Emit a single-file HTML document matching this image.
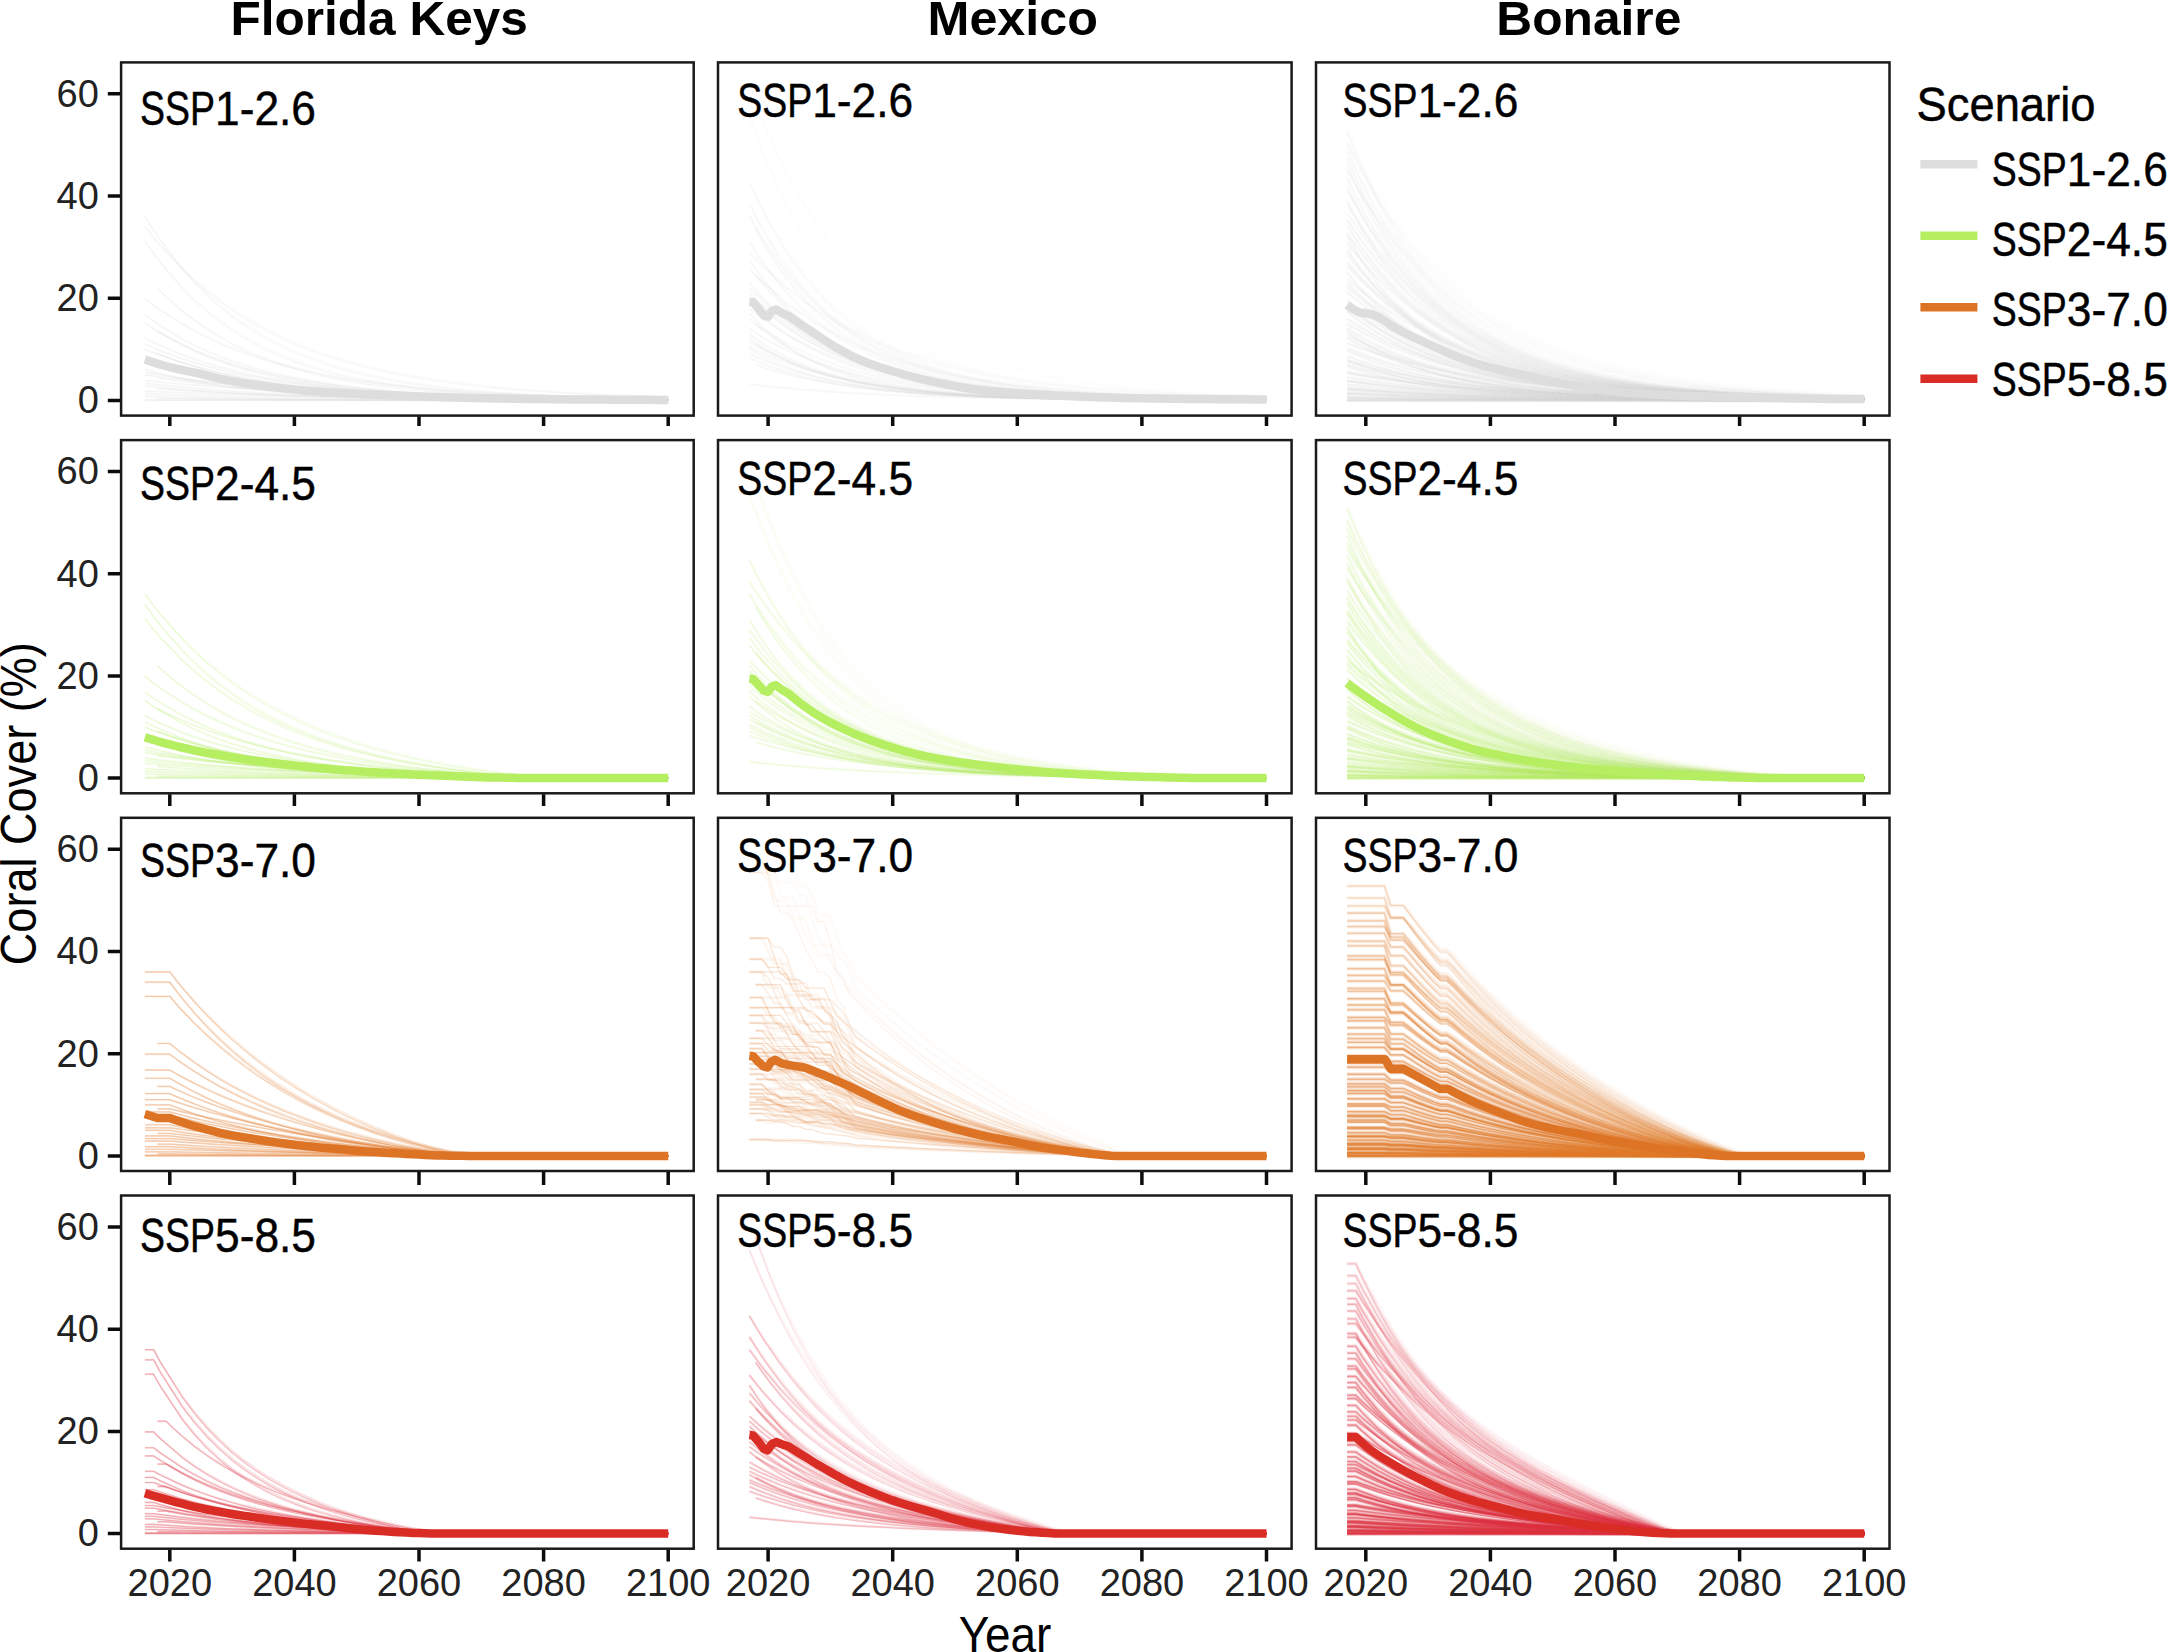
<!DOCTYPE html>
<html lang="en"><head><meta charset="utf-8"><title>Coral cover projections</title>
<style>html,body{margin:0;padding:0;background:#fff}svg{display:block}.t{fill:none;stroke-linejoin:round}.t path{vector-effect:non-scaling-stroke}</style></head>
<body>
<svg width="2168" height="1652" viewBox="0 0 2168 1652">
<title>Projected coral cover by scenario for Florida Keys, Mexico and Bonaire</title>
<desc>Panels: Florida Keys, Mexico, Bonaire. Scenario: SSP1-2.6, SSP2-4.5, SSP3-7.0, SSP5-8.5. Axes: Year, Coral Cover (%).</desc>
<rect width="2168" height="1652" fill="#fff"/>
<g class="t" transform="translate(169.8 400.4) scale(6.23 -5.11)" stroke="#d4d4d4"><g stroke-opacity=".09" stroke-width="2.0"><path d="M-4 36l1.4-2.65 1.1-1.95 3.5-5.47 2-2.69 2-2.41 2-2.16 2-1.93 2-1.74 2-1.55 2-1.4 2-1.25 2-1.12 2-1 2-.9 2-.81 2-.72 2-.65 3-.84 3-.72 3-.62 3-.51 3-.44 3-.38 3-.31 3-.27 3-.23 3-.19 3-.17 3-.14 3-.12 3-.1 3-.08 3-.07 2-.05"/><path d="M-4 34l1.4-2.1 1.1-1.56 3.5-4.47 2-2.25 2-2.05 2-1.88 2-1.71 2-1.57 2-1.43 2-1.3 2-1.19 2-1.09 2-.99 2-.91 2-.82 2-.76 2-.69 3-.92 3-.81 3-.7 3-.61 3-.54 3-.46 3-.41 3-.35 3-.31 3-.27 3-.24 3-.21 3-.17 3-.16 3-.14 3-.12 2-.07"/><path d="M-4 31.2l1.4-2.41 1.1-1.76 3.5-4.92 2-2.4 2-2.13 2-1.91 2-1.7 2-1.51 2-1.36 2-1.2 2-1.07 2-.96 2-.85 2-.76 2-.68 2-.61 2-.54 3-.7 3-.59 3-.5 3-.41 3-.36 3-.29 3-.25 3-.21 3-.18 3-.15 3-.12 3-.11 3-.09 3-.07 3-.07 3-.05 2-.03"/><path d="M-2 22l1.4-1.67 1.1-1.22 1.5-1.54 2-1.87 2-1.67 2-1.5 2-1.33 2-1.19 2-1.07 2-.95 2-.85 2-.76 2-.68 2-.6 2-.55 2-.48 2-.43 3-.57 3-.48 3-.4 3-.34 3-.29 3-.24 3-.2 3-.18 3-.14 3-.13 3-.1 3-.09 3-.07 3-.07 3-.05 3-.05 2-.02"/><path d="M-4 19.9l1.4-1.26 1.1-.94 3.5-2.68 2-1.34 2-1.23 2-1.11 2-1.02 2-.92 2-.84 2-.77 2-.7 2-.63 2-.58 2-.53 2-.47 2-.44 2-.4 3-.53 3-.46 3-.4 3-.35 3-.3 3-.26 3-.23 3-.2 3-.17 3-.15 3-.13 3-.11 3-.1 3-.09 3-.07 3-.06 2-.04"/><path d="M-4 16.8l1.4-1.24 1.1-.91 3.5-2.55 2-1.25 2-1.13 2-1 2-.91 2-.8 2-.73 2-.65 2-.58 2-.53 2-.47 2-.42 2-.37 2-.34 2-.3 3-.4 3-.33 3-.29 3-.24 3-.21 3-.17 3-.15 3-.13 3-.1 3-.09 3-.08 3-.06 3-.06 3-.05 3-.04 3-.03 2-.02"/><path d="M-4 15.2l1.4-1.15 1.1-.84 3.5-2.36 2-1.15 2-1.03 2-.92 2-.82 2-.74 2-.66 2-.58 2-.53 2-.47 2-.42 2-.37 2-.34 2-.3 2-.27 3-.35 3-.29 3-.25 3-.21 3-.18 3-.15 3-.13 3-.1 3-.1 3-.07 3-.07 3-.05 3-.05 3-.04 3-.03 3-.03 2-.01"/><path d="M-2 13.6l1.4-.97 1.1-.72 1.5-.91 2-1.1 2-1 2-.89 2-.81 2-.72 2-.65 2-.59 2-.53 2-.47 2-.43 2-.38 2-.34 2-.31 2-.28 3-.37 3-.31 3-.27 3-.23 3-.19 3-.17 3-.14 3-.12 3-.1 3-.09 3-.08 3-.06 3-.05 3-.05 3-.04 3-.03 2-.02"/><path d="M-4 12.2l1.4-.84 1.1-.62 3.5-1.75 2-.87 2-.79 2-.71 2-.64 2-.58 2-.52 2-.48 2-.42 2-.39 2-.35 2-.31 2-.28 2-.26 2-.23 3-.31 3-.26 3-.23 3-.19 3-.16 3-.15 3-.12 3-.1 3-.09 3-.08 3-.07 3-.06 3-.04 3-.05 3-.03 3-.03 2-.02"/><path d="M-4 11l1.4-.73 1.1-.54 3.5-1.53 2-.76 2-.69 2-.63 2-.57 2-.52 2-.47 2-.42 2-.39 2-.35 2-.31 2-.29 2-.26 2-.24 2-.21 3-.29 3-.24 3-.22 3-.18 3-.16 3-.13 3-.12 3-.1 3-.09 3-.08 3-.06 3-.06 3-.05 3-.04 3-.04 3-.03 2-.02"/><path d="M-4 10l1.4-.67 1.1-.5 3.5-1.41 2-.7 2-.64 2-.58 2-.52 2-.47 2-.43 2-.38 2-.35 2-.32 2-.29 2-.26 2-.23 2-.22 2-.19 3-.25 3-.22 3-.19 3-.17 3-.14 3-.12 3-.1 3-.09 3-.08 3-.07 3-.05 3-.05 3-.05 3-.03 3-.03 3-.03 2-.02"/><path d="M-2 9.2l1.4-.67 1.1-.48 1.5-.63 2-.75 2-.68 2-.61 2-.54 2-.5 2-.44 2-.39 2-.36 2-.32 2-.29 2-.26 2-.23 2-.21 2-.18 3-.25 3-.21 3-.18 3-.15 3-.13 3-.11 3-.09 3-.08 3-.07 3-.06 3-.05 3-.04 3-.04 3-.03 3-.02 3-.02 2-.02"/><path d="M-4 8.6l1.4-.6 1.1-.44 3.5-1.24 2-.62 2-.56 2-.5 2-.45 2-.41 2-.37 2-.33 2-.31 2-.27 2-.24 2-.22 2-.2 2-.18 2-.16 3-.22 3-.18 3-.16 3-.13 3-.12 3-.1 3-.08 3-.07 3-.07 3-.05 3-.05 3-.03 3-.04 3-.03 3-.02 3-.02 2-.02"/><path d="M-4 8l1.4-.54 1.1-.4 3.5-1.13 2-.57 2-.51 2-.46 2-.42 2-.38 2-.34 2-.31 2-.28 2-.25 2-.23 2-.21 2-.19 2-.17 2-.15 3-.2 3-.18 3-.15 3-.13 3-.11 3-.1 3-.08 3-.07 3-.06 3-.05 3-.05 3-.04 3-.03 3-.03 3-.03 3-.02 2-.01"/><path d="M-4 7.4l1.4-.52 1.1-.38 3.5-1.08 2-.53 2-.48 2-.44 2-.39 2-.35 2-.32 2-.29 2-.26 2-.23 2-.21 2-.19 2-.17 2-.15 2-.14 3-.18 3-.16 3-.13 3-.12 3-.1 3-.08 3-.07 3-.06 3-.06 3-.04 3-.04 3-.03 3-.03 3-.03 3-.02 3-.01 2-.02"/><path d="M-2 6.8l1.4-.49 1.1-.37 1.5-.46 2-.55 2-.51 2-.45 2-.4 2-.37 2-.32 2-.3 2-.26 2-.24 2-.21 2-.19 2-.17 2-.15 2-.14 3-.18 3-.16 3-.13 3-.11 3-.1 3-.08 3-.07 3-.05 3-.05 3-.05 3-.03 3-.03 3-.03 3-.02 3-.02 3-.02 2-.01"/><path d="M-4 6.1l1.4-.49 1.1-.35 3.5-.99 2-.48 2-.42 2-.38 2-.34 2-.29 2-.27 2-.23 2-.21 2-.19 2-.16 2-.15 2-.12 2-.12 2-.1 3-.13 3-.11 3-.1 3-.07 3-.07 3-.05 3-.05 3-.04 3-.03 3-.02 3-.03 3-.01 3-.02 3-.01 3-.01 3-.01 2-.01"/><path d="M-4 5.5l1.4-.29 1.1-.22 3.5-.64 2-.33 2-.31 2-.28 2-.26 2-.24 2-.22 2-.2 2-.19 2-.18 2-.16 2-.15 2-.14 2-.12 2-.12 3-.16 3-.15 3-.12 3-.12 3-.1 3-.09 3-.08 3-.07 3-.06 3-.05 3-.05 3-.05 3-.04 3-.03 3-.03 3-.03 2-.02"/><path d="M-4 5l1.4-.23 1.1-.18 3.5-.51 2-.27 2-.25 2-.23 2-.22 2-.2 2-.19 2-.18 2-.17 2-.15 2-.15 2-.13 2-.13 2-.12 2-.11 3-.15 3-.14 3-.12 3-.12 3-.1 3-.09 3-.08 3-.08 3-.07 3-.06 3-.05 3-.05 3-.05 3-.04 3-.04 3-.03 2-.02"/><path d="M-2 4.4l1.4-.25 1.1-.18 1.5-.24 2-.3 2-.27 2-.26 2-.23 2-.21 2-.2 2-.18 2-.16 2-.16 2-.14 2-.13 2-.11 2-.11 2-.1 3-.14 3-.12 3-.11 3-.09 3-.09 3-.07 3-.06 3-.06 3-.05 3-.04 3-.04 3-.04 3-.03 3-.03 3-.02 3-.02 2-.01"/><path d="M-4 3.9l1.4-.17 1.1-.14 3.5-.39 2-.2 2-.19 2-.18 2-.17 2-.15 2-.15 2-.14 2-.12 2-.12 2-.12 2-.1 2-.1 2-.09 2-.09 3-.12 3-.11 3-.1 3-.09 3-.08 3-.07 3-.07 3-.06 3-.05 3-.05 3-.05 3-.04 3-.03 3-.04 3-.03 3-.02 2-.02"/><path d="M-4 3.4l1.4-.2 1.1-.16 3.5-.43 2-.22 2-.21 2-.18 2-.17 2-.15 2-.15 2-.13 2-.12 2-.1 2-.1 2-.09 2-.09 2-.07 2-.07 3-.1 3-.08 3-.07 3-.07 3-.05 3-.05 3-.04 3-.04 3-.03 3-.03 3-.02 3-.03 3-.02 3-.01 3-.02 3-.01 2-.01"/><path d="M-4 2.9l1.4-.19 1.1-.13 3.5-.4 2-.2 2-.18 2-.16 2-.15 2-.13 2-.13 2-.11 2-.1 2-.09 2-.09 2-.07 2-.07 2-.07 2-.05 3-.08 3-.07 3-.05 3-.05 3-.05 3-.03 3-.04 3-.03 3-.02 3-.02 3-.02 3-.02 3-.01 3-.01 3-.01 3-.01 2-.01"/><path d="M-2 2.3l1.4-.13 1.1-.09 1.5-.13 2-.15 2-.14 2-.14 2-.12 2-.11 2-.1 2-.09 2-.09 2-.08 2-.07 2-.07 2-.06 2-.06 2-.05 3-.07 3-.07 3-.05 3-.05 3-.05 3-.04 3-.03 3-.03 3-.03 3-.02 3-.02 3-.02 3-.02 3-.01 3-.01 3-.01 2-.01"/><path d="M-4 1.8l1.4-.08 1.1-.06 3.5-.18 2-.1 2-.08 2-.09 2-.07 2-.08 2-.06 2-.07 2-.06 2-.05 2-.05 2-.05 2-.05 2-.04 2-.04 3-.06 3-.05 3-.04 3-.04 3-.04 3-.03 3-.03 3-.03 3-.03 3-.02 3-.02 3-.02 3-.02 3-.01 3-.02 3-.01 2-.01"/><path d="M-4 1.3l1.4-.07 1.1-.06 3.5-.16 2-.08 2-.07 2-.07 2-.06 2-.06 2-.05 2-.05 2-.05 2-.04 2-.04 2-.03 2-.04 2-.02 2-.03 3-.04 3-.03 3-.03 3-.03 3-.02 3-.02 3-.02 3-.01 3-.02 3-.01 3-.01 3-.01 3-.01h3l3-.01 3-.01h2"/><path d="M-4 .8l1.4-.05 1.1-.05 3.5-.11 2-.06 2-.05 2-.05 2-.04 2-.03 2-.04 2-.03 2-.03 2-.02 2-.03 2-.02 2-.02 2-.01 2-.02 3-.02 3-.02 3-.01 3-.01 3-.01 3-.01 3-.01 3-.01h3l3-.01h3l3-.01h3h3l3-.01h3h2"/><path d="M-2 .4l1.4-.02 1.1-.01 1.5-.02 2-.03 2-.02 2-.02 2-.02 2-.02 2-.02 2-.01 2-.02 2-.01 2-.01 2-.01 2-.01 2-.01 2-.01 3-.02 3-.01 3-.01 3-.01 3-.01h3l3-.01 3-.01h3l3-.01h3l3-.01h3h3l3-.01h3h2"/><path d="M-4 .15l1.4-.01 1.1-.01 3.5-.01 2-.01 2-.01 2-.01 2-.01h2l2-.01 2-.01h2l2-.01h2h2l2-.01h2h2l3-.01h3l3-.01h3h3h3l3-.01h3h3h3h3h3h3h3h3l3-.01h2"/><path d="M-4 0h84"/></g><g stroke-opacity=".17" stroke-width="1.2"><path d="M-4 36l1.4-2.73 1.1-2 3.5-5.61 2-2.73 2-2.45 2-2.18 2-1.96 2-1.74 2-1.56 2-1.39 2-1.24 2-1.11 2-.99 2-.89 2-.79 2-.71 2-.63 3-.82 3-.7 3-.59 3-.49 3-.42 3-.35 3-.3 3-.25 3-.22 3-.18 3-.15 3-.13 3-.1 3-.09 3-.08 3-.07 2-.03"/><path d="M-4 34l1.4-2.16 1.1-1.6 3.5-4.58 2-2.3 2-2.1 2-1.9 2-1.74 2-1.57 2-1.44 2-1.31 2-1.19 2-1.09 2-.98 2-.9 2-.82 2-.75 2-.68 3-.9 3-.79 3-.68 3-.59 3-.52 3-.45 3-.39 3-.33 3-.3 3-.25 3-.22 3-.2 3-.16 3-.15 3-.13 3-.11 2-.06"/><path d="M-4 31.2l1.4-2.48 1.1-1.81 3.5-5.03 2-2.45 2-2.16 2-1.93 2-1.71 2-1.52 2-1.35 2-1.21 2-1.06 2-.95 2-.84 2-.75 2-.66 2-.59 2-.53 3-.68 3-.56 3-.48 3-.4 3-.33 3-.28 3-.24 3-.19 3-.17 3-.13 3-.12 3-.09 3-.08 3-.07 3-.06 3-.05 2-.02"/><path d="M-2 22l1.4-1.72 1.1-1.25 1.5-1.58 2-1.92 2-1.7 2-1.51 2-1.35 2-1.2 2-1.07 2-.95 2-.85 2-.76 2-.67 2-.6 2-.53 2-.48 2-.42 3-.55 3-.46 3-.39 3-.33 3-.27 3-.23 3-.19 3-.16 3-.14 3-.12 3-.09 3-.08 3-.07 3-.06 3-.05 3-.04 2-.02"/><path d="M-4 19.9l1.4-1.3 1.1-.97 3.5-2.74 2-1.37 2-1.25 2-1.13 2-1.02 2-.94 2-.84 2-.77 2-.7 2-.63 2-.58 2-.52 2-.47 2-.43 2-.39 3-.52 3-.45 3-.39 3-.34 3-.29 3-.25 3-.22 3-.18 3-.17 3-.14 3-.12 3-.1 3-.1 3-.07 3-.07 3-.06 2-.04"/><path d="M-4 16.8l1.4-1.27 1.1-.94 3.5-2.61 2-1.28 2-1.14 2-1.02 2-.91 2-.81 2-.73 2-.65 2-.58 2-.52 2-.46 2-.41 2-.37 2-.33 2-.3 3-.38 3-.33 3-.27 3-.23 3-.2 3-.16 3-.14 3-.12 3-.1 3-.08 3-.08 3-.06 3-.05 3-.04 3-.03 3-.03 2-.02"/><path d="M-4 15.2l1.4-1.18 1.1-.87 3.5-2.41 2-1.17 2-1.05 2-.93 2-.83 2-.74 2-.66 2-.58 2-.53 2-.46 2-.41 2-.37 2-.33 2-.3 2-.26 3-.33 3-.29 3-.24 3-.2 3-.17 3-.14 3-.12 3-.1 3-.08 3-.08 3-.06 3-.05 3-.04 3-.03 3-.03 3-.03 2-.01"/><path d="M-2 13.6l1.4-1 1.1-.74 1.5-.93 2-1.13 2-1.01 2-.91 2-.82 2-.73 2-.65 2-.59 2-.53 2-.47 2-.42 2-.38 2-.34 2-.31 2-.27 3-.36 3-.3 3-.26 3-.22 3-.19 3-.15 3-.14 3-.11 3-.1 3-.08 3-.07 3-.06 3-.05 3-.04 3-.04 3-.03 2-.02"/><path d="M-4 12.2l1.4-.86 1.1-.64 3.5-1.8 2-.88 2-.8 2-.72 2-.65 2-.58 2-.53 2-.47 2-.43 2-.38 2-.35 2-.31 2-.28 2-.25 2-.22 3-.3 3-.26 3-.21 3-.19 3-.16 3-.13 3-.12 3-.1 3-.08 3-.08 3-.06 3-.05 3-.05 3-.03 3-.04 3-.03 2-.01"/><path d="M-4 11l1.4-.75 1.1-.55 3.5-1.57 2-.78 2-.7 2-.64 2-.58 2-.52 2-.47 2-.43 2-.38 2-.35 2-.31 2-.29 2-.25 2-.24 2-.21 3-.28 3-.23 3-.21 3-.18 3-.15 3-.13 3-.11 3-.1 3-.08 3-.07 3-.06 3-.06 3-.04 3-.04 3-.03 3-.03 2-.02"/><path d="M-4 10l1.4-.69 1.1-.51 3.5-1.45 2-.72 2-.64 2-.59 2-.52 2-.48 2-.43 2-.39 2-.35 2-.31 2-.29 2-.25 2-.23 2-.21 2-.19 3-.25 3-.22 3-.18 3-.16 3-.13 3-.12 3-.09 3-.09 3-.07 3-.07 3-.05 3-.04 3-.04 3-.04 3-.03 3-.02 2-.02"/><path d="M-2 9.2l1.4-.68 1.1-.51 1.5-.63 2-.78 2-.69 2-.62 2-.55 2-.5 2-.44 2-.4 2-.35 2-.32 2-.29 2-.25 2-.23 2-.21 2-.18 3-.24 3-.2 3-.18 3-.14 3-.12 3-.11 3-.09 3-.07 3-.07 3-.05 3-.05 3-.04 3-.03 3-.03 3-.02 3-.02 2-.01"/><path d="M-4 8.6l1.4-.62 1.1-.45 3.5-1.27 2-.63 2-.57 2-.51 2-.46 2-.41 2-.37 2-.33 2-.3 2-.27 2-.24 2-.22 2-.2 2-.17 2-.16 3-.21 3-.18 3-.15 3-.13 3-.11 3-.09 3-.08 3-.07 3-.06 3-.05 3-.04 3-.04 3-.03 3-.03 3-.02 3-.02 2-.01"/><path d="M-4 8l1.4-.56 1.1-.41 3.5-1.16 2-.57 2-.52 2-.47 2-.42 2-.39 2-.34 2-.31 2-.28 2-.25 2-.23 2-.2 2-.19 2-.16 2-.16 3-.19 3-.17 3-.15 3-.12 3-.11 3-.09 3-.08 3-.07 3-.06 3-.05 3-.04 3-.03 3-.03 3-.03 3-.02 3-.02 2-.01"/><path d="M-4 7.4l1.4-.53 1.1-.4 3.5-1.1 2-.55 2-.48 2-.44 2-.4 2-.35 2-.32 2-.29 2-.26 2-.23 2-.21 2-.18 2-.17 2-.15 2-.14 3-.18 3-.15 3-.13 3-.11 3-.09 3-.08 3-.07 3-.06 3-.05 3-.04 3-.03 3-.03 3-.03 3-.02 3-.02 3-.02 2-.01"/><path d="M-2 6.8l1.4-.51 1.1-.37 1.5-.47 2-.57 2-.52 2-.45 2-.41 2-.37 2-.33 2-.29 2-.27 2-.23 2-.21 2-.19 2-.17 2-.15 2-.14 3-.17 3-.15 3-.13 3-.11 3-.09 3-.07 3-.07 3-.05 3-.05 3-.04 3-.03 3-.03 3-.03 3-.02 3-.01 3-.02 2-.01"/><path d="M-4 6.1l1.4-.5 1.1-.37 3.5-1.01 2-.48 2-.43 2-.39 2-.33 2-.3 2-.27 2-.23 2-.21 2-.18 2-.16 2-.14 2-.13 2-.11 2-.1 3-.13 3-.1 3-.09 3-.08 3-.06 3-.05 3-.04 3-.04 3-.02 3-.03 3-.02 3-.02 3-.01 3-.01 3-.01 3-.01h2"/><path d="M-4 5.5l1.4-.3 1.1-.23 3.5-.66 2-.33 2-.31 2-.29 2-.26 2-.24 2-.23 2-.2 2-.19 2-.18 2-.16 2-.15 2-.14 2-.12 2-.12 3-.16 3-.14 3-.13 3-.11 3-.09 3-.09 3-.08 3-.06 3-.06 3-.06 3-.04 3-.05 3-.03 3-.04 3-.03 3-.02 2-.02"/><path d="M-4 5l1.4-.24 1.1-.18 3.5-.52 2-.28 2-.25 2-.24 2-.22 2-.21 2-.19 2-.18 2-.17 2-.16 2-.14 2-.14 2-.13 2-.11 2-.11 3-.16 3-.13 3-.13 3-.11 3-.1 3-.09 3-.08 3-.07 3-.07 3-.05 3-.06 3-.05 3-.04 3-.04 3-.03 3-.03 2-.02"/><path d="M-2 4.4l1.4-.26 1.1-.19 1.5-.24 2-.31 2-.28 2-.25 2-.24 2-.21 2-.2 2-.18 2-.17 2-.15 2-.15 2-.12 2-.12 2-.11 2-.1 3-.14 3-.12 3-.1 3-.09 3-.08 3-.07 3-.06 3-.06 3-.05 3-.04 3-.04 3-.03 3-.03 3-.02 3-.03 3-.02 2-.01"/><path d="M-4 3.9l1.4-.18 1.1-.14 3.5-.4 2-.2 2-.2 2-.18 2-.17 2-.16 2-.15 2-.14 2-.13 2-.12 2-.11 2-.11 2-.1 2-.09 2-.08 3-.12 3-.11 3-.1 3-.09 3-.08 3-.07 3-.06 3-.06 3-.05 3-.05 3-.04 3-.04 3-.04 3-.03 3-.03 3-.03 2-.01"/><path d="M-4 3.4l1.4-.21 1.1-.16 3.5-.44 2-.23 2-.21 2-.18 2-.17 2-.16 2-.14 2-.13 2-.12 2-.11 2-.1 2-.09 2-.08 2-.08 2-.07 3-.09 3-.08 3-.07 3-.06 3-.06 3-.04 3-.04 3-.04 3-.03 3-.03 3-.02 3-.02 3-.02 3-.01 3-.02 3-.01 2-.01"/><path d="M-4 2.9l1.4-.19 1.1-.14 3.5-.41 2-.2 2-.18 2-.17 2-.15 2-.14 2-.12 2-.11 2-.1 2-.09 2-.09 2-.07 2-.07 2-.07 2-.05 3-.08 3-.06 3-.06 3-.05 3-.04 3-.03 3-.03 3-.03 3-.02 3-.02 3-.02 3-.02 3-.01 3-.01 3-.01 3-.01h2"/><path d="M-2 2.3l1.4-.13 1.1-.1 1.5-.13 2-.16 2-.14 2-.13 2-.13 2-.11 2-.1 2-.1 2-.08 2-.08 2-.08 2-.07 2-.06 2-.06 2-.05 3-.07 3-.06 3-.06 3-.04 3-.05 3-.03 3-.04 3-.03 3-.02 3-.02 3-.02 3-.02 3-.02 3-.01 3-.01 3-.01 2-.01"/><path d="M-4 1.8l1.4-.08 1.1-.07 3.5-.18 2-.1 2-.09 2-.08 2-.08 2-.07 2-.07 2-.07 2-.06 2-.05 2-.05 2-.05 2-.05 2-.04 2-.04 3-.06 3-.05 3-.04 3-.04 3-.04 3-.03 3-.03 3-.03 3-.02 3-.02 3-.02 3-.02 3-.02 3-.01 3-.02 3-.01 2-.01"/><path d="M-4 1.3l1.4-.08 1.1-.05 3.5-.16 2-.09 2-.07 2-.07 2-.07 2-.05 2-.06 2-.05 2-.04 2-.04 2-.04 2-.04 2-.03 2-.03 2-.03 3-.03 3-.03 3-.03 3-.03 3-.02 3-.02 3-.02 3-.01 3-.01 3-.02 3-.01h3l3-.01 3-.01 3-.01h3h2"/><path d="M-4 .8l1.4-.06 1.1-.04 3.5-.12 2-.05 2-.06 2-.04 2-.05 2-.03 2-.04 2-.03 2-.03 2-.02 2-.02 2-.03 2-.01 2-.02 2-.02 3-.01 3-.02 3-.02 3-.01 3-.01 3-.01 3-.01h3l3-.01h3l3-.01h3h3l3-.01h3h3h2"/><path d="M-2 .4l1.4-.02 1.1-.02 1.5-.02 2-.02 2-.02 2-.02 2-.02 2-.02 2-.02 2-.02 2-.01 2-.01 2-.02 2-.01 2-.01 2-.01 2-.01 3-.01 3-.01 3-.01 3-.01 3-.01 3-.01h3l3-.01 3-.01h3h3l3-.01h3h3l3-.01h3h2"/><path d="M-4 .15l1.4-.01 1.1-.01 3.5-.01 2-.01 2-.01 2-.01 2-.01 2-.01h2l2-.01h2l2-.01h2l2-.01h2h2l2-.01h3h3l3-.01h3h3h3l3-.01h3h3h3h3h3h3h3l3-.01h3h2"/><path d="M-4 0h84"/></g></g>
<path d="M144.9 359.5L151.1 361.6L157.3 363.6L163.6 365.5L169.8 367.2L176 368.7L182.3 370L188.5 371.3L194.7 372.6L201 374L207.2 375.5L213.4 377.1L219.6 378.6L225.9 380L232.1 381.1L238.3 382.2L244.6 383.2L250.8 384.1L257 385L263.2 385.8L269.5 386.7L275.7 387.5L281.9 388.2L288.2 388.9L294.4 389.6L300.6 390.2L306.9 390.7L313.1 391.2L319.3 391.6L325.6 392L331.8 392.4L338 392.8L344.2 393.2L350.5 393.5L356.7 393.8L362.9 394.2L369.2 394.5L375.4 394.7L381.6 395L387.9 395.3L394.1 395.5L400.3 395.8L406.5 396L412.8 396.3L419 396.5L425.2 396.7L431.5 396.9L437.7 397.1L443.9 397.3L450.2 397.4L456.4 397.6L462.6 397.7L468.8 397.9L475.1 398L481.3 398.2L487.5 398.3L493.8 398.4L500 398.5L506.2 398.6L512.5 398.7L518.7 398.8L524.9 398.9L531.1 399L537.4 399.1L543.6 399.1L549.8 399.2L556.1 399.3L562.3 399.3L568.5 399.4L574.8 399.4L581 399.5L587.2 399.5L593.4 399.6L599.7 399.6L605.9 399.6L612.1 399.7L618.4 399.7L624.6 399.7L630.8 399.8L637.1 399.8L643.3 399.8L649.5 399.8L655.7 399.9L662 399.9L668.2 399.9" fill="none" stroke="#dddddd" stroke-width="8.5" stroke-linejoin="round"/>
<g class="t" transform="translate(768.1 400.4) scale(6.23 -5.11)" stroke="#d4d4d4"><g stroke-opacity=".02" stroke-width="3.0"><path d="M-2 58l1.4-4.05 1.1-2.98 1.5-3.8 2-4.63 2-4.18 2-3.77 2-3.39 2-3.07 2-2.76 2-2.49 2-2.25 2-2.02 2-1.83 2-1.65 2-1.48 2-1.34 2-1.21 3-1.6 3-1.36 3-1.17 3-1 3-.86 3-.73 3-.63 3-.54 3-.46 3-.39 3-.34 3-.29 3-.25 3-.21 3-.19 3-.15 2-.09"/><path d="M-3 55.5l1.4-4.55 1.1-3.32 2.5-6.75 2-4.71 2-4.16 2-3.69 2-3.26 2-2.88 2-2.56 2-2.26 2-2 2-1.77 2-1.56 2-1.39 2-1.22 2-1.09 2-.96 3-1.23 3-1.03 3-.86 3-.71 3-.59 3-.5 3-.41 3-.34 3-.29 3-.23 3-.2 3-.16 3-.14 3-.11 3-.1 3-.08 2-.04"/></g><g stroke-opacity=".03" stroke-width="2.0"><path d="M-2 58l1.4-4.17 1.1-3.07 1.5-3.9 2-4.74 2-4.26 2-3.83 2-3.44 2-3.1 2-2.78 2-2.5 2-2.25 2-2.02 2-1.81 2-1.63 2-1.47 2-1.32 2-1.18 3-1.56 3-1.32 3-1.13 3-.97 3-.82 3-.7 3-.59 3-.51 3-.43 3-.37 3-.32 3-.27 3-.22 3-.2 3-.16 3-.15 2-.08"/><path d="M-3 55.5l1.4-4.69 1.1-3.41 2.5-6.92 2-4.8 2-4.23 2-3.73 2-3.29 2-2.89 2-2.56 2-2.25 2-1.98 2-1.75 2-1.54 2-1.36 2-1.2 2-1.05 2-.94 3-1.19 3-.98 3-.82 3-.68 3-.56 3-.46 3-.38 3-.32 3-.26 3-.22 3-.18 3-.15 3-.12 3-.1 3-.09 3-.07 2-.04"/></g><g stroke-opacity=".03" stroke-width="3.0"><path d="M-3 42.6l1.4-3.49 1.1-2.55 2.5-5.18 2-3.61 2-3.2 2-2.82 2-2.51 2-2.21 2-1.96 2-1.74 2-1.53 2-1.36 2-1.2 2-1.06 2-.94 2-.84 2-.73 3-.95 3-.79 3-.66 3-.55 3-.46 3-.37 3-.32 3-.26 3-.22 3-.18 3-.16 3-.12 3-.11 3-.09 3-.07 3-.06 2-.03"/><path d="M-3 38.5l1.4-3.23 1.1-2.35 2.5-4.77 2-3.32 2-2.92 2-2.58 2-2.28 2-2.01 2-1.77 2-1.56 2-1.38 2-1.22 2-1.07 2-.95 2-.83 2-.74 2-.65 3-.83 3-.7 3-.57 3-.47 3-.4 3-.32 3-.27 3-.23 3-.18 3-.16 3-.12 3-.11 3-.09 3-.07 3-.06 3-.05 2-.03"/><path d="M-3 36l1.4-2.82 1.1-2.06 2.5-4.22 2-2.95 2-2.64 2-2.34 2-2.09 2-1.85 2-1.66 2-1.47 2-1.31 2-1.16 2-1.04 2-.92 2-.82 2-.73 2-.65 3-.85 3-.71 3-.59 3-.5 3-.42 3-.35 3-.3 3-.25 3-.21 3-.17 3-.15 3-.12 3-.11 3-.08 3-.08 3-.06 2-.03"/><path d="M-2 33.5l1.4-2.9 1.1-2.11 1.5-2.64 2-3.14 2-2.76 2-2.42 2-2.13 2-1.87 2-1.65 2-1.44 2-1.27 2-1.11 2-.98 2-.86 2-.76 2-.66 2-.59 3-.74 3-.61 3-.51 3-.41 3-.35 3-.28 3-.23 3-.19 3-.16 3-.13 3-.1 3-.09 3-.07 3-.06 3-.05 3-.04 2-.02"/><path d="M-3 31l1.4-2.56 1.1-1.87 2.5-3.79 2-2.64 2-2.34 2-2.06 2-1.83 2-1.61 2-1.42 2-1.27 2-1.11 2-.99 2-.87 2-.77 2-.68 2-.6 2-.53 3-.69 3-.57 3-.47 3-.39 3-.33 3-.27 3-.23 3-.19 3-.15 3-.13 3-.11 3-.09 3-.07 3-.06 3-.06 3-.04 2-.02"/><path d="M-3 29l1.4-1.73 1.1-1.28 2.5-2.7 2-1.95 2-1.79 2-1.64 2-1.5 2-1.38 2-1.26 2-1.16 2-1.05 2-.97 2-.89 2-.82 2-.74 2-.68 2-.63 3-.84 3-.74 3-.65 3-.56 3-.5 3-.44 3-.38 3-.33 3-.3 3-.26 3-.22 3-.2 3-.17 3-.16 3-.13 3-.12 2-.07"/><path d="M-3 27.5l1.4-2.39 1.1-1.74 2.5-3.51 2-2.42 2-2.13 2-1.87 2-1.64 2-1.44 2-1.26 2-1.11 2-.98 2-.85 2-.76 2-.66 2-.57 2-.51 2-.45 3-.57 3-.47 3-.38 3-.32 3-.26 3-.21 3-.18 3-.15 3-.12 3-.09 3-.09 3-.06 3-.06 3-.04 3-.04 3-.03 2-.02"/><path d="M-3 26l1.4-2.11 1.1-1.54 2.5-3.13 2-2.19 2-1.94 2-1.72 2-1.52 2-1.35 2-1.2 2-1.06 2-.94 2-.83 2-.73 2-.66 2-.58 2-.51 2-.45 3-.59 3-.49 3-.41 3-.34 3-.28 3-.24 3-.2 3-.16 3-.14 3-.11 3-.1 3-.08 3-.07 3-.05 3-.05 3-.04 2-.02"/><path d="M-2 24.5l1.4-1.6 1.1-1.18 1.5-1.52 2-1.85 2-1.69 2-1.53 2-1.39 2-1.26 2-1.15 2-1.04 2-.94 2-.86 2-.78 2-.71 2-.64 2-.59 2-.53 3-.7 3-.61 3-.53 3-.46 3-.4 3-.34 3-.29 3-.26 3-.22 3-.19 3-.17 3-.15 3-.12 3-.11 3-.09 3-.08 2-.05"/><path d="M-3 23l1.4-1.91 1.1-1.38 2.5-2.83 2-1.96 2-1.74 2-1.53 2-1.36 2-1.19 2-1.06 2-.94 2-.82 2-.73 2-.65 2-.57 2-.5 2-.45 2-.39 3-.51 3-.42 3-.35 3-.29 3-.24 3-.2 3-.16 3-.14 3-.12 3-.09 3-.08 3-.07 3-.05 3-.05 3-.04 3-.03 2-.01"/><path d="M-3 22l1.4-1.61 1.1-1.19 2.5-2.44 2-1.73 2-1.55 2-1.39 2-1.24 2-1.12 2-1 2-.9 2-.81 2-.72 2-.65 2-.59 2-.52 2-.47 2-.42 3-.55 3-.46 3-.4 3-.34 3-.28 3-.25 3-.2 3-.18 3-.15 3-.13 3-.1 3-.09 3-.08 3-.07 3-.05 3-.05 2-.03"/><path d="M-3 21l1.4-1.53 1.1-1.12 2.5-2.32 2-1.64 2-1.48 2-1.32 2-1.19 2-1.06 2-.96 2-.86 2-.77 2-.69 2-.62 2-.56 2-.5 2-.45 2-.4 3-.53 3-.45 3-.38 3-.32 3-.28 3-.24 3-.19 3-.17 3-.15 3-.12 3-.11 3-.09 3-.07 3-.07 3-.05 3-.05 2-.02"/><path d="M-3 20.2l1.4-1.52 1.1-1.12 2.5-2.3 2-1.61 2-1.45 2-1.29 2-1.16 2-1.03 2-.93 2-.82 2-.74 2-.66 2-.59 2-.53 2-.47 2-.42 2-.38 3-.49 3-.42 3-.35 3-.3 3-.25 3-.21 3-.18 3-.15 3-.13 3-.11 3-.09 3-.08 3-.06 3-.06 3-.04 3-.04 2-.03"/><path d="M-2 19.5l1.4-1.52 1.1-1.11 1.5-1.4 2-1.7 2-1.5 2-1.35 2-1.19 2-1.07 2-.94 2-.85 2-.75 2-.67 2-.6 2-.53 2-.47 2-.42 2-.38 3-.48 3-.41 3-.35 3-.29 3-.24 3-.2 3-.18 3-.14 3-.12 3-.1 3-.09 3-.07 3-.06 3-.05 3-.04 3-.04 2-.02"/><path d="M-3 18.8l1.4-1.5 1.1-1.09 2.5-2.24 2-1.56 2-1.39 2-1.23 2-1.1 2-.97 2-.87 2-.76 2-.68 2-.61 2-.54 2-.47 2-.43 2-.37 2-.34 3-.43 3-.36 3-.31 3-.25 3-.21 3-.18 3-.15 3-.12 3-.11 3-.08 3-.08 3-.06 3-.05 3-.04 3-.04 3-.03 2-.01"/><path d="M-3 18l1.4-1.3 1.1-.95 2.5-1.97 2-1.4 2-1.26 2-1.12 2-1.02 2-.91 2-.82 2-.73 2-.66 2-.6 2-.53 2-.48 2-.43 2-.39 2-.35 3-.45 3-.39 3-.34 3-.28 3-.24 3-.2 3-.18 3-.15 3-.12 3-.11 3-.09 3-.08 3-.07 3-.05 3-.05 3-.04 2-.03"/><path d="M-3 17l1.4-1.71 1.1-1.22 2.5-2.42 2-1.63 2-1.41 2-1.21 2-1.03 2-.9 2-.76 2-.66 2-.57 2-.49 2-.42 2-.36 2-.31 2-.27 2-.23 3-.28 3-.23 3-.18 3-.14 3-.12 3-.09 3-.07 3-.06 3-.05 3-.03 3-.03 3-.03 3-.02 3-.01 3-.01 3-.01 2-.01"/><path d="M-3 16l1.4-1.45 1.1-1.05 2.5-2.11 2-1.45 2-1.26 2-1.1 2-.97 2-.84 2-.73 2-.64 2-.56 2-.49 2-.42 2-.37 2-.33 2-.28 2-.25 3-.31 3-.26 3-.21 3-.17 3-.14 3-.11 3-.09 3-.08 3-.06 3-.05 3-.04 3-.03 3-.03 3-.02 3-.02 3-.01 2-.01"/><path d="M-2 15l1.4-1.15 1.1-.85 1.5-1.07 2-1.29 2-1.15 2-1.02 2-.92 2-.81 2-.73 2-.65 2-.58 2-.52 2-.46 2-.41 2-.36 2-.33 2-.29 3-.38 3-.32 3-.27 3-.23 3-.19 3-.16 3-.14 3-.11 3-.1 3-.08 3-.07 3-.05 3-.05 3-.04 3-.04 3-.03 2-.01"/><path d="M-3 14l1.4-1.07 1.1-.78 2.5-1.6 2-1.13 2-1.01 2-.9 2-.81 2-.72 2-.64 2-.57 2-.51 2-.46 2-.41 2-.36 2-.32 2-.29 2-.26 3-.34 3-.28 3-.24 3-.21 3-.17 3-.14 3-.12 3-.11 3-.08 3-.08 3-.06 3-.05 3-.04 3-.04 3-.03 3-.03 2-.01"/><path d="M-3 13l1.4-1.2 1.1-.86 2.5-1.73 2-1.19 2-1.03 2-.9 2-.79 2-.68 2-.6 2-.51 2-.46 2-.39 2-.34 2-.3 2-.26 2-.23 2-.2 3-.25 3-.2 3-.16 3-.14 3-.11 3-.08 3-.08 3-.06 3-.04 3-.04 3-.03 3-.03 3-.02 3-.02 3-.01 3-.01 2-.01"/><path d="M-3 12.2l1.4-1.14 1.1-.82 2.5-1.64 2-1.13 2-.97 2-.85 2-.74 2-.64 2-.56 2-.48 2-.43 2-.36 2-.32 2-.28 2-.24 2-.21 2-.18 3-.23 3-.18 3-.16 3-.12 3-.1 3-.08 3-.06 3-.05 3-.05 3-.03 3-.03 3-.02 3-.02 3-.02 3-.01 3-.01h2"/><path d="M-3 11.5l1.4-1 1.1-.72 2.5-1.47 2-1.01 2-.89 2-.78 2-.69 2-.6 2-.53 2-.46 2-.41 2-.36 2-.31 2-.28 2-.24 2-.21 2-.19 3-.24 3-.2 3-.16 3-.13 3-.11 3-.09 3-.08 3-.06 3-.05 3-.04 3-.03 3-.03 3-.02 3-.02 3-.02 3-.01 2-.01"/><path d="M-2 11l1.4-.95 1.1-.69 1.5-.86 2-1.03 2-.91 2-.79 2-.7 2-.61 2-.54 2-.48 2-.41 2-.37 2-.32 2-.29 2-.24 2-.22 2-.19 3-.25 3-.2 3-.17 3-.14 3-.11 3-.09 3-.08 3-.06 3-.06 3-.04 3-.03 3-.03 3-.03 3-.02 3-.01 3-.02h2"/><path d="M-3 10.5l1.4-.83 1.1-.6 2.5-1.24 2-.87 2-.77 2-.69 2-.61 2-.54 2-.48 2-.43 2-.38 2-.34 2-.3 2-.27 2-.24 2-.21 2-.19 3-.24 3-.21 3-.17 3-.14 3-.12 3-.1 3-.09 3-.07 3-.06 3-.05 3-.04 3-.04 3-.03 3-.02 3-.02 3-.02 2-.01"/><path d="M-3 10l1.4-.91 1.1-.65 2.5-1.32 2-.9 2-.79 2-.69 2-.6 2-.53 2-.45 2-.4 2-.35 2-.31 2-.27 2-.23 2-.2 2-.18 2-.15 3-.2 3-.16 3-.13 3-.11 3-.08 3-.08 3-.05 3-.05 3-.04 3-.03 3-.03 3-.02 3-.01 3-.02 3-.01 3-.01h2"/><path d="M-3 9.2l1.4-.79 1.1-.57 2.5-1.15 2-.8 2-.71 2-.62 2-.54 2-.48 2-.43 2-.37 2-.33 2-.29 2-.25 2-.22 2-.2 2-.17 2-.16 3-.19 3-.16 3-.14 3-.11 3-.09 3-.07 3-.07 3-.05 3-.04 3-.03 3-.03 3-.03 3-.02 3-.01 3-.02 3-.01h2"/><path d="M-3 8.3l1.4-.72 1.1-.52 2.5-1.06 2-.73 2-.64 2-.56 2-.5 2-.43 2-.38 2-.34 2-.29 2-.26 2-.23 2-.2 2-.17 2-.16 2-.13 3-.18 3-.14 3-.12 3-.09 3-.08 3-.07 3-.05 3-.04 3-.04 3-.03 3-.03 3-.02 3-.01 3-.02 3-.01 3-.01h2"/><path d="M-2 7l1.4-.56 1.1-.41 1.5-.51 2-.62 2-.55 2-.49 2-.44 2-.38 2-.34 2-.31 2-.26 2-.24 2-.22 2-.18 2-.17 2-.15 2-.13 3-.17 3-.14 3-.12 3-.1 3-.08 3-.07 3-.06 3-.05 3-.04 3-.04 3-.02 3-.03 3-.02 3-.01 3-.02 3-.01 2-.01"/><path d="M-3 3.2l1.4-.2 1.1-.15 2.5-.32 2-.22 2-.21 2-.19 2-.17 2-.15 2-.14 2-.13 2-.12 2-.11 2-.09 2-.09 2-.08 2-.08 2-.07 3-.08 3-.08 3-.07 3-.06 3-.05 3-.04 3-.04 3-.04 3-.03 3-.02 3-.02 3-.02 3-.02 3-.01 3-.02 3-.01h2"/></g><g stroke-opacity=".05" stroke-width="1.2"><path d="M-2 58l1.4-4.3 1.1-3.15 1.5-4 2-4.85 2-4.34 2-3.89 2-3.48 2-3.13 2-2.79 2-2.51 2-2.24 2-2.01 2-1.81 2-1.61 2-1.45 2-1.29 2-1.16 3-1.52 3-1.29 3-1.09 3-.93 3-.78 3-.67 3-.56 3-.48 3-.41 3-.34 3-.29 3-.25 3-.21 3-.18 3-.15 3-.13 2-.07"/><path d="M-3 55.5l1.4-4.83 1.1-3.5 2.5-7.08 2-4.89 2-4.3 2-3.77 2-3.31 2-2.91 2-2.55 2-2.24 2-1.97 2-1.72 2-1.52 2-1.33 2-1.17 2-1.03 2-.9 3-1.15 3-.94 3-.78 3-.64 3-.53 3-.43 3-.36 3-.29 3-.24 3-.2 3-.16 3-.14 3-.11 3-.09 3-.07 3-.06 2-.04"/></g><g stroke-opacity=".06" stroke-width="2.0"><path d="M-3 42.6l1.4-3.6 1.1-2.62 2.5-5.3 2-3.69 2-3.24 2-2.87 2-2.52 2-2.22 2-1.96 2-1.73 2-1.52 2-1.35 2-1.18 2-1.04 2-.92 2-.81 2-.72 3-.91 3-.76 3-.63 3-.52 3-.43 3-.35 3-.3 3-.24 3-.2 3-.17 3-.14 3-.11 3-.1 3-.07 3-.07 3-.05 2-.03"/><path d="M-3 38.5l1.4-3.33 1.1-2.42 2.5-4.88 2-3.38 2-2.97 2-2.61 2-2.3 2-2.01 2-1.77 2-1.56 2-1.37 2-1.2 2-1.05 2-.93 2-.82 2-.71 2-.63 3-.8 3-.67 3-.54 3-.45 3-.37 3-.31 3-.25 3-.2 3-.17 3-.14 3-.12 3-.1 3-.07 3-.07 3-.05 3-.05 2-.02"/><path d="M-3 36l1.4-2.91 1.1-2.11 2.5-4.32 2-3.02 2-2.68 2-2.38 2-2.1 2-1.87 2-1.65 2-1.47 2-1.3 2-1.16 2-1.02 2-.91 2-.8 2-.71 2-.64 3-.81 3-.69 3-.57 3-.47 3-.4 3-.33 3-.28 3-.23 3-.19 3-.16 3-.14 3-.11 3-.09 3-.08 3-.07 3-.05 2-.03"/><path d="M-2 33.5l1.4-2.99 1.1-2.17 1.5-2.7 2-3.21 2-2.81 2-2.45 2-2.15 2-1.88 2-1.64 2-1.44 2-1.26 2-1.1 2-.97 2-.84 2-.74 2-.64 2-.57 3-.71 3-.59 3-.48 3-.39 3-.32 3-.27 3-.21 3-.18 3-.14 3-.12 3-.1 3-.07 3-.07 3-.05 3-.05 3-.03 2-.02"/><path d="M-3 31l1.4-2.64 1.1-1.92 2.5-3.88 2-2.7 2-2.37 2-2.09 2-1.84 2-1.62 2-1.42 2-1.26 2-1.1 2-.98 2-.86 2-.75 2-.67 2-.58 2-.52 3-.66 3-.54 3-.45 3-.38 3-.3 3-.26 3-.21 3-.17 3-.15 3-.12 3-.09 3-.08 3-.07 3-.06 3-.04 3-.04 2-.02"/><path d="M-3 29l1.4-1.78 1.1-1.32 2.5-2.77 2-2 2-1.82 2-1.67 2-1.53 2-1.39 2-1.27 2-1.17 2-1.06 2-.97 2-.89 2-.8 2-.74 2-.68 2-.62 3-.82 3-.73 3-.63 3-.55 3-.48 3-.42 3-.37 3-.32 3-.28 3-.24 3-.21 3-.19 3-.16 3-.14 3-.13 3-.11 2-.06"/><path d="M-3 27.5l1.4-2.47 1.1-1.78 2.5-3.59 2-2.47 2-2.16 2-1.89 2-1.65 2-1.45 2-1.26 2-1.1 2-.97 2-.84 2-.74 2-.64 2-.57 2-.49 2-.43 3-.55 3-.45 3-.36 3-.3 3-.25 3-.19 3-.17 3-.13 3-.11 3-.09 3-.07 3-.06 3-.05 3-.04 3-.03 3-.03 2-.02"/><path d="M-3 26l1.4-2.17 1.1-1.58 2.5-3.22 2-2.23 2-1.97 2-1.74 2-1.54 2-1.35 2-1.2 2-1.05 2-.94 2-.82 2-.72 2-.65 2-.56 2-.5 2-.44 3-.57 3-.47 3-.39 3-.32 3-.27 3-.22 3-.18 3-.16 3-.12 3-.11 3-.09 3-.07 3-.06 3-.05 3-.04 3-.03 2-.02"/><path d="M-2 24.5l1.4-1.65 1.1-1.21 1.5-1.56 2-1.9 2-1.72 2-1.56 2-1.41 2-1.28 2-1.15 2-1.05 2-.95 2-.86 2-.77 2-.7 2-.64 2-.58 2-.52 3-.69 3-.6 3-.51 3-.44 3-.38 3-.33 3-.28 3-.25 3-.21 3-.18 3-.15 3-.14 3-.11 3-.1 3-.09 3-.07 2-.04"/><path d="M-3 23l1.4-1.97 1.1-1.42 2.5-2.89 2-2.01 2-1.76 2-1.55 2-1.37 2-1.2 2-1.06 2-.93 2-.82 2-.72 2-.64 2-.55 2-.5 2-.43 2-.38 3-.49 3-.4 3-.33 3-.28 3-.23 3-.18 3-.16 3-.12 3-.11 3-.09 3-.07 3-.06 3-.05 3-.04 3-.03 3-.03 2-.01"/><path d="M-3 22l1.4-1.66 1.1-1.22 2.5-2.5 2-1.77 2-1.58 2-1.41 2-1.26 2-1.12 2-1.01 2-.9 2-.8 2-.72 2-.64 2-.58 2-.51 2-.46 2-.41 3-.53 3-.46 3-.38 3-.32 3-.27 3-.23 3-.2 3-.16 3-.14 3-.12 3-.1 3-.08 3-.07 3-.06 3-.05 3-.05 2-.02"/><path d="M-3 21l1.4-1.58 1.1-1.15 2.5-2.38 2-1.68 2-1.5 2-1.34 2-1.2 2-1.07 2-.96 2-.86 2-.77 2-.69 2-.61 2-.55 2-.49 2-.44 2-.39 3-.52 3-.43 3-.37 3-.31 3-.26 3-.23 3-.19 3-.16 3-.13 3-.11 3-.1 3-.08 3-.07 3-.06 3-.05 3-.04 2-.02"/><path d="M-3 20.2l1.4-1.57 1.1-1.15 2.5-2.35 2-1.65 2-1.48 2-1.31 2-1.16 2-1.04 2-.93 2-.83 2-.73 2-.66 2-.58 2-.52 2-.46 2-.42 2-.36 3-.48 3-.4 3-.34 3-.28 3-.24 3-.2 3-.17 3-.14 3-.12 3-.1 3-.09 3-.07 3-.06 3-.05 3-.04 3-.03 2-.02"/><path d="M-2 19.5l1.4-1.57 1.1-1.14 1.5-1.44 2-1.73 2-1.53 2-1.37 2-1.2 2-1.08 2-.95 2-.84 2-.75 2-.67 2-.59 2-.52 2-.46 2-.42 2-.36 3-.47 3-.4 3-.33 3-.28 3-.23 3-.19 3-.16 3-.13 3-.12 3-.09 3-.08 3-.07 3-.05 3-.05 3-.03 3-.04 2-.02"/><path d="M-3 18.8l1.4-1.54 1.1-1.13 2.5-2.29 2-1.6 2-1.41 2-1.25 2-1.1 2-.98 2-.86 2-.77 2-.68 2-.59 2-.53 2-.47 2-.42 2-.36 2-.33 3-.42 3-.35 3-.28 3-.25 3-.2 3-.16 3-.14 3-.12 3-.09 3-.08 3-.07 3-.06 3-.04 3-.04 3-.03 3-.03 2-.01"/><path d="M-3 18l1.4-1.34 1.1-.98 2.5-2.02 2-1.43 2-1.28 2-1.14 2-1.03 2-.91 2-.83 2-.73 2-.66 2-.59 2-.53 2-.47 2-.43 2-.38 2-.34 3-.44 3-.38 3-.32 3-.27 3-.23 3-.19 3-.17 3-.14 3-.11 3-.1 3-.09 3-.07 3-.06 3-.05 3-.05 3-.03 2-.03"/><path d="M-3 17l1.4-1.76 1.1-1.25 2.5-2.48 2-1.66 2-1.42 2-1.22 2-1.04 2-.89 2-.76 2-.66 2-.55 2-.48 2-.41 2-.35 2-.3 2-.25 2-.22 3-.27 3-.22 3-.17 3-.13 3-.11 3-.08 3-.07 3-.05 3-.04 3-.03 3-.03 3-.02 3-.02 3-.01 3-.01 3-.01h2"/><path d="M-3 16l1.4-1.5 1.1-1.07 2.5-2.16 2-1.48 2-1.28 2-1.11 2-.97 2-.84 2-.73 2-.64 2-.55 2-.48 2-.42 2-.36 2-.32 2-.27 2-.24 3-.3 3-.24 3-.2 3-.16 3-.13 3-.1 3-.09 3-.07 3-.05 3-.05 3-.03 3-.03 3-.03 3-.02 3-.01 3-.02h2"/><path d="M-2 15l1.4-1.19 1.1-.87 1.5-1.09 2-1.32 2-1.17 2-1.05 2-.92 2-.82 2-.73 2-.65 2-.58 2-.51 2-.46 2-.41 2-.36 2-.32 2-.28 3-.37 3-.31 3-.25 3-.22 3-.18 3-.15 3-.13 3-.11 3-.09 3-.07 3-.07 3-.05 3-.04 3-.04 3-.03 3-.03 2-.01"/><path d="M-3 14l1.4-1.1 1.1-.8 2.5-1.65 2-1.15 2-1.03 2-.91 2-.81 2-.73 2-.64 2-.57 2-.51 2-.45 2-.41 2-.35 2-.32 2-.29 2-.25 3-.32 3-.28 3-.23 3-.19 3-.16 3-.14 3-.11 3-.1 3-.08 3-.07 3-.05 3-.05 3-.04 3-.04 3-.02 3-.03 2-.01"/><path d="M-3 13l1.4-1.23 1.1-.89 2.5-1.77 2-1.21 2-1.05 2-.91 2-.79 2-.68 2-.59 2-.52 2-.44 2-.39 2-.34 2-.29 2-.25 2-.22 2-.19 3-.24 3-.19 3-.16 3-.12 3-.1 3-.09 3-.06 3-.06 3-.04 3-.03 3-.03 3-.02 3-.02 3-.02 3-.01 3-.01h2"/><path d="M-3 12.2l1.4-1.17 1.1-.85 2.5-1.68 2-1.14 2-.99 2-.86 2-.74 2-.64 2-.56 2-.48 2-.41 2-.36 2-.32 2-.27 2-.23 2-.2 2-.18 3-.21 3-.18 3-.14 3-.12 3-.09 3-.07 3-.06 3-.05 3-.04 3-.03 3-.03 3-.02 3-.01 3-.02 3-.01h3l2-.01"/><path d="M-3 11.5l1.4-1.03 1.1-.74 2.5-1.5 2-1.04 2-.9 2-.79 2-.69 2-.6 2-.53 2-.46 2-.41 2-.35 2-.31 2-.27 2-.23 2-.21 2-.18 3-.23 3-.19 3-.15 3-.13 3-.1 3-.08 3-.07 3-.06 3-.04 3-.04 3-.03 3-.03 3-.02 3-.01 3-.02 3-.01 2-.01"/><path d="M-2 11l1.4-.98 1.1-.71 1.5-.88 2-1.05 2-.92 2-.81 2-.7 2-.62 2-.54 2-.47 2-.42 2-.36 2-.31 2-.28 2-.25 2-.21 2-.18 3-.24 3-.19 3-.16 3-.13 3-.11 3-.09 3-.07 3-.06 3-.04 3-.04 3-.03 3-.03 3-.02 3-.02 3-.01 3-.02h2"/><path d="M-3 10.5l1.4-.85 1.1-.63 2.5-1.26 2-.89 2-.78 2-.7 2-.61 2-.55 2-.48 2-.43 2-.38 2-.33 2-.3 2-.26 2-.24 2-.2 2-.19 3-.23 3-.2 3-.17 3-.13 3-.12 3-.09 3-.08 3-.07 3-.05 3-.05 3-.04 3-.03 3-.03 3-.02 3-.02 3-.01 2-.01"/><path d="M-3 10l1.4-.93 1.1-.68 2.5-1.34 2-.92 2-.8 2-.7 2-.61 2-.52 2-.46 2-.4 2-.34 2-.3 2-.26 2-.23 2-.2 2-.17 2-.15 3-.19 3-.15 3-.12 3-.1 3-.08 3-.07 3-.05 3-.05 3-.03 3-.03 3-.02 3-.02 3-.02 3-.01 3-.01 3-.01h2"/><path d="M-3 9.2l1.4-.81 1.1-.59 2.5-1.18 2-.81 2-.72 2-.63 2-.55 2-.48 2-.42 2-.37 2-.33 2-.28 2-.25 2-.22 2-.19 2-.17 2-.15 3-.19 3-.15 3-.13 3-.1 3-.09 3-.07 3-.06 3-.04 3-.04 3-.03 3-.03 3-.02 3-.02 3-.01 3-.02 3-.01h2"/><path d="M-3 8.3l1.4-.74 1.1-.54 2.5-1.08 2-.74 2-.66 2-.57 2-.49 2-.44 2-.38 2-.33 2-.29 2-.26 2-.22 2-.2 2-.17 2-.15 2-.13 3-.16 3-.14 3-.11 3-.09 3-.08 3-.06 3-.05 3-.04 3-.03 3-.03 3-.02 3-.02 3-.01 3-.02 3-.01h3l2-.01"/><path d="M-2 7l1.4-.58 1.1-.42 1.5-.53 2-.63 2-.56 2-.5 2-.43 2-.39 2-.34 2-.31 2-.26 2-.24 2-.21 2-.19 2-.16 2-.14 2-.13 3-.17 3-.13 3-.12 3-.09 3-.08 3-.07 3-.05 3-.05 3-.03 3-.04 3-.02 3-.02 3-.02 3-.02 3-.01 3-.01h2"/><path d="M-3 3.2l1.4-.21 1.1-.15 2.5-.33 2-.23 2-.21 2-.19 2-.17 2-.16 2-.14 2-.13 2-.12 2-.1 2-.1 2-.09 2-.08 2-.07 2-.07 3-.09 3-.07 3-.07 3-.05 3-.05 3-.05 3-.03 3-.04 3-.02 3-.03 3-.02 3-.02 3-.01 3-.01 3-.02 3-.01h2"/></g><g stroke-opacity=".10" stroke-width="1.2"><path d="M-3 42.6l1.4-3.71 1.1-2.68 2.5-5.44 2-3.75 2-3.29 2-2.9 2-2.54 2-2.23 2-1.96 2-1.72 2-1.51 2-1.32 2-1.17 2-1.02 2-.9 2-.79 2-.69 3-.88 3-.73 3-.6 3-.49 3-.4 3-.33 3-.28 3-.22 3-.19 3-.15 3-.13 3-.1 3-.09 3-.07 3-.05 3-.05 2-.03"/><path d="M-3 38.5l1.4-3.43 1.1-2.48 2.5-5 2-3.44 2-3.02 2-2.63 2-2.31 2-2.02 2-1.77 2-1.55 2-1.35 2-1.19 2-1.04 2-.9 2-.8 2-.69 2-.61 3-.78 3-.63 3-.52 3-.42 3-.35 3-.28 3-.24 3-.19 3-.15 3-.13 3-.11 3-.08 3-.07 3-.06 3-.05 3-.04 2-.02"/><path d="M-3 36l1.4-2.99 1.1-2.18 2.5-4.42 2-3.08 2-2.72 2-2.4 2-2.12 2-1.88 2-1.66 2-1.46 2-1.29 2-1.14 2-1.01 2-.89 2-.79 2-.7 2-.61 3-.79 3-.66 3-.54 3-.46 3-.37 3-.31 3-.26 3-.22 3-.18 3-.14 3-.13 3-.1 3-.08 3-.07 3-.06 3-.05 2-.03"/><path d="M-2 33.5l1.4-3.08 1.1-2.22 1.5-2.77 2-3.28 2-2.85 2-2.48 2-2.17 2-1.89 2-1.64 2-1.43 2-1.25 2-1.09 2-.94 2-.83 2-.72 2-.62 2-.55 3-.69 3-.56 3-.45 3-.38 3-.3 3-.24 3-.2 3-.16 3-.14 3-.1 3-.09 3-.07 3-.06 3-.05 3-.03 3-.03 2-.02"/><path d="M-3 31l1.4-2.72 1.1-1.97 2.5-3.97 2-2.75 2-2.41 2-2.11 2-1.85 2-1.62 2-1.43 2-1.25 2-1.09 2-.97 2-.84 2-.74 2-.65 2-.57 2-.5 3-.63 3-.53 3-.42 3-.36 3-.29 3-.23 3-.2 3-.16 3-.13 3-.11 3-.09 3-.07 3-.06 3-.05 3-.04 3-.04 2-.02"/><path d="M-3 29l1.4-1.83 1.1-1.36 2.5-2.84 2-2.04 2-1.87 2-1.69 2-1.55 2-1.41 2-1.28 2-1.17 2-1.06 2-.97 2-.89 2-.8 2-.74 2-.66 2-.61 3-.81 3-.71 3-.62 3-.53 3-.46 3-.41 3-.35 3-.31 3-.26 3-.23 3-.2 3-.18 3-.15 3-.13 3-.12 3-.1 2-.05"/><path d="M-3 27.5l1.4-2.54 1.1-1.83 2.5-3.68 2-2.51 2-2.19 2-1.91 2-1.66 2-1.45 2-1.25 2-1.1 2-.95 2-.84 2-.72 2-.63 2-.55 2-.47 2-.42 3-.53 3-.42 3-.35 3-.28 3-.23 3-.18 3-.16 3-.12 3-.1 3-.08 3-.06 3-.06 3-.04 3-.04 3-.03 3-.02 2-.01"/><path d="M-3 26l1.4-2.24 1.1-1.62 2.5-3.29 2-2.28 2-2 2-1.75 2-1.55 2-1.36 2-1.2 2-1.05 2-.92 2-.82 2-.71 2-.63 2-.55 2-.49 2-.43 3-.54 3-.45 3-.37 3-.31 3-.25 3-.21 3-.17 3-.14 3-.12 3-.1 3-.08 3-.06 3-.06 3-.04 3-.04 3-.03 2-.02"/><path d="M-2 24.5l1.4-1.7 1.1-1.25 1.5-1.59 2-1.95 2-1.75 2-1.59 2-1.43 2-1.29 2-1.16 2-1.05 2-.95 2-.86 2-.77 2-.7 2-.63 2-.57 2-.51 3-.68 3-.58 3-.5 3-.42 3-.37 3-.31 3-.27 3-.23 3-.2 3-.17 3-.14 3-.13 3-.11 3-.09 3-.08 3-.06 2-.04"/><path d="M-3 23l1.4-2.02 1.1-1.47 2.5-2.96 2-2.04 2-1.79 2-1.57 2-1.37 2-1.21 2-1.05 2-.93 2-.81 2-.72 2-.62 2-.55 2-.48 2-.42 2-.37 3-.47 3-.38 3-.32 3-.26 3-.21 3-.18 3-.14 3-.12 3-.1 3-.08 3-.06 3-.05 3-.05 3-.03 3-.03 3-.03 2-.01"/><path d="M-3 22l1.4-1.71 1.1-1.25 2.5-2.57 2-1.8 2-1.6 2-1.43 2-1.27 2-1.14 2-1 2-.9 2-.8 2-.72 2-.63 2-.57 2-.5 2-.45 2-.4 3-.52 3-.44 3-.36 3-.31 3-.26 3-.22 3-.18 3-.16 3-.13 3-.11 3-.09 3-.07 3-.07 3-.05 3-.05 3-.04 2-.02"/><path d="M-3 21l1.4-1.62 1.1-1.19 2.5-2.44 2-1.71 2-1.52 2-1.36 2-1.21 2-1.08 2-.97 2-.85 2-.77 2-.68 2-.61 2-.54 2-.48 2-.44 2-.38 3-.5 3-.42 3-.35 3-.3 3-.25 3-.21 3-.18 3-.15 3-.12 3-.11 3-.09 3-.07 3-.07 3-.05 3-.04 3-.04 2-.02"/><path d="M-3 20.2l1.4-1.62 1.1-1.18 2.5-2.41 2-1.68 2-1.5 2-1.33 2-1.17 2-1.05 2-.93 2-.82 2-.73 2-.65 2-.58 2-.51 2-.45 2-.41 2-.36 3-.46 3-.38 3-.33 3-.27 3-.22 3-.19 3-.16 3-.13 3-.12 3-.09 3-.07 3-.07 3-.05 3-.05 3-.04 3-.03 2-.02"/><path d="M-2 19.5l1.4-1.61 1.1-1.17 1.5-1.48 2-1.77 2-1.56 2-1.38 2-1.22 2-1.08 2-.96 2-.84 2-.75 2-.66 2-.58 2-.51 2-.46 2-.4 2-.36 3-.46 3-.38 3-.31 3-.27 3-.21 3-.19 3-.15 3-.12 3-.11 3-.08 3-.08 3-.06 3-.04 3-.05 3-.03 3-.03 2-.02"/><path d="M-3 18.8l1.4-1.59 1.1-1.16 2.5-2.34 2-1.63 2-1.43 2-1.26 2-1.12 2-.98 2-.86 2-.77 2-.67 2-.59 2-.52 2-.46 2-.41 2-.36 2-.31 3-.4 3-.34 3-.27 3-.23 3-.19 3-.16 3-.13 3-.11 3-.08 3-.08 3-.06 3-.05 3-.04 3-.04 3-.02 3-.03 2-.01"/><path d="M-3 18l1.4-1.38 1.1-1.01 2.5-2.07 2-1.45 2-1.3 2-1.16 2-1.04 2-.92 2-.83 2-.73 2-.66 2-.59 2-.52 2-.47 2-.41 2-.37 2-.34 3-.43 3-.36 3-.31 3-.26 3-.22 3-.18 3-.16 3-.13 3-.11 3-.09 3-.08 3-.06 3-.06 3-.05 3-.04 3-.03 2-.02"/><path d="M-3 17l1.4-1.81 1.1-1.28 2.5-2.54 2-1.69 2-1.43 2-1.23 2-1.04 2-.89 2-.76 2-.64 2-.55 2-.46 2-.4 2-.34 2-.29 2-.24 2-.21 3-.26 3-.2 3-.16 3-.12 3-.1 3-.08 3-.06 3-.05 3-.03 3-.03 3-.03 3-.01 3-.02 3-.01 3-.01h3l2-.01"/><path d="M-3 16l1.4-1.54 1.1-1.11 2.5-2.2 2-1.5 2-1.3 2-1.13 2-.97 2-.84 2-.73 2-.63 2-.54 2-.48 2-.4 2-.36 2-.3 2-.27 2-.23 3-.28 3-.24 3-.18 3-.15 3-.12 3-.1 3-.08 3-.06 3-.05 3-.04 3-.03 3-.03 3-.02 3-.02 3-.01 3-.01 2-.01"/><path d="M-2 15l1.4-1.22 1.1-.9 1.5-1.12 2-1.35 2-1.19 2-1.06 2-.93 2-.83 2-.73 2-.65 2-.58 2-.51 2-.45 2-.39 2-.36 2-.31 2-.28 3-.36 3-.29 3-.25 3-.21 3-.17 3-.14 3-.12 3-.1 3-.09 3-.06 3-.06 3-.05 3-.04 3-.03 3-.03 3-.02 2-.02"/><path d="M-3 14l1.4-1.13 1.1-.83 2.5-1.68 2-1.18 2-1.04 2-.93 2-.82 2-.72 2-.65 2-.57 2-.5 2-.45 2-.4 2-.35 2-.31 2-.28 2-.25 3-.31 3-.27 3-.22 3-.18 3-.15 3-.13 3-.11 3-.09 3-.07 3-.07 3-.05 3-.04 3-.04 3-.03 3-.02 3-.02 2-.02"/><path d="M-3 13l1.4-1.27 1.1-.91 2.5-1.81 2-1.23 2-1.06 2-.92 2-.79 2-.69 2-.59 2-.51 2-.44 2-.38 2-.32 2-.29 2-.24 2-.21 2-.19 3-.22 3-.19 3-.14 3-.12 3-.1 3-.07 3-.06 3-.05 3-.04 3-.03 3-.03 3-.02 3-.01 3-.02 3-.01 3-.01h2"/><path d="M-3 12.2l1.4-1.21 1.1-.86 2.5-1.72 2-1.17 2-1 2-.86 2-.75 2-.64 2-.55 2-.48 2-.41 2-.35 2-.3 2-.27 2-.22 2-.2 2-.17 3-.2 3-.17 3-.14 3-.1 3-.09 3-.07 3-.05 3-.05 3-.03 3-.03 3-.02 3-.02 3-.01 3-.01 3-.01 3-.01h2"/><path d="M-3 11.5l1.4-1.06 1.1-.76 2.5-1.54 2-1.05 2-.92 2-.79 2-.7 2-.6 2-.53 2-.46 2-.4 2-.34 2-.31 2-.26 2-.23 2-.2 2-.17 3-.22 3-.18 3-.15 3-.12 3-.09 3-.08 3-.06 3-.06 3-.04 3-.03 3-.03 3-.02 3-.02 3-.02 3-.01 3-.01h2"/><path d="M-2 11l1.4-1.01 1.1-.72 1.5-.91 2-1.07 2-.94 2-.81 2-.71 2-.62 2-.54 2-.47 2-.41 2-.36 2-.31 2-.27 2-.24 2-.21 2-.18 3-.22 3-.19 3-.15 3-.12 3-.1 3-.08 3-.07 3-.05 3-.05 3-.03 3-.03 3-.03 3-.02 3-.01 3-.01 3-.01 2-.01"/><path d="M-3 10.5l1.4-.88 1.1-.64 2.5-1.3 2-.9 2-.79 2-.71 2-.62 2-.55 2-.48 2-.42 2-.38 2-.33 2-.3 2-.26 2-.22 2-.21 2-.17 3-.23 3-.19 3-.16 3-.13 3-.11 3-.09 3-.07 3-.06 3-.05 3-.04 3-.04 3-.03 3-.02 3-.02 3-.02 3-.01 2-.01"/><path d="M-3 10l1.4-.96 1.1-.69 2.5-1.38 2-.94 2-.81 2-.7 2-.61 2-.52 2-.46 2-.39 2-.34 2-.3 2-.25 2-.23 2-.19 2-.16 2-.15 3-.18 3-.14 3-.12 3-.09 3-.08 3-.06 3-.05 3-.04 3-.03 3-.02 3-.02 3-.02 3-.01 3-.02h3l3-.01h2"/><path d="M-3 9.2l1.4-.83 1.1-.6 2.5-1.22 2-.83 2-.72 2-.64 2-.55 2-.48 2-.43 2-.36 2-.33 2-.28 2-.24 2-.22 2-.18 2-.17 2-.14 3-.18 3-.15 3-.12 3-.09 3-.09 3-.06 3-.05 3-.05 3-.03 3-.03 3-.03 3-.01 3-.02 3-.01 3-.01 3-.01 2-.01"/><path d="M-3 8.3l1.4-.76 1.1-.56 2.5-1.1 2-.76 2-.66 2-.57 2-.51 2-.43 2-.38 2-.33 2-.29 2-.25 2-.22 2-.19 2-.17 2-.14 2-.13 3-.16 3-.13 3-.1 3-.09 3-.07 3-.05 3-.05 3-.04 3-.03 3-.02 3-.02 3-.02 3-.01 3-.01 3-.01 3-.01h2"/><path d="M-2 7l1.4-.59 1.1-.44 1.5-.54 2-.65 2-.56 2-.51 2-.44 2-.39 2-.34 2-.3 2-.27 2-.23 2-.21 2-.18 2-.16 2-.15 2-.12 3-.16 3-.13 3-.11 3-.09 3-.07 3-.07 3-.05 3-.04 3-.03 3-.03 3-.03 3-.02 3-.01 3-.02 3-.01 3-.01h2"/><path d="M-3 3.2l1.4-.22 1.1-.15 2.5-.33 2-.24 2-.21 2-.2 2-.17 2-.16 2-.15 2-.13 2-.11 2-.11 2-.1 2-.08 2-.08 2-.07 2-.07 3-.09 3-.07 3-.06 3-.06 3-.05 3-.04 3-.03 3-.03 3-.03 3-.02 3-.02 3-.02 3-.01 3-.01 3-.01 3-.01 2-.01"/></g></g>
<path d="M749.4 301.8L753.1 302.3L758.8 308.9L763.7 315.6L768.1 316.6L771.8 311L776.2 309.4L781.8 313L788 315.6L793 319L799.2 323.3L805.5 327.5L811.7 331.6L817.9 335.8L824.2 340L830.4 344L836.6 347.8L842.9 351.3L849.1 354.6L855.3 357.7L861.6 360.5L867.8 363L874 365.3L880.2 367.3L886.5 369.3L892.7 371.2L898.9 373L905.2 374.8L911.4 376.5L917.6 378.1L923.9 379.6L930.1 381L936.3 382.3L942.5 383.6L948.8 384.9L955 386.1L961.2 387.3L967.5 388.3L973.7 389.2L979.9 390L986.2 390.7L992.4 391.3L998.6 391.8L1004.8 392.3L1011.1 392.8L1017.3 393.3L1023.5 393.7L1029.8 394.1L1036 394.4L1042.2 394.8L1048.5 395.1L1054.7 395.4L1060.9 395.7L1067.1 395.9L1073.4 396.2L1079.6 396.5L1085.8 396.7L1092.1 396.9L1098.3 397.2L1104.5 397.4L1110.8 397.6L1117 397.8L1123.2 397.9L1129.4 398.1L1135.7 398.2L1141.9 398.3L1148.1 398.4L1154.4 398.5L1160.6 398.6L1166.8 398.7L1173.1 398.7L1179.3 398.8L1185.5 398.9L1191.7 398.9L1198 399L1204.2 399.1L1210.4 399.1L1216.7 399.2L1222.9 399.2L1229.1 399.3L1235.4 399.3L1241.6 399.3L1247.8 399.3L1254 399.4L1260.3 399.4L1266.5 399.4" fill="none" stroke="#dddddd" stroke-width="8.5" stroke-linejoin="round"/>
<g class="t" transform="translate(1365.8 400.4) scale(6.23 -5.11)" stroke="#d4d4d4"><g stroke-opacity=".02" stroke-width="4.5"><path d="M-3 36.64l1.4-2.33 1.1-1.72 2.5-3.61 2-2.59 2-2.36 2-2.15 2-1.96 2-1.78 2-1.63 2-1.48 2-1.34 2-1.23 2-1.11 2-1.02 2-.92 2-.85 2-.76 3-1.03 3-.88 3-.78 3-.67 3-.58 3-.51 3-.44 3-.38 3-.33 3-.29 3-.25 3-.22 3-.19 3-.16 3-.14 3-.13 2-.07"/><path d="M-3 38.42l1.4-2.64 1.1-1.94 2.5-4.02 2-2.88 2-2.6 2-2.34 2-2.12 2-1.92 2-1.73 2-1.57 2-1.41 2-1.28 2-1.15 2-1.04 2-.95 2-.85 2-.77 3-1.02 3-.87 3-.75 3-.64 3-.56 3-.47 3-.41 3-.35 3-.31 3-.25 3-.23 3-.19 3-.16 3-.14 3-.12 3-.11 2-.06"/><path d="M-3 39.14l1.4-3.14 1.1-2.29 2.5-4.68 2-3.27 2-2.91 2-2.57 2-2.29 2-2.02 2-1.8 2-1.6 2-1.42 2-1.25 2-1.12 2-.99 2-.88 2-.77 2-.7 3-.89 3-.75 3-.62 3-.52 3-.44 3-.36 3-.31 3-.25 3-.22 3-.17 3-.15 3-.13 3-.1 3-.09 3-.07 3-.06 2-.04"/><path d="M-3 41.11l1.4-2.86 1.1-2.11 2.5-4.37 2-3.11 2-2.8 2-2.54 2-2.28 2-2.06 2-1.86 2-1.67 2-1.52 2-1.36 2-1.23 2-1.11 2-1 2-.91 2-.81 3-1.08 3-.92 3-.79 3-.67 3-.58 3-.5 3-.43 3-.36 3-.31 3-.27 3-.23 3-.2 3-.16 3-.15 3-.12 3-.11 2-.06"/><path d="M-3 42.03l1.4-3.28 1.1-2.4 2.5-4.92 2-3.45 2-3.07 2-2.73 2-2.44 2-2.17 2-1.92 2-1.72 2-1.53 2-1.36 2-1.21 2-1.08 2-.96 2-.86 2-.76 3-.99 3-.83 3-.69 3-.59 3-.49 3-.41 3-.35 3-.29 3-.25 3-.2 3-.17 3-.15 3-.12 3-.1 3-.09 3-.07 2-.04"/><path d="M-3 43.57l1.4-3.36 1.1-2.45 2.5-5.04 2-3.54 2-3.16 2-2.82 2-2.51 2-2.24 2-2 2-1.78 2-1.59 2-1.41 2-1.27 2-1.12 2-1.01 2-.89 2-.8 3-1.04 3-.88 3-.73 3-.62 3-.52 3-.44 3-.38 3-.31 3-.26 3-.22 3-.19 3-.15 3-.14 3-.11 3-.09 3-.08 2-.05"/><path d="M-3 44.87l1.4-2.75 1.1-2.05 2.5-4.28 2-3.1 2-2.83 2-2.58 2-2.36 2-2.16 2-1.97 2-1.79 2-1.65 2-1.5 2-1.37 2-1.25 2-1.15 2-1.04 2-.96 3-1.28 3-1.11 3-.98 3-.85 3-.75 3-.64 3-.57 3-.5 3-.43 3-.38 3-.32 3-.29 3-.25 3-.22 3-.19 3-.17 2-.1"/><path d="M-3 46l1.4-3.58 1.1-2.61 2.5-5.36 2-3.77 2-3.35 2-2.99 2-2.66 2-2.36 2-2.11 2-1.88 2-1.68 2-1.49 2-1.33 2-1.18 2-1.06 2-.94 2-.83 3-1.09 3-.91 3-.77 3-.64 3-.55 3-.45 3-.39 3-.32 3-.27 3-.23 3-.19 3-.16 3-.14 3-.11 3-.1 3-.08 2-.04"/><path d="M-3 47.52l1.4-3.72 1.1-2.72 2.5-5.56 2-3.9 2-3.48 2-3.09 2-2.75 2-2.46 2-2.18 2-1.94 2-1.73 2-1.53 2-1.37 2-1.22 2-1.09 2-.96 2-.86 3-1.12 3-.93 3-.79 3-.66 3-.55 3-.47 3-.39 3-.33 3-.27 3-.24 3-.19 3-.16 3-.14 3-.12 3-.09 3-.08 2-.05"/><path d="M-3 48.92l1.4-3.58 1.1-2.63 2.5-5.42 2-3.84 2-3.44 2-3.09 2-2.77 2-2.48 2-2.23 2-2 2-1.8 2-1.61 2-1.44 2-1.29 2-1.17 2-1.04 2-.93 3-1.23 3-1.04 3-.89 3-.75 3-.64 3-.54 3-.46 3-.39 3-.34 3-.28 3-.24 3-.2 3-.18 3-.15 3-.12 3-.11 2-.06"/><path d="M-3 50.47l1.4-3.21 1.1-2.38 2.5-4.96 2-3.58 2-3.25 2-2.97 2-2.69 2-2.46 2-2.24 2-2.03 2-1.86 2-1.68 2-1.54 2-1.4 2-1.27 2-1.16 2-1.06 3-1.41 3-1.22 3-1.06 3-.93 3-.8 3-.7 3-.6 3-.53 3-.46 3-.39 3-.35 3-.3 3-.26 3-.22 3-.2 3-.17 2-.1"/><path d="M-3 52.8l1.4-4.07 1.1-2.97 2.5-6.1 2-4.29 2-3.83 2-3.41 2-3.04 2-2.72 2-2.42 2-2.16 2-1.92 2-1.72 2-1.53 2-1.37 2-1.21 2-1.09 2-.97 3-1.26 3-1.06 3-.89 3-.75 3-.64 3-.53 3-.45 3-.38 3-.32 3-.27 3-.22 3-.19 3-.16 3-.14 3-.11 3-.1 2-.05"/></g><g stroke-opacity=".03" stroke-width="3.0"><path d="M-3 36.64l1.4-2.4 1.1-1.78 2.5-3.7 2-2.65 2-2.41 2-2.19 2-1.99 2-1.8 2-1.64 2-1.48 2-1.35 2-1.22 2-1.11 2-1.01 2-.92 2-.83 2-.75 3-1 3-.87 3-.75 3-.65 3-.56 3-.48 3-.42 3-.36 3-.32 3-.27 3-.23 3-.2 3-.18 3-.15 3-.13 3-.12 2-.06"/><path d="M-3 38.42l1.4-2.72 1.1-2 2.5-4.13 2-2.94 2-2.65 2-2.38 2-2.15 2-1.93 2-1.75 2-1.56 2-1.42 2-1.27 2-1.14 2-1.04 2-.93 2-.83 2-.76 3-.99 3-.85 3-.72 3-.62 3-.53 3-.45 3-.39 3-.33 3-.28 3-.24 3-.21 3-.17 3-.15 3-.13 3-.11 3-.1 2-.05"/><path d="M-3 39.14l1.4-3.24 1.1-2.36 2.5-4.8 2-3.34 2-2.95 2-2.61 2-2.3 2-2.04 2-1.8 2-1.59 2-1.41 2-1.24 2-1.1 2-.97 2-.86 2-.76 2-.67 3-.86 3-.72 3-.59 3-.5 3-.41 3-.34 3-.28 3-.24 3-.2 3-.16 3-.14 3-.11 3-.09 3-.08 3-.06 3-.06 2-.03"/><path d="M-3 41.11l1.4-2.95 1.1-2.17 2.5-4.49 2-3.18 2-2.86 2-2.57 2-2.31 2-2.08 2-1.87 2-1.68 2-1.51 2-1.35 2-1.22 2-1.1 2-.99 2-.88 2-.8 3-1.05 3-.89 3-.76 3-.65 3-.55 3-.48 3-.4 3-.34 3-.29 3-.25 3-.21 3-.19 3-.15 3-.13 3-.11 3-.1 2-.05"/><path d="M-3 42.03l1.4-3.39 1.1-2.47 2.5-5.04 2-3.52 2-3.13 2-2.77 2-2.45 2-2.18 2-1.94 2-1.71 2-1.52 2-1.35 2-1.19 2-1.06 2-.94 2-.84 2-.74 3-.95 3-.8 3-.67 3-.55 3-.47 3-.38 3-.33 3-.27 3-.23 3-.18 3-.16 3-.13 3-.11 3-.09 3-.08 3-.07 2-.03"/><path d="M-3 43.57l1.4-3.46 1.1-2.53 2.5-5.17 2-3.62 2-3.21 2-2.86 2-2.53 2-2.26 2-2 2-1.78 2-1.58 2-1.4 2-1.25 2-1.11 2-.98 2-.87 2-.78 3-1.01 3-.84 3-.7 3-.59 3-.5 3-.41 3-.35 3-.29 3-.24 3-.2 3-.17 3-.15 3-.12 3-.1 3-.08 3-.07 2-.04"/><path d="M-3 44.87l1.4-2.84 1.1-2.11 2.5-4.4 2-3.17 2-2.89 2-2.62 2-2.4 2-2.18 2-1.99 2-1.81 2-1.64 2-1.5 2-1.37 2-1.25 2-1.13 2-1.03 2-.94 3-1.26 3-1.09 3-.95 3-.82 3-.72 3-.62 3-.54 3-.47 3-.41 3-.36 3-.31 3-.27 3-.23 3-.2 3-.18 3-.15 2-.09"/><path d="M-3 46l1.4-3.69 1.1-2.69 2.5-5.5 2-3.84 2-3.41 2-3.03 2-2.69 2-2.38 2-2.11 2-1.88 2-1.67 2-1.47 2-1.31 2-1.17 2-1.03 2-.92 2-.81 3-1.05 3-.88 3-.73 3-.61 3-.52 3-.43 3-.35 3-.3 3-.25 3-.21 3-.18 3-.15 3-.12 3-.1 3-.09 3-.07 2-.04"/><path d="M-3 47.52l1.4-3.84 1.1-2.79 2.5-5.71 2-3.99 2-3.53 2-3.14 2-2.77 2-2.47 2-2.18 2-1.94 2-1.72 2-1.52 2-1.35 2-1.2 2-1.06 2-.94 2-.84 3-1.08 3-.9 3-.75 3-.63 3-.52 3-.44 3-.36 3-.31 3-.25 3-.21 3-.18 3-.15 3-.12 3-.11 3-.08 3-.08 2-.04"/><path d="M-3 48.92l1.4-3.69 1.1-2.71 2.5-5.56 2-3.92 2-3.51 2-3.13 2-2.8 2-2.51 2-2.23 2-2 2-1.79 2-1.6 2-1.43 2-1.28 2-1.14 2-1.02 2-.91 3-1.19 3-1.01 3-.85 3-.72 3-.61 3-.51 3-.43 3-.37 3-.31 3-.26 3-.22 3-.19 3-.16 3-.13 3-.11 3-.1 2-.05"/><path d="M-3 50.47l1.4-3.31 1.1-2.45 2.5-5.1 2-3.66 2-3.32 2-3.01 2-2.74 2-2.48 2-2.26 2-2.04 2-1.86 2-1.68 2-1.53 2-1.39 2-1.26 2-1.14 2-1.04 3-1.38 3-1.19 3-1.04 3-.89 3-.77 3-.67 3-.57 3-.5 3-.43 3-.38 3-.32 3-.28 3-.24 3-.21 3-.18 3-.15 2-.1"/><path d="M-3 52.8l1.4-4.2 1.1-3.06 2.5-6.26 2-4.38 2-3.89 2-3.46 2-3.07 2-2.73 2-2.43 2-2.15 2-1.92 2-1.7 2-1.51 2-1.34 2-1.2 2-1.06 2-.94 3-1.22 3-1.02 3-.85 3-.72 3-.6 3-.5 3-.42 3-.36 3-.29 3-.25 3-.2 3-.18 3-.14 3-.12 3-.11 3-.08 2-.05"/></g><g stroke-opacity=".03" stroke-width="4.5"><path d="M-3 18.16l1.4-1.2 1.1-.89 2.5-1.84 2-1.32 2-1.2 2-1.09 2-.99 2-.89 2-.82 2-.73 2-.67 2-.61 2-.55 2-.49 2-.46 2-.41 2-.37 3-.49 3-.43 3-.37 3-.32 3-.27 3-.24 3-.21 3-.17 3-.16 3-.13 3-.11 3-.1 3-.09 3-.07 3-.07 3-.05 2-.03"/><path d="M-3 18.7l1.4-1.31 1.1-.96 2.5-1.99 2-1.42 2-1.28 2-1.15 2-1.04 2-.94 2-.85 2-.76 2-.69 2-.62 2-.56 2-.5 2-.46 2-.41 2-.37 3-.48 3-.42 3-.36 3-.31 3-.26 3-.22 3-.19 3-.17 3-.14 3-.12 3-.1 3-.09 3-.08 3-.06 3-.06 3-.05 2-.02"/><path d="M-3 19.58l1.4-1.31 1.1-.97 2.5-2.01 2-1.45 2-1.3 2-1.19 2-1.07 2-.97 2-.88 2-.79 2-.72 2-.66 2-.59 2-.53 2-.49 2-.44 2-.39 3-.53 3-.46 3-.39 3-.33 3-.3 3-.25 3-.21 3-.19 3-.16 3-.14 3-.12 3-.1 3-.09 3-.07 3-.07 3-.06 2-.03"/><path d="M-3 21.22l1.4-1.34 1.1-.99 2.5-2.08 2-1.5 2-1.36 2-1.24 2-1.13 2-1.03 2-.94 2-.86 2-.78 2-.71 2-.64 2-.59 2-.54 2-.49 2-.44 3-.6 3-.52 3-.45 3-.39 3-.34 3-.29 3-.26 3-.22 3-.2 3-.16 3-.15 3-.13 3-.11 3-.1 3-.08 3-.07 2-.05"/><path d="M-3 22.23l1.4-1.42 1.1-1.05 2.5-2.19 2-1.58 2-1.44 2-1.31 2-1.19 2-1.08 2-.99 2-.9 2-.81 2-.75 2-.67 2-.62 2-.56 2-.51 2-.46 3-.62 3-.54 3-.47 3-.4 3-.35 3-.31 3-.26 3-.23 3-.2 3-.18 3-.15 3-.13 3-.11 3-.1 3-.09 3-.07 2-.04"/><path d="M-3 22.96l1.4-1.56 1.1-1.15 2.5-2.39 2-1.71 2-1.54 2-1.4 2-1.26 2-1.14 2-1.04 2-.93 2-.85 2-.76 2-.69 2-.63 2-.56 2-.51 2-.47 3-.61 3-.52 3-.46 3-.39 3-.33 3-.29 3-.25 3-.21 3-.18 3-.16 3-.14 3-.11 3-.1 3-.09 3-.07 3-.07 2-.04"/><path d="M-3 23.83l1.4-1.41 1.1-1.04 2.5-2.2 2-1.6 2-1.46 2-1.34 2-1.23 2-1.13 2-1.03 2-.95 2-.87 2-.8 2-.73 2-.67 2-.61 2-.56 2-.52 3-.69 3-.61 3-.54 3-.47 3-.41 3-.36 3-.32 3-.28 3-.24 3-.22 3-.19 3-.16 3-.15 3-.12 3-.12 3-.09 2-.06"/><path d="M-3 25.09l1.4-2 1.1-1.46 2.5-2.98 2-2.08 2-1.86 2-1.64 2-1.46 2-1.3 2-1.15 2-1.03 2-.91 2-.8 2-.72 2-.64 2-.56 2-.51 2-.44 3-.58 3-.49 3-.4 3-.34 3-.28 3-.24 3-.2 3-.17 3-.13 3-.12 3-.1 3-.08 3-.07 3-.06 3-.04 3-.04 2-.03"/><path d="M-3 26.43l1.4-1.77 1.1-1.3 2.5-2.72 2-1.95 2-1.76 2-1.59 2-1.45 2-1.31 2-1.18 2-1.08 2-.97 2-.88 2-.8 2-.72 2-.65 2-.6 2-.54 3-.71 3-.61 3-.53 3-.46 3-.39 3-.34 3-.29 3-.25 3-.22 3-.19 3-.16 3-.14 3-.12 3-.1 3-.09 3-.08 2-.04"/><path d="M-3 27.09l1.4-1.86 1.1-1.38 2.5-2.85 2-2.04 2-1.84 2-1.66 2-1.5 2-1.35 2-1.22 2-1.11 2-.99 2-.9 2-.82 2-.73 2-.66 2-.6 2-.54 3-.72 3-.61 3-.53 3-.45 3-.39 3-.33 3-.28 3-.25 3-.21 3-.18 3-.15 3-.14 3-.11 3-.1 3-.08 3-.07 2-.05"/><path d="M-3 28.6l1.4-2.02 1.1-1.48 2.5-3.07 2-2.19 2-1.97 2-1.77 2-1.6 2-1.43 2-1.3 2-1.17 2-1.05 2-.95 2-.85 2-.77 2-.69 2-.62 2-.57 3-.74 3-.63 3-.54 3-.46 3-.4 3-.34 3-.29 3-.24 3-.21 3-.18 3-.16 3-.13 3-.11 3-.1 3-.08 3-.07 2-.05"/><path d="M-3 29.55l1.4-2.35 1.1-1.71 2.5-3.5 2-2.45 2-2.18 2-1.93 2-1.72 2-1.53 2-1.36 2-1.2 2-1.07 2-.96 2-.84 2-.75 2-.67 2-.6 2-.52 3-.69 3-.57 3-.48 3-.4 3-.34 3-.28 3-.23 3-.2 3-.17 3-.13 3-.12 3-.1 3-.08 3-.07 3-.06 3-.04 2-.03"/><path d="M-3 30.76l1.4-2 1.1-1.48 2.5-3.09 2-2.22 2-2.01 2-1.83 2-1.66 2-1.51 2-1.37 2-1.24 2-1.13 2-1.03 2-.93 2-.85 2-.77 2-.7 2-.64 3-.84 3-.74 3-.63 3-.55 3-.47 3-.42 3-.35 3-.31 3-.27 3-.23 3-.2 3-.17 3-.15 3-.13 3-.11 3-.1 2-.06"/><path d="M-3 32.22l1.4-2.81 1.1-2.03 2.5-4.12 2-2.84 2-2.49 2-2.19 2-1.93 2-1.68 2-1.48 2-1.3 2-1.15 2-1 2-.88 2-.77 2-.68 2-.59 2-.53 3-.66 3-.55 3-.45 3-.37 3-.31 3-.25 3-.2 3-.17 3-.14 3-.12 3-.09 3-.08 3-.06 3-.06 3-.04 3-.04 2-.02"/><path d="M-3 32.78l1.4-2.3 1.1-1.7 2.5-3.51 2-2.49 2-2.26 2-2.02 2-1.83 2-1.65 2-1.48 2-1.34 2-1.21 2-1.08 2-.98 2-.88 2-.8 2-.72 2-.64 3-.85 3-.73 3-.62 3-.54 3-.45 3-.39 3-.34 3-.28 3-.25 3-.2 3-.18 3-.16 3-.13 3-.11 3-.09 3-.09 2-.04"/><path d="M-3 34.22l1.4-2.51 1.1-1.83 2.5-3.79 2-2.68 2-2.4 2-2.16 2-1.94 2-1.74 2-1.55 2-1.4 2-1.26 2-1.12 2-1.01 2-.91 2-.82 2-.73 2-.65 3-.86 3-.73 3-.62 3-.53 3-.44 3-.38 3-.33 3-.27 3-.24 3-.19 3-.17 3-.15 3-.12 3-.1 3-.09 3-.08 2-.04"/><path d="M-3 35.32l1.4-2.35 1.1-1.74 2.5-3.63 2-2.59 2-2.35 2-2.13 2-1.93 2-1.75 2-1.58 2-1.43 2-1.3 2-1.18 2-1.07 2-.97 2-.87 2-.8 2-.71 3-.96 3-.82 3-.71 3-.61 3-.53 3-.46 3-.39 3-.34 3-.29 3-.25 3-.22 3-.19 3-.16 3-.14 3-.12 3-.1 2-.06"/></g><g stroke-opacity=".04" stroke-width="3.0"><path d="M-3 18.16l1.4-1.24 1.1-.91 2.5-1.9 2-1.35 2-1.22 2-1.11 2-1 2-.9 2-.82 2-.74 2-.67 2-.6 2-.55 2-.49 2-.45 2-.4 2-.37 3-.48 3-.42 3-.35 3-.31 3-.26 3-.23 3-.19 3-.17 3-.15 3-.12 3-.11 3-.09 3-.08 3-.07 3-.05 3-.05 2-.03"/><path d="M-3 18.7l1.4-1.35 1.1-.99 2.5-2.05 2-1.45 2-1.3 2-1.17 2-1.05 2-.95 2-.85 2-.76 2-.69 2-.62 2-.55 2-.5 2-.45 2-.4 2-.36 3-.48 3-.4 3-.35 3-.29 3-.25 3-.21 3-.19 3-.15 3-.13 3-.11 3-.1 3-.08 3-.07 3-.06 3-.05 3-.04 2-.03"/><path d="M-3 19.58l1.4-1.35 1.1-1 2.5-2.07 2-1.47 2-1.34 2-1.2 2-1.08 2-.98 2-.89 2-.8 2-.72 2-.65 2-.58 2-.53 2-.48 2-.43 2-.39 3-.52 3-.44 3-.38 3-.32 3-.28 3-.24 3-.21 3-.17 3-.15 3-.13 3-.11 3-.1 3-.08 3-.07 3-.06 3-.05 2-.03"/><path d="M-3 21.22l1.4-1.38 1.1-1.03 2.5-2.13 2-1.53 2-1.39 2-1.27 2-1.14 2-1.04 2-.95 2-.86 2-.78 2-.71 2-.64 2-.59 2-.53 2-.48 2-.44 3-.58 3-.51 3-.43 3-.38 3-.33 3-.28 3-.24 3-.22 3-.18 3-.16 3-.14 3-.12 3-.1 3-.09 3-.07 3-.07 2-.04"/><path d="M-3 22.23l1.4-1.46 1.1-1.09 2.5-2.25 2-1.62 2-1.46 2-1.33 2-1.21 2-1.1 2-.99 2-.9 2-.82 2-.74 2-.67 2-.61 2-.56 2-.5 2-.46 3-.6 3-.53 3-.45 3-.39 3-.34 3-.29 3-.25 3-.22 3-.19 3-.16 3-.14 3-.13 3-.1 3-.09 3-.08 3-.07 2-.04"/><path d="M-3 22.96l1.4-1.61 1.1-1.19 2.5-2.45 2-1.74 2-1.58 2-1.42 2-1.28 2-1.15 2-1.04 2-.93 2-.85 2-.76 2-.69 2-.61 2-.56 2-.5 2-.46 3-.59 3-.52 3-.43 3-.38 3-.32 3-.27 3-.24 3-.2 3-.17 3-.15 3-.12 3-.11 3-.09 3-.08 3-.07 3-.06 2-.03"/><path d="M-3 23.83l1.4-1.45 1.1-1.08 2.5-2.26 2-1.63 2-1.5 2-1.36 2-1.25 2-1.14 2-1.05 2-.95 2-.87 2-.8 2-.73 2-.67 2-.6 2-.56 2-.51 3-.68 3-.6 3-.52 3-.46 3-.4 3-.34 3-.31 3-.26 3-.24 3-.2 3-.18 3-.15 3-.14 3-.12 3-.1 3-.09 2-.06"/><path d="M-3 25.09l1.4-2.07 1.1-1.5 2.5-3.05 2-2.13 2-1.88 2-1.67 2-1.47 2-1.31 2-1.15 2-1.02 2-.91 2-.8 2-.7 2-.63 2-.55 2-.49 2-.44 3-.55 3-.47 3-.38 3-.33 3-.26 3-.23 3-.18 3-.16 3-.12 3-.11 3-.09 3-.07 3-.06 3-.06 3-.04 3-.03 2-.02"/><path d="M-3 26.43l1.4-1.82 1.1-1.35 2.5-2.79 2-1.99 2-1.79 2-1.62 2-1.47 2-1.32 2-1.19 2-1.08 2-.97 2-.88 2-.79 2-.72 2-.65 2-.58 2-.53 3-.69 3-.6 3-.51 3-.44 3-.38 3-.32 3-.28 3-.23 3-.21 3-.17 3-.15 3-.13 3-.11 3-.1 3-.08 3-.07 2-.04"/><path d="M-3 27.09l1.4-1.92 1.1-1.42 2.5-2.93 2-2.08 2-1.87 2-1.69 2-1.52 2-1.36 2-1.23 2-1.11 2-.99 2-.9 2-.81 2-.72 2-.66 2-.59 2-.52 3-.7 3-.6 3-.5 3-.44 3-.37 3-.31 3-.27 3-.23 3-.2 3-.17 3-.14 3-.12 3-.11 3-.09 3-.07 3-.07 2-.04"/><path d="M-3 28.6l1.4-2.08 1.1-1.53 2.5-3.15 2-2.24 2-2 2-1.8 2-1.62 2-1.45 2-1.3 2-1.17 2-1.05 2-.94 2-.85 2-.76 2-.68 2-.61 2-.55 3-.72 3-.61 3-.52 3-.45 3-.37 3-.32 3-.28 3-.23 3-.2 3-.16 3-.15 3-.12 3-.1 3-.09 3-.07 3-.07 2-.04"/><path d="M-3 29.55l1.4-2.42 1.1-1.76 2.5-3.59 2-2.5 2-2.22 2-1.96 2-1.73 2-1.54 2-1.36 2-1.2 2-1.07 2-.94 2-.83 2-.74 2-.65 2-.58 2-.51 3-.66 3-.55 3-.46 3-.38 3-.32 3-.26 3-.22 3-.19 3-.15 3-.13 3-.1 3-.09 3-.07 3-.07 3-.05 3-.04 2-.02"/><path d="M-3 30.76l1.4-2.07 1.1-1.52 2.5-3.17 2-2.27 2-2.05 2-1.86 2-1.68 2-1.53 2-1.38 2-1.25 2-1.13 2-1.02 2-.93 2-.84 2-.76 2-.69 2-.63 3-.83 3-.71 3-.61 3-.53 3-.46 3-.39 3-.34 3-.29 3-.25 3-.22 3-.19 3-.16 3-.14 3-.12 3-.1 3-.09 2-.05"/><path d="M-3 32.22l1.4-2.9 1.1-2.09 2.5-4.21 2-2.9 2-2.54 2-2.21 2-1.94 2-1.69 2-1.48 2-1.29 2-1.13 2-.99 2-.86 2-.75 2-.66 2-.58 2-.5 3-.64 3-.52 3-.43 3-.35 3-.29 3-.23 3-.19 3-.15 3-.13 3-.11 3-.08 3-.07 3-.06 3-.04 3-.04 3-.03 2-.02"/><path d="M-3 32.78l1.4-2.37 1.1-1.75 2.5-3.6 2-2.56 2-2.29 2-2.06 2-1.85 2-1.66 2-1.49 2-1.34 2-1.21 2-1.08 2-.97 2-.87 2-.78 2-.7 2-.64 3-.82 3-.71 3-.6 3-.51 3-.44 3-.37 3-.31 3-.27 3-.23 3-.19 3-.17 3-.14 3-.12 3-.1 3-.08 3-.08 2-.04"/><path d="M-3 34.22l1.4-2.58 1.1-1.89 2.5-3.89 2-2.74 2-2.45 2-2.19 2-1.96 2-1.75 2-1.56 2-1.4 2-1.25 2-1.12 2-1 2-.89 2-.8 2-.72 2-.64 3-.83 3-.71 3-.59 3-.51 3-.42 3-.36 3-.31 3-.25 3-.22 3-.18 3-.16 3-.13 3-.11 3-.1 3-.08 3-.06 2-.04"/><path d="M-3 35.32l1.4-2.43 1.1-1.79 2.5-3.72 2-2.65 2-2.4 2-2.16 2-1.96 2-1.76 2-1.6 2-1.43 2-1.3 2-1.18 2-1.06 2-.96 2-.86 2-.78 2-.71 3-.93 3-.8 3-.68 3-.59 3-.51 3-.43 3-.38 3-.32 3-.27 3-.23 3-.21 3-.17 3-.15 3-.13 3-.11 3-.09 2-.06"/></g><g stroke-opacity=".04" stroke-width="4.5"><path d="M-3 .09l1.4-.01h1.1l2.5-.01h2l2-.01h2l2-.01h2l2-.01h2h2l2-.01h2h2h2l2-.01h2h3h3l3-.01h3h3h3h3h3h3h3h3l3-.01h3h3h3h3h2"/><path d="M-3 .56l1.4-.03 1.1-.02 2.5-.05 2-.04 2-.03 2-.03 2-.03 2-.03 2-.02 2-.02 2-.02 2-.02 2-.02 2-.01 2-.02 2-.01 2-.01 3-.02 3-.02 3-.01 3-.01 3-.01 3-.01 3-.01 3-.01h3l3-.01h3l3-.01h3h3l3-.01h3h2"/><path d="M-3 .67l1.4-.03 1.1-.03 2.5-.06 2-.04 2-.04 2-.03 2-.04 2-.03 2-.02 2-.03 2-.02 2-.03 2-.02 2-.02 2-.01 2-.02 2-.02 3-.02 3-.01 3-.02 3-.01 3-.02 3-.01 3-.01 3-.01 3-.01h3l3-.01 3-.01h3h3l3-.01h3h2"/><path d="M-3 .53l1.4-.03 1.1-.02 2.5-.05 2-.04 2-.03 2-.03 2-.03 2-.02 2-.02 2-.02 2-.02 2-.02 2-.02 2-.01 2-.02 2-.01 2-.01 3-.02 3-.01 3-.01 3-.01 3-.01 3-.01 3-.01h3l3-.01h3l3-.01h3l3-.01h3h3h3h2"/><path d="M-3 1.29l1.4-.07 1.1-.06 2.5-.11 2-.08 2-.08 2-.07 2-.07 2-.06 2-.05 2-.05 2-.05 2-.04 2-.04 2-.04 2-.03 2-.03 2-.03 3-.04 3-.03 3-.03 3-.03 3-.02 3-.02 3-.02 3-.02 3-.01 3-.01 3-.02 3-.01h3l3-.01 3-.01h3l2-.01"/><path d="M-3 1.56l1.4-.08 1.1-.06 2.5-.13 2-.1 2-.09 2-.08 2-.08 2-.07 2-.06 2-.06 2-.06 2-.05 2-.05 2-.04 2-.04 2-.04 2-.04 3-.04 3-.05 3-.03 3-.04 3-.03 3-.02 3-.03 3-.02 3-.02 3-.01 3-.02 3-.01 3-.01 3-.01 3-.01 3-.01 2-.01"/><path d="M-3 1.31l1.4-.07 1.1-.05 2.5-.11 2-.08 2-.07 2-.07 2-.06 2-.06 2-.05 2-.05 2-.05 2-.04 2-.04 2-.04 2-.03 2-.03 2-.03 3-.04 3-.04 3-.03 3-.03 3-.03 3-.02 3-.02 3-.02 3-.01 3-.02 3-.01 3-.01 3-.01 3-.01 3-.01 3-.01h2"/><path d="M-3 2.08l1.4-.11 1.1-.09 2.5-.18 2-.14 2-.12 2-.11 2-.11 2-.09 2-.09 2-.08 2-.08 2-.07 2-.06 2-.06 2-.05 2-.05 2-.05 3-.06 3-.06 3-.05 3-.04 3-.04 3-.03 3-.03 3-.03 3-.02 3-.02 3-.02 3-.02 3-.01 3-.01 3-.01 3-.01 2-.01"/><path d="M-3 2.28l1.4-.12 1.1-.09 2.5-.19 2-.14 2-.12 2-.12 2-.11 2-.1 2-.1 2-.08 2-.08 2-.08 2-.07 2-.06 2-.06 2-.06 2-.05 3-.07 3-.06 3-.06 3-.05 3-.04 3-.04 3-.04 3-.03 3-.03 3-.02 3-.02 3-.02 3-.02 3-.02 3-.01 3-.01 2-.01"/><path d="M-3 2.47l1.4-.14 1.1-.11 2.5-.23 2-.16 2-.15 2-.14 2-.13 2-.11 2-.11 2-.1 2-.09 2-.08 2-.08 2-.07 2-.06 2-.06 2-.05 3-.08 3-.06 3-.06 3-.04 3-.05 3-.04 3-.03 3-.03 3-.02 3-.03 3-.02 3-.01 3-.02 3-.01 3-.01 3-.01 2-.01"/><path d="M-3 3.08l1.4-.17 1.1-.12 2.5-.26 2-.2 2-.17 2-.17 2-.15 2-.14 2-.13 2-.11 2-.12 2-.1 2-.09 2-.09 2-.08 2-.07 2-.07 3-.1 3-.08 3-.07 3-.07 3-.06 3-.05 3-.04 3-.04 3-.04 3-.03 3-.03 3-.03 3-.02 3-.02 3-.02 3-.01 2-.01"/><path d="M-3 3.77l1.4-.22 1.1-.17 2.5-.35 2-.25 2-.23 2-.21 2-.19 2-.18 2-.16 2-.15 2-.14 2-.13 2-.11 2-.11 2-.09 2-.09 2-.09 3-.11 3-.09 3-.09 3-.07 3-.07 3-.05 3-.05 3-.05 3-.04 3-.03 3-.03 3-.03 3-.02 3-.02 3-.02 3-.02 2-.01"/><path d="M-3 3.88l1.4-.21 1.1-.16 2.5-.34 2-.24 2-.23 2-.21 2-.19 2-.18 2-.16 2-.15 2-.14 2-.13 2-.12 2-.11 2-.1 2-.1 2-.08 3-.12 3-.1 3-.09 3-.09 3-.07 3-.06 3-.06 3-.05 3-.04 3-.04 3-.04 3-.03 3-.03 3-.02 3-.02 3-.02 2-.01"/><path d="M-3 4.54l1.4-.25 1.1-.18 2.5-.4 2-.28 2-.27 2-.24 2-.23 2-.21 2-.19 2-.18 2-.16 2-.15 2-.14 2-.13 2-.12 2-.11 2-.1 3-.14 3-.12 3-.1 3-.1 3-.08 3-.08 3-.06 3-.06 3-.06 3-.04 3-.04 3-.04 3-.03 3-.03 3-.02 3-.03 2-.01"/><path d="M-3 5.34l1.4-.29 1.1-.21 2.5-.45 2-.33 2-.3 2-.28 2-.27 2-.24 2-.22 2-.21 2-.19 2-.17 2-.17 2-.15 2-.14 2-.13 2-.12 3-.16 3-.14 3-.13 3-.12 3-.1 3-.09 3-.08 3-.07 3-.07 3-.05 3-.05 3-.05 3-.04 3-.03 3-.04 3-.02 2-.02"/><path d="M-3 5.58l1.4-.3 1.1-.24 2.5-.48 2-.36 2-.33 2-.3 2-.28 2-.26 2-.23 2-.22 2-.2 2-.19 2-.17 2-.16 2-.14 2-.14 2-.12 3-.17 3-.15 3-.13 3-.11 3-.11 3-.09 3-.08 3-.07 3-.06 3-.06 3-.05 3-.04 3-.04 3-.04 3-.03 3-.02 2-.02"/><path d="M-3 6.62l1.4-.5 1.1-.37 2.5-.76 2-.54 2-.47 2-.43 2-.38 2-.34 2-.3 2-.28 2-.24 2-.21 2-.2 2-.17 2-.15 2-.14 2-.12 3-.16 3-.13 3-.12 3-.09 3-.08 3-.07 3-.06 3-.05 3-.04 3-.03 3-.03 3-.03 3-.02 3-.02 3-.01 3-.01 2-.01"/><path d="M-3 7.03l1.4-.45 1.1-.34 2.5-.69 2-.51 2-.45 2-.41 2-.38 2-.34 2-.32 2-.28 2-.26 2-.23 2-.22 2-.19 2-.18 2-.16 2-.15 3-.19 3-.17 3-.15 3-.12 3-.11 3-.1 3-.08 3-.08 3-.06 3-.05 3-.05 3-.04 3-.04 3-.03 3-.02 3-.03 2-.01"/><path d="M-3 7.7l1.4-.46 1.1-.34 2.5-.72 2-.52 2-.48 2-.44 2-.4 2-.37 2-.33 2-.31 2-.28 2-.26 2-.24 2-.21 2-.2 2-.18 2-.17 3-.22 3-.19 3-.17 3-.15 3-.14 3-.11 3-.1 3-.09 3-.08 3-.06 3-.06 3-.05 3-.05 3-.04 3-.03 3-.03 2-.02"/><path d="M-3 7.95l1.4-.63 1.1-.46 2.5-.94 2-.66 2-.58 2-.52 2-.47 2-.41 2-.36 2-.33 2-.29 2-.25 2-.23 2-.2 2-.18 2-.16 2-.15 3-.18 3-.15 3-.13 3-.11 3-.09 3-.08 3-.06 3-.05 3-.05 3-.04 3-.03 3-.02 3-.03 3-.01 3-.02 3-.01 2-.01"/><path d="M-3 8.66l1.4-.6 1.1-.45 2.5-.92 2-.65 2-.59 2-.54 2-.48 2-.43 2-.39 2-.36 2-.31 2-.29 2-.26 2-.23 2-.21 2-.2 2-.17 3-.22 3-.2 3-.16 3-.15 3-.12 3-.1 3-.09 3-.08 3-.07 3-.05 3-.05 3-.04 3-.04 3-.03 3-.02 3-.03 2-.01"/><path d="M-3 9.75l1.4-.69 1.1-.51 2.5-1.05 2-.74 2-.68 2-.6 2-.55 2-.49 2-.44 2-.4 2-.35 2-.33 2-.29 2-.26 2-.24 2-.21 2-.19 3-.25 3-.22 3-.18 3-.16 3-.13 3-.12 3-.09 3-.09 3-.07 3-.06 3-.05 3-.05 3-.04 3-.03 3-.03 3-.02 2-.01"/><path d="M-3 10.17l1.4-.63 1.1-.47 2.5-.99 2-.71 2-.65 2-.59 2-.54 2-.49 2-.45 2-.4 2-.38 2-.34 2-.31 2-.28 2-.26 2-.23 2-.22 3-.29 3-.25 3-.22 3-.19 3-.16 3-.15 3-.12 3-.11 3-.1 3-.08 3-.07 3-.06 3-.06 3-.05 3-.04 3-.03 2-.03"/><path d="M-3 11.17l1.4-.59 1.1-.44 2.5-.94 2-.69 2-.64 2-.58 2-.55 2-.5 2-.47 2-.43 2-.4 2-.37 2-.34 2-.32 2-.29 2-.27 2-.25 3-.34 3-.3 3-.28 3-.24 3-.21 3-.19 3-.17 3-.15 3-.13 3-.12 3-.11 3-.09 3-.09 3-.07 3-.07 3-.06 2-.04"/><path d="M-3 12.21l1.4-.91 1.1-.66 2.5-1.37 2-.96 2-.87 2-.77 2-.69 2-.63 2-.55 2-.5 2-.45 2-.4 2-.36 2-.32 2-.29 2-.26 2-.23 3-.3 3-.26 3-.22 3-.18 3-.16 3-.13 3-.11 3-.1 3-.08 3-.07 3-.06 3-.04 3-.05 3-.03 3-.03 3-.03 2-.01"/><path d="M-3 12.79l1.4-.84 1.1-.62 2.5-1.29 2-.92 2-.84 2-.77 2-.69 2-.63 2-.57 2-.52 2-.47 2-.43 2-.39 2-.35 2-.32 2-.29 2-.26 3-.35 3-.3 3-.26 3-.23 3-.2 3-.17 3-.14 3-.13 3-.11 3-.09 3-.09 3-.07 3-.06 3-.05 3-.05 3-.04 2-.02"/><path d="M-3 13.51l1.4-1.12 1.1-.81 2.5-1.65 2-1.15 2-1.02 2-.9 2-.79 2-.7 2-.63 2-.54 2-.49 2-.43 2-.38 2-.34 2-.29 2-.27 2-.23 3-.3 3-.25 3-.2 3-.17 3-.15 3-.11 3-.1 3-.09 3-.06 3-.06 3-.05 3-.04 3-.03 3-.03 3-.02 3-.02 2-.01"/><path d="M-3 14.11l1.4-1 1.1-.73 2.5-1.52 2-1.08 2-.98 2-.87 2-.79 2-.71 2-.64 2-.58 2-.52 2-.46 2-.42 2-.38 2-.34 2-.31 2-.28 3-.36 3-.31 3-.27 3-.23 3-.19 3-.17 3-.14 3-.12 3-.1 3-.09 3-.08 3-.06 3-.06 3-.04 3-.04 3-.04 2-.02"/><path d="M-3 15l1.4-.95 1.1-.69 2.5-1.46 2-1.06 2-.96 2-.87 2-.8 2-.72 2-.67 2-.6 2-.55 2-.5 2-.46 2-.42 2-.38 2-.34 2-.32 3-.42 3-.37 3-.32 3-.27 3-.25 3-.21 3-.18 3-.16 3-.14 3-.12 3-.1 3-.1 3-.08 3-.07 3-.06 3-.05 2-.03"/><path d="M-3 15.97l1.4-1.03 1.1-.76 2.5-1.59 2-1.14 2-1.03 2-.95 2-.85 2-.78 2-.71 2-.65 2-.59 2-.53 2-.48 2-.45 2-.4 2-.36 2-.33 3-.45 3-.38 3-.33 3-.29 3-.25 3-.22 3-.19 3-.16 3-.14 3-.13 3-.1 3-.1 3-.08 3-.07 3-.06 3-.05 2-.03"/><path d="M-3 17.37l1.4-1.22 1.1-.9 2.5-1.85 2-1.33 2-1.19 2-1.07 2-.97 2-.87 2-.79 2-.71 2-.64 2-.57 2-.52 2-.47 2-.42 2-.38 2-.34 3-.45 3-.39 3-.33 3-.28 3-.25 3-.2 3-.18 3-.15 3-.13 3-.11 3-.1 3-.08 3-.07 3-.06 3-.05 3-.04 2-.03"/></g><g stroke-opacity=".05" stroke-width="2.0"><path d="M-3 36.64l1.4-2.47 1.1-1.83 2.5-3.8 2-2.71 2-2.46 2-2.22 2-2.02 2-1.82 2-1.64 2-1.49 2-1.35 2-1.22 2-1.11 2-1 2-.9 2-.82 2-.74 3-.98 3-.84 3-.73 3-.62 3-.54 3-.47 3-.39 3-.35 3-.29 3-.26 3-.22 3-.19 3-.16 3-.14 3-.12 3-.1 2-.06"/><path d="M-3 38.42l1.4-2.8 1.1-2.06 2.5-4.24 2-3 2-2.7 2-2.42 2-2.17 2-1.95 2-1.75 2-1.57 2-1.41 2-1.26 2-1.14 2-1.02 2-.91 2-.82 2-.74 3-.97 3-.82 3-.7 3-.59 3-.51 3-.43 3-.36 3-.31 3-.27 3-.22 3-.19 3-.17 3-.13 3-.12 3-.1 3-.09 2-.05"/><path d="M-3 39.14l1.4-3.34 1.1-2.42 2.5-4.92 2-3.4 2-3 2-2.64 2-2.32 2-2.05 2-1.8 2-1.59 2-1.39 2-1.23 2-1.08 2-.95 2-.84 2-.74 2-.65 3-.83 3-.69 3-.57 3-.46 3-.39 3-.32 3-.27 3-.21 3-.18 3-.15 3-.13 3-.1 3-.08 3-.07 3-.06 3-.05 2-.02"/><path d="M-3 41.11l1.4-3.04 1.1-2.23 2.5-4.6 2-3.25 2-2.91 2-2.61 2-2.34 2-2.09 2-1.88 2-1.68 2-1.51 2-1.35 2-1.21 2-1.08 2-.97 2-.87 2-.78 3-1.02 3-.86 3-.74 3-.62 3-.53 3-.44 3-.38 3-.32 3-.28 3-.23 3-.19 3-.17 3-.14 3-.12 3-.1 3-.09 2-.05"/><path d="M-3 42.03l1.4-3.49 1.1-2.54 2.5-5.17 2-3.59 2-3.17 2-2.81 2-2.48 2-2.19 2-1.93 2-1.71 2-1.51 2-1.33 2-1.18 2-1.04 2-.92 2-.81 2-.72 3-.92 3-.77 3-.64 3-.52 3-.44 3-.37 3-.3 3-.25 3-.21 3-.17 3-.15 3-.12 3-.09 3-.09 3-.07 3-.05 2-.03"/><path d="M-3 43.57l1.4-3.57 1.1-2.6 2.5-5.29 2-3.7 2-3.26 2-2.89 2-2.56 2-2.27 2-2 2-1.78 2-1.57 2-1.39 2-1.23 2-1.08 2-.97 2-.85 2-.75 3-.98 3-.8 3-.68 3-.56 3-.47 3-.39 3-.32 3-.27 3-.22 3-.19 3-.16 3-.13 3-.1 3-.09 3-.08 3-.06 2-.04"/><path d="M-3 44.87l1.4-2.93 1.1-2.16 2.5-4.52 2-3.24 2-2.95 2-2.67 2-2.43 2-2.2 2-2 2-1.82 2-1.65 2-1.5 2-1.36 2-1.24 2-1.12 2-1.02 2-.92 3-1.23 3-1.07 3-.92 3-.8 3-.69 3-.59 3-.52 3-.45 3-.39 3-.33 3-.29 3-.25 3-.22 3-.18 3-.17 3-.14 2-.08"/><path d="M-3 46l1.4-3.8 1.1-2.77 2.5-5.63 2-3.92 2-3.47 2-3.07 2-2.7 2-2.4 2-2.12 2-1.87 2-1.65 2-1.46 2-1.29 2-1.15 2-1.01 2-.89 2-.79 3-1.01 3-.85 3-.7 3-.58 3-.49 3-.4 3-.33 3-.28 3-.23 3-.19 3-.16 3-.14 3-.11 3-.09 3-.08 3-.06 2-.03"/><path d="M-3 47.52l1.4-3.96 1.1-2.87 2.5-5.85 2-4.06 2-3.59 2-3.18 2-2.8 2-2.48 2-2.18 2-1.93 2-1.71 2-1.51 2-1.33 2-1.17 2-1.04 2-.92 2-.81 3-1.04 3-.86 3-.72 3-.6 3-.49 3-.41 3-.34 3-.29 3-.23 3-.2 3-.16 3-.13 3-.11 3-.1 3-.07 3-.07 2-.03"/><path d="M-3 48.92l1.4-3.81 1.1-2.78 2.5-5.7 2-4 2-3.57 2-3.18 2-2.82 2-2.52 2-2.25 2-2 2-1.78 2-1.58 2-1.42 2-1.26 2-1.12 2-.99 2-.89 3-1.16 3-.97 3-.82 3-.68 3-.58 3-.48 3-.41 3-.34 3-.29 3-.24 3-.21 3-.17 3-.14 3-.12 3-.1 3-.09 2-.05"/><path d="M-3 50.47l1.4-3.42 1.1-2.51 2.5-5.24 2-3.74 2-3.38 2-3.06 2-2.78 2-2.5 2-2.27 2-2.05 2-1.86 2-1.68 2-1.52 2-1.38 2-1.24 2-1.13 2-1.02 3-1.35 3-1.16 3-1 3-.86 3-.74 3-.64 3-.55 3-.47 3-.41 3-.35 3-.3 3-.26 3-.22 3-.19 3-.17 3-.14 2-.08"/><path d="M-3 52.8l1.4-4.32 1.1-3.15 2.5-6.41 2-4.48 2-3.95 2-3.51 2-3.1 2-2.74 2-2.43 2-2.15 2-1.9 2-1.69 2-1.49 2-1.32 2-1.16 2-1.04 2-.91 3-1.18 3-.98 3-.82 3-.68 3-.57 3-.47 3-.39 3-.33 3-.27 3-.23 3-.19 3-.16 3-.13 3-.11 3-.09 3-.07 2-.05"/></g><g stroke-opacity=".05" stroke-width="3.0"><path d="M-3 .09l1.4-.01h1.1l2.5-.01 2-.01h2l2-.01h2h2l2-.01h2h2l2-.01h2h2l2-.01h2h2h3h3l3-.01h3h3h3h3h3h3h3l3-.01h3h3h3h3h3h2"/><path d="M-3 .56l1.4-.03 1.1-.03 2.5-.05 2-.03 2-.04 2-.03 2-.03 2-.02 2-.03 2-.02 2-.02 2-.02 2-.01 2-.02 2-.02 2-.01 2-.01 3-.02 3-.01 3-.01 3-.02 3-.01h3l3-.01 3-.01 3-.01h3l3-.01h3h3l3-.01h3h3h2"/><path d="M-3 .67l1.4-.03 1.1-.03 2.5-.06 2-.04 2-.04 2-.04 2-.03 2-.03 2-.03 2-.03 2-.02 2-.02 2-.03 2-.01 2-.02 2-.02 2-.01 3-.02 3-.02 3-.02 3-.01 3-.01 3-.01 3-.01 3-.01 3-.01 3-.01h3l3-.01h3l3-.01h3h3l2-.01"/><path d="M-3 .53l1.4-.03 1.1-.03 2.5-.04 2-.04 2-.03 2-.03 2-.03 2-.03 2-.02 2-.02 2-.02 2-.02 2-.01 2-.02 2-.01 2-.01 2-.02 3-.01 3-.02 3-.01 3-.01 3-.01h3l3-.01 3-.01h3l3-.01h3h3l3-.01h3h3l3-.01h2"/><path d="M-3 1.29l1.4-.07 1.1-.06 2.5-.12 2-.08 2-.08 2-.07 2-.07 2-.06 2-.06 2-.05 2-.04 2-.05 2-.04 2-.03 2-.04 2-.03 2-.03 3-.03 3-.04 3-.03 3-.02 3-.02 3-.02 3-.02 3-.02 3-.01 3-.01 3-.01 3-.01 3-.01 3-.01h3l3-.01h2"/><path d="M-3 1.56l1.4-.08 1.1-.07 2.5-.13 2-.1 2-.09 2-.08 2-.08 2-.07 2-.07 2-.06 2-.06 2-.05 2-.05 2-.04 2-.04 2-.04 2-.03 3-.05 3-.04 3-.04 3-.03 3-.03 3-.03 3-.02 3-.02 3-.02 3-.02 3-.01 3-.01 3-.01 3-.01 3-.01 3-.01h2"/><path d="M-3 1.31l1.4-.07 1.1-.05 2.5-.11 2-.08 2-.08 2-.07 2-.06 2-.06 2-.06 2-.05 2-.04 2-.05 2-.04 2-.03 2-.04 2-.03 2-.03 3-.04 3-.03 3-.04 3-.02 3-.03 3-.02 3-.02 3-.02 3-.01 3-.02 3-.01 3-.01 3-.01 3-.01 3-.01h3l2-.01"/><path d="M-3 2.08l1.4-.12 1.1-.09 2.5-.18 2-.14 2-.13 2-.11 2-.11 2-.1 2-.09 2-.08 2-.07 2-.07 2-.07 2-.05 2-.06 2-.05 2-.04 3-.07 3-.05 3-.05 3-.04 3-.04 3-.03 3-.03 3-.02 3-.03 3-.01 3-.02 3-.02 3-.01 3-.01 3-.01 3-.01 2-.01"/><path d="M-3 2.28l1.4-.13 1.1-.09 2.5-.19 2-.14 2-.13 2-.12 2-.11 2-.11 2-.09 2-.09 2-.08 2-.08 2-.07 2-.06 2-.06 2-.06 2-.05 3-.07 3-.06 3-.05 3-.05 3-.04 3-.04 3-.04 3-.03 3-.02 3-.03 3-.02 3-.02 3-.01 3-.02 3-.01 3-.02h2"/><path d="M-3 2.47l1.4-.15 1.1-.11 2.5-.23 2-.17 2-.15 2-.15 2-.12 2-.12 2-.11 2-.1 2-.09 2-.08 2-.08 2-.07 2-.06 2-.06 2-.05 3-.07 3-.06 3-.06 3-.05 3-.04 3-.03 3-.04 3-.02 3-.03 3-.02 3-.02 3-.02 3-.01 3-.01 3-.01 3-.01 2-.01"/><path d="M-3 3.08l1.4-.17 1.1-.13 2.5-.27 2-.2 2-.18 2-.16 2-.16 2-.14 2-.13 2-.12 2-.11 2-.1 2-.1 2-.08 2-.09 2-.07 2-.07 3-.09 3-.08 3-.07 3-.07 3-.05 3-.05 3-.05 3-.04 3-.03 3-.03 3-.03 3-.02 3-.03 3-.01 3-.02 3-.02 2-.01"/><path d="M-3 3.77l1.4-.23 1.1-.17 2.5-.36 2-.25 2-.24 2-.22 2-.19 2-.18 2-.17 2-.15 2-.14 2-.12 2-.12 2-.1 2-.1 2-.09 2-.08 3-.1 3-.1 3-.08 3-.07 3-.07 3-.05 3-.05 3-.04 3-.04 3-.03 3-.03 3-.03 3-.02 3-.02 3-.01 3-.02 2-.01"/><path d="M-3 3.88l1.4-.22 1.1-.16 2.5-.35 2-.25 2-.23 2-.22 2-.19 2-.18 2-.17 2-.15 2-.14 2-.13 2-.12 2-.11 2-.1 2-.09 2-.09 3-.11 3-.1 3-.09 3-.08 3-.07 3-.06 3-.06 3-.05 3-.04 3-.04 3-.03 3-.03 3-.03 3-.02 3-.02 3-.02 2-.01"/><path d="M-3 4.54l1.4-.26 1.1-.19 2.5-.4 2-.3 2-.27 2-.25 2-.23 2-.21 2-.19 2-.18 2-.16 2-.16 2-.14 2-.12 2-.12 2-.11 2-.1 3-.13 3-.12 3-.11 3-.09 3-.08 3-.08 3-.06 3-.06 3-.05 3-.04 3-.04 3-.03 3-.03 3-.03 3-.02 3-.02 2-.02"/><path d="M-3 5.34l1.4-.29 1.1-.22 2.5-.47 2-.33 2-.32 2-.28 2-.27 2-.24 2-.23 2-.21 2-.19 2-.18 2-.16 2-.15 2-.14 2-.13 2-.12 3-.16 3-.14 3-.13 3-.11 3-.1 3-.09 3-.07 3-.07 3-.06 3-.06 3-.05 3-.04 3-.04 3-.03 3-.03 3-.03 2-.01"/><path d="M-3 5.58l1.4-.31 1.1-.24 2.5-.5 2-.37 2-.33 2-.31 2-.29 2-.26 2-.24 2-.22 2-.2 2-.19 2-.17 2-.15 2-.15 2-.13 2-.12 3-.17 3-.15 3-.12 3-.12 3-.1 3-.09 3-.07 3-.07 3-.06 3-.05 3-.05 3-.04 3-.04 3-.03 3-.03 3-.02 2-.02"/><path d="M-3 6.62l1.4-.52 1.1-.38 2.5-.78 2-.55 2-.48 2-.43 2-.39 2-.34 2-.3 2-.27 2-.24 2-.22 2-.19 2-.17 2-.15 2-.13 2-.12 3-.16 3-.13 3-.1 3-.1 3-.07 3-.07 3-.05 3-.05 3-.03 3-.03 3-.03 3-.02 3-.02 3-.02 3-.01 3-.01 2-.01"/><path d="M-3 7.03l1.4-.47 1.1-.34 2.5-.72 2-.51 2-.46 2-.43 2-.38 2-.34 2-.32 2-.28 2-.26 2-.24 2-.21 2-.19 2-.18 2-.16 2-.14 3-.19 3-.17 3-.14 3-.12 3-.11 3-.09 3-.08 3-.07 3-.06 3-.05 3-.04 3-.04 3-.03 3-.03 3-.02 3-.03 2-.01"/><path d="M-3 7.7l1.4-.47 1.1-.36 2.5-.74 2-.53 2-.49 2-.45 2-.4 2-.37 2-.34 2-.31 2-.28 2-.26 2-.24 2-.21 2-.2 2-.18 2-.16 3-.22 3-.19 3-.17 3-.14 3-.13 3-.11 3-.09 3-.09 3-.07 3-.07 3-.05 3-.05 3-.04 3-.04 3-.03 3-.03 2-.02"/><path d="M-3 7.95l1.4-.65 1.1-.47 2.5-.97 2-.67 2-.6 2-.52 2-.47 2-.41 2-.37 2-.32 2-.29 2-.25 2-.23 2-.2 2-.17 2-.16 2-.14 3-.17 3-.15 3-.12 3-.11 3-.08 3-.07 3-.06 3-.05 3-.04 3-.04 3-.03 3-.02 3-.02 3-.02 3-.01 3-.01 2-.01"/><path d="M-3 8.66l1.4-.62 1.1-.46 2.5-.94 2-.67 2-.61 2-.54 2-.48 2-.44 2-.39 2-.36 2-.32 2-.28 2-.26 2-.23 2-.21 2-.19 2-.16 3-.22 3-.19 3-.16 3-.14 3-.12 3-.1 3-.08 3-.07 3-.06 3-.06 3-.04 3-.04 3-.03 3-.03 3-.02 3-.02 2-.02"/><path d="M-3 9.75l1.4-.71 1.1-.53 2.5-1.07 2-.77 2-.68 2-.61 2-.56 2-.49 2-.44 2-.4 2-.36 2-.32 2-.29 2-.26 2-.23 2-.21 2-.18 3-.25 3-.21 3-.17 3-.16 3-.12 3-.11 3-.09 3-.08 3-.07 3-.06 3-.05 3-.04 3-.03 3-.03 3-.03 3-.02 2-.01"/><path d="M-3 10.17l1.4-.65 1.1-.49 2.5-1.01 2-.73 2-.66 2-.6 2-.54 2-.5 2-.45 2-.42 2-.37 2-.34 2-.31 2-.28 2-.25 2-.24 2-.21 3-.28 3-.24 3-.22 3-.18 3-.16 3-.14 3-.12 3-.1 3-.09 3-.08 3-.07 3-.06 3-.05 3-.04 3-.04 3-.03 2-.02"/><path d="M-3 11.17l1.4-.61 1.1-.46 2.5-.96 2-.71 2-.65 2-.6 2-.55 2-.51 2-.47 2-.44 2-.4 2-.37 2-.34 2-.32 2-.29 2-.27 2-.25 3-.34 3-.29 3-.27 3-.23 3-.21 3-.19 3-.16 3-.15 3-.12 3-.12 3-.1 3-.09 3-.08 3-.07 3-.06 3-.06 2-.03"/><path d="M-3 12.21l1.4-.94 1.1-.68 2.5-1.4 2-.99 2-.88 2-.78 2-.7 2-.63 2-.56 2-.5 2-.44 2-.4 2-.36 2-.31 2-.29 2-.25 2-.22 3-.3 3-.25 3-.2 3-.18 3-.15 3-.13 3-.1 3-.09 3-.08 3-.06 3-.05 3-.05 3-.04 3-.03 3-.02 3-.03 2-.01"/><path d="M-3 12.79l1.4-.86 1.1-.64 2.5-1.33 2-.95 2-.85 2-.78 2-.7 2-.64 2-.57 2-.52 2-.47 2-.43 2-.38 2-.35 2-.32 2-.28 2-.26 3-.35 3-.29 3-.25 3-.22 3-.19 3-.16 3-.14 3-.12 3-.1 3-.09 3-.08 3-.06 3-.06 3-.05 3-.04 3-.04 2-.02"/><path d="M-3 13.51l1.4-1.15 1.1-.84 2.5-1.69 2-1.17 2-1.04 2-.91 2-.8 2-.7 2-.63 2-.54 2-.49 2-.42 2-.37 2-.33 2-.29 2-.26 2-.22 3-.29 3-.24 3-.19 3-.17 3-.13 3-.11 3-.09 3-.08 3-.06 3-.05 3-.05 3-.03 3-.03 3-.03 3-.02 3-.01 2-.01"/><path d="M-3 14.11l1.4-1.03 1.1-.75 2.5-1.56 2-1.11 2-.99 2-.89 2-.8 2-.72 2-.64 2-.58 2-.51 2-.47 2-.42 2-.37 2-.34 2-.3 2-.27 3-.35 3-.3 3-.26 3-.22 3-.18 3-.16 3-.13 3-.12 3-.09 3-.08 3-.07 3-.06 3-.05 3-.05 3-.03 3-.03 2-.02"/><path d="M-3 15l1.4-.98 1.1-.72 2.5-1.5 2-1.07 2-.98 2-.89 2-.81 2-.73 2-.67 2-.61 2-.55 2-.5 2-.46 2-.41 2-.38 2-.34 2-.31 3-.41 3-.36 3-.31 3-.27 3-.23 3-.2 3-.18 3-.15 3-.13 3-.11 3-.1 3-.09 3-.07 3-.07 3-.05 3-.05 2-.03"/><path d="M-3 15.97l1.4-1.06 1.1-.78 2.5-1.63 2-1.17 2-1.06 2-.96 2-.87 2-.79 2-.71 2-.65 2-.59 2-.53 2-.48 2-.44 2-.4 2-.36 2-.32 3-.44 3-.37 3-.32 3-.28 3-.24 3-.21 3-.18 3-.15 3-.14 3-.11 3-.1 3-.09 3-.07 3-.07 3-.05 3-.05 2-.03"/><path d="M-3 17.37l1.4-1.26 1.1-.92 2.5-1.91 2-1.35 2-1.22 2-1.09 2-.98 2-.88 2-.79 2-.71 2-.63 2-.58 2-.51 2-.46 2-.42 2-.37 2-.34 3-.43 3-.38 3-.32 3-.27 3-.23 3-.2 3-.16 3-.15 3-.12 3-.1 3-.09 3-.07 3-.07 3-.05 3-.05 3-.04 2-.02"/></g><g stroke-opacity=".05" stroke-width="4.5"><path d="M-3 0h83"/><path d="M-3 0h83"/></g><g stroke-opacity=".06" stroke-width="2.0"><path d="M-3 18.16l1.4-1.28 1.1-.94 2.5-1.94 2-1.38 2-1.25 2-1.12 2-1.01 2-.92 2-.82 2-.74 2-.67 2-.6 2-.54 2-.49 2-.44 2-.4 2-.35 3-.48 3-.4 3-.35 3-.29 3-.25 3-.22 3-.18 3-.16 3-.14 3-.11 3-.1 3-.09 3-.07 3-.06 3-.06 3-.04 2-.03"/><path d="M-3 18.7l1.4-1.39 1.1-1.02 2.5-2.1 2-1.48 2-1.33 2-1.18 2-1.07 2-.95 2-.86 2-.76 2-.69 2-.61 2-.55 2-.49 2-.44 2-.39 2-.36 3-.46 3-.39 3-.33 3-.29 3-.23 3-.21 3-.17 3-.14 3-.13 3-.1 3-.09 3-.07 3-.07 3-.05 3-.05 3-.04 2-.02"/><path d="M-3 19.58l1.4-1.39 1.1-1.03 2.5-2.12 2-1.51 2-1.36 2-1.22 2-1.09 2-.99 2-.89 2-.8 2-.72 2-.65 2-.58 2-.53 2-.47 2-.42 2-.38 3-.51 3-.42 3-.37 3-.31 3-.27 3-.23 3-.19 3-.17 3-.14 3-.12 3-.1 3-.09 3-.07 3-.07 3-.05 3-.05 2-.03"/><path d="M-3 21.22l1.4-1.42 1.1-1.06 2.5-2.19 2-1.56 2-1.42 2-1.29 2-1.16 2-1.05 2-.95 2-.87 2-.78 2-.7 2-.64 2-.58 2-.53 2-.47 2-.43 3-.57 3-.49 3-.43 3-.36 3-.32 3-.27 3-.23 3-.2 3-.17 3-.15 3-.13 3-.11 3-.1 3-.08 3-.07 3-.06 2-.04"/><path d="M-3 22.23l1.4-1.51 1.1-1.11 2.5-2.32 2-1.65 2-1.49 2-1.35 2-1.23 2-1.1 2-1 2-.91 2-.81 2-.74 2-.67 2-.61 2-.55 2-.49 2-.45 3-.59 3-.51 3-.44 3-.38 3-.32 3-.28 3-.24 3-.21 3-.18 3-.15 3-.13 3-.11 3-.1 3-.09 3-.07 3-.06 2-.04"/><path d="M-3 22.96l1.4-1.66 1.1-1.22 2.5-2.51 2-1.79 2-1.6 2-1.44 2-1.3 2-1.16 2-1.04 2-.94 2-.84 2-.76 2-.68 2-.61 2-.55 2-.49 2-.45 3-.58 3-.5 3-.42 3-.36 3-.3 3-.26 3-.23 3-.19 3-.16 3-.13 3-.12 3-.1 3-.08 3-.08 3-.06 3-.05 2-.03"/><path d="M-3 23.83l1.4-1.5 1.1-1.11 2.5-2.32 2-1.67 2-1.52 2-1.39 2-1.27 2-1.15 2-1.05 2-.96 2-.88 2-.8 2-.72 2-.66 2-.61 2-.55 2-.5 3-.67 3-.58 3-.51 3-.44 3-.39 3-.33 3-.29 3-.26 3-.22 3-.19 3-.17 3-.14 3-.13 3-.11 3-.1 3-.08 2-.05"/><path d="M-3 25.09l1.4-2.13 1.1-1.54 2.5-3.13 2-2.17 2-1.92 2-1.68 2-1.49 2-1.31 2-1.15 2-1.02 2-.9 2-.79 2-.69 2-.62 2-.54 2-.47 2-.42 3-.54 3-.45 3-.37 3-.3 3-.25 3-.21 3-.17 3-.15 3-.11 3-.1 3-.08 3-.07 3-.05 3-.05 3-.04 3-.03 2-.02"/><path d="M-3 26.43l1.4-1.88 1.1-1.38 2.5-2.87 2-2.03 2-1.83 2-1.64 2-1.48 2-1.34 2-1.2 2-1.08 2-.97 2-.87 2-.79 2-.71 2-.63 2-.58 2-.51 3-.68 3-.58 3-.49 3-.43 3-.36 3-.3 3-.27 3-.22 3-.19 3-.17 3-.14 3-.12 3-.1 3-.08 3-.08 3-.06 2-.04"/><path d="M-3 27.09l1.4-1.98 1.1-1.46 2.5-3 2-2.13 2-1.91 2-1.71 2-1.53 2-1.38 2-1.23 2-1.11 2-1 2-.89 2-.8 2-.71 2-.65 2-.57 2-.52 3-.68 3-.58 3-.49 3-.41 3-.35 3-.3 3-.26 3-.22 3-.18 3-.16 3-.13 3-.11 3-.1 3-.08 3-.07 3-.06 2-.03"/><path d="M-3 28.6l1.4-2.15 1.1-1.57 2.5-3.23 2-2.28 2-2.04 2-1.83 2-1.63 2-1.46 2-1.31 2-1.17 2-1.05 2-.93 2-.84 2-.75 2-.67 2-.6 2-.53 3-.71 3-.59 3-.5 3-.42 3-.36 3-.31 3-.25 3-.22 3-.19 3-.15 3-.13 3-.12 3-.09 3-.08 3-.07 3-.06 2-.03"/><path d="M-3 29.55l1.4-2.49 1.1-1.82 2.5-3.67 2-2.55 2-2.25 2-1.99 2-1.75 2-1.54 2-1.36 2-1.2 2-1.05 2-.94 2-.82 2-.72 2-.64 2-.56 2-.5 3-.64 3-.52 3-.44 3-.36 3-.3 3-.25 3-.2 3-.17 3-.14 3-.12 3-.1 3-.08 3-.06 3-.06 3-.04 3-.04 2-.02"/><path d="M-3 30.76l1.4-2.13 1.1-1.57 2.5-3.25 2-2.32 2-2.09 2-1.89 2-1.7 2-1.54 2-1.39 2-1.25 2-1.13 2-1.03 2-.92 2-.83 2-.75 2-.68 2-.61 3-.81 3-.69 3-.6 3-.51 3-.44 3-.37 3-.32 3-.28 3-.24 3-.2 3-.17 3-.15 3-.13 3-.11 3-.09 3-.08 2-.05"/><path d="M-3 32.22l1.4-2.98 1.1-2.15 2.5-4.32 2-2.95 2-2.57 2-2.24 2-1.95 2-1.69 2-1.47 2-1.29 2-1.11 2-.98 2-.84 2-.74 2-.64 2-.56 2-.48 3-.61 3-.5 3-.41 3-.32 3-.27 3-.22 3-.17 3-.14 3-.12 3-.09 3-.08 3-.06 3-.05 3-.04 3-.04 3-.02 2-.02"/><path d="M-3 32.78l1.4-2.45 1.1-1.79 2.5-3.7 2-2.6 2-2.34 2-2.09 2-1.87 2-1.67 2-1.5 2-1.34 2-1.2 2-1.08 2-.96 2-.86 2-.77 2-.69 2-.61 3-.81 3-.68 3-.58 3-.49 3-.41 3-.35 3-.3 3-.25 3-.21 3-.18 3-.16 3-.13 3-.11 3-.09 3-.08 3-.06 2-.04"/><path d="M-3 34.22l1.4-2.66 1.1-1.95 2.5-3.98 2-2.8 2-2.49 2-2.22 2-1.98 2-1.76 2-1.57 2-1.4 2-1.24 2-1.11 2-.99 2-.88 2-.78 2-.7 2-.63 3-.81 3-.68 3-.57 3-.48 3-.4 3-.34 3-.29 3-.24 3-.2 3-.17 3-.14 3-.12 3-.11 3-.08 3-.07 3-.06 2-.04"/><path d="M-3 35.32l1.4-2.5 1.1-1.85 2.5-3.81 2-2.71 2-2.44 2-2.2 2-1.98 2-1.78 2-1.6 2-1.44 2-1.3 2-1.17 2-1.05 2-.95 2-.85 2-.77 2-.69 3-.91 3-.78 3-.66 3-.57 3-.48 3-.41 3-.36 3-.3 3-.25 3-.22 3-.19 3-.16 3-.14 3-.12 3-.1 3-.08 2-.05"/></g><g stroke-opacity=".06" stroke-width="3.0"><path d="M-3 0h83"/><path d="M-3 0h83"/></g><g stroke-opacity=".08" stroke-width="2.0"><path d="M-3 .09l1.4-.01h1.1l2.5-.01 2-.01h2l2-.01h2l2-.01h2h2l2-.01h2h2h2l2-.01h2h2h3h3l3-.01h3h3h3h3h3h3h3l3-.01h3h3h3h3h3h2"/><path d="M-3 .56l1.4-.03 1.1-.03 2.5-.05 2-.04 2-.03 2-.03 2-.03 2-.03 2-.02 2-.03 2-.02 2-.01 2-.02 2-.02 2-.01 2-.01 2-.02 3-.01 3-.02 3-.01 3-.01 3-.01 3-.01 3-.01h3l3-.01h3l3-.01h3l3-.01h3h3h3h2"/><path d="M-3 .67l1.4-.03 1.1-.03 2.5-.06 2-.05 2-.04 2-.03 2-.04 2-.03 2-.03 2-.03 2-.02 2-.02 2-.02 2-.02 2-.02 2-.02 2-.01 3-.02 3-.02 3-.01 3-.02 3-.01 3-.01 3-.01 3-.01 3-.01h3l3-.01h3l3-.01h3h3l3-.01h2"/><path d="M-3 .53l1.4-.03 1.1-.03 2.5-.05 2-.03 2-.04 2-.03 2-.03 2-.02 2-.03 2-.02 2-.02 2-.01 2-.02 2-.01 2-.02 2-.01 2-.01 3-.02 3-.01 3-.01 3-.01 3-.01 3-.01h3l3-.01 3-.01h3h3l3-.01h3h3h3l3-.01h2"/><path d="M-3 1.29l1.4-.08 1.1-.05 2.5-.13 2-.08 2-.08 2-.08 2-.06 2-.06 2-.06 2-.05 2-.05 2-.04 2-.04 2-.04 2-.03 2-.03 2-.03 3-.04 3-.03 3-.03 3-.02 3-.02 3-.02 3-.02 3-.02 3-.01 3-.01 3-.01 3-.01 3-.01h3l3-.01h3l2-.01"/><path d="M-3 1.56l1.4-.09 1.1-.06 2.5-.14 2-.1 2-.09 2-.09 2-.08 2-.07 2-.07 2-.06 2-.05 2-.06 2-.04 2-.05 2-.04 2-.04 2-.03 3-.05 3-.04 3-.04 3-.03 3-.03 3-.02 3-.02 3-.02 3-.02 3-.01 3-.02 3-.01 3-.01 3-.01 3-.01 3-.01h2"/><path d="M-3 1.31l1.4-.07 1.1-.06 2.5-.11 2-.08 2-.08 2-.07 2-.06 2-.07 2-.05 2-.05 2-.05 2-.04 2-.04 2-.04 2-.03 2-.04 2-.02 3-.04 3-.04 3-.03 3-.03 3-.02 3-.02 3-.02 3-.02 3-.01 3-.02 3-.01 3-.01 3-.01 3-.01h3l3-.01h2"/><path d="M-3 2.08l1.4-.12 1.1-.09 2.5-.2 2-.14 2-.12 2-.12 2-.11 2-.1 2-.09 2-.08 2-.08 2-.07 2-.06 2-.06 2-.05 2-.05 2-.05 3-.06 3-.05 3-.05 3-.04 3-.03 3-.03 3-.03 3-.03 3-.02 3-.02 3-.01 3-.02 3-.01 3-.01 3-.01 3-.01h2"/><path d="M-3 2.28l1.4-.13 1.1-.09 2.5-.2 2-.15 2-.13 2-.12 2-.12 2-.1 2-.1 2-.09 2-.08 2-.07 2-.07 2-.07 2-.06 2-.05 2-.05 3-.07 3-.06 3-.05 3-.05 3-.04 3-.04 3-.03 3-.03 3-.03 3-.02 3-.02 3-.02 3-.02 3-.01 3-.01 3-.01 2-.01"/><path d="M-3 2.47l1.4-.15 1.1-.12 2.5-.24 2-.17 2-.15 2-.15 2-.13 2-.12 2-.11 2-.1 2-.09 2-.08 2-.08 2-.06 2-.07 2-.05 2-.06 3-.07 3-.06 3-.05 3-.05 3-.04 3-.03 3-.03 3-.03 3-.02 3-.02 3-.02 3-.02 3-.01 3-.01 3-.01 3-.01 2-.01"/><path d="M-3 3.08l1.4-.18 1.1-.13 2.5-.28 2-.2 2-.18 2-.17 2-.16 2-.14 2-.13 2-.13 2-.11 2-.1 2-.09 2-.09 2-.08 2-.07 2-.07 3-.09 3-.08 3-.07 3-.07 3-.05 3-.05 3-.04 3-.04 3-.03 3-.03 3-.03 3-.02 3-.02 3-.02 3-.01 3-.02 2-.01"/><path d="M-3 3.77l1.4-.24 1.1-.17 2.5-.37 2-.26 2-.24 2-.22 2-.2 2-.18 2-.17 2-.15 2-.14 2-.12 2-.12 2-.1 2-.1 2-.09 2-.08 3-.1 3-.1 3-.08 3-.07 3-.06 3-.05 3-.05 3-.04 3-.03 3-.03 3-.03 3-.02 3-.02 3-.02 3-.02 3-.01 2-.01"/><path d="M-3 3.88l1.4-.23 1.1-.17 2.5-.35 2-.26 2-.23 2-.22 2-.2 2-.18 2-.17 2-.15 2-.14 2-.13 2-.12 2-.11 2-.1 2-.09 2-.09 3-.11 3-.1 3-.09 3-.08 3-.07 3-.06 3-.05 3-.04 3-.04 3-.04 3-.03 3-.03 3-.02 3-.02 3-.02 3-.02 2-.01"/><path d="M-3 4.54l1.4-.26 1.1-.2 2.5-.42 2-.3 2-.27 2-.26 2-.23 2-.22 2-.19 2-.18 2-.17 2-.15 2-.14 2-.13 2-.11 2-.11 2-.1 3-.13 3-.12 3-.1 3-.09 3-.08 3-.07 3-.06 3-.06 3-.04 3-.05 3-.03 3-.04 3-.02 3-.03 3-.02 3-.02 2-.01"/><path d="M-3 5.34l1.4-.3 1.1-.23 2.5-.47 2-.35 2-.32 2-.29 2-.27 2-.25 2-.23 2-.21 2-.19 2-.18 2-.16 2-.15 2-.14 2-.13 2-.12 3-.16 3-.14 3-.12 3-.11 3-.09 3-.09 3-.07 3-.07 3-.06 3-.05 3-.05 3-.04 3-.03 3-.03 3-.03 3-.03 2-.01"/><path d="M-3 5.58l1.4-.32 1.1-.25 2.5-.51 2-.38 2-.34 2-.31 2-.29 2-.27 2-.24 2-.22 2-.2 2-.19 2-.17 2-.16 2-.14 2-.13 2-.13 3-.16 3-.14 3-.13 3-.11 3-.09 3-.09 3-.07 3-.07 3-.06 3-.05 3-.04 3-.04 3-.03 3-.03 3-.03 3-.02 2-.02"/><path d="M-3 6.62l1.4-.53 1.1-.4 2.5-.79 2-.56 2-.5 2-.43 2-.39 2-.35 2-.3 2-.27 2-.24 2-.21 2-.19 2-.17 2-.14 2-.13 2-.12 3-.15 3-.12 3-.11 3-.08 3-.08 3-.06 3-.05 3-.04 3-.03 3-.03 3-.03 3-.02 3-.01 3-.02 3-.01 3-.01 2-.01"/><path d="M-3 7.03l1.4-.48 1.1-.36 2.5-.73 2-.52 2-.48 2-.43 2-.38 2-.35 2-.32 2-.28 2-.26 2-.24 2-.21 2-.19 2-.17 2-.16 2-.14 3-.19 3-.16 3-.13 3-.12 3-.11 3-.08 3-.08 3-.06 3-.06 3-.05 3-.04 3-.03 3-.03 3-.03 3-.02 3-.02 2-.01"/><path d="M-3 7.7l1.4-.49 1.1-.36 2.5-.76 2-.55 2-.5 2-.45 2-.41 2-.38 2-.34 2-.31 2-.28 2-.26 2-.24 2-.21 2-.19 2-.18 2-.16 3-.22 3-.18 3-.16 3-.14 3-.13 3-.1 3-.09 3-.08 3-.07 3-.06 3-.06 3-.04 3-.04 3-.03 3-.03 3-.03 2-.02"/><path d="M-3 7.95l1.4-.67 1.1-.49 2.5-.98 2-.69 2-.61 2-.53 2-.47 2-.41 2-.37 2-.32 2-.29 2-.25 2-.22 2-.19 2-.18 2-.15 2-.13 3-.17 3-.15 3-.11 3-.1 3-.08 3-.07 3-.05 3-.05 3-.04 3-.03 3-.02 3-.03 3-.01 3-.02 3-.01 3-.01 2-.01"/><path d="M-3 8.66l1.4-.64 1.1-.47 2.5-.97 2-.68 2-.62 2-.55 2-.49 2-.44 2-.39 2-.36 2-.32 2-.28 2-.25 2-.23 2-.21 2-.18 2-.16 3-.22 3-.18 3-.16 3-.13 3-.11 3-.09 3-.08 3-.07 3-.06 3-.05 3-.04 3-.03 3-.03 3-.03 3-.02 3-.02 2-.01"/><path d="M-3 9.75l1.4-.74 1.1-.53 2.5-1.11 2-.78 2-.69 2-.63 2-.55 2-.5 2-.45 2-.4 2-.35 2-.32 2-.29 2-.25 2-.23 2-.2 2-.19 3-.23 3-.2 3-.18 3-.14 3-.12 3-.1 3-.09 3-.08 3-.06 3-.05 3-.05 3-.03 3-.03 3-.03 3-.02 3-.02 2-.02"/><path d="M-3 10.17l1.4-.67 1.1-.5 2.5-1.04 2-.74 2-.68 2-.61 2-.55 2-.5 2-.46 2-.41 2-.38 2-.34 2-.3 2-.28 2-.26 2-.22 2-.21 3-.28 3-.24 3-.2 3-.18 3-.15 3-.13 3-.12 3-.1 3-.08 3-.08 3-.06 3-.05 3-.05 3-.04 3-.04 3-.03 2-.02"/><path d="M-3 11.17l1.4-.63 1.1-.47 2.5-.99 2-.72 2-.67 2-.61 2-.56 2-.52 2-.48 2-.43 2-.41 2-.37 2-.34 2-.32 2-.29 2-.27 2-.24 3-.33 3-.3 3-.26 3-.23 3-.2 3-.18 3-.16 3-.14 3-.12 3-.11 3-.09 3-.09 3-.07 3-.07 3-.06 3-.05 2-.03"/><path d="M-3 12.21l1.4-.96 1.1-.71 2.5-1.43 2-1.01 2-.89 2-.8 2-.71 2-.63 2-.56 2-.5 2-.44 2-.4 2-.35 2-.31 2-.28 2-.24 2-.22 3-.29 3-.24 3-.2 3-.17 3-.14 3-.11 3-.1 3-.09 3-.07 3-.06 3-.04 3-.05 3-.03 3-.03 3-.02 3-.02 2-.02"/><path d="M-3 12.79l1.4-.89 1.1-.66 2.5-1.36 2-.97 2-.87 2-.79 2-.71 2-.64 2-.58 2-.52 2-.47 2-.43 2-.38 2-.34 2-.31 2-.29 2-.25 3-.33 3-.29 3-.24 3-.22 3-.17 3-.16 3-.13 3-.11 3-.1 3-.08 3-.08 3-.06 3-.05 3-.04 3-.04 3-.03 2-.02"/><path d="M-3 13.51l1.4-1.19 1.1-.85 2.5-1.74 2-1.2 2-1.04 2-.93 2-.8 2-.71 2-.62 2-.55 2-.47 2-.42 2-.37 2-.32 2-.28 2-.25 2-.22 3-.28 3-.22 3-.19 3-.15 3-.13 3-.1 3-.09 3-.07 3-.06 3-.04 3-.04 3-.03 3-.03 3-.02 3-.02 3-.01 2-.01"/><path d="M-3 14.11l1.4-1.06 1.1-.78 2.5-1.6 2-1.13 2-1.01 2-.9 2-.8 2-.73 2-.64 2-.58 2-.52 2-.46 2-.41 2-.37 2-.33 2-.29 2-.27 3-.34 3-.29 3-.25 3-.21 3-.17 3-.15 3-.13 3-.11 3-.09 3-.07 3-.07 3-.05 3-.05 3-.04 3-.03 3-.03 2-.01"/><path d="M-3 15l1.4-1.01 1.1-.74 2.5-1.54 2-1.1 2-.99 2-.91 2-.82 2-.74 2-.67 2-.61 2-.55 2-.5 2-.46 2-.41 2-.37 2-.33 2-.31 3-.4 3-.35 3-.3 3-.26 3-.23 3-.19 3-.17 3-.14 3-.12 3-.11 3-.09 3-.08 3-.07 3-.06 3-.05 3-.05 2-.02"/><path d="M-3 15.97l1.4-1.09 1.1-.81 2.5-1.67 2-1.19 2-1.08 2-.98 2-.88 2-.79 2-.72 2-.65 2-.59 2-.53 2-.48 2-.44 2-.39 2-.35 2-.32 3-.43 3-.36 3-.31 3-.27 3-.23 3-.2 3-.17 3-.15 3-.12 3-.11 3-.09 3-.08 3-.07 3-.06 3-.05 3-.04 2-.03"/><path d="M-3 17.37l1.4-1.3 1.1-.95 2.5-1.95 2-1.38 2-1.24 2-1.11 2-.99 2-.88 2-.8 2-.71 2-.63 2-.57 2-.51 2-.46 2-.4 2-.37 2-.33 3-.42 3-.37 3-.3 3-.26 3-.22 3-.19 3-.16 3-.13 3-.11 3-.1 3-.08 3-.07 3-.06 3-.05 3-.04 3-.03 2-.02"/></g><g stroke-opacity=".09" stroke-width="1.2"><path d="M-3 36.64l1.4-2.55 1.1-1.88 2.5-3.89 2-2.77 2-2.5 2-2.26 2-2.04 2-1.83 2-1.66 2-1.49 2-1.35 2-1.22 2-1.09 2-.99 2-.9 2-.8 2-.73 3-.96 3-.82 3-.7 3-.6 3-.52 3-.44 3-.38 3-.33 3-.28 3-.23 3-.21 3-.17 3-.15 3-.13 3-.11 3-.1 2-.05"/><path d="M-3 38.42l1.4-2.89 1.1-2.11 2.5-4.34 2-3.07 2-2.74 2-2.45 2-2.2 2-1.96 2-1.76 2-1.57 2-1.4 2-1.26 2-1.13 2-1 2-.9 2-.81 2-.72 3-.94 3-.79 3-.68 3-.57 3-.48 3-.41 3-.34 3-.29 3-.25 3-.21 3-.18 3-.15 3-.12 3-.11 3-.09 3-.08 2-.04"/><path d="M-3 39.14l1.4-3.44 1.1-2.49 2.5-5.03 2-3.47 2-3.04 2-2.67 2-2.34 2-2.05 2-1.8 2-1.57 2-1.39 2-1.21 2-1.06 2-.94 2-.81 2-.72 2-.63 3-.8 3-.66 3-.54 3-.44 3-.37 3-.3 3-.24 3-.2 3-.17 3-.14 3-.11 3-.09 3-.07 3-.07 3-.05 3-.04 2-.02"/><path d="M-3 41.11l1.4-3.13 1.1-2.3 2.5-4.71 2-3.31 2-2.96 2-2.65 2-2.36 2-2.11 2-1.88 2-1.68 2-1.5 2-1.34 2-1.2 2-1.07 2-.95 2-.85 2-.76 3-1 3-.83 3-.71 3-.59 3-.51 3-.42 3-.36 3-.3 3-.25 3-.22 3-.18 3-.15 3-.13 3-.11 3-.09 3-.08 2-.05"/><path d="M-3 42.03l1.4-3.59 1.1-2.61 2.5-5.29 2-3.66 2-3.23 2-2.83 2-2.5 2-2.2 2-1.93 2-1.7 2-1.5 2-1.32 2-1.16 2-1.02 2-.9 2-.79 2-.69 3-.9 3-.73 3-.61 3-.5 3-.41 3-.34 3-.29 3-.23 3-.19 3-.16 3-.13 3-.11 3-.09 3-.07 3-.06 3-.05 2-.03"/><path d="M-3 43.57l1.4-3.67 1.1-2.67 2.5-5.43 2-3.76 2-3.32 2-2.92 2-2.58 2-2.27 2-2.01 2-1.77 2-1.56 2-1.37 2-1.21 2-1.07 2-.94 2-.83 2-.73 3-.94 3-.78 3-.64 3-.54 3-.44 3-.36 3-.31 3-.25 3-.2 3-.17 3-.15 3-.11 3-.1 3-.08 3-.07 3-.05 2-.04"/><path d="M-3 44.87l1.4-3.01 1.1-2.23 2.5-4.63 2-3.32 2-3 2-2.71 2-2.46 2-2.22 2-2.02 2-1.82 2-1.65 2-1.5 2-1.35 2-1.23 2-1.11 2-1 2-.91 3-1.21 3-1.04 3-.89 3-.77 3-.66 3-.58 3-.49 3-.42 3-.37 3-.31 3-.27 3-.24 3-.2 3-.17 3-.15 3-.13 2-.08"/><path d="M-3 46l1.4-3.91 1.1-2.85 2.5-5.76 2-4 2-3.52 2-3.1 2-2.73 2-2.4 2-2.12 2-1.86 2-1.64 2-1.45 2-1.27 2-1.12 2-.99 2-.87 2-.77 3-.98 3-.81 3-.66 3-.56 3-.45 3-.38 3-.31 3-.26 3-.22 3-.17 3-.15 3-.12 3-.1 3-.08 3-.07 3-.05 2-.03"/><path d="M-3 47.52l1.4-4.07 1.1-2.95 2.5-5.99 2-4.14 2-3.65 2-3.21 2-2.82 2-2.49 2-2.18 2-1.93 2-1.69 2-1.49 2-1.31 2-1.15 2-1.02 2-.89 2-.78 3-1.01 3-.83 3-.68 3-.57 3-.47 3-.38 3-.32 3-.26 3-.22 3-.18 3-.14 3-.12 3-.11 3-.08 3-.07 3-.05 2-.04"/><path d="M-3 48.92l1.4-3.92 1.1-2.86 2.5-5.84 2-4.08 2-3.62 2-3.22 2-2.86 2-2.53 2-2.25 2-1.99 2-1.77 2-1.58 2-1.39 2-1.24 2-1.1 2-.97 2-.87 3-1.12 3-.93 3-.79 3-.65 3-.55 3-.46 3-.38 3-.32 3-.27 3-.22 3-.19 3-.15 3-.13 3-.11 3-.09 3-.08 2-.04"/><path d="M-3 50.47l1.4-3.52 1.1-2.59 2.5-5.36 2-3.82 2-3.45 2-3.11 2-2.8 2-2.53 2-2.28 2-2.06 2-1.86 2-1.67 2-1.51 2-1.36 2-1.23 2-1.11 2-1 3-1.32 3-1.13 3-.97 3-.83 3-.71 3-.61 3-.52 3-.45 3-.38 3-.33 3-.28 3-.24 3-.21 3-.17 3-.15 3-.13 2-.08"/><path d="M-3 52.8l1.4-4.45 1.1-3.23 2.5-6.57 2-4.56 2-4.02 2-3.54 2-3.12 2-2.76 2-2.43 2-2.14 2-1.89 2-1.67 2-1.47 2-1.29 2-1.14 2-1.01 2-.89 3-1.14 3-.94 3-.78 3-.65 3-.53 3-.45 3-.36 3-.31 3-.25 3-.21 3-.17 3-.14 3-.12 3-.1 3-.08 3-.07 2-.03"/></g><g stroke-opacity=".10" stroke-width="2.0"><path d="M-3 0h83"/><path d="M-3 0h83"/></g><g stroke-opacity=".12" stroke-width="1.2"><path d="M-3 18.16l1.4-1.32 1.1-.96 2.5-1.99 2-1.41 2-1.27 2-1.14 2-1.02 2-.92 2-.83 2-.74 2-.67 2-.6 2-.54 2-.48 2-.43 2-.39 2-.35 3-.46 3-.4 3-.33 3-.28 3-.24 3-.21 3-.18 3-.14 3-.13 3-.11 3-.09 3-.08 3-.07 3-.05 3-.05 3-.04 2-.03"/><path d="M-3 18.7l1.4-1.43 1.1-1.05 2.5-2.15 2-1.51 2-1.35 2-1.2 2-1.08 2-.96 2-.85 2-.77 2-.68 2-.61 2-.54 2-.49 2-.43 2-.39 2-.34 3-.45 3-.38 3-.32 3-.27 3-.23 3-.19 3-.16 3-.14 3-.11 3-.1 3-.08 3-.07 3-.06 3-.05 3-.04 3-.03 2-.02"/><path d="M-3 19.58l1.4-1.43 1.1-1.06 2.5-2.17 2-1.54 2-1.38 2-1.24 2-1.11 2-1 2-.89 2-.8 2-.72 2-.64 2-.58 2-.52 2-.46 2-.42 2-.37 3-.49 3-.42 3-.35 3-.3 3-.26 3-.21 3-.19 3-.15 3-.13 3-.12 3-.09 3-.08 3-.07 3-.06 3-.05 3-.04 2-.03"/><path d="M-3 21.22l1.4-1.47 1.1-1.08 2.5-2.24 2-1.6 2-1.45 2-1.3 2-1.18 2-1.06 2-.96 2-.86 2-.78 2-.71 2-.63 2-.58 2-.52 2-.46 2-.43 3-.55 3-.48 3-.41 3-.35 3-.31 3-.25 3-.23 3-.19 3-.16 3-.14 3-.12 3-.1 3-.09 3-.07 3-.07 3-.06 2-.03"/><path d="M-3 22.23l1.4-1.55 1.1-1.15 2.5-2.37 2-1.69 2-1.52 2-1.37 2-1.24 2-1.11 2-1.01 2-.91 2-.81 2-.74 2-.67 2-.59 2-.54 2-.49 2-.44 3-.58 3-.5 3-.42 3-.37 3-.31 3-.26 3-.23 3-.2 3-.16 3-.15 3-.12 3-.1 3-.09 3-.08 3-.07 3-.05 2-.04"/><path d="M-3 22.96l1.4-1.71 1.1-1.25 2.5-2.58 2-1.82 2-1.63 2-1.46 2-1.31 2-1.17 2-1.05 2-.94 2-.84 2-.75 2-.67 2-.61 2-.54 2-.48 2-.44 3-.56 3-.48 3-.41 3-.35 3-.29 3-.25 3-.21 3-.17 3-.15 3-.13 3-.11 3-.09 3-.08 3-.06 3-.06 3-.05 2-.03"/><path d="M-3 23.83l1.4-1.54 1.1-1.14 2.5-2.38 2-1.71 2-1.55 2-1.42 2-1.28 2-1.17 2-1.06 2-.96 2-.88 2-.79 2-.73 2-.65 2-.6 2-.54 2-.5 3-.66 3-.57 3-.49 3-.43 3-.37 3-.32 3-.28 3-.24 3-.21 3-.18 3-.16 3-.14 3-.11 3-.11 3-.08 3-.08 2-.05"/><path d="M-3 25.09l1.4-2.19 1.1-1.58 2.5-3.21 2-2.21 2-1.94 2-1.71 2-1.5 2-1.31 2-1.15 2-1.01 2-.89 2-.78 2-.69 2-.6 2-.53 2-.46 2-.41 3-.52 3-.42 3-.35 3-.29 3-.24 3-.2 3-.16 3-.13 3-.11 3-.09 3-.07 3-.06 3-.05 3-.04 3-.03 3-.03 2-.02"/><path d="M-3 26.43l1.4-1.94 1.1-1.42 2.5-2.93 2-2.08 2-1.86 2-1.67 2-1.49 2-1.35 2-1.2 2-1.08 2-.97 2-.87 2-.78 2-.7 2-.63 2-.56 2-.51 3-.66 3-.56 3-.48 3-.4 3-.35 3-.29 3-.25 3-.21 3-.18 3-.15 3-.13 3-.11 3-.09 3-.08 3-.07 3-.06 2-.03"/><path d="M-3 27.09l1.4-2.04 1.1-1.5 2.5-3.08 2-2.17 2-1.94 2-1.73 2-1.55 2-1.39 2-1.24 2-1.11 2-.99 2-.88 2-.79 2-.71 2-.63 2-.57 2-.5 3-.66 3-.56 3-.47 3-.4 3-.34 3-.28 3-.24 3-.21 3-.17 3-.15 3-.12 3-.1 3-.09 3-.07 3-.07 3-.05 2-.03"/><path d="M-3 28.6l1.4-2.21 1.1-1.61 2.5-3.32 2-2.32 2-2.08 2-1.85 2-1.65 2-1.47 2-1.31 2-1.17 2-1.04 2-.93 2-.83 2-.74 2-.66 2-.58 2-.53 3-.68 3-.57 3-.48 3-.41 3-.34 3-.29 3-.24 3-.2 3-.18 3-.14 3-.12 3-.1 3-.09 3-.07 3-.06 3-.06 2-.03"/><path d="M-3 29.55l1.4-2.57 1.1-1.86 2.5-3.76 2-2.6 2-2.29 2-2 2-1.76 2-1.55 2-1.36 2-1.19 2-1.05 2-.92 2-.81 2-.71 2-.62 2-.55 2-.48 3-.61 3-.51 3-.42 3-.34 3-.28 3-.23 3-.19 3-.16 3-.13 3-.11 3-.08 3-.07 3-.06 3-.05 3-.04 3-.04 2-.01"/><path d="M-3 30.76l1.4-2.19 1.1-1.62 2.5-3.33 2-2.36 2-2.13 2-1.92 2-1.72 2-1.56 2-1.39 2-1.26 2-1.13 2-1.02 2-.91 2-.82 2-.74 2-.67 2-.6 3-.79 3-.67 3-.58 3-.49 3-.42 3-.36 3-.3 3-.26 3-.22 3-.19 3-.17 3-.13 3-.12 3-.1 3-.09 3-.07 2-.05"/><path d="M-3 32.22l1.4-3.07 1.1-2.21 2.5-4.41 2-3.01 2-2.6 2-2.26 2-1.96 2-1.69 2-1.47 2-1.27 2-1.1 2-.96 2-.83 2-.72 2-.62 2-.54 2-.46 3-.59 3-.47 3-.39 3-.3 3-.25 3-.2 3-.17 3-.13 3-.1 3-.09 3-.06 3-.06 3-.04 3-.04 3-.03 3-.02 2-.02"/><path d="M-3 32.78l1.4-2.52 1.1-1.84 2.5-3.79 2-2.66 2-2.37 2-2.12 2-1.89 2-1.68 2-1.51 2-1.34 2-1.19 2-1.07 2-.95 2-.85 2-.76 2-.67 2-.6 3-.78 3-.66 3-.56 3-.47 3-.39 3-.33 3-.28 3-.24 3-.2 3-.17 3-.14 3-.12 3-.1 3-.08 3-.07 3-.06 2-.04"/><path d="M-3 34.22l1.4-2.74 1.1-2 2.5-4.08 2-2.85 2-2.53 2-2.25 2-2 2-1.77 2-1.57 2-1.4 2-1.24 2-1.1 2-.97 2-.87 2-.77 2-.68 2-.61 3-.78 3-.66 3-.55 3-.45 3-.39 3-.32 3-.27 3-.22 3-.19 3-.16 3-.13 3-.11 3-.09 3-.08 3-.06 3-.06 2-.03"/><path d="M-3 35.32l1.4-2.58 1.1-1.89 2.5-3.91 2-2.77 2-2.48 2-2.23 2-2 2-1.79 2-1.61 2-1.45 2-1.29 2-1.17 2-1.04 2-.94 2-.84 2-.75 2-.68 3-.88 3-.76 3-.64 3-.54 3-.46 3-.39 3-.34 3-.28 3-.24 3-.21 3-.17 3-.15 3-.13 3-.1 3-.1 3-.07 2-.05"/></g><g stroke-opacity=".15" stroke-width="1.2"><path d="M-3 .09l1.4-.01h1.1l2.5-.01 2-.01h2l2-.01h2l2-.01h2h2l2-.01h2h2h2l2-.01h2h2h3l3-.01h3h3h3h3h3h3h3l3-.01h3h3h3h3h3h3h2"/><path d="M-3 .56l1.4-.03 1.1-.03 2.5-.05 2-.04 2-.04 2-.03 2-.03 2-.02 2-.03 2-.02 2-.02 2-.02 2-.02 2-.01 2-.02 2-.01 2-.01 3-.02 3-.01 3-.01 3-.02 3-.01h3l3-.01 3-.01h3l3-.01h3h3l3-.01h3h3l3-.01h2"/><path d="M-3 .67l1.4-.04 1.1-.02 2.5-.07 2-.04 2-.04 2-.04 2-.04 2-.03 2-.03 2-.02 2-.03 2-.02 2-.02 2-.02 2-.02 2-.01 2-.02 3-.02 3-.01 3-.02 3-.01 3-.02 3-.01h3l3-.01 3-.01 3-.01h3l3-.01h3h3l3-.01h3h2"/><path d="M-3 .53l1.4-.03 1.1-.03 2.5-.05 2-.04 2-.03 2-.03 2-.03 2-.03 2-.02 2-.02 2-.02 2-.02 2-.02 2-.01 2-.01 2-.02 2-.01 3-.01 3-.01 3-.02 3-.01h3l3-.01 3-.01h3l3-.01h3l3-.01h3h3h3l3-.01h3h2"/><path d="M-3 1.29l1.4-.08 1.1-.06 2.5-.12 2-.09 2-.08 2-.08 2-.07 2-.06 2-.05 2-.06 2-.04 2-.05 2-.04 2-.03 2-.04 2-.03 2-.02 3-.04 3-.03 3-.03 3-.02 3-.02 3-.02 3-.02 3-.01 3-.02 3-.01 3-.01h3l3-.01 3-.01h3l3-.01h2"/><path d="M-3 1.56l1.4-.09 1.1-.07 2.5-.14 2-.1 2-.1 2-.08 2-.08 2-.08 2-.06 2-.07 2-.05 2-.05 2-.05 2-.05 2-.04 2-.03 2-.04 3-.04 3-.04 3-.04 3-.03 3-.03 3-.02 3-.02 3-.02 3-.02 3-.01 3-.02 3-.01 3-.01 3-.01h3l3-.01h2"/><path d="M-3 1.31l1.4-.07 1.1-.06 2.5-.12 2-.08 2-.08 2-.07 2-.07 2-.06 2-.05 2-.06 2-.04 2-.05 2-.04 2-.03 2-.04 2-.03 2-.03 3-.04 3-.03 3-.03 3-.03 3-.02 3-.02 3-.02 3-.02 3-.01 3-.01 3-.02 3-.01h3l3-.01 3-.01h3l2-.01"/><path d="M-3 2.08l1.4-.12 1.1-.1 2.5-.2 2-.14 2-.13 2-.12 2-.11 2-.1 2-.09 2-.08 2-.08 2-.07 2-.06 2-.06 2-.05 2-.05 2-.05 3-.06 3-.05 3-.05 3-.03 3-.04 3-.03 3-.03 3-.02 3-.02 3-.02 3-.01 3-.02 3-.01 3-.01 3-.01 3-.01h2"/><path d="M-3 2.28l1.4-.13 1.1-.1 2.5-.2 2-.15 2-.14 2-.12 2-.12 2-.1 2-.1 2-.09 2-.08 2-.08 2-.07 2-.06 2-.06 2-.06 2-.05 3-.06 3-.06 3-.06 3-.04 3-.04 3-.04 3-.03 3-.03 3-.02 3-.03 3-.02 3-.01 3-.02 3-.01 3-.01 3-.01 2-.01"/><path d="M-3 2.47l1.4-.16 1.1-.11 2.5-.25 2-.18 2-.16 2-.14 2-.13 2-.13 2-.1 2-.1 2-.1 2-.08 2-.07 2-.07 2-.06 2-.06 2-.05 3-.07 3-.06 3-.05 3-.05 3-.04 3-.03 3-.03 3-.02 3-.03 3-.01 3-.02 3-.02 3-.01 3-.01 3-.01 3-.01h2"/><path d="M-3 3.08l1.4-.18 1.1-.14 2.5-.28 2-.21 2-.19 2-.17 2-.16 2-.14 2-.14 2-.12 2-.11 2-.1 2-.1 2-.08 2-.08 2-.08 2-.06 3-.09 3-.08 3-.07 3-.06 3-.06 3-.04 3-.04 3-.04 3-.03 3-.03 3-.02 3-.02 3-.02 3-.02 3-.01 3-.02 2-.01"/><path d="M-3 3.77l1.4-.25 1.1-.18 2.5-.37 2-.27 2-.24 2-.23 2-.2 2-.18 2-.17 2-.15 2-.14 2-.13 2-.11 2-.11 2-.09 2-.09 2-.07 3-.11 3-.09 3-.08 3-.07 3-.05 3-.06 3-.04 3-.04 3-.03 3-.03 3-.03 3-.02 3-.02 3-.01 3-.02 3-.01 2-.01"/><path d="M-3 3.88l1.4-.23 1.1-.18 2.5-.36 2-.26 2-.25 2-.22 2-.2 2-.18 2-.17 2-.16 2-.14 2-.13 2-.12 2-.11 2-.09 2-.1 2-.08 3-.11 3-.1 3-.08 3-.08 3-.07 3-.05 3-.05 3-.05 3-.04 3-.03 3-.03 3-.03 3-.02 3-.02 3-.02 3-.01 2-.01"/><path d="M-3 4.54l1.4-.27 1.1-.2 2.5-.43 2-.31 2-.28 2-.26 2-.24 2-.21 2-.2 2-.18 2-.17 2-.15 2-.14 2-.13 2-.11 2-.11 2-.1 3-.13 3-.11 3-.1 3-.09 3-.08 3-.07 3-.05 3-.06 3-.04 3-.04 3-.04 3-.03 3-.02 3-.03 3-.02 3-.01 2-.01"/><path d="M-3 5.34l1.4-.31 1.1-.23 2.5-.49 2-.36 2-.32 2-.3 2-.27 2-.25 2-.23 2-.22 2-.19 2-.18 2-.16 2-.15 2-.14 2-.13 2-.11 3-.16 3-.14 3-.12 3-.1 3-.1 3-.08 3-.07 3-.07 3-.05 3-.05 3-.04 3-.04 3-.04 3-.03 3-.02 3-.02 2-.02"/><path d="M-3 5.58l1.4-.33 1.1-.26 2.5-.52 2-.39 2-.35 2-.31 2-.3 2-.26 2-.25 2-.22 2-.21 2-.18 2-.17 2-.16 2-.14 2-.13 2-.12 3-.16 3-.14 3-.13 3-.1 3-.1 3-.08 3-.07 3-.06 3-.06 3-.05 3-.04 3-.03 3-.04 3-.02 3-.03 3-.02 2-.01"/><path d="M-3 6.62l1.4-.55 1.1-.4 2.5-.82 2-.57 2-.5 2-.44 2-.39 2-.35 2-.3 2-.27 2-.24 2-.21 2-.19 2-.16 2-.14 2-.13 2-.11 3-.15 3-.12 3-.1 3-.08 3-.07 3-.05 3-.05 3-.04 3-.03 3-.03 3-.02 3-.02 3-.02 3-.01 3-.01 3-.01h2"/><path d="M-3 7.03l1.4-.5 1.1-.36 2.5-.75 2-.54 2-.48 2-.43 2-.4 2-.35 2-.32 2-.28 2-.26 2-.23 2-.21 2-.19 2-.17 2-.16 2-.14 3-.18 3-.15 3-.14 3-.11 3-.1 3-.08 3-.08 3-.06 3-.05 3-.04 3-.04 3-.04 3-.02 3-.03 3-.02 3-.02 2-.01"/><path d="M-3 7.7l1.4-.5 1.1-.38 2.5-.78 2-.56 2-.5 2-.46 2-.42 2-.38 2-.34 2-.32 2-.28 2-.26 2-.23 2-.21 2-.19 2-.18 2-.16 3-.21 3-.18 3-.16 3-.13 3-.12 3-.1 3-.09 3-.08 3-.06 3-.06 3-.05 3-.04 3-.04 3-.03 3-.03 3-.02 2-.01"/><path d="M-3 7.95l1.4-.69 1.1-.5 2.5-1.01 2-.7 2-.61 2-.54 2-.48 2-.41 2-.37 2-.32 2-.28 2-.25 2-.22 2-.19 2-.17 2-.14 2-.13 3-.17 3-.14 3-.11 3-.09 3-.08 3-.06 3-.05 3-.04 3-.04 3-.03 3-.02 3-.02 3-.02 3-.01 3-.01 3-.01h2"/><path d="M-3 8.66l1.4-.66 1.1-.48 2.5-1 2-.69 2-.63 2-.55 2-.5 2-.44 2-.4 2-.36 2-.31 2-.28 2-.26 2-.22 2-.2 2-.18 2-.16 3-.21 3-.18 3-.15 3-.12 3-.11 3-.09 3-.07 3-.07 3-.05 3-.04 3-.04 3-.04 3-.02 3-.03 3-.02 3-.01 2-.01"/><path d="M-3 9.75l1.4-.76 1.1-.55 2.5-1.13 2-.8 2-.7 2-.63 2-.57 2-.5 2-.45 2-.39 2-.36 2-.32 2-.28 2-.25 2-.22 2-.2 2-.18 3-.23 3-.2 3-.16 3-.14 3-.11 3-.1 3-.08 3-.07 3-.06 3-.05 3-.04 3-.04 3-.03 3-.02 3-.02 3-.02 2-.01"/><path d="M-3 10.17l1.4-.69 1.1-.52 2.5-1.06 2-.76 2-.69 2-.62 2-.56 2-.5 2-.46 2-.42 2-.37 2-.34 2-.3 2-.28 2-.25 2-.23 2-.2 3-.27 3-.23 3-.2 3-.17 3-.15 3-.13 3-.11 3-.09 3-.08 3-.07 3-.06 3-.05 3-.04 3-.04 3-.03 3-.03 2-.02"/><path d="M-3 11.17l1.4-.65 1.1-.48 2.5-1.02 2-.74 2-.67 2-.63 2-.57 2-.52 2-.48 2-.45 2-.4 2-.38 2-.34 2-.31 2-.29 2-.27 2-.24 3-.33 3-.29 3-.25 3-.22 3-.2 3-.17 3-.16 3-.13 3-.12 3-.1 3-.09 3-.08 3-.07 3-.07 3-.05 3-.05 2-.03"/><path d="M-3 12.21l1.4-.99 1.1-.72 2.5-1.47 2-1.03 2-.91 2-.81 2-.71 2-.64 2-.56 2-.49 2-.45 2-.39 2-.34 2-.31 2-.27 2-.24 2-.22 3-.27 3-.23 3-.19 3-.16 3-.14 3-.11 3-.09 3-.08 3-.06 3-.06 3-.04 3-.04 3-.03 3-.03 3-.02 3-.02 2-.01"/><path d="M-3 12.79l1.4-.92 1.1-.67 2.5-1.39 2-.99 2-.89 2-.8 2-.72 2-.65 2-.58 2-.52 2-.47 2-.43 2-.38 2-.34 2-.3 2-.28 2-.25 3-.32 3-.28 3-.24 3-.2 3-.17 3-.15 3-.13 3-.1 3-.09 3-.08 3-.07 3-.05 3-.05 3-.04 3-.04 3-.03 2-.02"/><path d="M-3 13.51l1.4-1.22 1.1-.88 2.5-1.78 2-1.22 2-1.06 2-.93 2-.81 2-.71 2-.62 2-.54 2-.48 2-.41 2-.36 2-.31 2-.28 2-.24 2-.21 3-.27 3-.21 3-.18 3-.15 3-.11 3-.1 3-.08 3-.06 3-.06 3-.04 3-.03 3-.03 3-.03 3-.02 3-.01 3-.01 2-.01"/><path d="M-3 14.11l1.4-1.09 1.1-.8 2.5-1.64 2-1.15 2-1.03 2-.91 2-.82 2-.72 2-.65 2-.58 2-.51 2-.46 2-.41 2-.36 2-.33 2-.28 2-.26 3-.34 3-.28 3-.23 3-.2 3-.17 3-.14 3-.12 3-.1 3-.08 3-.08 3-.06 3-.05 3-.04 3-.03 3-.03 3-.03 2-.01"/><path d="M-3 15l1.4-1.04 1.1-.76 2.5-1.57 2-1.13 2-1.02 2-.91 2-.83 2-.75 2-.68 2-.61 2-.55 2-.5 2-.45 2-.41 2-.36 2-.33 2-.3 3-.4 3-.34 3-.29 3-.25 3-.22 3-.18 3-.16 3-.14 3-.11 3-.1 3-.09 3-.07 3-.07 3-.05 3-.05 3-.04 2-.02"/><path d="M-3 15.97l1.4-1.13 1.1-.82 2.5-1.72 2-1.22 2-1.09 2-.99 2-.89 2-.81 2-.72 2-.65 2-.59 2-.53 2-.47 2-.43 2-.39 2-.35 2-.31 3-.42 3-.35 3-.3 3-.26 3-.22 3-.19 3-.16 3-.14 3-.12 3-.1 3-.09 3-.07 3-.07 3-.05 3-.05 3-.04 2-.02"/><path d="M-3 17.37l1.4-1.34 1.1-.97 2.5-2 2-1.41 2-1.26 2-1.12 2-1 2-.89 2-.8 2-.71 2-.63 2-.57 2-.5 2-.45 2-.4 2-.36 2-.32 3-.42 3-.35 3-.29 3-.25 3-.21 3-.18 3-.14 3-.13 3-.11 3-.08 3-.08 3-.06 3-.06 3-.04 3-.04 3-.03 2-.02"/></g><g stroke-opacity=".18" stroke-width="1.2"><path d="M-3 0h83"/><path d="M-3 0h83"/></g></g>
<path d="M1347.1 304.8L1353.3 309.5L1359.6 312.4L1365.8 313.3L1372 314.3L1378.3 317.1L1384.5 320.9L1390.7 325.4L1397 329.2L1403.2 332.4L1409.4 335.4L1415.6 338.3L1421.9 341.1L1428.1 344L1434.3 346.9L1440.6 349.7L1446.8 352.4L1453 355L1459.2 357.6L1465.5 360.1L1471.7 362.3L1477.9 364.2L1484.2 365.9L1490.4 367.5L1496.6 369L1502.9 370.4L1509.1 371.8L1515.3 373.2L1521.5 374.5L1527.8 375.9L1534 377.3L1540.2 378.7L1546.5 380.2L1552.7 381.6L1558.9 382.9L1565.2 384.2L1571.4 385.4L1577.6 386.5L1583.8 387.5L1590.1 388.4L1596.3 389.3L1602.5 390.1L1608.8 390.9L1615 391.6L1621.2 392.2L1627.5 392.8L1633.7 393.2L1639.9 393.6L1646.2 394L1652.4 394.3L1658.6 394.7L1664.8 395L1671.1 395.2L1677.3 395.5L1683.5 395.7L1689.8 395.9L1696 396.2L1702.2 396.3L1708.5 396.5L1714.7 396.7L1720.9 396.8L1727.1 397L1733.4 397.1L1739.6 397.3L1745.8 397.4L1752.1 397.6L1758.3 397.7L1764.5 397.8L1770.8 398L1777 398.1L1783.2 398.2L1789.4 398.3L1795.7 398.4L1801.9 398.5L1808.1 398.6L1814.4 398.7L1820.6 398.8L1826.8 398.9L1833 398.9L1839.3 399L1845.5 399L1851.7 399L1858 399.1L1864.2 399.1" fill="none" stroke="#dddddd" stroke-width="8.5" stroke-linejoin="round"/>
<g class="t" transform="translate(169.8 778.1) scale(6.23 -5.11)" stroke="#b5ee60"><g stroke-opacity=".10" stroke-width="2.0"><path d="M-4 36l1.4-2.23 1.1-1.65 3.5-4.75 2-2.39 2-2.19 2-2 2-1.84 2-1.68 2-1.54 2-1.42 2-1.3 2-1.2 2-1.11 2-1.02 2-.94 2-.88 2-.8 3-1.1 3-.99 3-.87 3-.78 3-.7 3-.62 3-.55 3-.49 3-.43 3-.38 3-.15h17"/><path d="M-4 34l1.4-2.32 1.1-1.71 3.5-4.86 2-2.42 2-2.19 2-1.98 2-1.8 2-1.63 2-1.48 2-1.35 2-1.22 2-1.12 2-1.02 2-.93 2-.85 2-.78 2-.71 3-.96 3-.83 3-.73 3-.65 3-.56 3-.48 3-.43 3-.37 3-.31 3-.27 3-.04h17"/><path d="M-4 31.2l1.4-2.08 1.1-1.54 3.5-4.38 2-2.18 2-1.98 2-1.8 2-1.64 2-1.49 2-1.35 2-1.24 2-1.13 2-1.03 2-.94 2-.87 2-.79 2-.72 2-.67 3-.9 3-.79 3-.7 3-.61 3-.54 3-.47 3-.41 3-.36 3-.31 3-.27 3-.01h17"/><path d="M-2 22l1.4-1.51 1.1-1.11 1.5-1.42 2-1.74 2-1.57 2-1.42 2-1.28 2-1.17 2-1.06 2-.96 2-.87 2-.8 2-.73 2-.66 2-.6 2-.56 2-.5 3-.68 3-.6 3-.52 3-.46 3-.4 3-.35 3-.31 3-.26 3-.23 3-.2 3-.03h17"/><path d="M-4 19.9l1.4-1.3 1.1-.97 3.5-2.74 2-1.38 2-1.25 2-1.14 2-1.03 2-.95 2-.86 2-.79 2-.72 2-.66 2-.61 2-.55 2-.51 2-.47 2-.43 3-.59 3-.52 3-.45 3-.4 3-.36 3-.31 3-.28 3-.24 3-.21 3-.18h20"/><path d="M-4 16.8l1.4-1.16 1.1-.85 3.5-2.43 2-1.2 2-1.09 2-.98 2-.89 2-.81 2-.73 2-.67 2-.61 2-.55 2-.5 2-.46 2-.42 2-.38 2-.35 3-.46 3-.41 3-.36 3-.31 3-.27 3-.24 3-.21 3-.17 3-.16 3-.13h3h17"/><path d="M-4 15.2l1.4-1.17 1.1-.85 3.5-2.38 2-1.17 2-1.04 2-.93 2-.83 2-.74 2-.67 2-.6 2-.54 2-.48 2-.43 2-.39 2-.35 2-.31 2-.29 3-.37 3-.32 3-.27 3-.23 3-.2 3-.16 3-.14 3-.12 3-.1 3-.08 3-.04h17"/><path d="M-2 13.6l1.4-.84 1.1-.63 1.5-.81 2-.99 2-.91 2-.82 2-.76 2-.7 2-.64 2-.58 2-.54 2-.5 2-.46 2-.42 2-.39 2-.37 2-.34 3-.46 3-.41 3-.37 3-.33 3-.3 3-.27 3-.24 3-.21 3-.19 3-.12h20"/><path d="M-4 12.2l1.4-.85 1.1-.62 3.5-1.76 2-.88 2-.79 2-.72 2-.64 2-.59 2-.54 2-.48 2-.44 2-.4 2-.37 2-.33 2-.3 2-.28 2-.25 3-.34 3-.3 3-.26 3-.23 3-.2 3-.17 3-.15 3-.13 3-.11 3-.07h20"/><path d="M-4 11l1.4-.84 1.1-.61 3.5-1.72 2-.84 2-.75 2-.67 2-.6 2-.54 2-.49 2-.43 2-.39 2-.35 2-.32 2-.28 2-.26 2-.23 2-.21 3-.27 3-.24 3-.2 3-.17 3-.14 3-.13 3-.1 3-.09 3-.07 3-.06h20"/><path d="M-4 10l1.4-.68 1.1-.5 3.5-1.42 2-.71 2-.64 2-.58 2-.53 2-.48 2-.44 2-.39 2-.36 2-.33 2-.3 2-.28 2-.25 2-.23 2-.21 3-.28 3-.25 3-.22 3-.19 3-.17 3-.14 3-.13 3-.11 3-.09 3-.08 3-.01h17"/><path d="M-2 9.2l1.4-.63 1.1-.46 1.5-.59 2-.72 2-.65 2-.59 2-.54 2-.49 2-.44 2-.4 2-.37 2-.33 2-.31 2-.28 2-.25 2-.24 2-.21 3-.29 3-.25 3-.23 3-.19 3-.18 3-.15 3-.13 3-.12 3-.1 3-.06h20"/><path d="M-4 8.6l1.4-.59 1.1-.44 3.5-1.24 2-.62 2-.55 2-.51 2-.45 2-.42 2-.37 2-.34 2-.31 2-.28 2-.26 2-.24 2-.21 2-.2 2-.17 3-.24 3-.21 3-.19 3-.15 3-.14 3-.12 3-.11 3-.09 3-.08 3-.06 3-.01h17"/><path d="M-4 8l1.4-.66 1.1-.47 3.5-1.33 2-.64 2-.56 2-.5 2-.45 2-.39 2-.36 2-.31 2-.28 2-.24 2-.22 2-.2 2-.17 2-.16 2-.14 3-.18 3-.15 3-.13 3-.11 3-.09 3-.07 3-.06 3-.06 3-.04 3-.03h20"/><path d="M-4 7.4l1.4-.59 1.1-.42 3.5-1.19 2-.58 2-.52 2-.45 2-.41 2-.37 2-.32 2-.29 2-.26 2-.23 2-.21 2-.19 2-.17 2-.15 2-.13 3-.18 3-.15 3-.12 3-.11 3-.09 3-.08 3-.06 3-.05 3-.05 3-.03h20"/><path d="M-2 6.8l1.4-.42 1.1-.31 1.5-.39 2-.5 2-.44 2-.42 2-.37 2-.35 2-.31 2-.3 2-.26 2-.25 2-.23 2-.21 2-.2 2-.18 2-.17 3-.23 3-.21 3-.18 3-.17 3-.15 3-.13 3-.12 3-.11 3-.1 3-.08 3-.01h17"/><path d="M-4 6.1l1.4-.44 1.1-.32 3.5-.91 2-.45 2-.4 2-.36 2-.33 2-.3 2-.26 2-.25 2-.21 2-.2 2-.18 2-.16 2-.15 2-.14 2-.12 3-.16 3-.14 3-.12 3-.11 3-.09 3-.08 3-.07 3-.05 3-.05 3-.04 3-.01h17"/><path d="M-4 5.5l1.4-.33 1.1-.24 3.5-.7 2-.36 2-.33 2-.3 2-.27 2-.26 2-.23 2-.21 2-.2 2-.19 2-.17 2-.16 2-.14 2-.14 2-.12 3-.18 3-.15 3-.14 3-.13 3-.11 3-.1 3-.09 3-.09 3-.07 3-.06 3-.03h17"/><path d="M-4 5l1.4-.26 1.1-.19 3.5-.57 2-.29 2-.27 2-.25 2-.24 2-.21 2-.21 2-.19 2-.18 2-.17 2-.16 2-.14 2-.15 2-.13 2-.12 3-.18 3-.16 3-.16 3-.14 3-.13 3-.12 3-.11 3-.1 3-.1 3-.07h20"/><path d="M-2 4.4l1.4-.22 1.1-.16 1.5-.21 2-.26 2-.25 2-.23 2-.21 2-.2 2-.19 2-.18 2-.16 2-.16 2-.15 2-.14 2-.13 2-.12 2-.12 3-.17 3-.16 3-.14 3-.14 3-.13 3-.12 3-.11 3-.11 3-.1 3-.09 3-.04h17"/><path d="M-4 3.9l1.4-.21 1.1-.16 3.5-.45 2-.24 2-.21 2-.2 2-.19 2-.17 2-.16 2-.15 2-.14 2-.13 2-.13 2-.11 2-.11 2-.1 2-.09 3-.14 3-.12 3-.11 3-.1 3-.09 3-.09 3-.07 3-.08 3-.06 3-.06 3-.03h17"/><path d="M-4 3.4l1.4-.17 1.1-.12 3.5-.37 2-.19 2-.18 2-.17 2-.15 2-.15 2-.14 2-.12 2-.13 2-.11 2-.11 2-.1 2-.1 2-.09 2-.08 3-.13 3-.11 3-.11 3-.1 3-.09 3-.09 3-.08 3-.08 3-.07 3-.06h20"/><path d="M-4 2.9l1.4-.14 1.1-.1 3.5-.31 2-.16 2-.15 2-.14 2-.13 2-.12 2-.11 2-.11 2-.1 2-.1 2-.09 2-.09 2-.08 2-.08 2-.08 3-.1 3-.11 3-.09 3-.09 3-.08 3-.08 3-.07 3-.07 3-.07 3-.05h20"/><path d="M-2 2.3l1.4-.13 1.1-.1 1.5-.13 2-.16 2-.14 2-.14 2-.12 2-.11 2-.11 2-.09 2-.09 2-.09 2-.08 2-.07 2-.07 2-.06 2-.06 3-.08 3-.07 3-.07 3-.06 3-.06 3-.05 3-.04 3-.04 3-.04 3-.03 3-.01h17"/><path d="M-4 1.8l1.4-.09 1.1-.07 3.5-.19 2-.1 2-.1 2-.09 2-.08 2-.08 2-.07 2-.07 2-.06 2-.06 2-.06 2-.05 2-.05 2-.05 2-.05 3-.06 3-.07 3-.05 3-.06 3-.04 3-.05 3-.04 3-.05 3-.03 3-.03h20"/><path d="M-4 1.3l1.4-.07 1.1-.05 3.5-.15 2-.07 2-.08 2-.06 2-.06 2-.06 2-.05 2-.05 2-.05 2-.04 2-.05 2-.03 2-.04 2-.03 2-.04 3-.04 3-.04 3-.04 3-.04 3-.03 3-.03 3-.03 3-.02 3-.03 3-.02h3h17"/><path d="M-4 .8l1.4-.04 1.1-.02 3.5-.09 2-.04 2-.04 2-.03 2-.04 2-.03 2-.03 2-.03 2-.03 2-.03 2-.02 2-.03 2-.02 2-.02 2-.02 3-.03 3-.03 3-.03 3-.03 3-.02 3-.02 3-.03 3-.02 3-.02 3-.01h20"/><path d="M-2 .4l1.4-.02 1.1-.02 1.5-.02 2-.02 2-.02 2-.03 2-.02 2-.01 2-.02 2-.02 2-.01 2-.02 2-.01 2-.01 2-.02 2-.01 2-.01 3-.01 3-.02 3-.01 3-.01 3-.01 3-.01 3-.01 3-.01 3-.01 3-.01h20"/><path d="M-4 .15l1.4-.01 1.1-.01 3.5-.01 2-.01 2-.01 2-.01 2-.01 2-.01h2l2-.01h2l2-.01h2l2-.01h2l2-.01h2h3l3-.01h3l3-.01h3h3h3l3-.01h3h3h20"/><path d="M-4 0h84"/></g><g stroke-opacity=".19" stroke-width="1.2"><path d="M-4 36l1.4-2.3 1.1-1.7 3.5-4.86 2-2.45 2-2.22 2-2.03 2-1.86 2-1.7 2-1.55 2-1.42 2-1.3 2-1.2 2-1.1 2-1.02 2-.93 2-.86 2-.79 3-1.08 3-.96 3-.85 3-.75 3-.67 3-.59 3-.52 3-.46 3-.41 3-.35 3-.07h17"/><path d="M-4 34l1.4-2.39 1.1-1.76 3.5-4.98 2-2.46 2-2.23 2-2 2-1.82 2-1.64 2-1.49 2-1.35 2-1.22 2-1.11 2-1.01 2-.92 2-.84 2-.76 2-.7 3-.93 3-.81 3-.7 3-.62 3-.53 3-.46 3-.4 3-.34 3-.29 3-.24h20"/><path d="M-4 31.2l1.4-2.14 1.1-1.59 3.5-4.48 2-2.22 2-2.02 2-1.82 2-1.66 2-1.5 2-1.36 2-1.24 2-1.13 2-1.02 2-.94 2-.85 2-.78 2-.72 2-.65 3-.88 3-.76 3-.67 3-.59 3-.51 3-.45 3-.39 3-.33 3-.29 3-.21h20"/><path d="M-2 22l1.4-1.55 1.1-1.15 1.5-1.46 2-1.77 2-1.6 2-1.44 2-1.31 2-1.18 2-1.06 2-.97 2-.87 2-.8 2-.72 2-.65 2-.6 2-.55 2-.49 3-.67 3-.58 3-.5 3-.44 3-.38 3-.34 3-.28 3-.25 3-.21 3-.18h20"/><path d="M-4 19.9l1.4-1.34 1.1-.99 3.5-2.82 2-1.4 2-1.27 2-1.16 2-1.04 2-.96 2-.86 2-.79 2-.72 2-.66 2-.6 2-.55 2-.51 2-.46 2-.42 3-.57 3-.5 3-.44 3-.39 3-.34 3-.3 3-.26 3-.22 3-.19 3-.14h20"/><path d="M-4 16.8l1.4-1.19 1.1-.88 3.5-2.48 2-1.23 2-1.11 2-.99 2-.9 2-.82 2-.73 2-.67 2-.6 2-.55 2-.5 2-.45 2-.41 2-.38 2-.34 3-.45 3-.4 3-.34 3-.3 3-.26 3-.22 3-.19 3-.17 3-.14 3-.1h20"/><path d="M-4 15.2l1.4-1.2 1.1-.88 3.5-2.44 2-1.18 2-1.06 2-.94 2-.84 2-.74 2-.67 2-.6 2-.53 2-.48 2-.42 2-.39 2-.34 2-.31 2-.27 3-.36 3-.31 3-.25 3-.22 3-.19 3-.15 3-.13 3-.11 3-.09 3-.07 3-.03h17"/><path d="M-2 13.6l1.4-.87 1.1-.64 1.5-.83 2-1.02 2-.92 2-.85 2-.77 2-.7 2-.64 2-.59 2-.54 2-.5 2-.46 2-.42 2-.39 2-.36 2-.33 3-.46 3-.4 3-.36 3-.32 3-.29 3-.25 3-.23 3-.2 3-.17 3-.09h20"/><path d="M-4 12.2l1.4-.87 1.1-.64 3.5-1.81 2-.89 2-.8 2-.73 2-.65 2-.6 2-.53 2-.49 2-.44 2-.39 2-.37 2-.32 2-.3 2-.28 2-.24 3-.33 3-.29 3-.25 3-.22 3-.19 3-.16 3-.14 3-.12 3-.1 3-.05h20"/><path d="M-4 11l1.4-.86 1.1-.63 3.5-1.76 2-.86 2-.76 2-.68 2-.61 2-.54 2-.48 2-.43 2-.39 2-.35 2-.31 2-.28 2-.25 2-.22 2-.21 3-.26 3-.23 3-.19 3-.16 3-.14 3-.11 3-.1 3-.08 3-.07 3-.04h20"/><path d="M-4 10l1.4-.7 1.1-.51 3.5-1.46 2-.72 2-.66 2-.59 2-.53 2-.48 2-.44 2-.4 2-.36 2-.32 2-.3 2-.27 2-.25 2-.23 2-.2 3-.28 3-.24 3-.21 3-.18 3-.16 3-.13 3-.12 3-.11 3-.08 3-.07h20"/><path d="M-2 9.2l1.4-.65 1.1-.47 1.5-.61 2-.73 2-.67 2-.6 2-.54 2-.5 2-.44 2-.4 2-.37 2-.34 2-.3 2-.28 2-.25 2-.23 2-.21 3-.28 3-.25 3-.21 3-.19 3-.17 3-.14 3-.13 3-.1 3-.1 3-.04h20"/><path d="M-4 8.6l1.4-.61 1.1-.45 3.5-1.27 2-.63 2-.56 2-.51 2-.46 2-.42 2-.38 2-.34 2-.31 2-.28 2-.25 2-.23 2-.22 2-.19 2-.17 3-.23 3-.21 3-.17 3-.15 3-.14 3-.11 3-.1 3-.08 3-.08 3-.05h20"/><path d="M-4 8l1.4-.68 1.1-.49 3.5-1.35 2-.65 2-.57 2-.51 2-.45 2-.39 2-.35 2-.31 2-.28 2-.24 2-.22 2-.19 2-.17 2-.16 2-.13 3-.17 3-.15 3-.12 3-.1 3-.09 3-.07 3-.05 3-.05 3-.04 3-.02h20"/><path d="M-4 7.4l1.4-.6 1.1-.44 3.5-1.22 2-.59 2-.52 2-.46 2-.41 2-.37 2-.32 2-.29 2-.26 2-.23 2-.21 2-.18 2-.16 2-.15 2-.13 3-.17 3-.14 3-.12 3-.1 3-.09 3-.07 3-.06 3-.05 3-.04 3-.02h20"/><path d="M-2 6.8l1.4-.43 1.1-.32 1.5-.41 2-.5 2-.46 2-.42 2-.38 2-.35 2-.32 2-.29 2-.27 2-.25 2-.23 2-.21 2-.19 2-.18 2-.17 3-.23 3-.2 3-.18 3-.16 3-.14 3-.13 3-.12 3-.1 3-.09 3-.07h20"/><path d="M-4 6.1l1.4-.45 1.1-.33 3.5-.93 2-.46 2-.41 2-.37 2-.33 2-.29 2-.27 2-.24 2-.22 2-.2 2-.18 2-.16 2-.14 2-.13 2-.12 3-.16 3-.14 3-.11 3-.1 3-.09 3-.07 3-.07 3-.05 3-.04 3-.04h20"/><path d="M-4 5.5l1.4-.34 1.1-.25 3.5-.72 2-.36 2-.33 2-.31 2-.28 2-.25 2-.24 2-.22 2-.2 2-.18 2-.17 2-.16 2-.14 2-.13 2-.13 3-.17 3-.15 3-.14 3-.12 3-.11 3-.09 3-.09 3-.08 3-.07 3-.06 3-.01h17"/><path d="M-4 5l1.4-.27 1.1-.2 3.5-.57 2-.3 2-.28 2-.26 2-.23 2-.22 2-.21 2-.19 2-.18 2-.17 2-.16 2-.15 2-.14 2-.13 2-.13 3-.17 3-.16 3-.15 3-.14 3-.12 3-.12 3-.11 3-.1 3-.09 3-.05h20"/><path d="M-2 4.4l1.4-.22 1.1-.17 1.5-.21 2-.27 2-.26 2-.23 2-.22 2-.2 2-.19 2-.18 2-.17 2-.16 2-.14 2-.14 2-.14 2-.12 2-.12 3-.17 3-.15 3-.15 3-.13 3-.13 3-.12 3-.11 3-.1 3-.09 3-.09 3-.02h17"/><path d="M-4 3.9l1.4-.22 1.1-.16 3.5-.47 2-.23 2-.23 2-.2 2-.19 2-.17 2-.17 2-.15 2-.14 2-.13 2-.12 2-.11 2-.11 2-.1 2-.1 3-.13 3-.11 3-.11 3-.1 3-.09 3-.08 3-.08 3-.06 3-.07 3-.05 3-.02h17"/><path d="M-4 3.4l1.4-.17 1.1-.13 3.5-.38 2-.2 2-.18 2-.17 2-.16 2-.14 2-.14 2-.13 2-.12 2-.12 2-.11 2-.1 2-.09 2-.09 2-.09 3-.12 3-.12 3-.1 3-.1 3-.09 3-.09 3-.07 3-.08 3-.07 3-.04h20"/><path d="M-4 2.9l1.4-.14 1.1-.11 3.5-.31 2-.17 2-.15 2-.14 2-.13 2-.13 2-.11 2-.11 2-.11 2-.09 2-.1 2-.08 2-.09 2-.07 2-.08 3-.11 3-.09 3-.1 3-.08 3-.09 3-.07 3-.07 3-.07 3-.06 3-.04h20"/><path d="M-2 2.3l1.4-.14 1.1-.1 1.5-.13 2-.16 2-.15 2-.13 2-.13 2-.12 2-.1 2-.1 2-.09 2-.08 2-.08 2-.07 2-.07 2-.06 2-.06 3-.08 3-.07 3-.07 3-.06 3-.05 3-.05 3-.04 3-.04 3-.04 3-.03h20"/><path d="M-4 1.8l1.4-.09 1.1-.07 3.5-.2 2-.11 2-.09 2-.09 2-.09 2-.07 2-.08 2-.07 2-.06 2-.06 2-.06 2-.05 2-.05 2-.05 2-.05 3-.06 3-.06 3-.06 3-.05 3-.05 3-.04 3-.05 3-.04 3-.03 3-.02h20"/><path d="M-4 1.3l1.4-.07 1.1-.05 3.5-.16 2-.07 2-.08 2-.06 2-.07 2-.05 2-.06 2-.05 2-.04 2-.05 2-.04 2-.04 2-.03 2-.04 2-.03 3-.04 3-.05 3-.03 3-.04 3-.03 3-.03 3-.02 3-.03 3-.02 3-.02h20"/><path d="M-4 .8l1.4-.04 1.1-.03 3.5-.08 2-.04 2-.04 2-.04 2-.04 2-.03 2-.03 2-.03 2-.03 2-.03 2-.02 2-.03 2-.02 2-.02 2-.02 3-.03 3-.03 3-.03 3-.02 3-.03 3-.02 3-.02 3-.02 3-.02 3-.01h20"/><path d="M-2 .4l1.4-.02 1.1-.02 1.5-.02 2-.02 2-.03 2-.02 2-.02 2-.02 2-.02 2-.01 2-.02 2-.01 2-.02 2-.01 2-.01 2-.01 2-.01 3-.02 3-.01 3-.01 3-.02 3-.01 3-.01 3-.01 3-.01h3l3-.01h20"/><path d="M-4 .15l1.4-.01 1.1-.01 3.5-.02 2-.01h2l2-.01 2-.01 2-.01h2l2-.01 2-.01h2h2l2-.01h2l2-.01h2h3l3-.01h3l3-.01h3h3h3l3-.01h3h3h20"/><path d="M-4 0h84"/></g></g>
<path d="M144.9 737.2L151.1 739.2L157.3 741L163.6 742.8L169.8 744.4L176 746L182.3 747.5L188.5 748.9L194.7 750.3L201 751.6L207.2 752.8L213.4 754L219.6 755.1L225.9 756.2L232.1 757.2L238.3 758.1L244.6 759.1L250.8 760L257 760.8L263.2 761.6L269.5 762.4L275.7 763.2L281.9 764L288.2 764.7L294.4 765.4L300.6 766.1L306.9 766.8L313.1 767.4L319.3 768.1L325.6 768.6L331.8 769.2L338 769.7L344.2 770.2L350.5 770.6L356.7 771.1L362.9 771.5L369.2 771.9L375.4 772.3L381.6 772.7L387.9 773L394.1 773.4L400.3 773.7L406.5 774.1L412.8 774.4L419 774.7L425.2 775L431.5 775.3L437.7 775.6L443.9 775.8L450.2 776.1L456.4 776.3L462.6 776.6L468.8 776.8L475.1 777L481.3 777.2L487.5 777.4L493.8 777.5L500 777.6L506.2 777.7L512.5 777.8L518.7 777.9L524.9 778L531.1 778.1L537.4 778.1L543.6 778.1L668.2 778.1" fill="none" stroke="#b5ee60" stroke-width="8.5" stroke-linejoin="round"/>
<g class="t" transform="translate(768.1 778.1) scale(6.23 -5.11)" stroke="#b5ee60"><g stroke-opacity=".02" stroke-width="3.0"><path d="M-2 58l1.4-4.76 1.1-3.46 1.5-4.37 2-5.23 2-4.63 2-4.1 2-3.63 2-3.22 2-2.85 2-2.53 2-2.24 2-1.99 2-1.77 2-1.57 2-1.39 2-1.24 2-1.1 3-1.43 3-1.19 3-1 3-.84 3-.69 3-.59 3-.48 3-.4 3-.33 3-.28 3-.22 3-.18 3-.14 3-.12 3-.03h5"/><path d="M-3 55.5l1.4-4.51 1.1-3.28 2.5-6.7 2-4.67 2-4.15 2-3.67 2-3.26 2-2.89 2-2.57 2-2.28 2-2.03 2-1.8 2-1.6 2-1.43 2-1.27 2-1.12 2-1.01 3-1.3 3-1.09 3-.92 3-.77 3-.64 3-.54 3-.44 3-.38 3-.3 3-.26 3-.2 3-.17 3-.13 3-.11 3-.01h5"/></g><g stroke-opacity=".03" stroke-width="2.0"><path d="M-2 58l1.4-4.91 1.1-3.56 1.5-4.47 2-5.35 2-4.71 2-4.16 2-3.67 2-3.23 2-2.86 2-2.52 2-2.23 2-1.98 2-1.74 2-1.54 2-1.37 2-1.2 2-1.07 3-1.38 3-1.14 3-.95 3-.8 3-.65 3-.55 3-.44 3-.37 3-.31 3-.24 3-.2 3-.16 3-.13 3-.1 3-.01h5"/><path d="M-3 55.5l1.4-4.64 1.1-3.38 2.5-6.86 2-4.77 2-4.21 2-3.72 2-3.29 2-2.9 2-2.57 2-2.28 2-2.01 2-1.78 2-1.58 2-1.4 2-1.23 2-1.1 2-.97 3-1.26 3-1.05 3-.87 3-.73 3-.6 3-.5 3-.41 3-.35 3-.28 3-.22 3-.19 3-.15 3-.12 3-.08h8"/></g><g stroke-opacity=".04" stroke-width="3.0"><path d="M-3 42.6l1.4-3.31 1.1-2.43 2.5-4.96 2-3.49 2-3.11 2-2.77 2-2.47 2-2.2 2-1.97 2-1.75 2-1.57 2-1.41 2-1.25 2-1.12 2-1 2-.9 2-.8 3-1.05 3-.89 3-.75 3-.64 3-.54 3-.45 3-.38 3-.32 3-.27 3-.22 3-.18 3-.15 3-.13 3-.1 3-.02h5"/><path d="M-3 38.5l1.4-2.55 1.1-1.88 2.5-3.92 2-2.81 2-2.55 2-2.31 2-2.11 2-1.91 2-1.73 2-1.58 2-1.44 2-1.31 2-1.19 2-1.09 2-.99 2-.9 2-.83 3-1.11 3-.96 3-.84 3-.74 3-.64 3-.57 3-.48 3-.43 3-.37 3-.31 3-.28 3-.23 3-.21 3-.17 3-.06h5"/><path d="M-3 36l1.4-2.7 1.1-1.97 2.5-4.07 2-2.87 2-2.57 2-2.3 2-2.07 2-1.84 2-1.66 2-1.49 2-1.33 2-1.2 2-1.07 2-.97 2-.87 2-.78 2-.7 3-.93 3-.78 3-.67 3-.58 3-.48 3-.42 3-.35 3-.3 3-.25 3-.21 3-.18 3-.14 3-.12 3-.1 3-.03h5"/><path d="M-2 33.5l1.4-2.75 1.1-2 1.5-2.52 2-3.02 2-2.68 2-2.36 2-2.1 2-1.86 2-1.65 2-1.46 2-1.29 2-1.15 2-1.02 2-.91 2-.8 2-.72 2-.64 3-.82 3-.69 3-.57 3-.49 3-.4 3-.34 3-.28 3-.23 3-.19 3-.16 3-.13 3-.1 3-.08 3-.07 3-.02h5"/><path d="M-3 31l1.4-2.71 1.1-1.96 2.5-3.97 2-2.74 2-2.41 2-2.11 2-1.85 2-1.64 2-1.43 2-1.26 2-1.11 2-.97 2-.86 2-.76 2-.66 2-.59 2-.51 3-.66 3-.55 3-.45 3-.37 3-.31 3-.25 3-.2 3-.17 3-.13 3-.11 3-.09 3-.07 3-.05 3-.05h3h5"/><path d="M-3 29l1.4-2.3 1.1-1.68 2.5-3.43 2-2.41 2-2.13 2-1.9 2-1.7 2-1.5 2-1.34 2-1.2 2-1.06 2-.95 2-.84 2-.76 2-.67 2-.6 2-.54 3-.7 3-.58 3-.5 3-.42 3-.35 3-.29 3-.25 3-.21 3-.17 3-.14 3-.12 3-.09 3-.08 3-.06 3-.03h5"/><path d="M-3 27.5l1.4-2.17 1.1-1.58 2.5-3.25 2-2.27 2-2.02 2-1.8 2-1.6 2-1.43 2-1.27 2-1.13 2-1.01 2-.9 2-.8 2-.72 2-.64 2-.57 2-.51 3-.67 3-.56 3-.47 3-.4 3-.33 3-.29 3-.23 3-.2 3-.17 3-.13 3-.12 3-.09 3-.07 3-.07 3-.03h5"/><path d="M-3 26l1.4-2.05 1.1-1.5 2.5-3.06 2-2.15 2-1.91 2-1.7 2-1.52 2-1.35 2-1.2 2-1.07 2-.95 2-.86 2-.76 2-.67 2-.61 2-.54 2-.48 3-.63 3-.53 3-.45 3-.38 3-.32 3-.27 3-.22 3-.19 3-.16 3-.13 3-.1 3-.09 3-.07 3-.06 3-.02h5"/><path d="M-2 24.5l1.4-1.86 1.1-1.36 1.5-1.73 2-2.08 2-1.87 2-1.66 2-1.49 2-1.34 2-1.19 2-1.07 2-.96 2-.85 2-.77 2-.7 2-.62 2-.55 2-.5 3-.66 3-.55 3-.48 3-.4 3-.35 3-.29 3-.25 3-.2 3-.18 3-.15 3-.12 3-.1 3-.08 3-.07 3-.02h5"/><path d="M-3 23l1.4-1.75 1.1-1.27 2.5-2.63 2-1.85 2-1.66 2-1.47 2-1.33 2-1.18 2-1.06 2-.95 2-.85 2-.77 2-.68 2-.61 2-.55 2-.5 2-.44 3-.59 3-.49 3-.42 3-.36 3-.31 3-.26 3-.22 3-.18 3-.16 3-.12 3-.11 3-.09 3-.08 3-.06h3h5"/><path d="M-3 22l1.4-1.93 1.1-1.39 2.5-2.82 2-1.95 2-1.71 2-1.5 2-1.31 2-1.16 2-1.02 2-.89 2-.79 2-.69 2-.6 2-.54 2-.47 2-.41 2-.37 3-.46 3-.39 3-.32 3-.26 3-.21 3-.18 3-.14 3-.12 3-.1 3-.07 3-.06 3-.05 3-.04 3-.03 3-.02h5"/><path d="M-3 21l1.4-1.8 1.1-1.3 2.5-2.65 2-1.83 2-1.61 2-1.42 2-1.25 2-1.1 2-.97 2-.86 2-.76 2-.66 2-.59 2-.52 2-.46 2-.4 2-.36 3-.46 3-.38 3-.31 3-.26 3-.22 3-.18 3-.14 3-.12 3-.1 3-.08 3-.06 3-.06 3-.04 3-.03 3-.02h5"/><path d="M-3 20.2l1.4-1.55 1.1-1.13 2.5-2.33 2-1.64 2-1.46 2-1.31 2-1.16 2-1.04 2-.94 2-.83 2-.74 2-.67 2-.6 2-.53 2-.48 2-.43 2-.38 3-.51 3-.43 3-.36 3-.31 3-.26 3-.22 3-.18 3-.16 3-.13 3-.11 3-.09 3-.08 3-.06 3-.05 3-.03h5"/><path d="M-2 19.5l1.4-1.62 1.1-1.17 1.5-1.48 2-1.77 2-1.57 2-1.38 2-1.23 2-1.08 2-.96 2-.85 2-.75 2-.67 2-.59 2-.53 2-.46 2-.41 2-.37 3-.47 3-.4 3-.33 3-.27 3-.23 3-.2 3-.15 3-.13 3-.11 3-.09 3-.07 3-.06 3-.05 3-.04 3-.01h5"/><path d="M-3 18.8l1.4-1.45 1.1-1.06 2.5-2.17 2-1.53 2-1.36 2-1.22 2-1.08 2-.98 2-.86 2-.78 2-.69 2-.62 2-.56 2-.49 2-.45 2-.4 2-.36 3-.46 3-.4 3-.34 3-.28 3-.24 3-.21 3-.17 3-.14 3-.13 3-.1 3-.08 3-.07 3-.06 3-.04 3-.02h5"/><path d="M-3 18l1.4-1.42 1.1-1.04 2.5-2.12 2-1.48 2-1.33 2-1.18 2-1.04 2-.94 2-.83 2-.74 2-.66 2-.59 2-.53 2-.47 2-.42 2-.37 2-.33 3-.44 3-.37 3-.31 3-.26 3-.22 3-.19 3-.15 3-.13 3-.11 3-.09 3-.07 3-.06 3-.05 3-.04 3-.02h5"/><path d="M-3 17l1.4-1.45 1.1-1.05 2.5-2.13 2-1.48 2-1.3 2-1.15 2-1.01 2-.89 2-.79 2-.69 2-.62 2-.54 2-.47 2-.42 2-.38 2-.33 2-.29 3-.37 3-.31 3-.26 3-.21 3-.18 3-.14 3-.12 3-.1 3-.08 3-.07 3-.05 3-.04 3-.04 3-.02 3-.02h5"/><path d="M-3 16l1.4-1.52 1.1-1.1 2.5-2.19 2-1.49 2-1.3 2-1.12 2-.97 2-.85 2-.73 2-.63 2-.56 2-.48 2-.41 2-.37 2-.31 2-.27 2-.24 3-.3 3-.24 3-.2 3-.15 3-.13 3-.1 3-.08 3-.07 3-.05 3-.04 3-.03 3-.03 3-.02 3-.01 3-.01h5"/><path d="M-2 15l1.4-1.13 1.1-.82 1.5-1.05 2-1.27 2-1.13 2-1.02 2-.9 2-.82 2-.73 2-.65 2-.59 2-.52 2-.48 2-.42 2-.38 2-.34 2-.31 3-.41 3-.34 3-.3 3-.25 3-.21 3-.18 3-.15 3-.13 3-.11 3-.1 3-.07 3-.07 3-.05 3-.05 3-.02h5"/><path d="M-3 14l1.4-1.17 1.1-.85 2.5-1.72 2-1.2 2-1.06 2-.94 2-.83 2-.73 2-.65 2-.57 2-.51 2-.45 2-.4 2-.35 2-.32 2-.27 2-.25 3-.32 3-.26 3-.22 3-.19 3-.15 3-.13 3-.1 3-.09 3-.07 3-.06 3-.05 3-.03 3-.03 3-.03h3h5"/><path d="M-3 13l1.4-.97 1.1-.72 2.5-1.46 2-1.04 2-.93 2-.83 2-.74 2-.67 2-.6 2-.53 2-.49 2-.43 2-.39 2-.35 2-.31 2-.28 2-.26 3-.33 3-.29 3-.24 3-.21 3-.17 3-.15 3-.13 3-.11 3-.09 3-.08 3-.06 3-.05 3-.05 3-.03 3-.01h5"/><path d="M-3 12.2l1.4-.97 1.1-.7 2.5-1.45 2-1.01 2-.9 2-.8 2-.71 2-.63 2-.57 2-.5 2-.45 2-.4 2-.35 2-.32 2-.28 2-.26 2-.22 3-.3 3-.24 3-.21 3-.18 3-.15 3-.12 3-.11 3-.08 3-.08 3-.06 3-.05 3-.04 3-.03 3-.02 3-.01h5"/><path d="M-3 11.5l1.4-.9 1.1-.67 2.5-1.35 2-.95 2-.84 2-.75 2-.67 2-.6 2-.53 2-.47 2-.42 2-.38 2-.34 2-.3 2-.26 2-.24 2-.22 3-.28 3-.23 3-.2 3-.17 3-.14 3-.12 3-.1 3-.08 3-.07 3-.06 3-.04 3-.04 3-.04 3-.02 3-.02h5"/><path d="M-2 11l1.4-.86 1.1-.63 1.5-.79 2-.96 2-.85 2-.76 2-.68 2-.6 2-.54 2-.48 2-.43 2-.38 2-.34 2-.31 2-.27 2-.25 2-.22 3-.28 3-.24 3-.21 3-.17 3-.14 3-.13 3-.1 3-.09 3-.07 3-.06 3-.05 3-.04 3-.03 3-.03 3-.01h5"/><path d="M-3 10.5l1.4-.83 1.1-.61 2.5-1.24 2-.87 2-.78 2-.69 2-.61 2-.54 2-.49 2-.43 2-.39 2-.34 2-.31 2-.27 2-.24 2-.22 2-.19 3-.26 3-.21 3-.18 3-.15 3-.13 3-.1 3-.09 3-.08 3-.06 3-.05 3-.04 3-.04 3-.03 3-.02 3-.01h5"/><path d="M-3 10l1.4-.81 1.1-.6 2.5-1.21 2-.84 2-.75 2-.66 2-.59 2-.52 2-.46 2-.42 2-.36 2-.32 2-.29 2-.26 2-.22 2-.21 2-.18 3-.23 3-.19 3-.17 3-.13 3-.12 3-.09 3-.08 3-.07 3-.05 3-.05 3-.03 3-.03 3-.03 3-.02 3-.01h5"/><path d="M-3 9.2l1.4-.69 1.1-.51 2.5-1.05 2-.74 2-.66 2-.59 2-.53 2-.47 2-.42 2-.38 2-.34 2-.31 2-.27 2-.25 2-.22 2-.2 2-.18 3-.23 3-.2 3-.17 3-.14 3-.12 3-.11 3-.09 3-.07 3-.06 3-.06 3-.04 3-.04 3-.03 3-.02 3-.01h5"/><path d="M-3 8.3l1.4-.52 1.1-.39 2.5-.81 2-.58 2-.53 2-.49 2-.44 2-.41 2-.37 2-.34 2-.3 2-.29 2-.26 2-.23 2-.22 2-.2 2-.19 3-.24 3-.22 3-.19 3-.17 3-.15 3-.13 3-.12 3-.1 3-.09 3-.07 3-.07 3-.06 3-.05 3-.04 3-.03h5"/><path d="M-2 7l1.4-.46 1.1-.34 1.5-.43 2-.53 2-.48 2-.44 2-.4 2-.36 2-.33 2-.3 2-.28 2-.25 2-.22 2-.21 2-.19 2-.18 2-.15 3-.22 3-.18 3-.17 3-.14 3-.13 3-.11 3-.09 3-.09 3-.07 3-.06 3-.06 3-.04 3-.04 3-.04 3-.01h5"/><path d="M-3 3.2l1.4-.18 1.1-.14 2.5-.28 2-.21 2-.19 2-.17 2-.17 2-.15 2-.13 2-.13 2-.12 2-.11 2-.1 2-.09 2-.09 2-.08 2-.07 3-.11 3-.09 3-.08 3-.07 3-.07 3-.06 3-.05 3-.05 3-.04 3-.04 3-.03 3-.03 3-.03 3-.02 3-.02h5"/></g><g stroke-opacity=".05" stroke-width="1.2"><path d="M-2 58l1.4-5.05 1.1-3.66 1.5-4.58 2-5.46 2-4.79 2-4.21 2-3.71 2-3.25 2-2.86 2-2.52 2-2.21 2-1.95 2-1.72 2-1.51 2-1.34 2-1.17 2-1.04 3-1.33 3-1.09 3-.91 3-.75 3-.62 3-.5 3-.42 3-.34 3-.27 3-.23 3-.18 3-.14 3-.11 3-.08h8"/><path d="M-3 55.5l1.4-4.78 1.1-3.47 2.5-7.02 2-4.86 2-4.27 2-3.77 2-3.31 2-2.92 2-2.56 2-2.27 2-1.99 2-1.76 2-1.56 2-1.37 2-1.2 2-1.07 2-.94 3-1.21 3-1 3-.83 3-.69 3-.57 3-.46 3-.39 3-.31 3-.26 3-.2 3-.17 3-.13 3-.1 3-.06h8"/></g><g stroke-opacity=".06" stroke-width="2.0"><path d="M-3 42.6l1.4-3.42 1.1-2.49 2.5-5.08 2-3.56 2-3.16 2-2.81 2-2.49 2-2.22 2-1.97 2-1.75 2-1.56 2-1.39 2-1.24 2-1.1 2-.98 2-.88 2-.78 3-1.01 3-.86 3-.72 3-.6 3-.51 3-.42 3-.36 3-.29 3-.25 3-.2 3-.16 3-.14 3-.11 3-.09h3h5"/><path d="M-3 38.5l1.4-2.63 1.1-1.93 2.5-4.02 2-2.88 2-2.6 2-2.35 2-2.13 2-1.92 2-1.75 2-1.59 2-1.43 2-1.31 2-1.18 2-1.08 2-.98 2-.89 2-.81 3-1.08 3-.94 3-.81 3-.71 3-.62 3-.53 3-.46 3-.4 3-.34 3-.3 3-.25 3-.21 3-.19 3-.15 3-.03h5"/><path d="M-3 36l1.4-2.78 1.1-2.03 2.5-4.17 2-2.93 2-2.62 2-2.33 2-2.08 2-1.86 2-1.67 2-1.48 2-1.33 2-1.19 2-1.06 2-.95 2-.86 2-.76 2-.68 3-.9 3-.76 3-.64 3-.55 3-.46 3-.39 3-.33 3-.27 3-.23 3-.2 3-.16 3-.13 3-.1 3-.09 3-.01h5"/><path d="M-2 33.5l1.4-2.83 1.1-2.06 1.5-2.58 2-3.09 2-2.72 2-2.41 2-2.11 2-1.87 2-1.65 2-1.46 2-1.29 2-1.14 2-1.01 2-.89 2-.78 2-.7 2-.62 3-.79 3-.66 3-.55 3-.46 3-.38 3-.31 3-.26 3-.22 3-.17 3-.14 3-.12 3-.09 3-.07 3-.06 3-.01h5"/><path d="M-3 31l1.4-2.79 1.1-2.02 2.5-4.06 2-2.8 2-2.44 2-2.13 2-1.87 2-1.63 2-1.43 2-1.26 2-1.09 2-.97 2-.84 2-.74 2-.64 2-.57 2-.5 3-.63 3-.52 3-.43 3-.35 3-.28 3-.23 3-.19 3-.15 3-.12 3-.1 3-.08 3-.06 3-.05 3-.03h8"/><path d="M-3 29l1.4-2.37 1.1-1.73 2.5-3.51 2-2.46 2-2.17 2-1.93 2-1.7 2-1.52 2-1.34 2-1.19 2-1.06 2-.93 2-.84 2-.74 2-.66 2-.58 2-.52 3-.68 3-.56 3-.47 3-.4 3-.33 3-.28 3-.23 3-.19 3-.15 3-.13 3-.11 3-.08 3-.07 3-.06 3-.01h5"/><path d="M-3 27.5l1.4-2.24 1.1-1.62 2.5-3.33 2-2.32 2-2.05 2-1.82 2-1.62 2-1.43 2-1.27 2-1.13 2-1.01 2-.89 2-.79 2-.71 2-.62 2-.56 2-.49 3-.65 3-.54 3-.45 3-.38 3-.31 3-.27 3-.22 3-.18 3-.15 3-.12 3-.11 3-.08 3-.07 3-.05 3-.02h5"/><path d="M-3 26l1.4-2.11 1.1-1.54 2.5-3.14 2-2.2 2-1.94 2-1.72 2-1.53 2-1.36 2-1.2 2-1.07 2-.95 2-.84 2-.75 2-.67 2-.59 2-.53 2-.46 3-.61 3-.51 3-.43 3-.36 3-.3 3-.25 3-.21 3-.17 3-.14 3-.12 3-.1 3-.08 3-.06 3-.05 3-.01h5"/><path d="M-2 24.5l1.4-1.92 1.1-1.4 1.5-1.77 2-2.13 2-1.9 2-1.69 2-1.51 2-1.34 2-1.2 2-1.07 2-.96 2-.85 2-.76 2-.68 2-.61 2-.55 2-.48 3-.64 3-.54 3-.45 3-.39 3-.32 3-.28 3-.23 3-.19 3-.16 3-.14 3-.11 3-.09 3-.07 3-.06 3-.01h5"/><path d="M-3 23l1.4-1.8 1.1-1.31 2.5-2.7 2-1.88 2-1.69 2-1.5 2-1.33 2-1.2 2-1.06 2-.95 2-.84 2-.76 2-.68 2-.6 2-.54 2-.48 2-.44 3-.56 3-.48 3-.4 3-.34 3-.29 3-.24 3-.21 3-.17 3-.14 3-.12 3-.1 3-.08 3-.06 3-.05h8"/><path d="M-3 22l1.4-1.99 1.1-1.43 2.5-2.89 2-1.98 2-1.73 2-1.52 2-1.33 2-1.15 2-1.02 2-.89 2-.77 2-.69 2-.59 2-.52 2-.46 2-.4 2-.35 3-.45 3-.37 3-.3 3-.24 3-.2 3-.17 3-.13 3-.11 3-.08 3-.07 3-.06 3-.04 3-.03 3-.03 3-.01h5"/><path d="M-3 21l1.4-1.85 1.1-1.34 2.5-2.71 2-1.87 2-1.64 2-1.43 2-1.26 2-1.11 2-.97 2-.85 2-.75 2-.65 2-.58 2-.51 2-.44 2-.4 2-.34 3-.44 3-.36 3-.3 3-.25 3-.2 3-.17 3-.13 3-.11 3-.09 3-.07 3-.06 3-.04 3-.04 3-.03 3-.01h5"/><path d="M-3 20.2l1.4-1.6 1.1-1.16 2.5-2.39 2-1.67 2-1.49 2-1.32 2-1.18 2-1.05 2-.93 2-.83 2-.74 2-.66 2-.59 2-.53 2-.47 2-.42 2-.37 3-.49 3-.41 3-.35 3-.29 3-.24 3-.21 3-.17 3-.15 3-.12 3-.1 3-.08 3-.07 3-.05 3-.05 3-.02h5"/><path d="M-2 19.5l1.4-1.67 1.1-1.2 1.5-1.52 2-1.81 2-1.59 2-1.41 2-1.24 2-1.09 2-.96 2-.84 2-.75 2-.66 2-.59 2-.51 2-.46 2-.4 2-.35 3-.46 3-.38 3-.31 3-.26 3-.22 3-.18 3-.14 3-.12 3-.1 3-.08 3-.07 3-.05 3-.04 3-.03 3-.01h5"/><path d="M-3 18.8l1.4-1.49 1.1-1.09 2.5-2.23 2-1.56 2-1.38 2-1.24 2-1.09 2-.98 2-.87 2-.77 2-.69 2-.62 2-.55 2-.49 2-.43 2-.39 2-.35 3-.45 3-.38 3-.33 3-.27 3-.23 3-.19 3-.16 3-.13 3-.11 3-.09 3-.08 3-.06 3-.05 3-.04 3-.01h5"/><path d="M-3 18l1.4-1.46 1.1-1.07 2.5-2.17 2-1.52 2-1.35 2-1.19 2-1.06 2-.93 2-.84 2-.74 2-.65 2-.59 2-.52 2-.46 2-.41 2-.36 2-.33 3-.42 3-.35 3-.3 3-.25 3-.2 3-.18 3-.14 3-.12 3-.1 3-.08 3-.07 3-.05 3-.05 3-.03 3-.01h5"/><path d="M-3 17l1.4-1.49 1.1-1.08 2.5-2.19 2-1.51 2-1.32 2-1.16 2-1.02 2-.89 2-.79 2-.69 2-.6 2-.54 2-.46 2-.42 2-.36 2-.32 2-.28 3-.36 3-.29 3-.25 3-.2 3-.16 3-.14 3-.11 3-.09 3-.07 3-.06 3-.05 3-.04 3-.02 3-.03 3-.01h5"/><path d="M-3 16l1.4-1.57 1.1-1.13 2.5-2.24 2-1.52 2-1.31 2-1.13 2-.98 2-.84 2-.73 2-.63 2-.54 2-.47 2-.41 2-.35 2-.31 2-.26 2-.23 3-.28 3-.23 3-.18 3-.15 3-.12 3-.09 3-.08 3-.05 3-.05 3-.04 3-.02 3-.03 3-.01 3-.01 3-.01h5"/><path d="M-2 15l1.4-1.16 1.1-.85 1.5-1.07 2-1.3 2-1.16 2-1.03 2-.92 2-.82 2-.73 2-.65 2-.59 2-.52 2-.47 2-.42 2-.37 2-.34 2-.3 3-.39 3-.34 3-.28 3-.24 3-.2 3-.17 3-.14 3-.12 3-.11 3-.08 3-.07 3-.06 3-.05 3-.03 3-.02h5"/><path d="M-3 14l1.4-1.2 1.1-.88 2.5-1.76 2-1.23 2-1.07 2-.95 2-.84 2-.73 2-.65 2-.57 2-.51 2-.44 2-.39 2-.35 2-.3 2-.27 2-.24 3-.31 3-.25 3-.21 3-.17 3-.15 3-.12 3-.09 3-.08 3-.07 3-.05 3-.04 3-.04 3-.02 3-.02h8"/><path d="M-3 13l1.4-1 1.1-.74 2.5-1.5 2-1.06 2-.94 2-.84 2-.76 2-.67 2-.6 2-.53 2-.48 2-.43 2-.39 2-.34 2-.31 2-.28 2-.24 3-.33 3-.27 3-.23 3-.2 3-.17 3-.14 3-.12 3-.1 3-.08 3-.07 3-.06 3-.05 3-.04 3-.03h3h5"/><path d="M-3 12.2l1.4-1 1.1-.72 2.5-1.48 2-1.03 2-.92 2-.81 2-.72 2-.63 2-.57 2-.5 2-.44 2-.4 2-.35 2-.31 2-.28 2-.25 2-.22 3-.28 3-.24 3-.2 3-.16 3-.14 3-.12 3-.1 3-.08 3-.06 3-.06 3-.04 3-.04 3-.03 3-.02h8"/><path d="M-3 11.5l1.4-.93 1.1-.68 2.5-1.39 2-.96 2-.86 2-.76 2-.68 2-.6 2-.53 2-.47 2-.42 2-.38 2-.33 2-.29 2-.26 2-.24 2-.2 3-.27 3-.23 3-.19 3-.16 3-.13 3-.11 3-.1 3-.07 3-.07 3-.05 3-.04 3-.04 3-.02 3-.03 3-.01h5"/><path d="M-2 11l1.4-.89 1.1-.64 1.5-.82 2-.98 2-.87 2-.77 2-.68 2-.61 2-.54 2-.48 2-.43 2-.38 2-.33 2-.3 2-.27 2-.24 2-.21 3-.28 3-.23 3-.2 3-.16 3-.14 3-.11 3-.1 3-.08 3-.06 3-.06 3-.04 3-.04 3-.03 3-.02 3-.01h5"/><path d="M-3 10.5l1.4-.86 1.1-.62 2.5-1.28 2-.89 2-.78 2-.7 2-.62 2-.55 2-.48 2-.43 2-.39 2-.33 2-.31 2-.26 2-.24 2-.22 2-.18 3-.25 3-.2 3-.17 3-.15 3-.12 3-.1 3-.08 3-.07 3-.05 3-.05 3-.04 3-.03 3-.02 3-.02 3-.01h5"/><path d="M-3 10l1.4-.84 1.1-.61 2.5-1.24 2-.86 2-.76 2-.67 2-.59 2-.53 2-.46 2-.41 2-.36 2-.32 2-.28 2-.25 2-.23 2-.19 2-.18 3-.22 3-.19 3-.15 3-.13 3-.11 3-.09 3-.07 3-.06 3-.05 3-.04 3-.04 3-.02 3-.02 3-.02 3-.01h5"/><path d="M-3 9.2l1.4-.72 1.1-.52 2.5-1.07 2-.76 2-.67 2-.59 2-.54 2-.47 2-.43 2-.38 2-.34 2-.3 2-.27 2-.24 2-.22 2-.19 2-.18 3-.22 3-.2 3-.16 3-.14 3-.11 3-.1 3-.08 3-.07 3-.06 3-.05 3-.04 3-.03 3-.02 3-.03h3h5"/><path d="M-3 8.3l1.4-.54 1.1-.4 2.5-.83 2-.59 2-.55 2-.49 2-.45 2-.41 2-.37 2-.34 2-.31 2-.28 2-.26 2-.24 2-.21 2-.2 2-.18 3-.24 3-.21 3-.19 3-.16 3-.15 3-.12 3-.11 3-.1 3-.08 3-.07 3-.06 3-.06 3-.04 3-.04 3-.02h5"/><path d="M-2 7l1.4-.47 1.1-.35 1.5-.44 2-.55 2-.49 2-.45 2-.4 2-.37 2-.33 2-.3 2-.28 2-.25 2-.22 2-.21 2-.19 2-.17 2-.15 3-.21 3-.19 3-.15 3-.14 3-.12 3-.11 3-.09 3-.08 3-.06 3-.06 3-.05 3-.05 3-.03 3-.04h3h5"/><path d="M-3 3.2l1.4-.19 1.1-.14 2.5-.29 2-.21 2-.2 2-.17 2-.17 2-.15 2-.14 2-.13 2-.12 2-.11 2-.1 2-.09 2-.09 2-.08 2-.07 3-.1 3-.09 3-.08 3-.07 3-.06 3-.06 3-.05 3-.05 3-.04 3-.03 3-.03 3-.03 3-.03 3-.02 3-.01h5"/></g><g stroke-opacity=".12" stroke-width="1.2"><path d="M-3 42.6l1.4-3.52 1.1-2.56 2.5-5.2 2-3.63 2-3.21 2-2.84 2-2.52 2-2.22 2-1.98 2-1.75 2-1.55 2-1.37 2-1.22 2-1.08 2-.96 2-.86 2-.75 3-.98 3-.82 3-.69 3-.57 3-.48 3-.4 3-.33 3-.27 3-.22 3-.19 3-.15 3-.12 3-.09 3-.07h8"/><path d="M-3 38.5l1.4-2.7 1.1-1.99 2.5-4.13 2-2.93 2-2.65 2-2.38 2-2.16 2-1.94 2-1.76 2-1.59 2-1.43 2-1.3 2-1.18 2-1.07 2-.96 2-.88 2-.79 3-1.05 3-.91 3-.79 3-.68 3-.59 3-.51 3-.43 3-.37 3-.32 3-.28 3-.23 3-.2 3-.16 3-.14h3h5"/><path d="M-3 36l1.4-2.86 1.1-2.09 2.5-4.27 2-2.99 2-2.66 2-2.36 2-2.1 2-1.87 2-1.67 2-1.48 2-1.32 2-1.18 2-1.05 2-.94 2-.83 2-.75 2-.67 3-.86 3-.73 3-.62 3-.52 3-.44 3-.36 3-.31 3-.25 3-.22 3-.17 3-.15 3-.11 3-.1 3-.07h8"/><path d="M-2 33.5l1.4-2.92 1.1-2.11 1.5-2.65 2-3.15 2-2.77 2-2.43 2-2.14 2-1.88 2-1.65 2-1.45 2-1.28 2-1.13 2-.99 2-.87 2-.77 2-.68 2-.6 3-.77 3-.63 3-.53 3-.43 3-.35 3-.3 3-.24 3-.19 3-.16 3-.13 3-.11 3-.08 3-.06 3-.05h8"/><path d="M-3 31l1.4-2.87 1.1-2.08 2.5-4.15 2-2.85 2-2.47 2-2.16 2-1.87 2-1.64 2-1.43 2-1.24 2-1.09 2-.94 2-.83 2-.72 2-.63 2-.55 2-.48 3-.6 3-.5 3-.4 3-.33 3-.26 3-.22 3-.17 3-.14 3-.11 3-.08 3-.07 3-.06 3-.04 3-.02h8"/><path d="M-3 29l1.4-2.44 1.1-1.77 2.5-3.6 2-2.5 2-2.21 2-1.95 2-1.72 2-1.52 2-1.34 2-1.19 2-1.05 2-.93 2-.82 2-.72 2-.65 2-.57 2-.5 3-.65 3-.54 3-.46 3-.37 3-.31 3-.26 3-.21 3-.18 3-.14 3-.12 3-.09 3-.08 3-.06 3-.05h3h5"/><path d="M-3 27.5l1.4-2.3 1.1-1.68 2.5-3.4 2-2.36 2-2.09 2-1.84 2-1.63 2-1.44 2-1.27 2-1.13 2-.99 2-.89 2-.78 2-.69 2-.61 2-.54 2-.48 3-.62 3-.52 3-.43 3-.36 3-.3 3-.24 3-.21 3-.17 3-.14 3-.11 3-.09 3-.07 3-.06 3-.05 3-.01h5"/><path d="M-3 26l1.4-2.18 1.1-1.58 2.5-3.21 2-2.24 2-1.97 2-1.74 2-1.54 2-1.37 2-1.2 2-1.06 2-.95 2-.83 2-.74 2-.65 2-.58 2-.52 2-.45 3-.59 3-.49 3-.41 3-.34 3-.28 3-.23 3-.2 3-.16 3-.13 3-.1 3-.09 3-.07 3-.06 3-.04h8"/><path d="M-2 24.5l1.4-1.97 1.1-1.44 1.5-1.82 2-2.18 2-1.93 2-1.72 2-1.52 2-1.35 2-1.21 2-1.07 2-.95 2-.84 2-.76 2-.67 2-.6 2-.53 2-.47 3-.62 3-.52 3-.44 3-.36 3-.31 3-.26 3-.21 3-.18 3-.15 3-.12 3-.1 3-.09 3-.06 3-.05h8"/><path d="M-3 23l1.4-1.85 1.1-1.35 2.5-2.76 2-1.93 2-1.71 2-1.51 2-1.35 2-1.2 2-1.07 2-.94 2-.84 2-.75 2-.67 2-.6 2-.53 2-.47 2-.42 3-.54 3-.46 3-.39 3-.32 3-.28 3-.22 3-.19 3-.16 3-.13 3-.11 3-.09 3-.07 3-.06 3-.03h8"/><path d="M-3 22l1.4-2.04 1.1-1.48 2.5-2.95 2-2.02 2-1.76 2-1.53 2-1.33 2-1.16 2-1.01 2-.88 2-.77 2-.67 2-.59 2-.51 2-.44 2-.39 2-.34 3-.43 3-.35 3-.28 3-.23 3-.19 3-.15 3-.12 3-.1 3-.07 3-.07 3-.04 3-.04 3-.03 3-.02 3-.01h5"/><path d="M-3 21l1.4-1.91 1.1-1.37 2.5-2.77 2-1.91 2-1.66 2-1.45 2-1.26 2-1.11 2-.97 2-.85 2-.74 2-.64 2-.57 2-.5 2-.43 2-.38 2-.33 3-.43 3-.34 3-.28 3-.24 3-.18 3-.16 3-.12 3-.1 3-.08 3-.07 3-.05 3-.04 3-.03 3-.02 3-.01h5"/><path d="M-3 20.2l1.4-1.64 1.1-1.2 2.5-2.45 2-1.7 2-1.51 2-1.34 2-1.19 2-1.05 2-.94 2-.82 2-.74 2-.66 2-.58 2-.52 2-.46 2-.4 2-.37 3-.47 3-.39 3-.34 3-.27 3-.24 3-.19 3-.16 3-.13 3-.11 3-.1 3-.07 3-.06 3-.05 3-.04 3-.01h5"/><path d="M-2 19.5l1.4-1.71 1.1-1.25 1.5-1.55 2-1.85 2-1.62 2-1.42 2-1.25 2-1.09 2-.97 2-.84 2-.74 2-.66 2-.57 2-.51 2-.44 2-.39 2-.34 3-.44 3-.37 3-.3 3-.24 3-.21 3-.16 3-.14 3-.11 3-.09 3-.07 3-.06 3-.04 3-.04 3-.03h3h5"/><path d="M-3 18.8l1.4-1.54 1.1-1.11 2.5-2.29 2-1.59 2-1.4 2-1.25 2-1.11 2-.98 2-.87 2-.77 2-.69 2-.61 2-.54 2-.48 2-.43 2-.38 2-.33 3-.44 3-.37 3-.31 3-.25 3-.22 3-.18 3-.15 3-.12 3-.1 3-.09 3-.06 3-.06 3-.04 3-.04h8"/><path d="M-3 18l1.4-1.51 1.1-1.09 2.5-2.23 2-1.54 2-1.37 2-1.21 2-1.06 2-.95 2-.83 2-.74 2-.65 2-.58 2-.51 2-.45 2-.4 2-.36 2-.31 3-.41 3-.34 3-.28 3-.23 3-.2 3-.16 3-.14 3-.11 3-.09 3-.07 3-.06 3-.05 3-.04 3-.03h3h5"/><path d="M-3 17l1.4-1.54 1.1-1.11 2.5-2.23 2-1.54 2-1.34 2-1.17 2-1.02 2-.9 2-.78 2-.69 2-.6 2-.53 2-.46 2-.4 2-.35 2-.31 2-.27 3-.35 3-.28 3-.23 3-.19 3-.15 3-.13 3-.1 3-.08 3-.07 3-.05 3-.04 3-.04 3-.02 3-.02 3-.01h5"/><path d="M-3 16l1.4-1.62 1.1-1.15 2.5-2.29 2-1.55 2-1.33 2-1.14 2-.98 2-.84 2-.72 2-.63 2-.53 2-.46 2-.4 2-.34 2-.3 2-.25 2-.22 3-.27 3-.21 3-.18 3-.13 3-.11 3-.09 3-.06 3-.06 3-.04 3-.03 3-.02 3-.02 3-.02 3-.01h3h5"/><path d="M-2 15l1.4-1.2 1.1-.87 1.5-1.1 2-1.32 2-1.18 2-1.05 2-.93 2-.82 2-.74 2-.65 2-.59 2-.51 2-.47 2-.41 2-.37 2-.33 2-.29 3-.38 3-.32 3-.27 3-.23 3-.19 3-.16 3-.14 3-.11 3-.09 3-.08 3-.06 3-.06 3-.04 3-.03 3-.01h5"/><path d="M-3 14l1.4-1.24 1.1-.89 2.5-1.81 2-1.25 2-1.09 2-.96 2-.84 2-.74 2-.65 2-.56 2-.5 2-.44 2-.39 2-.34 2-.29 2-.27 2-.23 3-.29 3-.24 3-.2 3-.16 3-.14 3-.11 3-.09 3-.07 3-.06 3-.05 3-.03 3-.03 3-.03 3-.01h8"/><path d="M-3 13l1.4-1.03 1.1-.76 2.5-1.54 2-1.08 2-.95 2-.86 2-.76 2-.67 2-.6 2-.54 2-.48 2-.42 2-.38 2-.34 2-.3 2-.27 2-.24 3-.32 3-.26 3-.22 3-.19 3-.16 3-.13 3-.11 3-.1 3-.07 3-.07 3-.05 3-.04 3-.04 3-.02h8"/><path d="M-3 12.2l1.4-1.03 1.1-.74 2.5-1.52 2-1.05 2-.93 2-.82 2-.72 2-.64 2-.57 2-.49 2-.45 2-.39 2-.34 2-.31 2-.27 2-.24 2-.21 3-.28 3-.22 3-.19 3-.16 3-.13 3-.11 3-.09 3-.08 3-.06 3-.05 3-.04 3-.03 3-.02 3-.02h8"/><path d="M-3 11.5l1.4-.96 1.1-.7 2.5-1.42 2-.98 2-.87 2-.77 2-.68 2-.61 2-.53 2-.47 2-.42 2-.37 2-.32 2-.29 2-.26 2-.23 2-.2 3-.26 3-.21 3-.18 3-.16 3-.12 3-.1 3-.09 3-.07 3-.06 3-.05 3-.04 3-.03 3-.02 3-.02 3-.01h5"/><path d="M-2 11l1.4-.91 1.1-.67 1.5-.83 2-1 2-.89 2-.78 2-.69 2-.61 2-.54 2-.48 2-.43 2-.37 2-.34 2-.29 2-.26 2-.24 2-.2 3-.27 3-.22 3-.19 3-.16 3-.13 3-.1 3-.09 3-.08 3-.06 3-.05 3-.04 3-.03 3-.03 3-.02h3h5"/><path d="M-3 10.5l1.4-.88 1.1-.65 2.5-1.3 2-.91 2-.79 2-.71 2-.62 2-.55 2-.49 2-.43 2-.38 2-.33 2-.3 2-.26 2-.24 2-.2 2-.19 3-.23 3-.2 3-.16 3-.14 3-.11 3-.09 3-.08 3-.06 3-.05 3-.05 3-.03 3-.03 3-.02 3-.02h3h5"/><path d="M-3 10l1.4-.86 1.1-.63 2.5-1.27 2-.88 2-.77 2-.68 2-.59 2-.53 2-.46 2-.41 2-.36 2-.31 2-.28 2-.25 2-.21 2-.2 2-.16 3-.22 3-.18 3-.15 3-.12 3-.1 3-.08 3-.07 3-.06 3-.04 3-.04 3-.03 3-.02 3-.02 3-.02h3h5"/><path d="M-3 9.2l1.4-.74 1.1-.53 2.5-1.1 2-.77 2-.68 2-.61 2-.54 2-.48 2-.42 2-.38 2-.34 2-.3 2-.27 2-.23 2-.22 2-.19 2-.16 3-.22 3-.19 3-.15 3-.13 3-.11 3-.09 3-.08 3-.07 3-.05 3-.04 3-.04 3-.03 3-.02 3-.02h8"/><path d="M-3 8.3l1.4-.55 1.1-.41 2.5-.86 2-.61 2-.55 2-.5 2-.45 2-.42 2-.37 2-.34 2-.31 2-.29 2-.25 2-.24 2-.21 2-.19 2-.18 3-.24 3-.2 3-.18 3-.16 3-.14 3-.12 3-.1 3-.09 3-.08 3-.07 3-.05 3-.05 3-.05 3-.03 3-.01h5"/><path d="M-2 7l1.4-.49 1.1-.35 1.5-.46 2-.56 2-.5 2-.45 2-.41 2-.37 2-.34 2-.3 2-.28 2-.24 2-.23 2-.2 2-.19 2-.17 2-.15 3-.21 3-.17 3-.16 3-.13 3-.12 3-.09 3-.09 3-.08 3-.06 3-.05 3-.05 3-.04 3-.03 3-.03h8"/><path d="M-3 3.2l1.4-.19 1.1-.14 2.5-.3 2-.22 2-.2 2-.18 2-.17 2-.15 2-.14 2-.13 2-.12 2-.11 2-.1 2-.1 2-.08 2-.08 2-.07 3-.1 3-.09 3-.08 3-.07 3-.06 3-.05 3-.05 3-.04 3-.04 3-.04 3-.02 3-.03 3-.02 3-.02 3-.01h5"/></g></g>
<path d="M749.4 678.5L753.1 679L758.8 685.1L763.7 690.7L768.1 691.8L771.8 686.7L775.6 685.1L781.8 689.7L788 693.3L793 697.4L799.2 702.3L805.5 707L811.7 711.4L817.9 715.4L824.2 719L830.4 722.4L836.6 725.6L842.9 728.7L849.1 731.5L855.3 734.3L861.6 736.8L867.8 739.2L874 741.5L880.2 743.6L886.5 745.7L892.7 747.6L898.9 749.5L905.2 751.3L911.4 752.9L917.6 754.5L923.9 755.9L930.1 757.2L936.3 758.4L942.5 759.5L948.8 760.5L955 761.5L961.2 762.4L967.5 763.3L973.7 764.1L979.9 764.9L986.2 765.7L992.4 766.4L998.6 767.1L1004.8 767.9L1011.1 768.6L1017.3 769.2L1023.5 769.9L1029.8 770.5L1036 771.1L1042.2 771.7L1048.5 772.2L1054.7 772.7L1060.9 773.1L1067.1 773.5L1073.4 773.8L1079.6 774.2L1085.8 774.5L1092.1 774.8L1098.3 775.1L1104.5 775.4L1110.8 775.7L1117 775.9L1123.2 776.2L1129.4 776.4L1135.7 776.6L1141.9 776.8L1148.1 776.9L1154.4 777.1L1160.6 777.2L1166.8 777.4L1173.1 777.5L1179.3 777.7L1185.5 777.8L1191.7 777.9L1198 777.9L1204.2 778L1210.4 778L1216.7 778L1222.9 778L1229.1 778.1L1235.4 778.1L1241.6 778.1L1247.8 778.1L1254 778.1L1260.3 778.1L1266.5 778.1" fill="none" stroke="#b5ee60" stroke-width="8.5" stroke-linejoin="round"/>
<g class="t" transform="translate(1365.8 778.1) scale(6.23 -5.11)" stroke="#b5ee60"><g stroke-opacity=".03" stroke-width="4.5"><path d="M-3 36.64l1.4-2.51 1.1-1.85 2.5-3.85 2-2.75 2-2.48 2-2.25 2-2.03 2-1.84 2-1.66 2-1.51 2-1.37 2-1.24 2-1.13 2-1.02 2-.93 2-.84 2-.77 3-1.03 3-.89 3-.77 3-.67 3-.58 3-.5 3-.44 3-.37 3-.33 3-.27 3-.24 3-.2 3-.17 3-.14 3-.01h5"/><path d="M-3 38.42l1.4-2.64 1.1-1.94 2.5-4.04 2-2.87 2-2.61 2-2.35 2-2.13 2-1.93 2-1.75 2-1.58 2-1.44 2-1.3 2-1.18 2-1.08 2-.98 2-.89 2-.8 3-1.08 3-.94 3-.81 3-.71 3-.61 3-.54 3-.46 3-.39 3-.35 3-.29 3-.25 3-.21 3-.18 3-.09h8"/><path d="M-3 39.14l1.4-3.11 1.1-2.27 2.5-4.65 2-3.25 2-2.89 2-2.57 2-2.29 2-2.03 2-1.81 2-1.61 2-1.44 2-1.28 2-1.14 2-1.02 2-.91 2-.81 2-.72 3-.94 3-.8 3-.66 3-.57 3-.47 3-.4 3-.33 3-.28 3-.23 3-.19 3-.16 3-.13 3-.1 3-.08h8"/><path d="M-3 41.11l1.4-2.59 1.1-1.92 2.5-4.02 2-2.9 2-2.64 2-2.41 2-2.2 2-2 2-1.84 2-1.68 2-1.53 2-1.41 2-1.29 2-1.18 2-1.08 2-.99 2-.92 3-1.23 3-1.09 3-.95 3-.85 3-.75 3-.65 3-.58 3-.51 3-.44 3-.39 3-.34 3-.3 3-.25 3-.18h8"/><path d="M-3 42.03l1.4-3.13 1.1-2.3 2.5-4.74 2-3.35 2-2.99 2-2.69 2-2.4 2-2.16 2-1.93 2-1.74 2-1.56 2-1.4 2-1.26 2-1.13 2-1.02 2-.92 2-.82 3-1.09 3-.93 3-.79 3-.67 3-.58 3-.49 3-.42 3-.35 3-.3 3-.25 3-.21 3-.17 3-.14 3-.1h8"/><path d="M-3 43.57l1.4-3.22 1.1-2.36 2.5-4.86 2-3.45 2-3.08 2-2.77 2-2.48 2-2.24 2-2 2-1.8 2-1.62 2-1.46 2-1.31 2-1.18 2-1.06 2-.96 2-.86 3-1.14 3-.98 3-.83 3-.71 3-.61 3-.52 3-.45 3-.37 3-.32 3-.27 3-.22 3-.19 3-.16 3-.09h8"/><path d="M-3 44.87l1.4-2.66 1.1-1.98 2.5-4.15 2-3.02 2-2.77 2-2.54 2-2.33 2-2.14 2-1.97 2-1.81 2-1.66 2-1.54 2-1.42 2-1.3 2-1.21 2-1.11 2-1.03 3-1.4 3-1.25 3-1.11 3-1 3-.88 3-.79 3-.7 3-.62 3-.56 3-.49 3-.43 3-.39 3-.33 3-.28h8"/><path d="M-3 46l1.4-3.09 1.1-2.29 2.5-4.76 2-3.4 2-3.08 2-2.79 2-2.53 2-2.3 2-2.08 2-1.89 2-1.72 2-1.56 2-1.42 2-1.3 2-1.17 2-1.08 2-.97 3-1.31 3-1.14 3-.99 3-.86 3-.75 3-.65 3-.57 3-.49 3-.43 3-.36 3-.32 3-.26 3-.23 3-.19 3-.02h5"/><path d="M-3 47.52l1.4-3.6 1.1-2.64 2.5-5.41 2-3.82 2-3.42 2-3.05 2-2.73 2-2.45 2-2.19 2-1.97 2-1.76 2-1.58 2-1.41 2-1.27 2-1.15 2-1.02 2-.93 3-1.21 3-1.03 3-.88 3-.74 3-.64 3-.54 3-.46 3-.38 3-.33 3-.27 3-.22 3-.19 3-.15 3-.08h8"/><path d="M-3 48.92l1.4-3.28 1.1-2.42 2.5-5.04 2-3.6 2-3.27 2-2.96 2-2.68 2-2.44 2-2.22 2-2.01 2-1.83 2-1.66 2-1.52 2-1.38 2-1.25 2-1.15 2-1.04 3-1.4 3-1.22 3-1.07 3-.92 3-.81 3-.71 3-.61 3-.53 3-.46 3-.4 3-.34 3-.29 3-.24 3-.17h8"/><path d="M-3 50.47l1.4-3.55 1.1-2.61 2.5-5.4 2-3.85 2-3.46 2-3.13 2-2.83 2-2.55 2-2.3 2-2.08 2-1.88 2-1.71 2-1.54 2-1.4 2-1.26 2-1.15 2-1.04 3-1.39 3-1.19 3-1.03 3-.9 3-.77 3-.66 3-.57 3-.49 3-.42 3-.36 3-.31 3-.25 3-.22 3-.17h8"/><path d="M-3 52.8l1.4-3.87 1.1-2.84 2.5-5.85 2-4.15 2-3.72 2-3.34 2-3 2-2.7 2-2.42 2-2.18 2-1.96 2-1.77 2-1.59 2-1.44 2-1.29 2-1.17 2-1.05 3-1.39 3-1.19 3-1.02 3-.87 3-.75 3-.64 3-.54 3-.47 3-.39 3-.33 3-.28 3-.23 3-.2 3-.16h3h5"/></g><g stroke-opacity=".04" stroke-width="3.0"><path d="M-3 36.64l1.4-2.59 1.1-1.91 2.5-3.95 2-2.81 2-2.53 2-2.28 2-2.05 2-1.86 2-1.67 2-1.52 2-1.36 2-1.24 2-1.12 2-1.01 2-.91 2-.83 2-.76 3-.99 3-.86 3-.75 3-.64 3-.55 3-.48 3-.41 3-.35 3-.3 3-.25 3-.22 3-.18 3-.15 3-.11h8"/><path d="M-3 38.42l1.4-2.72 1.1-2 2.5-4.14 2-2.95 2-2.65 2-2.39 2-2.16 2-1.95 2-1.75 2-1.59 2-1.43 2-1.3 2-1.18 2-1.06 2-.96 2-.87 2-.79 3-1.05 3-.91 3-.79 3-.67 3-.59 3-.5 3-.43 3-.37 3-.32 3-.27 3-.22 3-.2 3-.16 3-.05h8"/><path d="M-3 39.14l1.4-3.21 1.1-2.34 2.5-4.76 2-3.32 2-2.94 2-2.6 2-2.31 2-2.04 2-1.82 2-1.6 2-1.43 2-1.27 2-1.12 2-1 2-.89 2-.79 2-.7 3-.91 3-.76 3-.64 3-.53 3-.44 3-.37 3-.31 3-.26 3-.21 3-.17 3-.14 3-.11 3-.09 3-.06h8"/><path d="M-3 41.11l1.4-2.68 1.1-1.97 2.5-4.13 2-2.97 2-2.69 2-2.45 2-2.23 2-2.03 2-1.85 2-1.69 2-1.53 2-1.41 2-1.28 2-1.17 2-1.07 2-.98 2-.9 3-1.2 3-1.06 3-.93 3-.81 3-.72 3-.62 3-.55 3-.48 3-.41 3-.36 3-.32 3-.27 3-.23 3-.12h8"/><path d="M-3 42.03l1.4-3.23 1.1-2.37 2.5-4.86 2-3.42 2-3.05 2-2.72 2-2.43 2-2.17 2-1.94 2-1.74 2-1.55 2-1.39 2-1.25 2-1.11 2-1 2-.9 2-.8 3-1.05 3-.89 3-.76 3-.64 3-.55 3-.46 3-.39 3-.32 3-.28 3-.22 3-.19 3-.16 3-.12 3-.07h8"/><path d="M-3 43.57l1.4-3.32 1.1-2.43 2.5-4.99 2-3.52 2-3.14 2-2.81 2-2.51 2-2.25 2-2.01 2-1.8 2-1.61 2-1.45 2-1.29 2-1.17 2-1.04 2-.94 2-.84 3-1.1 3-.94 3-.8 3-.68 3-.58 3-.48 3-.42 3-.35 3-.29 3-.24 3-.2 3-.17 3-.14 3-.06h8"/><path d="M-3 44.87l1.4-2.74 1.1-2.04 2.5-4.27 2-3.09 2-2.83 2-2.58 2-2.37 2-2.17 2-1.98 2-1.83 2-1.67 2-1.54 2-1.41 2-1.3 2-1.19 2-1.1 2-1.02 3-1.37 3-1.22 3-1.08 3-.96 3-.85 3-.76 3-.67 3-.59 3-.52 3-.46 3-.4 3-.35 3-.31 3-.2h8"/><path d="M-3 46l1.4-3.19 1.1-2.36 2.5-4.88 2-3.48 2-3.14 2-2.84 2-2.56 2-2.32 2-2.1 2-1.89 2-1.72 2-1.56 2-1.41 2-1.28 2-1.16 2-1.05 2-.96 3-1.27 3-1.1 3-.96 3-.82 3-.72 3-.62 3-.53 3-.46 3-.39 3-.34 3-.29 3-.24 3-.2 3-.16h8"/><path d="M-3 47.52l1.4-3.72 1.1-2.71 2.5-5.56 2-3.9 2-3.47 2-3.1 2-2.76 2-2.46 2-2.2 2-1.96 2-1.75 2-1.57 2-1.4 2-1.25 2-1.12 2-1 2-.9 3-1.17 3-.99 3-.84 3-.71 3-.6 3-.51 3-.42 3-.36 3-.29 3-.25 3-.2 3-.17 3-.14 3-.04h8"/><path d="M-3 48.92l1.4-3.38 1.1-2.5 2.5-5.17 2-3.68 2-3.33 2-3.01 2-2.72 2-2.47 2-2.22 2-2.02 2-1.83 2-1.66 2-1.5 2-1.37 2-1.24 2-1.12 2-1.03 3-1.36 3-1.18 3-1.03 3-.89 3-.77 3-.67 3-.57 3-.5 3-.43 3-.36 3-.31 3-.27 3-.22 3-.11h8"/><path d="M-3 50.47l1.4-3.66 1.1-2.69 2.5-5.54 2-3.93 2-3.54 2-3.18 2-2.85 2-2.57 2-2.32 2-2.08 2-1.88 2-1.7 2-1.53 2-1.38 2-1.24 2-1.13 2-1.01 3-1.35 3-1.15 3-1 3-.85 3-.73 3-.63 3-.53 3-.46 3-.39 3-.33 3-.28 3-.23 3-.19 3-.12h8"/><path d="M-3 52.8l1.4-3.99 1.1-2.92 2.5-6.01 2-4.24 2-3.79 2-3.39 2-3.03 2-2.72 2-2.43 2-2.18 2-1.96 2-1.75 2-1.58 2-1.41 2-1.27 2-1.14 2-1.03 3-1.34 3-1.15 3-.98 3-.83 3-.71 3-.6 3-.51 3-.42 3-.37 3-.3 3-.25 3-.21 3-.17 3-.12h8"/></g><g stroke-opacity=".04" stroke-width="4.5"><path d="M-3 18.16l1.4-1.31 1.1-.96 2.5-1.99 2-1.4 2-1.27 2-1.14 2-1.03 2-.92 2-.83 2-.75 2-.68 2-.61 2-.55 2-.49 2-.45 2-.41 2-.37 3-.48 3-.42 3-.36 3-.31 3-.26 3-.23 3-.19 3-.17 3-.14 3-.12 3-.1 3-.09 3-.07 3-.06h3h5"/><path d="M-3 18.7l1.4-1.06 1.1-.79 2.5-1.66 2-1.21 2-1.12 2-1.03 2-.95 2-.87 2-.81 2-.75 2-.69 2-.64 2-.59 2-.55 2-.5 2-.48 2-.44 3-.6 3-.53 3-.49 3-.43 3-.39 3-.35 3-.32 3-.28 3-.26 3-.22 3-.21 3-.18 3-.16 3-.14h3h5"/><path d="M-3 19.58l1.4-1.42 1.1-1.04 2.5-2.16 2-1.53 2-1.37 2-1.24 2-1.11 2-.99 2-.9 2-.81 2-.73 2-.66 2-.59 2-.54 2-.48 2-.44 2-.39 3-.52 3-.45 3-.38 3-.33 3-.29 3-.24 3-.2 3-.18 3-.15 3-.13 3-.1 3-.09 3-.08 3-.04h8"/><path d="M-3 21.22l1.4-1.5 1.1-1.1 2.5-2.28 2-1.62 2-1.46 2-1.32 2-1.19 2-1.07 2-.97 2-.88 2-.79 2-.71 2-.65 2-.59 2-.53 2-.48 2-.43 3-.58 3-.5 3-.43 3-.37 3-.32 3-.28 3-.24 3-.2 3-.18 3-.14 3-.13 3-.11 3-.09 3-.07 3-.01h5"/><path d="M-3 22.23l1.4-1.51 1.1-1.11 2.5-2.31 2-1.65 2-1.49 2-1.35 2-1.23 2-1.11 2-1.01 2-.91 2-.83 2-.76 2-.68 2-.62 2-.57 2-.52 2-.47 3-.62 3-.55 3-.47 3-.42 3-.35 3-.32 3-.27 3-.23 3-.2 3-.17 3-.15 3-.13 3-.11 3-.09 3-.02h5"/><path d="M-3 22.96l1.4-1.26 1.1-.93 2.5-1.99 2-1.45 2-1.34 2-1.24 2-1.14 2-1.06 2-.98 2-.91 2-.84 2-.78 2-.73 2-.68 2-.63 2-.58 2-.55 3-.75 3-.68 3-.61 3-.56 3-.5 3-.45 3-.41 3-.37 3-.34 3-.3 3-.27 3-.24 3-.22 3-.17h8"/><path d="M-3 23.83l1.4-1.97 1.1-1.43 2.5-2.91 2-2.03 2-1.8 2-1.59 2-1.4 2-1.25 2-1.1 2-.98 2-.87 2-.76 2-.69 2-.6 2-.54 2-.48 2-.42 3-.55 3-.46 3-.38 3-.32 3-.27 3-.22 3-.18 3-.16 3-.12 3-.1 3-.09 3-.06 3-.06 3-.04h8"/><path d="M-3 25.09l1.4-1.94 1.1-1.42 2.5-2.91 2-2.04 2-1.83 2-1.62 2-1.46 2-1.29 2-1.16 2-1.03 2-.93 2-.83 2-.74 2-.66 2-.59 2-.53 2-.48 3-.62 3-.53 3-.45 3-.37 3-.32 3-.27 3-.23 3-.19 3-.16 3-.14 3-.11 3-.09 3-.07 3-.07 3-.01h5"/><path d="M-3 26.43l1.4-1.96 1.1-1.44 2.5-2.97 2-2.1 2-1.87 2-1.69 2-1.51 2-1.35 2-1.22 2-1.09 2-.98 2-.88 2-.8 2-.71 2-.64 2-.58 2-.52 3-.69 3-.59 3-.5 3-.42 3-.37 3-.31 3-.27 3-.22 3-.19 3-.16 3-.13 3-.11 3-.1 3-.06h8"/><path d="M-3 27.09l1.4-1.87 1.1-1.38 2.5-2.85 2-2.04 2-1.85 2-1.66 2-1.51 2-1.36 2-1.23 2-1.12 2-1.01 2-.91 2-.83 2-.76 2-.68 2-.62 2-.57 3-.75 3-.65 3-.56 3-.49 3-.43 3-.36 3-.32 3-.27 3-.24 3-.2 3-.17 3-.14 3-.13 3-.1 3-.03h5"/><path d="M-3 28.6l1.4-2.18 1.1-1.59 2.5-3.28 2-2.31 2-2.06 2-1.84 2-1.65 2-1.47 2-1.32 2-1.18 2-1.06 2-.95 2-.85 2-.77 2-.68 2-.62 2-.55 3-.72 3-.62 3-.53 3-.44 3-.38 3-.32 3-.27 3-.23 3-.2 3-.16 3-.13 3-.11 3-.09 3-.04h8"/><path d="M-3 29.55l1.4-2.61 1.1-1.89 2.5-3.82 2-2.63 2-2.31 2-2.02 2-1.77 2-1.56 2-1.36 2-1.2 2-1.06 2-.92 2-.82 2-.71 2-.63 2-.55 2-.49 3-.62 3-.51 3-.42 3-.35 3-.29 3-.23 3-.19 3-.15 3-.13 3-.1 3-.08 3-.06 3-.05 3-.02h8"/><path d="M-3 30.76l1.4-2.18 1.1-1.61 2.5-3.32 2-2.36 2-2.13 2-1.91 2-1.73 2-1.56 2-1.41 2-1.26 2-1.15 2-1.04 2-.94 2-.84 2-.77 2-.7 2-.62 3-.84 3-.72 3-.62 3-.54 3-.46 3-.4 3-.34 3-.29 3-.25 3-.21 3-.18 3-.15 3-.13 3-.1h8"/><path d="M-3 32.22l1.4-2.45 1.1-1.79 2.5-3.68 2-2.6 2-2.32 2-2.07 2-1.86 2-1.66 2-1.48 2-1.33 2-1.2 2-1.07 2-.96 2-.86 2-.77 2-.69 2-.63 3-.82 3-.69 3-.6 3-.5 3-.43 3-.36 3-.31 3-.26 3-.22 3-.18 3-.15 3-.13 3-.1 3-.05h8"/><path d="M-3 32.78l1.4-2.34 1.1-1.72 2.5-3.56 2-2.52 2-2.28 2-2.05 2-1.84 2-1.66 2-1.5 2-1.36 2-1.22 2-1.1 2-.99 2-.9 2-.82 2-.73 2-.67 3-.88 3-.76 3-.65 3-.57 3-.48 3-.41 3-.36 3-.31 3-.26 3-.22 3-.18 3-.16 3-.13 3-.11 3-.04h5"/><path d="M-3 34.22l1.4-2.54 1.1-1.85 2.5-3.83 2-2.71 2-2.42 2-2.18 2-1.95 2-1.75 2-1.57 2-1.42 2-1.27 2-1.14 2-1.02 2-.93 2-.83 2-.75 2-.68 3-.89 3-.76 3-.65 3-.55 3-.48 3-.4 3-.35 3-.29 3-.24 3-.21 3-.18 3-.14 3-.12 3-.1 3-.02h5"/><path d="M-3 35.32l1.4-2.58 1.1-1.9 2.5-3.91 2-2.77 2-2.49 2-2.24 2-2 2-1.81 2-1.62 2-1.46 2-1.31 2-1.19 2-1.06 2-.97 2-.86 2-.78 2-.71 3-.93 3-.8 3-.69 3-.59 3-.5 3-.43 3-.37 3-.31 3-.26 3-.23 3-.19 3-.15 3-.13 3-.08h8"/></g><g stroke-opacity=".05" stroke-width="2.0"><path d="M-3 36.64l1.4-2.67 1.1-1.96 2.5-4.05 2-2.87 2-2.58 2-2.31 2-2.08 2-1.87 2-1.69 2-1.51 2-1.36 2-1.23 2-1.11 2-1 2-.9 2-.81 2-.74 3-.97 3-.83 3-.72 3-.61 3-.53 3-.44 3-.39 3-.32 3-.28 3-.24 3-.19 3-.17 3-.13 3-.08h8"/><path d="M-3 38.42l1.4-2.81 1.1-2.05 2.5-4.25 2-3.01 2-2.7 2-2.43 2-2.18 2-1.96 2-1.76 2-1.59 2-1.43 2-1.29 2-1.17 2-1.05 2-.95 2-.85 2-.77 3-1.03 3-.87 3-.76 3-.64 3-.56 3-.47 3-.41 3-.34 3-.3 3-.24 3-.21 3-.17 3-.15 3-.02h8"/><path d="M-3 39.14l1.4-3.31 1.1-2.4 2.5-4.88 2-3.39 2-2.98 2-2.64 2-2.32 2-2.05 2-1.82 2-1.6 2-1.42 2-1.25 2-1.1 2-.98 2-.87 2-.77 2-.68 3-.87 3-.73 3-.61 3-.5 3-.42 3-.34 3-.29 3-.23 3-.19 3-.16 3-.12 3-.1 3-.08 3-.04h8"/><path d="M-3 41.11l1.4-2.76 1.1-2.03 2.5-4.24 2-3.03 2-2.75 2-2.49 2-2.26 2-2.05 2-1.86 2-1.69 2-1.54 2-1.4 2-1.27 2-1.16 2-1.06 2-.97 2-.88 3-1.18 3-1.02 3-.9 3-.79 3-.68 3-.59 3-.52 3-.45 3-.39 3-.33 3-.29 3-.25 3-.2 3-.08h8"/><path d="M-3 42.03l1.4-3.33 1.1-2.44 2.5-4.98 2-3.49 2-3.1 2-2.76 2-2.45 2-2.18 2-1.95 2-1.73 2-1.55 2-1.37 2-1.23 2-1.1 2-.98 2-.87 2-.78 3-1.02 3-.86 3-.73 3-.61 3-.51 3-.43 3-.36 3-.3 3-.25 3-.21 3-.17 3-.14 3-.11 3-.04h8"/><path d="M-3 43.57l1.4-3.42 1.1-2.5 2.5-5.12 2-3.59 2-3.19 2-2.85 2-2.54 2-2.26 2-2.01 2-1.8 2-1.6 2-1.44 2-1.28 2-1.14 2-1.03 2-.91 2-.82 3-1.07 3-.9 3-.77 3-.64 3-.55 3-.46 3-.38 3-.32 3-.27 3-.22 3-.19 3-.15 3-.12 3-.03h8"/><path d="M-3 44.87l1.4-2.83 1.1-2.09 2.5-4.39 2-3.16 2-2.88 2-2.63 2-2.4 2-2.2 2-2 2-1.83 2-1.68 2-1.53 2-1.41 2-1.29 2-1.19 2-1.08 2-1 3-1.35 3-1.19 3-1.05 3-.93 3-.82 3-.72 3-.63 3-.56 3-.49 3-.43 3-.37 3-.32 3-.28 3-.14h8"/><path d="M-3 46l1.4-3.29 1.1-2.42 2.5-5.01 2-3.56 2-3.2 2-2.88 2-2.59 2-2.34 2-2.1 2-1.9 2-1.72 2-1.55 2-1.4 2-1.26 2-1.14 2-1.04 2-.93 3-1.24 3-1.07 3-.92 3-.79 3-.68 3-.59 3-.5 3-.43 3-.36 3-.31 3-.27 3-.22 3-.18 3-.11h8"/><path d="M-3 47.52l1.4-3.83 1.1-2.79 2.5-5.69 2-3.98 2-3.54 2-3.14 2-2.78 2-2.48 2-2.2 2-1.96 2-1.74 2-1.55 2-1.38 2-1.23 2-1.1 2-.97 2-.87 3-1.14 3-.95 3-.8 3-.68 3-.56 3-.47 3-.4 3-.33 3-.27 3-.22 3-.18 3-.15 3-.12 3-.02h8"/><path d="M-3 48.92l1.4-3.49 1.1-2.56 2.5-5.3 2-3.77 2-3.39 2-3.06 2-2.75 2-2.49 2-2.24 2-2.02 2-1.82 2-1.65 2-1.49 2-1.35 2-1.23 2-1.1 2-1 3-1.33 3-1.15 3-.99 3-.85 3-.73 3-.63 3-.54 3-.47 3-.39 3-.34 3-.28 3-.24 3-.2 3-.07h8"/><path d="M-3 50.47l1.4-3.77 1.1-2.76 2.5-5.69 2-4.02 2-3.59 2-3.23 2-2.89 2-2.59 2-2.32 2-2.09 2-1.87 2-1.68 2-1.52 2-1.36 2-1.22 2-1.1 2-1 3-1.3 3-1.12 3-.95 3-.82 3-.69 3-.59 3-.5 3-.43 3-.36 3-.3 3-.25 3-.21 3-.17 3-.08h8"/><path d="M-3 52.8l1.4-4.11 1.1-3.01 2.5-6.16 2-4.32 2-3.86 2-3.43 2-3.07 2-2.73 2-2.44 2-2.18 2-1.95 2-1.74 2-1.55 2-1.39 2-1.25 2-1.11 2-1 3-1.31 3-1.1 3-.94 3-.79 3-.67 3-.56 3-.48 3-.39 3-.34 3-.27 3-.23 3-.19 3-.15 3-.08h8"/></g><g stroke-opacity=".05" stroke-width="3.0"><path d="M-3 18.16l1.4-1.35 1.1-.99 2.5-2.04 2-1.44 2-1.29 2-1.15 2-1.04 2-.93 2-.84 2-.75 2-.67 2-.61 2-.54 2-.49 2-.44 2-.4 2-.36 3-.47 3-.4 3-.35 3-.29 3-.25 3-.22 3-.18 3-.15 3-.13 3-.11 3-.1 3-.07 3-.07 3-.04h8"/><path d="M-3 18.7l1.4-1.09 1.1-.82 2.5-1.71 2-1.24 2-1.14 2-1.05 2-.96 2-.89 2-.81 2-.76 2-.69 2-.64 2-.59 2-.55 2-.5 2-.47 2-.43 3-.59 3-.53 3-.47 3-.42 3-.38 3-.34 3-.3 3-.27 3-.24 3-.21 3-.19 3-.17 3-.14 3-.11h8"/><path d="M-3 19.58l1.4-1.46 1.1-1.08 2.5-2.21 2-1.56 2-1.4 2-1.26 2-1.12 2-1 2-.91 2-.81 2-.72 2-.66 2-.58 2-.53 2-.47 2-.43 2-.38 3-.51 3-.43 3-.37 3-.31 3-.27 3-.23 3-.19 3-.17 3-.14 3-.11 3-.1 3-.08 3-.06 3-.03h8"/><path d="M-3 21.22l1.4-1.54 1.1-1.14 2.5-2.34 2-1.66 2-1.49 2-1.34 2-1.2 2-1.08 2-.97 2-.88 2-.79 2-.71 2-.64 2-.58 2-.52 2-.47 2-.43 3-.56 3-.48 3-.42 3-.35 3-.31 3-.26 3-.22 3-.19 3-.16 3-.14 3-.11 3-.1 3-.08 3-.06h8"/><path d="M-3 22.23l1.4-1.55 1.1-1.15 2.5-2.37 2-1.69 2-1.52 2-1.37 2-1.25 2-1.12 2-1.01 2-.92 2-.83 2-.75 2-.68 2-.61 2-.56 2-.51 2-.46 3-.61 3-.53 3-.46 3-.39 3-.34 3-.3 3-.25 3-.22 3-.19 3-.16 3-.13 3-.12 3-.09 3-.08 3-.01h5"/><path d="M-3 22.96l1.4-1.3 1.1-.96 2.5-2.04 2-1.49 2-1.37 2-1.26 2-1.16 2-1.08 2-.99 2-.92 2-.84 2-.79 2-.73 2-.67 2-.63 2-.58 2-.54 3-.74 3-.66 3-.6 3-.54 3-.49 3-.43 3-.4 3-.35 3-.31 3-.29 3-.25 3-.23 3-.19 3-.13h8"/><path d="M-3 23.83l1.4-2.03 1.1-1.47 2.5-2.99 2-2.07 2-1.82 2-1.61 2-1.42 2-1.25 2-1.1 2-.98 2-.86 2-.76 2-.67 2-.59 2-.53 2-.46 2-.41 3-.53 3-.43 3-.37 3-.3 3-.25 3-.21 3-.17 3-.13 3-.12 3-.09 3-.07 3-.06 3-.05 3-.03h8"/><path d="M-3 25.09l1.4-2 1.1-1.46 2.5-2.99 2-2.08 2-1.86 2-1.65 2-1.46 2-1.31 2-1.16 2-1.03 2-.92 2-.82 2-.73 2-.65 2-.58 2-.52 2-.46 3-.6 3-.51 3-.43 3-.36 3-.3 3-.25 3-.21 3-.18 3-.15 3-.12 3-.1 3-.08 3-.06 3-.06h3h5"/><path d="M-3 26.43l1.4-2.03 1.1-1.48 2.5-3.04 2-2.14 2-1.92 2-1.7 2-1.53 2-1.36 2-1.22 2-1.1 2-.97 2-.88 2-.78 2-.71 2-.63 2-.56 2-.51 3-.66 3-.57 3-.48 3-.4 3-.35 3-.29 3-.25 3-.21 3-.17 3-.15 3-.12 3-.1 3-.08 3-.04h8"/><path d="M-3 27.09l1.4-1.93 1.1-1.42 2.5-2.93 2-2.09 2-1.87 2-1.69 2-1.53 2-1.37 2-1.24 2-1.12 2-1.01 2-.91 2-.82 2-.75 2-.67 2-.61 2-.55 3-.74 3-.63 3-.54 3-.47 3-.4 3-.35 3-.29 3-.26 3-.21 3-.19 3-.16 3-.13 3-.11 3-.09 3-.01h5"/><path d="M-3 28.6l1.4-2.25 1.1-1.64 2.5-3.36 2-2.36 2-2.09 2-1.87 2-1.67 2-1.48 2-1.32 2-1.18 2-1.06 2-.94 2-.84 2-.75 2-.67 2-.6 2-.54 3-.7 3-.59 3-.5 3-.43 3-.35 3-.31 3-.25 3-.21 3-.18 3-.14 3-.12 3-.1 3-.08 3-.02h8"/><path d="M-3 29.55l1.4-2.7 1.1-1.94 2.5-3.91 2-2.68 2-2.34 2-2.05 2-1.78 2-1.56 2-1.36 2-1.19 2-1.04 2-.92 2-.79 2-.7 2-.61 2-.54 2-.47 3-.59 3-.49 3-.39 3-.33 3-.26 3-.22 3-.17 3-.14 3-.11 3-.09 3-.07 3-.06 3-.04 3-.01h8"/><path d="M-3 30.76l1.4-2.25 1.1-1.66 2.5-3.4 2-2.42 2-2.16 2-1.95 2-1.75 2-1.57 2-1.41 2-1.27 2-1.15 2-1.03 2-.92 2-.84 2-.76 2-.68 2-.61 3-.81 3-.7 3-.6 3-.51 3-.43 3-.38 3-.32 3-.27 3-.23 3-.19 3-.17 3-.13 3-.12 3-.07h8"/><path d="M-3 32.22l1.4-2.52 1.1-1.85 2.5-3.78 2-2.65 2-2.36 2-2.1 2-1.88 2-1.67 2-1.49 2-1.33 2-1.18 2-1.06 2-.95 2-.85 2-.76 2-.67 2-.61 3-.79 3-.67 3-.57 3-.48 3-.4 3-.34 3-.29 3-.24 3-.2 3-.16 3-.14 3-.11 3-.09 3-.03h8"/><path d="M-3 32.78l1.4-2.41 1.1-1.77 2.5-3.65 2-2.59 2-2.32 2-2.07 2-1.87 2-1.68 2-1.5 2-1.36 2-1.21 2-1.1 2-.99 2-.88 2-.8 2-.72 2-.65 3-.86 3-.73 3-.63 3-.54 3-.46 3-.39 3-.33 3-.28 3-.24 3-.21 3-.17 3-.14 3-.12 3-.09 3-.02h5"/><path d="M-3 34.22l1.4-2.62 1.1-1.91 2.5-3.92 2-2.77 2-2.47 2-2.21 2-1.97 2-1.76 2-1.58 2-1.41 2-1.27 2-1.13 2-1.02 2-.91 2-.81 2-.74 2-.65 3-.87 3-.73 3-.62 3-.53 3-.45 3-.38 3-.32 3-.27 3-.23 3-.19 3-.16 3-.13 3-.1 3-.09h8"/><path d="M-3 35.32l1.4-2.66 1.1-1.96 2.5-4.01 2-2.83 2-2.54 2-2.27 2-2.02 2-1.82 2-1.63 2-1.46 2-1.31 2-1.18 2-1.05 2-.95 2-.85 2-.76 2-.69 3-.91 3-.77 3-.65 3-.56 3-.48 3-.4 3-.35 3-.29 3-.24 3-.2 3-.17 3-.14 3-.12 3-.05h8"/></g><g stroke-opacity=".05" stroke-width="4.5"><path d="M-3 .09l1.4-.01h1.1l2.5-.01h2l2-.01h2l2-.01h2h2l2-.01h2h2l2-.01h2h2h2l2-.01h3h3h3l3-.01h3h3h3h3h3l3-.01h3h3h3h11"/><path d="M-3 .56l1.4-.03 1.1-.03 2.5-.05 2-.03 2-.04 2-.03 2-.03 2-.02 2-.03 2-.02 2-.02 2-.02 2-.02 2-.01 2-.02 2-.01 2-.02 3-.01 3-.02 3-.01 3-.02 3-.01 3-.01 3-.01 3-.01h3l3-.01 3-.01h3l3-.01h3h8"/><path d="M-3 .67l1.4-.03 1.1-.03 2.5-.06 2-.04 2-.04 2-.03 2-.04 2-.03 2-.03 2-.02 2-.03 2-.02 2-.02 2-.02 2-.02 2-.02 2-.01 3-.03 3-.02 3-.02 3-.01 3-.02 3-.01 3-.01 3-.01 3-.01 3-.01 3-.01 3-.01 3-.01h3h8"/><path d="M-3 .53l1.4-.03 1.1-.02 2.5-.04 2-.04 2-.03 2-.03 2-.02 2-.03 2-.02 2-.02 2-.02 2-.02 2-.02 2-.01 2-.02 2-.01 2-.01 3-.02 3-.02 3-.01 3-.01 3-.01 3-.02h3l3-.01 3-.01 3-.01 3-.01h3l3-.01h3h8"/><path d="M-3 1.29l1.4-.06 1.1-.05 2.5-.1 2-.08 2-.07 2-.06 2-.06 2-.06 2-.05 2-.05 2-.05 2-.04 2-.04 2-.04 2-.04 2-.03 2-.03 3-.05 3-.04 3-.03 3-.04 3-.03 3-.03 3-.02 3-.03 3-.02 3-.02 3-.02 3-.02 3-.01 3-.02h3h5"/><path d="M-3 1.56l1.4-.08 1.1-.06 2.5-.13 2-.1 2-.09 2-.08 2-.08 2-.07 2-.06 2-.07 2-.05 2-.06 2-.05 2-.04 2-.04 2-.04 2-.04 3-.05 3-.05 3-.04 3-.04 3-.04 3-.03 3-.03 3-.02 3-.03 3-.02 3-.02 3-.02 3-.01 3-.02h3h5"/><path d="M-3 1.31l1.4-.07 1.1-.06 2.5-.12 2-.08 2-.08 2-.07 2-.07 2-.06 2-.05 2-.06 2-.05 2-.04 2-.04 2-.04 2-.04 2-.03 2-.03 3-.04 3-.04 3-.04 3-.03 3-.02 3-.03 3-.02 3-.02 3-.02 3-.02 3-.01 3-.01 3-.02h3h8"/><path d="M-3 2.08l1.4-.1 1.1-.08 2.5-.17 2-.12 2-.11 2-.11 2-.1 2-.09 2-.09 2-.08 2-.07 2-.07 2-.07 2-.06 2-.06 2-.05 2-.06 3-.07 3-.06 3-.06 3-.06 3-.05 3-.04 3-.04 3-.04 3-.04 3-.03 3-.03 3-.03 3-.02 3-.02h8"/><path d="M-3 2.28l1.4-.13 1.1-.09 2.5-.19 2-.14 2-.13 2-.12 2-.11 2-.11 2-.09 2-.09 2-.09 2-.07 2-.07 2-.07 2-.06 2-.06 2-.06 3-.07 3-.07 3-.07 3-.05 3-.05 3-.05 3-.04 3-.04 3-.04 3-.03 3-.03 3-.02 3-.03 3-.01h8"/><path d="M-3 2.47l1.4-.1 1.1-.08 2.5-.18 2-.12 2-.12 2-.12 2-.11 2-.1 2-.09 2-.09 2-.09 2-.08 2-.07 2-.07 2-.07 2-.07 2-.06 3-.09 3-.08 3-.08 3-.07 3-.07 3-.06 3-.06 3-.06 3-.05 3-.05 3-.05 3-.04 3-.04 3-.04 3-.01h5"/><path d="M-3 3.08l1.4-.16 1.1-.11 2.5-.24 2-.18 2-.17 2-.15 2-.15 2-.13 2-.13 2-.11 2-.12 2-.1 2-.1 2-.09 2-.08 2-.08 2-.08 3-.1 3-.1 3-.09 3-.08 3-.07 3-.07 3-.06 3-.06 3-.05 3-.05 3-.05 3-.04 3-.03 3-.04 3-.01h5"/><path d="M-3 3.77l1.4-.22 1.1-.17 2.5-.34 2-.26 2-.23 2-.21 2-.19 2-.18 2-.17 2-.15 2-.14 2-.13 2-.12 2-.11 2-.1 2-.09 2-.09 3-.12 3-.1 3-.1 3-.08 3-.08 3-.07 3-.06 3-.05 3-.05 3-.04 3-.04 3-.03 3-.03 3-.02h8"/><path d="M-3 3.88l1.4-.18 1.1-.13 2.5-.29 2-.21 2-.2 2-.18 2-.18 2-.16 2-.16 2-.14 2-.14 2-.13 2-.12 2-.11 2-.11 2-.1 2-.1 3-.14 3-.12 3-.12 3-.11 3-.1 3-.1 3-.09 3-.08 3-.07 3-.08 3-.06 3-.06 3-.06 3-.05h8"/><path d="M-3 4.54l1.4-.26 1.1-.2 2.5-.42 2-.3 2-.27 2-.26 2-.23 2-.22 2-.2 2-.18 2-.17 2-.15 2-.14 2-.14 2-.12 2-.11 2-.11 3-.14 3-.13 3-.11 3-.1 3-.09 3-.08 3-.08 3-.06 3-.06 3-.05 3-.04 3-.04 3-.04 3-.03 3-.01h5"/><path d="M-3 5.34l1.4-.33 1.1-.24 2.5-.51 2-.37 2-.34 2-.31 2-.28 2-.26 2-.23 2-.22 2-.2 2-.18 2-.17 2-.15 2-.15 2-.13 2-.12 3-.16 3-.14 3-.13 3-.11 3-.1 3-.09 3-.08 3-.07 3-.06 3-.05 3-.05 3-.04 3-.03 3-.03 3-.01h5"/><path d="M-3 5.58l1.4-.32 1.1-.25 2.5-.52 2-.37 2-.34 2-.32 2-.29 2-.26 2-.25 2-.22 2-.21 2-.19 2-.18 2-.16 2-.15 2-.14 2-.13 3-.18 3-.15 3-.14 3-.13 3-.11 3-.1 3-.08 3-.08 3-.07 3-.06 3-.06 3-.05 3-.04 3-.03h8"/><path d="M-3 6.62l1.4-.49 1.1-.36 2.5-.74 2-.53 2-.47 2-.42 2-.38 2-.34 2-.3 2-.27 2-.25 2-.22 2-.2 2-.18 2-.16 2-.14 2-.13 3-.17 3-.15 3-.13 3-.1 3-.09 3-.08 3-.07 3-.05 3-.05 3-.04 3-.03 3-.03 3-.03 3-.01 3-.01h5"/><path d="M-3 7.03l1.4-.43 1.1-.32 2.5-.66 2-.48 2-.44 2-.41 2-.37 2-.33 2-.31 2-.29 2-.26 2-.24 2-.22 2-.2 2-.19 2-.17 2-.16 3-.22 3-.19 3-.17 3-.15 3-.13 3-.12 3-.1 3-.09 3-.08 3-.08 3-.06 3-.05 3-.05 3-.04 3-.02h5"/><path d="M-3 7.7l1.4-.57 1.1-.42 2.5-.86 2-.62 2-.54 2-.5 2-.44 2-.39 2-.36 2-.31 2-.29 2-.26 2-.23 2-.21 2-.18 2-.17 2-.15 3-.2 3-.17 3-.15 3-.13 3-.1 3-.09 3-.08 3-.07 3-.05 3-.05 3-.04 3-.03 3-.02 3-.02h8"/><path d="M-3 7.95l1.4-.54 1.1-.4 2.5-.83 2-.6 2-.53 2-.49 2-.44 2-.4 2-.36 2-.33 2-.29 2-.27 2-.25 2-.22 2-.2 2-.18 2-.17 3-.22 3-.2 3-.17 3-.14 3-.13 3-.11 3-.09 3-.09 3-.07 3-.06 3-.05 3-.04 3-.04 3-.03 3-.01h5"/><path d="M-3 8.66l1.4-.63 1.1-.47 2.5-.95 2-.68 2-.61 2-.55 2-.49 2-.44 2-.4 2-.35 2-.33 2-.29 2-.26 2-.23 2-.22 2-.19 2-.17 3-.23 3-.2 3-.17 3-.14 3-.13 3-.1 3-.09 3-.08 3-.07 3-.05 3-.05 3-.04 3-.03 3-.02h8"/><path d="M-3 9.75l1.4-.77 1.1-.56 2.5-1.15 2-.8 2-.72 2-.64 2-.56 2-.51 2-.45 2-.4 2-.36 2-.32 2-.29 2-.25 2-.23 2-.2 2-.18 3-.24 3-.2 3-.17 3-.14 3-.12 3-.1 3-.09 3-.07 3-.05 3-.05 3-.04 3-.04 3-.02 3-.03h3h5"/><path d="M-3 10.17l1.4-.72 1.1-.53 2.5-1.11 2-.78 2-.7 2-.64 2-.57 2-.51 2-.47 2-.42 2-.38 2-.34 2-.31 2-.28 2-.25 2-.23 2-.21 3-.28 3-.23 3-.21 3-.17 3-.16 3-.13 3-.11 3-.1 3-.08 3-.07 3-.06 3-.05 3-.04 3-.03h8"/><path d="M-3 11.17l1.4-.73 1.1-.54 2.5-1.13 2-.81 2-.73 2-.67 2-.61 2-.55 2-.5 2-.46 2-.42 2-.38 2-.35 2-.32 2-.29 2-.26 2-.25 3-.32 3-.29 3-.25 3-.22 3-.19 3-.17 3-.15 3-.13 3-.11 3-.1 3-.08 3-.07 3-.07 3-.02h8"/><path d="M-3 12.21l1.4-.88 1.1-.64 2.5-1.34 2-.94 2-.85 2-.77 2-.69 2-.62 2-.56 2-.5 2-.45 2-.41 2-.37 2-.34 2-.3 2-.27 2-.25 3-.33 3-.28 3-.24 3-.21 3-.18 3-.15 3-.13 3-.11 3-.1 3-.08 3-.07 3-.06 3-.04 3-.04 3-.01h5"/><path d="M-3 12.79l1.4-.84 1.1-.62 2.5-1.3 2-.93 2-.84 2-.77 2-.69 2-.64 2-.57 2-.53 2-.48 2-.43 2-.4 2-.36 2-.33 2-.3 2-.28 3-.37 3-.32 3-.28 3-.25 3-.22 3-.18 3-.17 3-.14 3-.13 3-.1 3-.1 3-.08 3-.06 3-.06 3-.02h5"/><path d="M-3 13.51l1.4-.92 1.1-.68 2.5-1.42 2-1 2-.92 2-.82 2-.75 2-.68 2-.61 2-.56 2-.5 2-.46 2-.41 2-.38 2-.35 2-.31 2-.28 3-.38 3-.33 3-.29 3-.25 3-.21 3-.19 3-.16 3-.14 3-.12 3-.1 3-.09 3-.08 3-.06 3-.05 3-.01h5"/><path d="M-3 14.11l1.4-1 1.1-.74 2.5-1.53 2-1.09 2-.98 2-.88 2-.8 2-.71 2-.65 2-.58 2-.53 2-.47 2-.43 2-.39 2-.36 2-.31 2-.29 3-.39 3-.33 3-.28 3-.25 3-.21 3-.18 3-.16 3-.13 3-.11 3-.1 3-.08 3-.07 3-.06 3-.02h8"/><path d="M-3 15l1.4-1.19 1.1-.86 2.5-1.76 2-1.24 2-1.1 2-.98 2-.87 2-.78 2-.7 2-.61 2-.55 2-.5 2-.44 2-.39 2-.35 2-.31 2-.28 3-.36 3-.31 3-.26 3-.22 3-.19 3-.15 3-.13 3-.11 3-.09 3-.08 3-.06 3-.05 3-.04 3-.04h3h5"/><path d="M-3 15.97l1.4-1.1 1.1-.8 2.5-1.68 2-1.19 2-1.08 2-.98 2-.88 2-.8 2-.73 2-.65 2-.6 2-.54 2-.49 2-.45 2-.4 2-.37 2-.33 3-.45 3-.39 3-.33 3-.3 3-.25 3-.22 3-.19 3-.16 3-.14 3-.12 3-.1 3-.09 3-.08 3-.06 3-.02h5"/><path d="M-3 17.37l1.4-1.33 1.1-.97 2.5-2 2-1.41 2-1.25 2-1.12 2-1.01 2-.89 2-.8 2-.72 2-.64 2-.58 2-.51 2-.46 2-.42 2-.37 2-.33 3-.43 3-.37 3-.32 3-.27 3-.22 3-.19 3-.16 3-.14 3-.12 3-.09 3-.08 3-.07 3-.05 3-.04 3-.01h5"/></g><g stroke-opacity=".06" stroke-width="3.0"><path d="M-3 .09l1.4-.01h1.1l2.5-.01h2l2-.01h2l2-.01h2h2l2-.01h2h2l2-.01h2h2h2l2-.01h3h3h3l3-.01h3h3h3h3l3-.01h3h3h3h3h11"/><path d="M-3 .56l1.4-.03 1.1-.03 2.5-.05 2-.04 2-.03 2-.03 2-.03 2-.03 2-.02 2-.03 2-.02 2-.02 2-.01 2-.02 2-.02 2-.01 2-.01 3-.02 3-.02 3-.01 3-.01 3-.01 3-.01 3-.01 3-.01 3-.01h3l3-.01h3l3-.01h3h8"/><path d="M-3 .67l1.4-.03 1.1-.03 2.5-.06 2-.04 2-.04 2-.04 2-.03 2-.03 2-.03 2-.03 2-.03 2-.02 2-.02 2-.02 2-.02 2-.02 2-.01 3-.02 3-.02 3-.02 3-.02 3-.01 3-.02 3-.01 3-.01 3-.01 3-.01h3l3-.01 3-.01h3h8"/><path d="M-3 .53l1.4-.03 1.1-.02 2.5-.05 2-.03 2-.03 2-.03 2-.03 2-.02 2-.03 2-.02 2-.02 2-.01 2-.02 2-.02 2-.01 2-.02 2-.01 3-.02 3-.01 3-.01 3-.02 3-.01 3-.01 3-.01 3-.01h3l3-.01 3-.01h3l3-.01h3h8"/><path d="M-3 1.29l1.4-.07 1.1-.04 2.5-.11 2-.08 2-.07 2-.06 2-.07 2-.05 2-.06 2-.05 2-.04 2-.05 2-.04 2-.04 2-.03 2-.04 2-.03 3-.04 3-.04 3-.04 3-.03 3-.03 3-.03 3-.02 3-.03 3-.02 3-.02 3-.01 3-.02 3-.02 3-.01h3h5"/><path d="M-3 1.56l1.4-.08 1.1-.07 2.5-.13 2-.1 2-.09 2-.09 2-.07 2-.08 2-.06 2-.06 2-.06 2-.05 2-.05 2-.05 2-.04 2-.04 2-.04 3-.05 3-.05 3-.04 3-.04 3-.03 3-.03 3-.03 3-.02 3-.03 3-.02 3-.02 3-.01 3-.02 3-.01h8"/><path d="M-3 1.31l1.4-.08 1.1-.05 2.5-.12 2-.09 2-.08 2-.07 2-.07 2-.06 2-.06 2-.05 2-.05 2-.05 2-.04 2-.04 2-.03 2-.03 2-.03 3-.05 3-.03 3-.04 3-.03 3-.02 3-.03 3-.02 3-.02 3-.02 3-.01 3-.02 3-.01 3-.01h3h8"/><path d="M-3 2.08l1.4-.11 1.1-.08 2.5-.17 2-.12 2-.12 2-.11 2-.1 2-.09 2-.09 2-.08 2-.08 2-.07 2-.06 2-.07 2-.05 2-.06 2-.05 3-.07 3-.06 3-.06 3-.06 3-.04 3-.05 3-.04 3-.04 3-.03 3-.03 3-.03 3-.02 3-.03 3-.01h8"/><path d="M-3 2.28l1.4-.13 1.1-.09 2.5-.2 2-.14 2-.14 2-.12 2-.11 2-.11 2-.1 2-.09 2-.08 2-.08 2-.07 2-.07 2-.06 2-.06 2-.05 3-.08 3-.07 3-.06 3-.05 3-.05 3-.05 3-.04 3-.03 3-.04 3-.03 3-.02 3-.03 3-.02 3-.01h8"/><path d="M-3 2.47l1.4-.11 1.1-.08 2.5-.18 2-.13 2-.12 2-.12 2-.11 2-.1 2-.1 2-.09 2-.08 2-.08 2-.08 2-.07 2-.07 2-.07 2-.06 3-.09 3-.08 3-.08 3-.07 3-.06 3-.06 3-.06 3-.06 3-.05 3-.05 3-.04 3-.04 3-.04 3-.04h3h5"/><path d="M-3 3.08l1.4-.16 1.1-.12 2.5-.25 2-.18 2-.17 2-.16 2-.15 2-.13 2-.13 2-.12 2-.11 2-.1 2-.1 2-.09 2-.09 2-.08 2-.07 3-.11 3-.09 3-.09 3-.08 3-.07 3-.07 3-.06 3-.05 3-.05 3-.05 3-.04 3-.04 3-.03 3-.04h3h5"/><path d="M-3 3.77l1.4-.23 1.1-.17 2.5-.36 2-.25 2-.24 2-.21 2-.2 2-.18 2-.17 2-.15 2-.14 2-.13 2-.12 2-.11 2-.1 2-.09 2-.09 3-.12 3-.1 3-.09 3-.08 3-.08 3-.06 3-.06 3-.05 3-.05 3-.04 3-.03 3-.03 3-.03 3-.01h8"/><path d="M-3 3.88l1.4-.18 1.1-.14 2.5-.3 2-.21 2-.21 2-.19 2-.18 2-.16 2-.16 2-.14 2-.14 2-.13 2-.12 2-.12 2-.11 2-.1 2-.1 3-.13 3-.13 3-.11 3-.11 3-.1 3-.09 3-.09 3-.08 3-.07 3-.07 3-.06 3-.06 3-.06 3-.03h8"/><path d="M-3 4.54l1.4-.27 1.1-.2 2.5-.43 2-.31 2-.28 2-.26 2-.24 2-.22 2-.2 2-.18 2-.17 2-.16 2-.14 2-.13 2-.12 2-.11 2-.11 3-.14 3-.12 3-.11 3-.1 3-.09 3-.07 3-.07 3-.06 3-.06 3-.05 3-.04 3-.03 3-.04 3-.02 3-.01h5"/><path d="M-3 5.34l1.4-.34 1.1-.25 2.5-.53 2-.37 2-.35 2-.31 2-.29 2-.26 2-.24 2-.21 2-.2 2-.19 2-.16 2-.16 2-.14 2-.12 2-.12 3-.16 3-.14 3-.13 3-.1 3-.1 3-.08 3-.08 3-.06 3-.06 3-.05 3-.04 3-.04 3-.03 3-.03h8"/><path d="M-3 5.58l1.4-.34 1.1-.25 2.5-.53 2-.38 2-.35 2-.32 2-.3 2-.27 2-.24 2-.23 2-.21 2-.19 2-.18 2-.16 2-.15 2-.13 2-.13 3-.17 3-.16 3-.13 3-.12 3-.11 3-.09 3-.09 3-.07 3-.07 3-.06 3-.05 3-.04 3-.04 3-.02h8"/><path d="M-3 6.62l1.4-.5 1.1-.38 2.5-.76 2-.53 2-.48 2-.43 2-.38 2-.34 2-.31 2-.27 2-.25 2-.22 2-.19 2-.18 2-.16 2-.14 2-.12 3-.17 3-.14 3-.12 3-.1 3-.09 3-.07 3-.06 3-.06 3-.04 3-.04 3-.03 3-.02 3-.02 3-.02h3h5"/><path d="M-3 7.03l1.4-.44 1.1-.33 2.5-.68 2-.5 2-.45 2-.41 2-.37 2-.34 2-.32 2-.28 2-.26 2-.24 2-.22 2-.21 2-.18 2-.17 2-.16 3-.21 3-.18 3-.17 3-.14 3-.13 3-.11 3-.1 3-.09 3-.07 3-.07 3-.06 3-.05 3-.04 3-.04 3-.01h5"/><path d="M-3 7.7l1.4-.59 1.1-.43 2.5-.89 2-.62 2-.56 2-.5 2-.44 2-.4 2-.36 2-.32 2-.28 2-.26 2-.22 2-.21 2-.18 2-.17 2-.15 3-.19 3-.16 3-.14 3-.12 3-.1 3-.09 3-.07 3-.06 3-.05 3-.04 3-.04 3-.03 3-.02 3-.01h8"/><path d="M-3 7.95l1.4-.56 1.1-.41 2.5-.85 2-.61 2-.55 2-.49 2-.45 2-.4 2-.36 2-.33 2-.3 2-.27 2-.24 2-.22 2-.2 2-.18 2-.16 3-.22 3-.19 3-.16 3-.14 3-.12 3-.1 3-.09 3-.08 3-.06 3-.06 3-.05 3-.04 3-.03 3-.03h8"/><path d="M-3 8.66l1.4-.65 1.1-.48 2.5-.98 2-.69 2-.62 2-.56 2-.49 2-.45 2-.4 2-.36 2-.32 2-.29 2-.25 2-.24 2-.21 2-.18 2-.17 3-.23 3-.19 3-.16 3-.14 3-.11 3-.1 3-.09 3-.07 3-.06 3-.05 3-.04 3-.04 3-.03 3-.01h8"/><path d="M-3 9.75l1.4-.8 1.1-.57 2.5-1.18 2-.82 2-.73 2-.64 2-.58 2-.51 2-.45 2-.4 2-.35 2-.32 2-.28 2-.25 2-.22 2-.2 2-.18 3-.23 3-.19 3-.16 3-.13 3-.12 3-.09 3-.08 3-.06 3-.06 3-.04 3-.04 3-.03 3-.02 3-.02h8"/><path d="M-3 10.17l1.4-.75 1.1-.54 2.5-1.13 2-.8 2-.72 2-.64 2-.58 2-.52 2-.47 2-.42 2-.38 2-.34 2-.31 2-.27 2-.25 2-.23 2-.2 3-.27 3-.23 3-.19 3-.17 3-.14 3-.13 3-.1 3-.09 3-.08 3-.06 3-.05 3-.05 3-.04 3-.02h8"/><path d="M-3 11.17l1.4-.75 1.1-.56 2.5-1.16 2-.82 2-.75 2-.68 2-.62 2-.56 2-.5 2-.46 2-.42 2-.38 2-.35 2-.31 2-.29 2-.26 2-.24 3-.32 3-.28 3-.24 3-.21 3-.19 3-.16 3-.13 3-.13 3-.1 3-.09 3-.08 3-.06 3-.06 3-.01h8"/><path d="M-3 12.21l1.4-.91 1.1-.66 2.5-1.37 2-.96 2-.87 2-.78 2-.69 2-.63 2-.56 2-.51 2-.45 2-.41 2-.36 2-.33 2-.3 2-.27 2-.24 3-.31 3-.28 3-.23 3-.2 3-.17 3-.14 3-.12 3-.11 3-.08 3-.08 3-.06 3-.05 3-.05 3-.03h8"/><path d="M-3 12.79l1.4-.87 1.1-.64 2.5-1.33 2-.95 2-.86 2-.78 2-.7 2-.64 2-.58 2-.53 2-.48 2-.43 2-.4 2-.35 2-.33 2-.3 2-.27 3-.36 3-.31 3-.28 3-.23 3-.21 3-.18 3-.15 3-.14 3-.11 3-.1 3-.09 3-.07 3-.06 3-.05 3-.01h5"/><path d="M-3 13.51l1.4-.95 1.1-.7 2.5-1.45 2-1.03 2-.93 2-.84 2-.76 2-.68 2-.62 2-.56 2-.5 2-.46 2-.41 2-.37 2-.34 2-.31 2-.28 3-.37 3-.31 3-.28 3-.24 3-.2 3-.18 3-.15 3-.13 3-.11 3-.1 3-.08 3-.07 3-.06 3-.04h8"/><path d="M-3 14.11l1.4-1.03 1.1-.77 2.5-1.57 2-1.11 2-1 2-.89 2-.8 2-.73 2-.65 2-.58 2-.52 2-.48 2-.42 2-.39 2-.34 2-.32 2-.28 3-.37 3-.32 3-.27 3-.24 3-.2 3-.17 3-.14 3-.13 3-.1 3-.09 3-.08 3-.06 3-.05 3-.01h8"/><path d="M-3 15l1.4-1.22 1.1-.89 2.5-1.81 2-1.26 2-1.12 2-1 2-.88 2-.78 2-.69 2-.62 2-.55 2-.49 2-.43 2-.38 2-.35 2-.3 2-.27 3-.35 3-.3 3-.25 3-.2 3-.18 3-.14 3-.12 3-.1 3-.09 3-.07 3-.05 3-.05 3-.03 3-.03h8"/><path d="M-3 15.97l1.4-1.13 1.1-.83 2.5-1.72 2-1.22 2-1.1 2-.99 2-.9 2-.81 2-.73 2-.65 2-.6 2-.54 2-.48 2-.45 2-.39 2-.37 2-.32 3-.44 3-.37 3-.33 3-.27 3-.25 3-.2 3-.18 3-.15 3-.13 3-.12 3-.09 3-.08 3-.07 3-.05 3-.01h5"/><path d="M-3 17.37l1.4-1.37 1.1-1 2.5-2.05 2-1.44 2-1.28 2-1.13 2-1.02 2-.9 2-.8 2-.72 2-.63 2-.57 2-.51 2-.46 2-.4 2-.36 2-.33 3-.42 3-.35 3-.3 3-.26 3-.21 3-.18 3-.15 3-.12 3-.11 3-.09 3-.07 3-.05 3-.05 3-.04h8"/></g><g stroke-opacity=".06" stroke-width="4.5"><path d="M-3 0h83"/><path d="M-3 0h83"/></g><g stroke-opacity=".07" stroke-width="2.0"><path d="M-3 18.16l1.4-1.39 1.1-1.02 2.5-2.09 2-1.47 2-1.31 2-1.17 2-1.05 2-.94 2-.84 2-.75 2-.67 2-.6 2-.54 2-.48 2-.43 2-.39 2-.35 3-.46 3-.39 3-.33 3-.28 3-.24 3-.2 3-.17 3-.14 3-.12 3-.1 3-.08 3-.07 3-.06 3-.03h8"/><path d="M-3 18.7l1.4-1.13 1.1-.83 2.5-1.76 2-1.27 2-1.16 2-1.07 2-.98 2-.9 2-.82 2-.76 2-.7 2-.64 2-.59 2-.54 2-.5 2-.46 2-.43 3-.58 3-.52 3-.46 3-.41 3-.36 3-.32 3-.29 3-.26 3-.22 3-.2 3-.18 3-.15 3-.14 3-.07h8"/><path d="M-3 19.58l1.4-1.51 1.1-1.11 2.5-2.26 2-1.6 2-1.42 2-1.27 2-1.14 2-1.01 2-.9 2-.81 2-.73 2-.64 2-.58 2-.52 2-.47 2-.42 2-.37 3-.49 3-.42 3-.35 3-.3 3-.25 3-.21 3-.18 3-.16 3-.12 3-.11 3-.09 3-.07 3-.06 3-.01h8"/><path d="M-3 21.22l1.4-1.59 1.1-1.17 2.5-2.4 2-1.69 2-1.52 2-1.36 2-1.21 2-1.09 2-.98 2-.88 2-.78 2-.71 2-.63 2-.58 2-.51 2-.46 2-.41 3-.55 3-.47 3-.39 3-.34 3-.29 3-.25 3-.2 3-.18 3-.15 3-.12 3-.11 3-.08 3-.07 3-.05h8"/><path d="M-3 22.23l1.4-1.6 1.1-1.18 2.5-2.43 2-1.72 2-1.56 2-1.39 2-1.26 2-1.13 2-1.02 2-.91 2-.83 2-.75 2-.67 2-.61 2-.55 2-.5 2-.45 3-.59 3-.52 3-.44 3-.37 3-.33 3-.28 3-.24 3-.2 3-.17 3-.15 3-.13 3-.1 3-.09 3-.06h8"/><path d="M-3 22.96l1.4-1.34 1.1-.99 2.5-2.1 2-1.52 2-1.39 2-1.29 2-1.18 2-1.09 2-1 2-.92 2-.86 2-.78 2-.73 2-.67 2-.62 2-.58 2-.54 3-.73 3-.65 3-.58 3-.52 3-.47 3-.42 3-.38 3-.33 3-.3 3-.27 3-.23 3-.21 3-.19 3-.08h8"/><path d="M-3 23.83l1.4-2.09 1.1-1.51 2.5-3.06 2-2.12 2-1.85 2-1.62 2-1.43 2-1.26 2-1.1 2-.97 2-.85 2-.75 2-.66 2-.58 2-.51 2-.45 2-.39 3-.51 3-.42 3-.34 3-.29 3-.23 3-.19 3-.16 3-.13 3-.1 3-.08 3-.07 3-.05 3-.04 3-.02h8"/><path d="M-3 25.09l1.4-2.07 1.1-1.5 2.5-3.05 2-2.13 2-1.89 2-1.67 2-1.48 2-1.31 2-1.16 2-1.03 2-.91 2-.81 2-.72 2-.64 2-.57 2-.5 2-.45 3-.58 3-.49 3-.41 3-.34 3-.28 3-.24 3-.19 3-.17 3-.13 3-.11 3-.09 3-.07 3-.06 3-.04h8"/><path d="M-3 26.43l1.4-2.09 1.1-1.52 2.5-3.12 2-2.19 2-1.94 2-1.73 2-1.54 2-1.38 2-1.22 2-1.09 2-.97 2-.87 2-.77 2-.7 2-.61 2-.56 2-.49 3-.64 3-.54 3-.46 3-.39 3-.33 3-.27 3-.23 3-.19 3-.16 3-.13 3-.11 3-.09 3-.07 3-.03h8"/><path d="M-3 27.09l1.4-1.99 1.1-1.46 2.5-3.01 2-2.13 2-1.91 2-1.71 2-1.54 2-1.39 2-1.24 2-1.12 2-1.01 2-.91 2-.81 2-.74 2-.66 2-.6 2-.54 3-.71 3-.61 3-.52 3-.45 3-.38 3-.33 3-.28 3-.23 3-.2 3-.17 3-.15 3-.11 3-.1 3-.08h8"/><path d="M-3 28.6l1.4-2.32 1.1-1.68 2.5-3.45 2-2.4 2-2.14 2-1.89 2-1.68 2-1.49 2-1.32 2-1.18 2-1.05 2-.93 2-.83 2-.74 2-.65 2-.59 2-.52 3-.68 3-.57 3-.48 3-.4 3-.34 3-.28 3-.23 3-.2 3-.16 3-.13 3-.11 3-.08 3-.07 3-.01h8"/><path d="M-3 29.55l1.4-2.78 1.1-1.99 2.5-4.01 2-2.73 2-2.37 2-2.07 2-1.79 2-1.56 2-1.36 2-1.18 2-1.03 2-.9 2-.78 2-.68 2-.59 2-.52 2-.45 3-.56 3-.47 3-.37 3-.3 3-.25 3-.2 3-.15 3-.13 3-.1 3-.08 3-.06 3-.05 3-.03 3-.01h8"/><path d="M-3 30.76l1.4-2.32 1.1-1.7 2.5-3.5 2-2.46 2-2.21 2-1.97 2-1.77 2-1.58 2-1.42 2-1.27 2-1.14 2-1.02 2-.92 2-.82 2-.75 2-.66 2-.6 3-.79 3-.67 3-.57 3-.49 3-.42 3-.35 3-.3 3-.25 3-.21 3-.18 3-.15 3-.12 3-.1 3-.05h8"/><path d="M-3 32.22l1.4-2.6 1.1-1.9 2.5-3.87 2-2.71 2-2.4 2-2.13 2-1.89 2-1.68 2-1.49 2-1.33 2-1.18 2-1.05 2-.93 2-.83 2-.75 2-.66 2-.58 3-.77 3-.64 3-.54 3-.46 3-.38 3-.32 3-.26 3-.22 3-.18 3-.15 3-.13 3-.1 3-.08 3-.01h8"/><path d="M-3 32.78l1.4-2.48 1.1-1.83 2.5-3.74 2-2.64 2-2.36 2-2.11 2-1.88 2-1.69 2-1.51 2-1.36 2-1.21 2-1.09 2-.97 2-.88 2-.78 2-.71 2-.63 3-.83 3-.71 3-.6 3-.51 3-.44 3-.37 3-.31 3-.26 3-.22 3-.19 3-.15 3-.13 3-.1 3-.09h8"/><path d="M-3 34.22l1.4-2.7 1.1-1.96 2.5-4.03 2-2.82 2-2.51 2-2.24 2-1.99 2-1.77 2-1.59 2-1.41 2-1.26 2-1.12 2-1 2-.9 2-.8 2-.71 2-.64 3-.84 3-.7 3-.6 3-.5 3-.43 3-.35 3-.3 3-.25 3-.21 3-.17 3-.15 3-.11 3-.1 3-.06h8"/><path d="M-3 35.32l1.4-2.74 1.1-2.01 2.5-4.12 2-2.89 2-2.58 2-2.3 2-2.05 2-1.83 2-1.63 2-1.46 2-1.3 2-1.17 2-1.04 2-.93 2-.84 2-.75 2-.67 3-.87 3-.74 3-.63 3-.53 3-.45 3-.38 3-.32 3-.27 3-.23 3-.18 3-.15 3-.13 3-.1 3-.03h8"/></g><g stroke-opacity=".07" stroke-width="3.0"><path d="M-3 0h83"/><path d="M-3 0h83"/></g><g stroke-opacity=".09" stroke-width="2.0"><path d="M-3 .09l1.4-.01h1.1l2.5-.01h2l2-.01h2l2-.01h2l2-.01h2h2l2-.01h2h2h2l2-.01h2h3h3l3-.01h3h3h3h3h3l3-.01h3h3h3h3h11"/><path d="M-3 .56l1.4-.03 1.1-.03 2.5-.05 2-.04 2-.04 2-.03 2-.03 2-.03 2-.02 2-.02 2-.02 2-.02 2-.02 2-.02 2-.01 2-.02 2-.01 3-.02 3-.01 3-.01 3-.02 3-.01 3-.01 3-.01h3l3-.01 3-.01h3l3-.01h3h11"/><path d="M-3 .67l1.4-.03 1.1-.03 2.5-.06 2-.05 2-.04 2-.04 2-.03 2-.03 2-.03 2-.03 2-.02 2-.03 2-.02 2-.02 2-.02 2-.01 2-.02 3-.02 3-.02 3-.02 3-.01 3-.02 3-.01 3-.01 3-.01 3-.01 3-.01 3-.01h3l3-.01h11"/><path d="M-3 .53l1.4-.03 1.1-.02 2.5-.05 2-.04 2-.03 2-.03 2-.02 2-.03 2-.02 2-.02 2-.02 2-.02 2-.02 2-.01 2-.02 2-.01 2-.01 3-.02 3-.02 3-.01 3-.01 3-.01 3-.01 3-.01 3-.01 3-.01h3l3-.01h3l3-.01h3h8"/><path d="M-3 1.29l1.4-.07 1.1-.05 2.5-.11 2-.07 2-.08 2-.07 2-.06 2-.06 2-.05 2-.05 2-.05 2-.04 2-.04 2-.04 2-.04 2-.03 2-.03 3-.04 3-.04 3-.04 3-.03 3-.03 3-.03 3-.02 3-.02 3-.02 3-.02 3-.02 3-.02 3-.01 3-.01h8"/><path d="M-3 1.56l1.4-.09 1.1-.06 2.5-.14 2-.1 2-.09 2-.09 2-.08 2-.07 2-.07 2-.06 2-.06 2-.05 2-.05 2-.05 2-.04 2-.04 2-.04 3-.05 3-.04 3-.04 3-.04 3-.03 3-.03 3-.03 3-.02 3-.03 3-.01 3-.02 3-.02 3-.01 3-.01h8"/><path d="M-3 1.31l1.4-.08 1.1-.06 2.5-.12 2-.09 2-.08 2-.07 2-.07 2-.07 2-.05 2-.06 2-.05 2-.04 2-.04 2-.04 2-.04 2-.03 2-.03 3-.04 3-.04 3-.03 3-.03 3-.02 3-.03 3-.02 3-.02 3-.01 3-.02 3-.01 3-.01 3-.01h11"/><path d="M-3 2.08l1.4-.11 1.1-.08 2.5-.18 2-.13 2-.12 2-.11 2-.1 2-.1 2-.08 2-.09 2-.07 2-.07 2-.07 2-.06 2-.06 2-.05 2-.05 3-.07 3-.06 3-.06 3-.05 3-.05 3-.04 3-.04 3-.04 3-.03 3-.03 3-.03 3-.02 3-.02 3-.01h8"/><path d="M-3 2.28l1.4-.13 1.1-.1 2.5-.2 2-.15 2-.14 2-.12 2-.12 2-.1 2-.1 2-.09 2-.09 2-.08 2-.07 2-.07 2-.06 2-.06 2-.05 3-.07 3-.07 3-.06 3-.05 3-.05 3-.04 3-.04 3-.04 3-.03 3-.03 3-.02 3-.03 3-.01 3-.01h8"/><path d="M-3 2.47l1.4-.11 1.1-.09 2.5-.18 2-.13 2-.13 2-.12 2-.11 2-.1 2-.1 2-.09 2-.09 2-.08 2-.08 2-.07 2-.07 2-.07 2-.06 3-.09 3-.08 3-.07 3-.07 3-.07 3-.06 3-.05 3-.06 3-.05 3-.04 3-.04 3-.04 3-.04 3-.03h8"/><path d="M-3 3.08l1.4-.16 1.1-.13 2.5-.25 2-.19 2-.17 2-.16 2-.15 2-.14 2-.13 2-.12 2-.12 2-.1 2-.1 2-.09 2-.08 2-.08 2-.08 3-.1 3-.09 3-.09 3-.08 3-.07 3-.06 3-.06 3-.05 3-.05 3-.04 3-.04 3-.04 3-.03 3-.03h8"/><path d="M-3 3.77l1.4-.24 1.1-.17 2.5-.37 2-.26 2-.24 2-.22 2-.2 2-.18 2-.17 2-.16 2-.14 2-.13 2-.11 2-.11 2-.1 2-.09 2-.09 3-.11 3-.11 3-.08 3-.08 3-.07 3-.07 3-.05 3-.05 3-.04 3-.04 3-.03 3-.03 3-.02 3-.01h8"/><path d="M-3 3.88l1.4-.19 1.1-.14 2.5-.3 2-.23 2-.2 2-.2 2-.18 2-.17 2-.16 2-.15 2-.14 2-.13 2-.12 2-.11 2-.11 2-.1 2-.1 3-.13 3-.13 3-.11 3-.11 3-.1 3-.08 3-.09 3-.07 3-.08 3-.06 3-.06 3-.06 3-.05 3-.02h8"/><path d="M-3 4.54l1.4-.28 1.1-.21 2.5-.44 2-.31 2-.29 2-.27 2-.24 2-.22 2-.2 2-.18 2-.17 2-.16 2-.14 2-.13 2-.12 2-.11 2-.1 3-.14 3-.12 3-.11 3-.1 3-.08 3-.07 3-.07 3-.06 3-.05 3-.04 3-.04 3-.03 3-.03 3-.03h8"/><path d="M-3 5.34l1.4-.35 1.1-.26 2.5-.54 2-.38 2-.35 2-.32 2-.29 2-.27 2-.24 2-.22 2-.2 2-.18 2-.16 2-.16 2-.13 2-.13 2-.12 3-.15 3-.14 3-.12 3-.1 3-.09 3-.09 3-.07 3-.06 3-.05 3-.05 3-.04 3-.03 3-.03 3-.02h8"/><path d="M-3 5.58l1.4-.35 1.1-.26 2.5-.54 2-.39 2-.36 2-.33 2-.29 2-.28 2-.25 2-.22 2-.21 2-.19 2-.18 2-.16 2-.15 2-.13 2-.13 3-.17 3-.15 3-.13 3-.11 3-.11 3-.09 3-.08 3-.07 3-.06 3-.05 3-.05 3-.04 3-.04 3-.01h8"/><path d="M-3 6.62l1.4-.52 1.1-.38 2.5-.78 2-.55 2-.49 2-.43 2-.39 2-.34 2-.31 2-.27 2-.24 2-.22 2-.19 2-.18 2-.15 2-.14 2-.12 3-.16 3-.14 3-.11 3-.1 3-.08 3-.07 3-.06 3-.05 3-.04 3-.03 3-.03 3-.02 3-.02 3-.01h8"/><path d="M-3 7.03l1.4-.46 1.1-.33 2.5-.71 2-.5 2-.46 2-.41 2-.38 2-.35 2-.31 2-.29 2-.26 2-.24 2-.22 2-.2 2-.19 2-.16 2-.16 3-.2 3-.19 3-.15 3-.14 3-.13 3-.1 3-.1 3-.08 3-.07 3-.06 3-.06 3-.05 3-.04 3-.03h8"/><path d="M-3 7.7l1.4-.61 1.1-.44 2.5-.91 2-.64 2-.57 2-.5 2-.45 2-.4 2-.36 2-.31 2-.29 2-.25 2-.23 2-.2 2-.18 2-.16 2-.14 3-.19 3-.16 3-.13 3-.11 3-.1 3-.08 3-.07 3-.05 3-.05 3-.04 3-.03 3-.02 3-.02 3-.01h8"/><path d="M-3 7.95l1.4-.58 1.1-.42 2.5-.88 2-.62 2-.55 2-.5 2-.45 2-.41 2-.36 2-.33 2-.3 2-.27 2-.24 2-.21 2-.2 2-.18 2-.16 3-.21 3-.18 3-.15 3-.14 3-.11 3-.1 3-.09 3-.07 3-.06 3-.05 3-.04 3-.04 3-.03 3-.02h8"/><path d="M-3 8.66l1.4-.67 1.1-.49 2.5-1.01 2-.71 2-.63 2-.56 2-.5 2-.45 2-.4 2-.36 2-.32 2-.28 2-.26 2-.23 2-.2 2-.19 2-.16 3-.22 3-.18 3-.15 3-.14 3-.11 3-.09 3-.08 3-.07 3-.05 3-.05 3-.03 3-.04 3-.02 3-.01h8"/><path d="M-3 9.75l1.4-.82 1.1-.59 2.5-1.21 2-.84 2-.74 2-.65 2-.58 2-.51 2-.45 2-.4 2-.35 2-.31 2-.28 2-.25 2-.21 2-.2 2-.17 3-.22 3-.18 3-.15 3-.13 3-.11 3-.09 3-.07 3-.06 3-.05 3-.04 3-.03 3-.03 3-.02 3-.01h8"/><path d="M-3 10.17l1.4-.77 1.1-.56 2.5-1.16 2-.82 2-.73 2-.65 2-.58 2-.53 2-.47 2-.42 2-.37 2-.34 2-.31 2-.27 2-.24 2-.22 2-.2 3-.26 3-.22 3-.19 3-.16 3-.14 3-.11 3-.1 3-.08 3-.07 3-.06 3-.05 3-.04 3-.03 3-.02h8"/><path d="M-3 11.17l1.4-.78 1.1-.57 2.5-1.19 2-.84 2-.77 2-.68 2-.63 2-.56 2-.51 2-.46 2-.42 2-.38 2-.34 2-.31 2-.29 2-.25 2-.24 3-.31 3-.27 3-.23 3-.21 3-.17 3-.15 3-.14 3-.11 3-.1 3-.08 3-.07 3-.06 3-.05h3h8"/><path d="M-3 12.21l1.4-.94 1.1-.68 2.5-1.4 2-.99 2-.88 2-.79 2-.7 2-.63 2-.56 2-.51 2-.45 2-.4 2-.36 2-.33 2-.29 2-.26 2-.24 3-.31 3-.26 3-.22 3-.19 3-.16 3-.13 3-.12 3-.1 3-.08 3-.06 3-.06 3-.05 3-.04 3-.02h8"/><path d="M-3 12.79l1.4-.89 1.1-.66 2.5-1.37 2-.97 2-.88 2-.79 2-.71 2-.65 2-.58 2-.53 2-.48 2-.43 2-.39 2-.35 2-.33 2-.29 2-.26 3-.35 3-.31 3-.26 3-.23 3-.2 3-.16 3-.15 3-.13 3-.1 3-.1 3-.07 3-.07 3-.06 3-.04h8"/><path d="M-3 13.51l1.4-.98 1.1-.72 2.5-1.49 2-1.05 2-.95 2-.85 2-.77 2-.69 2-.62 2-.55 2-.51 2-.45 2-.41 2-.37 2-.33 2-.3 2-.27 3-.36 3-.31 3-.27 3-.22 3-.2 3-.17 3-.14 3-.12 3-.1 3-.09 3-.08 3-.06 3-.05 3-.03h8"/><path d="M-3 14.11l1.4-1.07 1.1-.78 2.5-1.61 2-1.14 2-1.01 2-.91 2-.81 2-.73 2-.65 2-.58 2-.53 2-.47 2-.42 2-.38 2-.34 2-.3 2-.28 3-.36 3-.3 3-.27 3-.22 3-.19 3-.16 3-.14 3-.11 3-.1 3-.08 3-.07 3-.05 3-.05h3h8"/><path d="M-3 15l1.4-1.26 1.1-.91 2.5-1.86 2-1.29 2-1.13 2-1.01 2-.89 2-.78 2-.7 2-.61 2-.55 2-.48 2-.42 2-.38 2-.34 2-.29 2-.26 3-.34 3-.29 3-.23 3-.2 3-.16 3-.14 3-.11 3-.09 3-.08 3-.06 3-.05 3-.04 3-.03 3-.02h8"/><path d="M-3 15.97l1.4-1.17 1.1-.85 2.5-1.76 2-1.25 2-1.12 2-1.01 2-.9 2-.82 2-.73 2-.66 2-.59 2-.54 2-.48 2-.44 2-.39 2-.35 2-.32 3-.43 3-.36 3-.31 3-.27 3-.23 3-.19 3-.17 3-.14 3-.12 3-.1 3-.09 3-.07 3-.06 3-.05h8"/><path d="M-3 17.37l1.4-1.41 1.1-1.03 2.5-2.1 2-1.47 2-1.3 2-1.15 2-1.02 2-.91 2-.8 2-.72 2-.63 2-.56 2-.5 2-.45 2-.4 2-.35 2-.31 3-.41 3-.34 3-.29 3-.24 3-.2 3-.17 3-.14 3-.11 3-.1 3-.08 3-.06 3-.05 3-.04 3-.03h8"/></g><g stroke-opacity=".10" stroke-width="1.2"><path d="M-3 36.64l1.4-2.75 1.1-2.02 2.5-4.15 2-2.92 2-2.63 2-2.34 2-2.1 2-1.89 2-1.69 2-1.51 2-1.36 2-1.22 2-1.1 2-.98 2-.89 2-.8 2-.71 3-.95 3-.8 3-.69 3-.58 3-.5 3-.43 3-.36 3-.3 3-.26 3-.21 3-.18 3-.15 3-.12 3-.05h8"/><path d="M-3 38.42l1.4-2.89 1.1-2.11 2.5-4.35 2-3.07 2-2.75 2-2.46 2-2.21 2-1.97 2-1.77 2-1.59 2-1.43 2-1.28 2-1.15 2-1.04 2-.93 2-.84 2-.75 3-1 3-.85 3-.72 3-.62 3-.52 3-.45 3-.38 3-.32 3-.27 3-.23 3-.19 3-.16 3-.12h11"/><path d="M-3 39.14l1.4-3.41 1.1-2.46 2.5-5 2-3.45 2-3.03 2-2.66 2-2.34 2-2.06 2-1.81 2-1.6 2-1.4 2-1.24 2-1.09 2-.96 2-.84 2-.75 2-.66 3-.84 3-.69 3-.58 3-.48 3-.39 3-.32 3-.26 3-.22 3-.17 3-.14 3-.11 3-.09 3-.07 3-.02h8"/><path d="M-3 41.11l1.4-2.84 1.1-2.09 2.5-4.34 2-3.1 2-2.8 2-2.53 2-2.28 2-2.07 2-1.87 2-1.7 2-1.54 2-1.39 2-1.27 2-1.15 2-1.04 2-.95 2-.87 3-1.15 3-1 3-.86 3-.76 3-.65 3-.57 3-.48 3-.43 3-.36 3-.31 3-.26 3-.23 3-.18 3-.04h8"/><path d="M-3 42.03l1.4-3.43 1.1-2.5 2.5-5.1 2-3.56 2-3.15 2-2.79 2-2.48 2-2.19 2-1.95 2-1.73 2-1.53 2-1.37 2-1.21 2-1.08 2-.96 2-.85 2-.76 3-.98 3-.83 3-.69 3-.58 3-.48 3-.41 3-.33 3-.28 3-.23 3-.19 3-.15 3-.12 3-.1 3-.02h8"/><path d="M-3 43.57l1.4-3.52 1.1-2.57 2.5-5.24 2-3.66 2-3.25 2-2.88 2-2.56 2-2.27 2-2.02 2-1.79 2-1.6 2-1.42 2-1.26 2-1.13 2-1 2-.89 2-.8 3-1.03 3-.87 3-.73 3-.62 3-.51 3-.43 3-.36 3-.3 3-.24 3-.2 3-.17 3-.13 3-.11 3-.01h8"/><path d="M-3 44.87l1.4-2.91 1.1-2.16 2.5-4.49 2-3.24 2-2.93 2-2.68 2-2.43 2-2.21 2-2.02 2-1.84 2-1.68 2-1.53 2-1.41 2-1.28 2-1.17 2-1.07 2-.98 3-1.33 3-1.16 3-1.02 3-.89 3-.79 3-.68 3-.61 3-.52 3-.46 3-.4 3-.35 3-.3 3-.25 3-.08h8"/><path d="M-3 46l1.4-3.39 1.1-2.49 2.5-5.13 2-3.63 2-3.25 2-2.93 2-2.62 2-2.35 2-2.12 2-1.9 2-1.71 2-1.54 2-1.39 2-1.24 2-1.13 2-1.01 2-.92 3-1.2 3-1.04 3-.88 3-.76 3-.65 3-.55 3-.47 3-.4 3-.34 3-.29 3-.24 3-.19 3-.17 3-.07h8"/><path d="M-3 47.52l1.4-3.94 1.1-2.87 2.5-5.83 2-4.06 2-3.59 2-3.17 2-2.81 2-2.49 2-2.2 2-1.95 2-1.73 2-1.54 2-1.36 2-1.21 2-1.07 2-.95 2-.85 3-1.09 3-.92 3-.76 3-.64 3-.53 3-.44 3-.37 3-.3 3-.25 3-.2 3-.17 3-.13 3-.1h11"/><path d="M-3 48.92l1.4-3.59 1.1-2.64 2.5-5.43 2-3.85 2-3.45 2-3.1 2-2.78 2-2.5 2-2.25 2-2.03 2-1.82 2-1.64 2-1.48 2-1.33 2-1.2 2-1.09 2-.97 3-1.3 3-1.11 3-.95 3-.81 3-.7 3-.6 3-.51 3-.43 3-.37 3-.31 3-.26 3-.21 3-.18 3-.03h8"/><path d="M-3 50.47l1.4-3.88 1.1-2.84 2.5-5.83 2-4.1 2-3.65 2-3.27 2-2.92 2-2.6 2-2.34 2-2.08 2-1.87 2-1.67 2-1.49 2-1.35 2-1.2 2-1.08 2-.97 3-1.26 3-1.08 3-.91 3-.78 3-.66 3-.56 3-.46 3-.4 3-.33 3-.28 3-.22 3-.19 3-.16 3-.04h8"/><path d="M-3 52.8l1.4-4.23 1.1-3.09 2.5-6.31 2-4.41 2-3.92 2-3.48 2-3.09 2-2.75 2-2.44 2-2.18 2-1.93 2-1.73 2-1.53 2-1.37 2-1.22 2-1.09 2-.97 3-1.27 3-1.06 3-.89 3-.76 3-.63 3-.53 3-.44 3-.37 3-.3 3-.25 3-.21 3-.17 3-.13 3-.05h8"/></g><g stroke-opacity=".11" stroke-width="2.0"><path d="M-3 0h83"/><path d="M-3 0h83"/></g><g stroke-opacity=".14" stroke-width="1.2"><path d="M-3 18.16l1.4-1.43 1.1-1.05 2.5-2.14 2-1.5 2-1.33 2-1.19 2-1.06 2-.94 2-.84 2-.75 2-.67 2-.59 2-.54 2-.47 2-.43 2-.38 2-.34 3-.44 3-.37 3-.32 3-.27 3-.22 3-.19 3-.16 3-.13 3-.11 3-.09 3-.08 3-.06 3-.05 3-.02h8"/><path d="M-3 18.7l1.4-1.16 1.1-.86 2.5-1.8 2-1.3 2-1.19 2-1.08 2-1 2-.9 2-.84 2-.76 2-.69 2-.65 2-.58 2-.54 2-.5 2-.46 2-.42 3-.57 3-.51 3-.44 3-.4 3-.35 3-.31 3-.27 3-.24 3-.22 3-.18 3-.17 3-.14 3-.12 3-.05h8"/><path d="M-3 19.58l1.4-1.55 1.1-1.14 2.5-2.32 2-1.63 2-1.45 2-1.28 2-1.15 2-1.02 2-.9 2-.81 2-.72 2-.64 2-.57 2-.52 2-.45 2-.41 2-.36 3-.48 3-.4 3-.34 3-.28 3-.24 3-.2 3-.17 3-.14 3-.12 3-.09 3-.08 3-.07 3-.05h3h8"/><path d="M-3 21.22l1.4-1.64 1.1-1.2 2.5-2.45 2-1.73 2-1.55 2-1.37 2-1.23 2-1.1 2-.98 2-.87 2-.79 2-.7 2-.63 2-.56 2-.5 2-.45 2-.41 3-.53 3-.45 3-.38 3-.32 3-.27 3-.24 3-.19 3-.16 3-.14 3-.11 3-.1 3-.08 3-.06 3-.03h8"/><path d="M-3 22.23l1.4-1.65 1.1-1.21 2.5-2.49 2-1.76 2-1.58 2-1.41 2-1.27 2-1.14 2-1.02 2-.92 2-.83 2-.74 2-.67 2-.6 2-.54 2-.49 2-.44 3-.58 3-.49 3-.43 3-.36 3-.31 3-.26 3-.22 3-.19 3-.16 3-.14 3-.11 3-.1 3-.08 3-.04h8"/><path d="M-3 22.96l1.4-1.38 1.1-1.02 2.5-2.15 2-1.55 2-1.43 2-1.31 2-1.2 2-1.1 2-1.01 2-.93 2-.85 2-.79 2-.73 2-.67 2-.61 2-.57 2-.53 3-.72 3-.64 3-.57 3-.51 3-.45 3-.4 3-.36 3-.32 3-.28 3-.25 3-.22 3-.19 3-.17 3-.05h8"/><path d="M-3 23.83l1.4-2.15 1.1-1.56 2.5-3.13 2-2.15 2-1.88 2-1.64 2-1.44 2-1.25 2-1.1 2-.97 2-.84 2-.74 2-.65 2-.56 2-.5 2-.44 2-.38 3-.48 3-.4 3-.33 3-.27 3-.21 3-.18 3-.15 3-.11 3-.1 3-.07 3-.06 3-.04 3-.04 3-.01h8"/><path d="M-3 25.09l1.4-2.13 1.1-1.54 2.5-3.13 2-2.17 2-1.91 2-1.69 2-1.49 2-1.32 2-1.16 2-1.03 2-.9 2-.8 2-.71 2-.63 2-.56 2-.49 2-.43 3-.56 3-.47 3-.38 3-.33 3-.26 3-.22 3-.19 3-.14 3-.13 3-.1 3-.08 3-.06 3-.05 3-.03h8"/><path d="M-3 26.43l1.4-2.15 1.1-1.57 2.5-3.19 2-2.23 2-1.98 2-1.75 2-1.55 2-1.38 2-1.23 2-1.08 2-.97 2-.86 2-.76 2-.68 2-.61 2-.54 2-.48 3-.62 3-.52 3-.44 3-.37 3-.3 3-.26 3-.21 3-.18 3-.15 3-.12 3-.09 3-.08 3-.07 3-.01h8"/><path d="M-3 27.09l1.4-2.05 1.1-1.5 2.5-3.08 2-2.17 2-1.95 2-1.74 2-1.55 2-1.4 2-1.25 2-1.11 2-1.01 2-.9 2-.81 2-.72 2-.65 2-.59 2-.53 3-.69 3-.59 3-.5 3-.43 3-.36 3-.31 3-.26 3-.22 3-.18 3-.16 3-.13 3-.11 3-.09 3-.05h8"/><path d="M-3 28.6l1.4-2.39 1.1-1.73 2.5-3.52 2-2.46 2-2.16 2-1.92 2-1.69 2-1.5 2-1.32 2-1.18 2-1.04 2-.92 2-.82 2-.72 2-.64 2-.57 2-.51 3-.65 3-.55 3-.46 3-.38 3-.31 3-.27 3-.21 3-.18 3-.15 3-.12 3-.1 3-.07 3-.06h11"/><path d="M-3 29.55l1.4-2.86 1.1-2.05 2.5-4.09 2-2.78 2-2.41 2-2.08 2-1.8 2-1.56 2-1.35 2-1.17 2-1.02 2-.88 2-.76 2-.67 2-.57 2-.5 2-.43 3-.54 3-.44 3-.35 3-.29 3-.23 3-.18 3-.14 3-.12 3-.09 3-.07 3-.05 3-.04 3-.03h11"/><path d="M-3 30.76l1.4-2.39 1.1-1.75 2.5-3.58 2-2.51 2-2.24 2-2 2-1.79 2-1.59 2-1.42 2-1.27 2-1.14 2-1.01 2-.91 2-.81 2-.73 2-.65 2-.59 3-.76 3-.65 3-.55 3-.46 3-.39 3-.34 3-.28 3-.23 3-.2 3-.16 3-.13 3-.11 3-.09 3-.03h8"/><path d="M-3 32.22l1.4-2.68 1.1-1.95 2.5-3.96 2-2.76 2-2.44 2-2.15 2-1.91 2-1.69 2-1.49 2-1.32 2-1.17 2-1.04 2-.93 2-.81 2-.73 2-.64 2-.57 3-.74 3-.62 3-.51 3-.43 3-.36 3-.3 3-.25 3-.2 3-.17 3-.13 3-.11 3-.09 3-.07h11"/><path d="M-3 32.78l1.4-2.56 1.1-1.87 2.5-3.84 2-2.69 2-2.39 2-2.14 2-1.91 2-1.69 2-1.52 2-1.35 2-1.21 2-1.08 2-.96 2-.86 2-.78 2-.68 2-.62 3-.81 3-.68 3-.58 3-.48 3-.42 3-.34 3-.29 3-.25 3-.2 3-.17 3-.14 3-.12 3-.09 3-.06h8"/><path d="M-3 34.22l1.4-2.78 1.1-2.02 2.5-4.12 2-2.88 2-2.55 2-2.26 2-2.01 2-1.78 2-1.59 2-1.41 2-1.25 2-1.11 2-.99 2-.88 2-.79 2-.69 2-.63 3-.8 3-.68 3-.57 3-.48 3-.4 3-.33 3-.28 3-.23 3-.19 3-.16 3-.13 3-.1 3-.09 3-.04h8"/><path d="M-3 35.32l1.4-2.83 1.1-2.06 2.5-4.22 2-2.94 2-2.62 2-2.33 2-2.07 2-1.84 2-1.63 2-1.46 2-1.3 2-1.15 2-1.03 2-.92 2-.82 2-.73 2-.65 3-.85 3-.71 3-.6 3-.51 3-.42 3-.36 3-.3 3-.25 3-.2 3-.17 3-.14 3-.11 3-.09 3-.01h8"/></g><g stroke-opacity=".17" stroke-width="1.2"><path d="M-3 .09l1.4-.01h1.1l2.5-.01h2l2-.01h2l2-.01h2l2-.01h2h2l2-.01h2h2h2l2-.01h2h3h3l3-.01h3h3h3h3h3l3-.01h3h3h3h14"/><path d="M-3 .56l1.4-.03 1.1-.03 2.5-.06 2-.04 2-.03 2-.03 2-.03 2-.03 2-.03 2-.02 2-.02 2-.02 2-.02 2-.01 2-.02 2-.01 2-.01 3-.02 3-.02 3-.01 3-.01 3-.01 3-.01 3-.01 3-.01h3l3-.01h3l3-.01h3h11"/><path d="M-3 .67l1.4-.04 1.1-.03 2.5-.06 2-.04 2-.04 2-.04 2-.04 2-.03 2-.03 2-.03 2-.02 2-.02 2-.03 2-.02 2-.01 2-.02 2-.02 3-.02 3-.02 3-.01 3-.02 3-.01 3-.01 3-.02 3-.01h3l3-.01 3-.01h3l3-.01h11"/><path d="M-3 .53l1.4-.03 1.1-.02 2.5-.05 2-.04 2-.03 2-.03 2-.03 2-.02 2-.03 2-.02 2-.02 2-.02 2-.01 2-.02 2-.01 2-.02 2-.01 3-.02 3-.01 3-.01 3-.02 3-.01 3-.01h3l3-.01 3-.01 3-.01h3l3-.01h3h11"/><path d="M-3 1.29l1.4-.07 1.1-.05 2.5-.11 2-.08 2-.08 2-.07 2-.06 2-.06 2-.05 2-.06 2-.04 2-.05 2-.04 2-.04 2-.03 2-.03 2-.03 3-.05 3-.04 3-.03 3-.03 3-.03 3-.03 3-.02 3-.02 3-.02 3-.02 3-.01 3-.02 3-.01 3-.01h8"/><path d="M-3 1.56l1.4-.09 1.1-.07 2.5-.14 2-.1 2-.1 2-.08 2-.08 2-.08 2-.07 2-.06 2-.06 2-.05 2-.05 2-.05 2-.04 2-.04 2-.03 3-.05 3-.05 3-.04 3-.03 3-.03 3-.03 3-.03 3-.02 3-.02 3-.02 3-.02 3-.01 3-.01 3-.01h8"/><path d="M-3 1.31l1.4-.08 1.1-.06 2.5-.13 2-.09 2-.08 2-.08 2-.07 2-.06 2-.06 2-.05 2-.05 2-.05 2-.04 2-.03 2-.04 2-.03 2-.03 3-.04 3-.04 3-.03 3-.03 3-.02 3-.02 3-.02 3-.02 3-.02 3-.01 3-.01 3-.01 3-.01h11"/><path d="M-3 2.08l1.4-.11 1.1-.09 2.5-.18 2-.13 2-.12 2-.12 2-.1 2-.1 2-.09 2-.08 2-.07 2-.08 2-.06 2-.06 2-.06 2-.05 2-.05 3-.07 3-.07 3-.05 3-.05 3-.05 3-.04 3-.04 3-.03 3-.03 3-.03 3-.02 3-.03 3-.02h3h8"/><path d="M-3 2.28l1.4-.14 1.1-.1 2.5-.2 2-.16 2-.13 2-.13 2-.12 2-.11 2-.1 2-.09 2-.08 2-.08 2-.07 2-.07 2-.06 2-.06 2-.05 3-.08 3-.06 3-.06 3-.05 3-.05 3-.04 3-.04 3-.03 3-.03 3-.03 3-.02 3-.02 3-.02h3h8"/><path d="M-3 2.47l1.4-.11 1.1-.09 2.5-.19 2-.14 2-.13 2-.12 2-.11 2-.11 2-.1 2-.09 2-.09 2-.08 2-.08 2-.07 2-.07 2-.06 2-.07 3-.08 3-.08 3-.08 3-.07 3-.06 3-.06 3-.05 3-.05 3-.05 3-.05 3-.04 3-.03 3-.04 3-.02h8"/><path d="M-3 3.08l1.4-.17 1.1-.12 2.5-.27 2-.19 2-.18 2-.16 2-.15 2-.14 2-.14 2-.12 2-.11 2-.1 2-.1 2-.09 2-.09 2-.08 2-.07 3-.1 3-.09 3-.09 3-.07 3-.07 3-.06 3-.06 3-.05 3-.05 3-.04 3-.04 3-.03 3-.03 3-.02h8"/><path d="M-3 3.77l1.4-.25 1.1-.17 2.5-.38 2-.27 2-.24 2-.23 2-.2 2-.18 2-.17 2-.16 2-.14 2-.13 2-.12 2-.1 2-.1 2-.09 2-.09 3-.11 3-.1 3-.08 3-.08 3-.07 3-.06 3-.05 3-.05 3-.04 3-.03 3-.03 3-.03 3-.02h3h8"/><path d="M-3 3.88l1.4-.2 1.1-.14 2.5-.31 2-.23 2-.21 2-.2 2-.19 2-.17 2-.16 2-.15 2-.14 2-.13 2-.12 2-.12 2-.11 2-.1 2-.09 3-.14 3-.12 3-.11 3-.1 3-.1 3-.09 3-.08 3-.07 3-.07 3-.06 3-.06 3-.05 3-.05 3-.01h8"/><path d="M-3 4.54l1.4-.29 1.1-.21 2.5-.45 2-.33 2-.29 2-.27 2-.24 2-.23 2-.2 2-.18 2-.17 2-.16 2-.14 2-.13 2-.12 2-.11 2-.1 3-.13 3-.12 3-.11 3-.09 3-.08 3-.07 3-.06 3-.06 3-.04 3-.05 3-.03 3-.03 3-.03 3-.02h8"/><path d="M-3 5.34l1.4-.36 1.1-.27 2.5-.55 2-.39 2-.36 2-.32 2-.3 2-.26 2-.25 2-.22 2-.2 2-.18 2-.16 2-.15 2-.14 2-.12 2-.12 3-.15 3-.13 3-.12 3-.1 3-.09 3-.07 3-.07 3-.06 3-.05 3-.04 3-.04 3-.03 3-.03 3-.01h8"/><path d="M-3 5.58l1.4-.36 1.1-.26 2.5-.56 2-.4 2-.37 2-.33 2-.3 2-.28 2-.25 2-.23 2-.21 2-.19 2-.17 2-.16 2-.15 2-.13 2-.12 3-.17 3-.14 3-.13 3-.11 3-.1 3-.09 3-.08 3-.06 3-.06 3-.05 3-.04 3-.04 3-.03 3-.01h8"/><path d="M-3 6.62l1.4-.54 1.1-.39 2.5-.8 2-.55 2-.5 2-.44 2-.39 2-.34 2-.31 2-.27 2-.24 2-.22 2-.19 2-.17 2-.15 2-.14 2-.12 3-.15 3-.13 3-.11 3-.09 3-.08 3-.07 3-.05 3-.04 3-.04 3-.03 3-.02 3-.02 3-.02 3-.01h8"/><path d="M-3 7.03l1.4-.47 1.1-.35 2.5-.72 2-.51 2-.47 2-.42 2-.39 2-.34 2-.32 2-.29 2-.26 2-.24 2-.22 2-.2 2-.18 2-.17 2-.15 3-.2 3-.17 3-.16 3-.13 3-.12 3-.1 3-.09 3-.08 3-.07 3-.06 3-.05 3-.04 3-.03 3-.03h8"/><path d="M-3 7.7l1.4-.62 1.1-.46 2.5-.93 2-.65 2-.58 2-.51 2-.45 2-.41 2-.35 2-.32 2-.28 2-.25 2-.22 2-.2 2-.18 2-.16 2-.14 3-.18 3-.15 3-.13 3-.1 3-.09 3-.08 3-.06 3-.05 3-.04 3-.04 3-.03 3-.02 3-.02h3h8"/><path d="M-3 7.95l1.4-.59 1.1-.44 2.5-.9 2-.63 2-.57 2-.5 2-.46 2-.41 2-.36 2-.33 2-.3 2-.26 2-.24 2-.21 2-.2 2-.17 2-.16 3-.2 3-.18 3-.15 3-.13 3-.1 3-.1 3-.08 3-.06 3-.06 3-.05 3-.04 3-.03 3-.03 3-.01h8"/><path d="M-3 8.66l1.4-.69 1.1-.51 2.5-1.03 2-.72 2-.64 2-.57 2-.5 2-.46 2-.4 2-.35 2-.32 2-.28 2-.26 2-.22 2-.2 2-.18 2-.16 3-.21 3-.18 3-.15 3-.12 3-.11 3-.08 3-.08 3-.06 3-.05 3-.04 3-.04 3-.02 3-.03h3h8"/><path d="M-3 9.75l1.4-.84 1.1-.61 2.5-1.24 2-.85 2-.75 2-.66 2-.58 2-.52 2-.45 2-.4 2-.35 2-.31 2-.27 2-.24 2-.21 2-.19 2-.16 3-.21 3-.18 3-.15 3-.12 3-.1 3-.08 3-.06 3-.06 3-.04 3-.04 3-.03 3-.02 3-.02 3-.01h8"/><path d="M-3 10.17l1.4-.79 1.1-.58 2.5-1.19 2-.83 2-.74 2-.66 2-.59 2-.53 2-.47 2-.42 2-.38 2-.33 2-.3 2-.27 2-.24 2-.22 2-.19 3-.25 3-.21 3-.18 3-.16 3-.13 3-.11 3-.09 3-.07 3-.07 3-.05 3-.05 3-.03 3-.03 3-.01h8"/><path d="M-3 11.17l1.4-.8 1.1-.59 2.5-1.21 2-.87 2-.78 2-.69 2-.64 2-.56 2-.52 2-.46 2-.41 2-.38 2-.34 2-.31 2-.28 2-.25 2-.23 3-.3 3-.27 3-.22 3-.2 3-.16 3-.15 3-.12 3-.11 3-.09 3-.07 3-.07 3-.05 3-.04h11"/><path d="M-3 12.21l1.4-.96 1.1-.7 2.5-1.44 2-1.01 2-.89 2-.8 2-.71 2-.63 2-.57 2-.5 2-.45 2-.4 2-.36 2-.32 2-.29 2-.25 2-.23 3-.3 3-.25 3-.21 3-.18 3-.16 3-.12 3-.11 3-.09 3-.08 3-.06 3-.05 3-.04 3-.03 3-.02h8"/><path d="M-3 12.79l1.4-.92 1.1-.68 2.5-1.39 2-1 2-.89 2-.8 2-.73 2-.65 2-.58 2-.53 2-.48 2-.43 2-.39 2-.35 2-.31 2-.29 2-.26 3-.34 3-.3 3-.25 3-.22 3-.19 3-.16 3-.13 3-.12 3-.1 3-.09 3-.07 3-.06 3-.05 3-.03h8"/><path d="M-3 13.51l1.4-1.01 1.1-.74 2.5-1.52 2-1.08 2-.96 2-.87 2-.77 2-.69 2-.63 2-.55 2-.51 2-.45 2-.4 2-.37 2-.32 2-.3 2-.26 3-.35 3-.3 3-.26 3-.21 3-.19 3-.16 3-.13 3-.11 3-.1 3-.08 3-.07 3-.05 3-.05 3-.02h8"/><path d="M-3 14.11l1.4-1.1 1.1-.8 2.5-1.65 2-1.16 2-1.03 2-.92 2-.82 2-.73 2-.66 2-.58 2-.52 2-.47 2-.41 2-.38 2-.33 2-.3 2-.27 3-.35 3-.29 3-.25 3-.22 3-.18 3-.15 3-.13 3-.1 3-.09 3-.08 3-.06 3-.05 3-.03h11"/><path d="M-3 15l1.4-1.3 1.1-.93 2.5-1.9 2-1.32 2-1.15 2-1.02 2-.89 2-.79 2-.7 2-.61 2-.54 2-.47 2-.42 2-.37 2-.33 2-.29 2-.25 3-.33 3-.27 3-.22 3-.19 3-.15 3-.13 3-.1 3-.09 3-.06 3-.06 3-.04 3-.04 3-.03 3-.01h8"/><path d="M-3 15.97l1.4-1.2 1.1-.88 2.5-1.8 2-1.28 2-1.14 2-1.02 2-.91 2-.82 2-.74 2-.66 2-.59 2-.53 2-.48 2-.43 2-.39 2-.34 2-.31 3-.42 3-.35 3-.3 3-.25 3-.22 3-.18 3-.16 3-.13 3-.11 3-.1 3-.08 3-.06 3-.06 3-.03h8"/><path d="M-3 17.37l1.4-1.46 1.1-1.05 2.5-2.15 2-1.5 2-1.32 2-1.16 2-1.03 2-.91 2-.81 2-.71 2-.63 2-.55 2-.5 2-.44 2-.38 2-.35 2-.3 3-.39 3-.33 3-.27 3-.23 3-.19 3-.16 3-.13 3-.1 3-.09 3-.07 3-.06 3-.05 3-.03 3-.02h8"/></g><g stroke-opacity=".20" stroke-width="1.2"><path d="M-3 0h83"/><path d="M-3 0h83"/></g></g>
<path d="M1347.1 683.1L1353.3 687.8L1359.6 692.4L1365.8 696.8L1372 701L1378.3 705.2L1384.5 709.2L1390.7 713L1397 716.8L1403.2 720.4L1409.4 723.8L1415.6 727.1L1421.9 730.1L1428.1 732.9L1434.3 735.5L1440.6 738L1446.8 740.4L1453 742.6L1459.2 744.8L1465.5 746.9L1471.7 748.8L1477.9 750.5L1484.2 752L1490.4 753.4L1496.6 754.7L1502.9 756L1509.1 757.3L1515.3 758.5L1521.5 759.7L1527.8 760.8L1534 761.7L1540.2 762.7L1546.5 763.6L1552.7 764.4L1558.9 765.3L1565.2 766.1L1571.4 766.8L1577.6 767.5L1583.8 768.2L1590.1 768.8L1596.3 769.4L1602.5 770L1608.8 770.5L1615 771.1L1621.2 771.6L1627.5 772.1L1633.7 772.5L1639.9 772.9L1646.2 773.4L1652.4 773.8L1658.6 774.1L1664.8 774.5L1671.1 774.9L1677.3 775.2L1683.5 775.5L1689.8 775.8L1696 776.1L1702.2 776.4L1708.5 776.6L1714.7 776.9L1720.9 777.1L1727.1 777.3L1733.4 777.5L1739.6 777.6L1745.8 777.7L1752.1 777.8L1758.3 777.9L1764.5 778L1770.8 778L1777 778.1L1783.2 778.1L1789.4 778.1L1864.2 778.1" fill="none" stroke="#b5ee60" stroke-width="8.5" stroke-linejoin="round"/>
<g class="t" transform="translate(169.8 1155.9) scale(6.23 -5.11)" stroke="#e07a2a"><g stroke-opacity=".14" stroke-width="2.0"><path d="M-4 36h4l1-1.54 1-1.48 2-2.77 2-2.57 2-2.39 2-2.22 2-2.08 2-1.94 2-1.82 2-1.71 2-1.61 2-1.51 2-1.42 2-1.33 2-1.24 2-1.17 3-1.61 3-1.45 3-1.3 3-1.16 3-1.03 3-.65h32"/><path d="M-4 34h4l1-1.6 1-1.53 2-2.86 2-2.61 2-2.39 2-2.2 2-2.03 2-1.87 2-1.73 2-1.59 2-1.48 2-1.37 2-1.26 2-1.16 2-1.08 2-.99 3-1.34 3-1.18 3-1.03 3-.89 3-.78 3-.66 3-.37h29"/><path d="M-4 31.2h4l1-1.39 1-1.33 2-2.49 2-2.29 2-2.12 2-1.97 2-1.83 2-1.7 2-1.59 2-1.48 2-1.38 2-1.29 2-1.21 2-1.12 2-1.05 2-.97 3-1.34 3-1.19 3-1.06 3-.93 3-.82 3-.65h32"/><path d="M-2 22h2l1-.98 1-.94 2-1.77 2-1.62 2-1.5 2-1.39 2-1.28 2-1.2 2-1.11 2-1.04 2-.97 2-.9 2-.84 2-.78 2-.73 2-.68 3-.92 3-.83 3-.73 3-.64 3-.56 3-.49 3-.1h29"/><path d="M-4 19.9h4l1-.89 1-.86 2-1.6 2-1.47 2-1.36 2-1.26 2-1.17 2-1.09 2-1.02 2-.94 2-.89 2-.82 2-.77 2-.71 2-.67 2-.62 3-.85 3-.75 3-.67 3-.59 3-.52 3-.38h32"/><path d="M-4 16.8h4l1-.69 1-.65 2-1.25 2-1.15 2-1.08 2-1.01 2-.95 2-.89 2-.84 2-.79 2-.75 2-.71 2-.67 2-.63 2-.59 2-.57 3-.78 3-.7 3-.65 3-.57 3-.52 3-.36h32"/><path d="M-4 15.2h4l1-.72 1-.68 2-1.28 2-1.17 2-1.07 2-.99 2-.91 2-.84 2-.78 2-.73 2-.67 2-.62 2-.57 2-.53 2-.49 2-.46 3-.61 3-.54 3-.48 3-.41 3-.35 3-.3h32"/><path d="M-2 13.6h2l1-.57 1-.55 2-1.03 2-.95 2-.88 2-.82 2-.77 2-.72 2-.68 2-.63 2-.59 2-.55 2-.53 2-.49 2-.45 2-.43 3-.6 3-.53 3-.48 3-.43 3-.38 3-.33 3-.21h29"/><path d="M-4 12.2h4l1-.54 1-.51 2-.97 2-.89 2-.82 2-.76 2-.71 2-.65 2-.62 2-.57 2-.53 2-.5 2-.47 2-.43 2-.41 2-.37 3-.52 3-.46 3-.41 3-.36 3-.31 3-.28 3-.11h29"/><path d="M-4 11h4l1-.41 1-.39 2-.75 2-.7 2-.66 2-.62 2-.6 2-.56 2-.54 2-.51 2-.49 2-.47 2-.44 2-.43 2-.41 2-.39 3-.55 3-.51 3-.47 3-.43 3-.4 3-.27h32"/><path d="M-4 10h4l1-.47 1-.45 2-.85 2-.76 2-.71 2-.65 2-.59 2-.55 2-.51 2-.47 2-.44 2-.4 2-.37 2-.34 2-.31 2-.29 3-.4 3-.34 3-.3 3-.26 3-.23 3-.19 3-.12h29"/><path d="M-2 9.2h2l1-.29 1-.28 2-.55 2-.51 2-.49 2-.48 2-.45 2-.44 2-.43 2-.41 2-.4 2-.39 2-.39 2-.37 2-.36 2-.35 3-.51 3-.48 3-.46 3-.44 3-.41 3-.31h32"/><path d="M-4 8.6h4l1-.32 1-.31 2-.6 2-.55 2-.52 2-.48 2-.47 2-.43 2-.42 2-.39 2-.38 2-.35 2-.34 2-.32 2-.31 2-.29 3-.41 3-.38 3-.34 3-.32 3-.29 3-.26 3-.12h29"/><path d="M-4 8h4l1-.31 1-.29 2-.56 2-.52 2-.49 2-.46 2-.44 2-.41 2-.39 2-.37 2-.35 2-.34 2-.32 2-.3 2-.29 2-.27 3-.39 3-.35 3-.33 3-.29 3-.27 3-.24 3-.02h29"/><path d="M-4 7.4h4l1-.31 1-.3 2-.56 2-.52 2-.48 2-.45 2-.42 2-.39 2-.37 2-.35 2-.32 2-.31 2-.29 2-.27 2-.25 2-.24 3-.33 3-.29 3-.27 3-.24 3-.21 3-.19 3-.04h29"/><path d="M-2 6.8h2l1-.33 1-.31 2-.58 2-.53 2-.49 2-.44 2-.41 2-.38 2-.35 2-.32 2-.3 2-.28 2-.25 2-.23 2-.22 2-.2 3-.27 3-.23 3-.21 3-.17 3-.16 3-.13 3-.01h29"/><path d="M-4 6.1h4l1-.25 1-.24 2-.44 2-.42 2-.39 2-.36 2-.34 2-.32 2-.3 2-.29 2-.26 2-.26 2-.23 2-.23 2-.21 2-.2 3-.27 3-.25 3-.23 3-.2 3-.19 3-.16 3-.06h29"/><path d="M-4 5.5h4l1-.16 1-.16 2-.31 2-.3 2-.28 2-.27 2-.26 2-.25 2-.25 2-.24 2-.24 2-.23 2-.22 2-.22 2-.21 2-.21 3-.31 3-.29 3-.28 3-.27 3-.26 3-.24 3-.04h29"/><path d="M-4 5h4l1-.19 1-.18 2-.34 2-.32 2-.3 2-.29 2-.27 2-.25 2-.25 2-.23 2-.22 2-.2 2-.2 2-.19 2-.18 2-.18 3-.24 3-.22 3-.2 3-.19 3-.17 3-.16 3-.03h29"/><path d="M-2 4.4h2l1-.14 1-.14 2-.26 2-.25 2-.24 2-.23 2-.21 2-.21 2-.2 2-.19 2-.19 2-.18 2-.18 2-.17 2-.16 2-.16 3-.23 3-.21 3-.2 3-.19 3-.18 3-.17 3-.11h29"/><path d="M-4 3.9h4l1-.14 1-.13 2-.26 2-.24 2-.23 2-.22 2-.2 2-.2 2-.18 2-.18 2-.17 2-.16 2-.16 2-.15 2-.14 2-.14 3-.2 3-.18 3-.16 3-.16 3-.14 3-.13 3-.03h29"/><path d="M-4 3.4h4l1-.1 1-.1 2-.19 2-.18 2-.17 2-.17 2-.16 2-.15 2-.15 2-.15 2-.14 2-.14 2-.14 2-.13 2-.13 2-.12 3-.19 3-.17 3-.17 3-.16 3-.15 3-.14 3-.1h29"/><path d="M-4 2.9h4l1-.09 1-.09 2-.18 2-.16 2-.16 2-.15 2-.14 2-.14 2-.13 2-.13 2-.13 2-.12 2-.12 2-.12 2-.11 2-.1 3-.16 3-.15 3-.14 3-.13 3-.13 3-.11 3-.01h29"/><path d="M-2 2.3h2l1-.08 1-.08 2-.15 2-.14 2-.13 2-.12 2-.12 2-.12 2-.11 2-.1 2-.11 2-.09 2-.1 2-.09 2-.09 2-.08 3-.12 3-.11 3-.11 3-.09 3-.09 3-.07h32"/><path d="M-4 1.8h4l1-.07 1-.06 2-.13 2-.12 2-.11 2-.1 2-.1 2-.09 2-.09 2-.08 2-.08 2-.08 2-.07 2-.07 2-.07 2-.06 3-.09 3-.08 3-.08 3-.06 3-.07 3-.04h32"/><path d="M-4 1.3h4l1-.03 1-.04 2-.06 2-.07 2-.06 2-.06 2-.05 2-.06 2-.06 2-.05 2-.06 2-.05 2-.06 2-.05 2-.05 2-.06 3-.08 3-.07 3-.08 3-.07 3-.08 3-.05h32"/><path d="M-4 .8h4l1-.02 1-.02 2-.05 2-.04 2-.04 2-.03 2-.04 2-.04 2-.03 2-.04 2-.03 2-.03 2-.03 2-.04 2-.03 2-.03 3-.04 3-.05 3-.04 3-.04 3-.04 3-.04 3-.01h29"/><path d="M-2 .4h2l1-.01 1-.02 2-.02 2-.03 2-.02 2-.02 2-.02 2-.02 2-.02 2-.02 2-.02 2-.01 2-.02 2-.01 2-.02 2-.01 3-.03 3-.02 3-.01 3-.02 3-.02 3-.01h32"/><path d="M-4 .15h4l1-.01h1l2-.01 2-.01 2-.01 2-.01 2-.01h2l2-.01 2-.01h2l2-.01 2-.01h2l2-.01h2l3-.01 3-.01h3l3-.01 3-.01h3h32"/><path d="M-4 0h84"/></g><g stroke-opacity=".30" stroke-width="1.2"><path d="M-4 36h4l1-1.59 1-1.52 2-2.85 2-2.63 2-2.43 2-2.27 2-2.11 2-1.97 2-1.84 2-1.72 2-1.61 2-1.51 2-1.42 2-1.32 2-1.24 2-1.15 3-1.59 3-1.41 3-1.27 3-1.11 3-.99 3-.45h32"/><path d="M-4 34h4l1-1.65 1-1.57 2-2.93 2-2.67 2-2.45 2-2.24 2-2.05 2-1.89 2-1.74 2-1.61 2-1.48 2-1.36 2-1.25 2-1.16 2-1.06 2-.98 3-1.31 3-1.14 3-1 3-.86 3-.73 3-.63 3-.24h29"/><path d="M-4 31.2h4l1-1.43 1-1.37 2-2.56 2-2.34 2-2.17 2-2 2-1.86 2-1.72 2-1.6 2-1.49 2-1.39 2-1.29 2-1.2 2-1.12 2-1.03 2-.96 3-1.31 3-1.17 3-1.02 3-.9 3-.78 3-.49h32"/><path d="M-2 22h2l1-1.01 1-.97 2-1.81 2-1.66 2-1.53 2-1.42 2-1.3 2-1.21 2-1.13 2-1.04 2-.97 2-.9 2-.84 2-.78 2-.72 2-.66 3-.91 3-.81 3-.7 3-.62 3-.54 3-.46 3-.01h29"/><path d="M-4 19.9h4l1-.92 1-.88 2-1.64 2-1.51 2-1.39 2-1.28 2-1.19 2-1.1 2-1.03 2-.95 2-.88 2-.83 2-.76 2-.71 2-.66 2-.61 3-.83 3-.74 3-.65 3-.56 3-.5 3-.28h32"/><path d="M-4 16.8h4l1-.71 1-.67 2-1.28 2-1.19 2-1.1 2-1.03 2-.96 2-.9 2-.85 2-.8 2-.76 2-.7 2-.67 2-.63 2-.59 2-.56 3-.77 3-.69 3-.63 3-.56 3-.49 3-.26h32"/><path d="M-4 15.2h4l1-.74 1-.7 2-1.31 2-1.2 2-1.09 2-1.01 2-.92 2-.86 2-.78 2-.73 2-.67 2-.62 2-.57 2-.53 2-.48 2-.45 3-.6 3-.52 3-.46 3-.4 3-.33 3-.23h32"/><path d="M-2 13.6h2l1-.59 1-.56 2-1.06 2-.97 2-.9 2-.84 2-.78 2-.73 2-.68 2-.64 2-.59 2-.56 2-.52 2-.49 2-.45 2-.43 3-.58 3-.52 3-.47 3-.41 3-.37 3-.32 3-.14h29"/><path d="M-4 12.2h4l1-.55 1-.53 2-.99 2-.91 2-.84 2-.78 2-.72 2-.66 2-.62 2-.58 2-.53 2-.5 2-.46 2-.44 2-.4 2-.37 3-.5 3-.45 3-.4 3-.35 3-.3 3-.26 3-.06h29"/><path d="M-4 11h4l1-.42 1-.41 2-.76 2-.72 2-.68 2-.63 2-.61 2-.57 2-.54 2-.52 2-.49 2-.47 2-.45 2-.43 2-.41 2-.38 3-.55 3-.5 3-.46 3-.42 3-.39 3-.19h32"/><path d="M-4 10h4l1-.49 1-.46 2-.86 2-.79 2-.72 2-.66 2-.61 2-.55 2-.51 2-.48 2-.43 2-.4 2-.37 2-.34 2-.31 2-.28 3-.39 3-.33 3-.29 3-.25 3-.22 3-.18 3-.08h29"/><path d="M-2 9.2h2l1-.3 1-.29 2-.56 2-.53 2-.5 2-.48 2-.47 2-.45 2-.43 2-.42 2-.4 2-.4 2-.38 2-.38 2-.36 2-.35 3-.5 3-.49 3-.45 3-.43 3-.4 3-.23h32"/><path d="M-4 8.6h4l1-.33 1-.32 2-.61 2-.57 2-.53 2-.49 2-.47 2-.45 2-.42 2-.39 2-.38 2-.36 2-.34 2-.32 2-.31 2-.29 3-.4 3-.37 3-.34 3-.31 3-.28 3-.25 3-.07h29"/><path d="M-4 8h4l1-.32 1-.3 2-.57 2-.54 2-.5 2-.47 2-.44 2-.42 2-.39 2-.38 2-.35 2-.34 2-.32 2-.3 2-.29 2-.27 3-.38 3-.35 3-.32 3-.28 3-.26 3-.21h32"/><path d="M-4 7.4h4l1-.32 1-.3 2-.58 2-.53 2-.49 2-.46 2-.43 2-.4 2-.37 2-.35 2-.33 2-.3 2-.29 2-.27 2-.25 2-.24 3-.32 3-.29 3-.26 3-.23 3-.21 3-.18h3h29"/><path d="M-2 6.8h2l1-.34 1-.32 2-.59 2-.55 2-.49 2-.46 2-.41 2-.38 2-.36 2-.32 2-.3 2-.27 2-.26 2-.23 2-.21 2-.2 3-.26 3-.23 3-.19 3-.17 3-.15 3-.11h32"/><path d="M-4 6.1h4l1-.25 1-.25 2-.46 2-.43 2-.39 2-.37 2-.35 2-.32 2-.31 2-.28 2-.27 2-.26 2-.23 2-.23 2-.21 2-.19 3-.27 3-.25 3-.22 3-.2 3-.17 3-.16 3-.03h29"/><path d="M-4 5.5h4l1-.17 1-.16 2-.32 2-.3 2-.29 2-.28 2-.26 2-.26 2-.25 2-.25 2-.24 2-.23 2-.22 2-.23 2-.21 2-.21 3-.31 3-.29 3-.28 3-.26 3-.25 3-.23h32"/><path d="M-4 5h4l1-.19 1-.19 2-.35 2-.33 2-.31 2-.29 2-.27 2-.26 2-.25 2-.23 2-.22 2-.21 2-.2 2-.19 2-.18 2-.17 3-.24 3-.22 3-.2 3-.18 3-.17 3-.15h3h29"/><path d="M-2 4.4h2l1-.15 1-.14 2-.27 2-.25 2-.25 2-.23 2-.22 2-.21 2-.2 2-.2 2-.19 2-.18 2-.18 2-.17 2-.16 2-.16 3-.23 3-.21 3-.2 3-.19 3-.17 3-.16 3-.08h29"/><path d="M-4 3.9h4l1-.14 1-.14 2-.27 2-.24 2-.24 2-.22 2-.21 2-.19 2-.19 2-.18 2-.18 2-.16 2-.16 2-.15 2-.14 2-.14 3-.19 3-.18 3-.16 3-.15 3-.14 3-.13h3h29"/><path d="M-4 3.4h4l1-.1 1-.11 2-.19 2-.19 2-.17 2-.17 2-.16 2-.16 2-.16 2-.14 2-.15 2-.14 2-.13 2-.14 2-.13 2-.12 3-.19 3-.17 3-.17 3-.15 3-.15 3-.14 3-.07h29"/><path d="M-4 2.9h4l1-.1 1-.09 2-.18 2-.17 2-.16 2-.15 2-.15 2-.14 2-.13 2-.13 2-.13 2-.12 2-.12 2-.12 2-.11 2-.11 3-.15 3-.15 3-.14 3-.13 3-.12 3-.1h32"/><path d="M-2 2.3h2l1-.08 1-.08 2-.16 2-.14 2-.13 2-.13 2-.12 2-.12 2-.11 2-.11 2-.1 2-.1 2-.1 2-.09 2-.08 2-.09 3-.12 3-.11 3-.1 3-.09 3-.09 3-.05h32"/><path d="M-4 1.8h4l1-.07 1-.07 2-.13 2-.12 2-.11 2-.11 2-.1 2-.09 2-.09 2-.08 2-.09 2-.07 2-.07 2-.07 2-.07 2-.06 3-.09 3-.08 3-.07 3-.07 3-.06 3-.03h32"/><path d="M-4 1.3h4l1-.04 1-.03 2-.07 2-.06 2-.06 2-.06 2-.06 2-.06 2-.06 2-.05 2-.06 2-.06 2-.05 2-.06 2-.05 2-.05 3-.08 3-.08 3-.08 3-.07 3-.07 3-.04h32"/><path d="M-4 .8h4l1-.02 1-.03 2-.04 2-.04 2-.04 2-.04 2-.04 2-.03 2-.04 2-.03 2-.04 2-.03 2-.03 2-.04 2-.03 2-.03 3-.04 3-.05 3-.04 3-.04 3-.04 3-.04h3h29"/><path d="M-2 .4h2l1-.01 1-.02 2-.02 2-.03 2-.02 2-.02 2-.02 2-.02 2-.02 2-.02 2-.02 2-.02 2-.01 2-.02 2-.01 2-.02 3-.02 3-.02 3-.02 3-.01 3-.02 3-.01h32"/><path d="M-4 .15h4l1-.01h1l2-.01 2-.01 2-.01 2-.01 2-.01h2l2-.01 2-.01 2-.01h2l2-.01h2l2-.01h2l3-.01 3-.01 3-.01h3l3-.01h3h32"/><path d="M-4 0h84"/></g></g>
<path d="M144.9 1114L157.3 1118L169.8 1118L176 1120.2L182.3 1122.3L188.5 1124.3L194.7 1126.2L201 1127.9L207.2 1129.6L213.4 1131.2L219.6 1132.8L225.9 1134.1L232.1 1135.4L238.3 1136.5L244.6 1137.5L250.8 1138.5L257 1139.5L263.2 1140.5L269.5 1141.5L275.7 1142.4L281.9 1143.2L288.2 1144L294.4 1144.8L300.6 1145.5L306.9 1146.2L313.1 1146.8L319.3 1147.4L325.6 1147.9L331.8 1148.5L338 1149L344.2 1149.6L350.5 1150.2L356.7 1150.7L362.9 1151.2L369.2 1151.7L375.4 1152.1L381.6 1152.5L387.9 1152.9L394.1 1153.3L400.3 1153.6L406.5 1153.9L412.8 1154.2L419 1154.6L425.2 1154.9L431.5 1155.2L437.7 1155.5L443.9 1155.6L450.2 1155.7L456.4 1155.8L462.6 1155.8L468.8 1155.9L668.2 1155.9" fill="none" stroke="#dd7325" stroke-width="8.5" stroke-linejoin="round"/>
<g class="t" transform="translate(768.1 1155.9) scale(6.23 -5.11)" stroke="#e07a2a"><g stroke-opacity=".03" stroke-width="3.0"><path d="M-2 58h1h1h1h1h1h1l1-5.04h1l1-1.8 1-4.03h1h1l1-4.22 1-3.02 1-1.42 1-2.91 1-1.28 1-1.23 2-2.38 2-2.25 2-2.14 2-2.05 2-1.95 2-1.87 2-1.8 2-1.72 2-1.65 2-1.58 2-1.52 2-1.45 2-1.39 2-1.33 2-1.27 2-1.21 2-1.15 2-1.1 2-1.03 2-.98 2-.93 2-.3h20"/><path d="M-3 55.5h1h1h1l1-5.52h1h1l1-3.59h1h1l1-3.88 1-3.2h1h1l1-4.21 1-1.4 1-1.35 1-1.3 1-1.26 1-1.22 2-2.31 2-2.17 2-2.04 2-1.93 2-1.82 2-1.73 2-1.63 2-1.55 2-1.47 2-1.39 2-1.32 2-1.25 2-1.17 2-1.11 2-1.04 2-.98 2-.92 2-.86 2-.8 2-.74 2-.34h22"/></g><g stroke-opacity=".04" stroke-width="2.0"><path d="M-2 58h1l1-3.04h1l1-4.28h1h1l1-3.82 1-3.61 1-2.02h1h1h1l1-1.51 1-1.45 1-1.4 1-3.88 1-1.22 1-1.19 2-2.26 2-2.15 2-2.03 2-1.94 2-1.84 2-1.77 2-1.68 2-1.62 2-1.54 2-1.48 2-1.41 2-1.35 2-1.28 2-1.23 2-1.16 2-1.11 2-1.05 2-1 2-.93 2-.89 2-.83 2-.03h20"/><path d="M-3 55.5h1h1h1h1l1-1.98h1h1l1-2.54h1l1-4.24 1-3.73 1-1.66 1-3.57 1-1.56 1-1.49 1-1.44 1-1.38 1-1.33 1-1.29 2-2.44 2-2.29 2-2.14 2-2.02 2-1.91 2-1.8 2-1.7 2-1.61 2-1.52 2-1.43 2-1.35 2-1.28 2-1.19 2-1.13 2-1.06 2-.98 2-.92 2-.86 2-.8 2-.73 2-.13h22"/></g><g stroke-opacity=".06" stroke-width="3.0"><path d="M-3 42.6h1h1l1-2.26 1-2.79h1h1l1-3.15 1-3.09h1l1-2.22h1h1l1-2.06 1-1.32 1-1.26 1-3.08 1-1.06 1-1 1-.96 2-1.8 2-1.65 2-1.52 2-1.4 2-1.29 2-1.19 2-1.09 2-1.02 2-.93 2-.86 2-.79 2-.73 2-.67 2-.61 2-.56 2-.5 2-.46 2-.42 2-.38 2-.33 2-.15h22"/><path d="M-3 38.5h1h1h1h1h1l1-3.67h1l1-3.34h1h1h1l1-2.99 1-1 1-3.6 1-1.69 1-.88 1-2.89 1-.74 1-.72 2-1.36 2-1.28 2-1.21 2-1.13 2-1.07 2-1.02 2-.96 2-.91 2-.86 2-.82 2-.77 2-.72 2-.69 2-.65 2-.61 2-.57 2-.53 2-.51 2-.46 2-.44 2-.4 2-.01h20"/><path d="M-3 36h1h1l1-3.04h1h1l1-1.28 1-2.84h1h1l1-1.85h1l1-.89h1l1-.97 1-.92 1-.9 1-2.02 1-.8 1-.78 2-1.48 2-1.41 2-1.34 2-1.27 2-1.22 2-1.17 2-1.12 2-1.07 2-1.03 2-.98 2-.94 2-.9 2-.87 2-.82 2-.78 2-.74 2-.71 2-.67 2-.63 2-.56h24"/><path d="M-2 33.5h1h1h1l1-2.04h1h1h1h1h1l1-2.42h1h1l1-1.23 1-1.19 1-2.11 1-2.98 1-.93 1-.89 2-1.69 2-1.57 2-1.47 2-1.37 2-1.29 2-1.2 2-1.13 2-1.06 2-.99 2-.93 2-.87 2-.82 2-.76 2-.71 2-.66 2-.62 2-.57 2-.52 2-.49 2-.45 2-.41 2-.13h20"/><path d="M-3 31h1h1l1-2.54 1-2.74h1h1h1l1-1.29 1-.77h1h1l1-.73 1-.92 1-2.86 1-2.11 1-.66 1-1.44 1-.58 1-.57 2-1.08 2-1.01 2-.96 2-.91 2-.86 2-.82 2-.78 2-.74 2-.7 2-.67 2-.63 2-.61 2-.57 2-.54 2-.51 2-.48 2-.45 2-.42 2-.4 2-.37 2-.28h22"/><path d="M-3 29h1h1l1-1.6h1l1-2.22h1l1-1.23h1l1-2.06 1-1.68h1h1l1-1.45 1-.93 1-.87 1-1.99 1-1.22 1-.69 1-.65 2-1.22 2-1.11 2-1.03 2-.94 2-.87 2-.8 2-.73 2-.68 2-.62 2-.57 2-.53 2-.48 2-.44 2-.4 2-.37 2-.34 2-.3 2-.27 2-.25 2-.22 2-.2 2-.04h20"/><path d="M-3 27.5h1h1l1-1.52h1h1l1-.98h1l1-2.31h1h1h1l1-1.92h1l1-.86 1-.83 1-.8 1-.77 1-.74 1-.71 2-1.36 2-1.27 2-1.18 2-1.12 2-1.06 2-.99 2-.94 2-.89 2-.83 2-.79 2-.74 2-.7 2-.66 2-.61 2-.58 2-.54 2-.5 2-.47 2-.43 2-.4h2h22"/><path d="M-3 26h1h1h1l1-1.54h1h1h1h1l1-1.39h1l1-.88h1h1l1-1 1-.96 1-.91 1-.88 1-.84 1-.81 2-1.53 2-1.41 2-1.32 2-1.22 2-1.14 2-1.07 2-.99 2-.93 2-.86 2-.81 2-.75 2-.7 2-.65 2-.6 2-.56 2-.51 2-.47 2-.43 2-.4 2-.36 2-.08h22"/><path d="M-2 24.5h1l1-.75h1l1-.74h1h1l1-1.12 1-1.05 1-.87h1l1-1.32h1l1-.83 1-.79 1-.76 1-.72 1-.7 1-.67 2-1.27 2-1.17 2-1.09 2-1.01 2-.95 2-.88 2-.83 2-.77 2-.72 2-.67 2-.63 2-.58 2-.54 2-.5 2-.47 2-.43 2-.4 2-.36 2-.33 2-.31 2-.27h22"/><path d="M-3 23h1h1h1l1-1.85 1-1.44h1h1h1h1l1-.61h1h1l1-1.43 1-1.76 1-.56 1-1.34 1-.49 1-.48 1-.46 2-.89 2-.85 2-.81 2-.78 2-.75 2-.72 2-.69 2-.66 2-.64 2-.62 2-.6 2-.57 2-.55 2-.53 2-.51 2-.48 2-.46 2-.44 2-.42 2-.4 2-.21h22"/><path d="M-3 22h1h1l1-1.19h1h1h1h1l1-1.79 1-1.04 1-1.56h1h1h1l1-.58 1-1.58 1-1.87 1-.45 1-.43 1-.41 2-.81 2-.76 2-.73 2-.7 2-.67 2-.65 2-.62 2-.6 2-.57 2-.56 2-.53 2-.52 2-.49 2-.47 2-.45 2-.43 2-.42 2-.39 2-.37 2-.35 2-.01h22"/><path d="M-3 21h1h1l1-1.56 1-1.04h1l1-.75h1h1l1-1.17 1-.62 1-.89 1-1.05 1-.5 1-1.13 1-.48 1-1.33 1-.41 1-.4 1-.39 2-.74 2-.69 2-.65 2-.61 2-.58 2-.55 2-.52 2-.5 2-.47 2-.44 2-.42 2-.4 2-.38 2-.35 2-.34 2-.31 2-.3 2-.28 2-.25 2-.25 2-.22 2-.03h20"/><path d="M-3 20.2h1h1h1h1l1-.78h1h1l1-1.22 1-1.49h1l1-.77 1-1.07h1l1-1.25 1-.61 1-.58 1-.55 1-.54 1-.51 2-.97 2-.9 2-.83 2-.78 2-.73 2-.68 2-.63 2-.6 2-.55 2-.52 2-.48 2-.45 2-.42 2-.39 2-.36 2-.33 2-.31 2-.28 2-.26 2-.23 2-.13h22"/><path d="M-2 19.5h1l1-.89h1h1h1l1-.66 1-1.32 1-1.14h1h1h1h1l1-1.72 1-.52 1-.51 1-.9 1-.46 1-.44 2-.84 2-.8 2-.75 2-.72 2-.68 2-.65 2-.62 2-.59 2-.56 2-.54 2-.51 2-.49 2-.47 2-.44 2-.41 2-.4 2-.37 2-.35 2-.33 2-.31 2-.11h22"/><path d="M-3 18.8h1h1h1l1-1.69h1h1l1-1.49h1l1-.6 1-1.08 1-.8h1h1l1-.47 1-.46 1-.44 1-.43 1-.41 1-.41 2-.77 2-.73 2-.7 2-.67 2-.64 2-.61 2-.58 2-.57 2-.54 2-.52 2-.5 2-.48 2-.45 2-.44 2-.42 2-.4 2-.37 2-.36 2-.34 2-.32 2-.11h22"/><path d="M-3 18h1h1h1h1h1l1-1.63 1-.89h1h1h1l1-1.17 1-.7 1-.87 1-.48 1-.47 1-.45 1-.43 1-.42 1-.4 2-.78 2-.73 2-.69 2-.66 2-.62 2-.6 2-.56 2-.54 2-.51 2-.49 2-.47 2-.44 2-.42 2-.4 2-.37 2-.36 2-.34 2-.32 2-.29 2-.28 2-.22h22"/><path d="M-3 17h1h1h1l1-.6h1l1-.63 1-1.18h1h1l1-.51h1h1l1-.45 1-.59 1-.96 1-.53 1-.5 1-.49 1-.46 2-.88 2-.82 2-.76 2-.72 2-.66 2-.62 2-.59 2-.54 2-.51 2-.48 2-.45 2-.41 2-.39 2-.36 2-.34 2-.31 2-.29 2-.27 2-.24 2-.23 2-.2 2-.03h20"/><path d="M-3 16h1h1l1-.67 1-.97 1-1.01h1l1-1.2h1h1h1l1-1.2 1-.71 1-.95 1-.31 1-.62 1-.27 1-.51 1-.26 1-.24 2-.47 2-.45 2-.43 2-.42 2-.4 2-.38 2-.38 2-.36 2-.35 2-.34 2-.33 2-.31 2-.31 2-.3 2-.28 2-.28 2-.26 2-.26 2-.24 2-.23 2-.23 2-.07h20"/><path d="M-2 15h1h1h1h1h1h1h1h1h1h1l1-1.24 1-.69 1-1.11 1-.47 1-1.15 1-.41 1-.39 1-.38 2-.73 2-.69 2-.64 2-.61 2-.57 2-.54 2-.52 2-.48 2-.46 2-.44 2-.41 2-.39 2-.37 2-.35 2-.33 2-.31 2-.29 2-.27 2-.25 2-.23 2-.22 2-.06h20"/><path d="M-3 14h1h1l1-.8h1h1h1h1h1l1-1.31h1l1-.5h1h1l1-.45 1-.42 1-.41 1-1.35 1-.35 1-.33 2-.64 2-.6 2-.56 2-.54 2-.51 2-.48 2-.45 2-.44 2-.41 2-.39 2-.38 2-.35 2-.34 2-.31 2-.3 2-.28 2-.27 2-.24 2-.24 2-.21 2-.14h22"/><path d="M-3 13h1h1h1h1h1l1-.75 1-.41 1-.97h1l1-.64h1h1h1l1-.42 1-.39 1-.38 1-.37 1-.35 1-.35 2-.65 2-.61 2-.57 2-.54 2-.51 2-.48 2-.46 2-.43 2-.41 2-.38 2-.37 2-.34 2-.33 2-.3 2-.29 2-.27 2-.25 2-.24 2-.22 2-.2 2-.12h22"/><path d="M-3 12.2h1h1h1h1l1-.52h1l1-.92 1-1.07 1-.51 1-.55h1h1l1-.29 1-.76 1-.33 1-.32 1-.96 1-.26 1-.26 2-.48 2-.44 2-.41 2-.39 2-.37 2-.34 2-.31 2-.3 2-.28 2-.27 2-.24 2-.23 2-.22 2-.2 2-.18 2-.18 2-.16 2-.14 2-.14 2-.12 2-.05h22"/><path d="M-3 11.5h1h1l1-.71h1l1-.56 1-.67h1l1-.69h1l1-.68h1h1l1-.78 1-.83 1-.27 1-.83 1-.23 1-.21 1-.21 2-.39 2-.37 2-.34 2-.33 2-.3 2-.29 2-.28 2-.26 2-.24 2-.23 2-.22 2-.21 2-.19 2-.18 2-.18 2-.16 2-.15 2-.14 2-.13 2-.12 2-.11 2-.01h20"/><path d="M-2 11h1h1h1h1l1-.65h1h1h1h1h1l1-.9 1-.91 1-.31 1-.75 1-.28 1-.49 1-.24 1-.25 2-.46 2-.44 2-.41 2-.4 2-.37 2-.36 2-.35 2-.33 2-.31 2-.3 2-.29 2-.27 2-.27 2-.24 2-.24 2-.23 2-.21 2-.2 2-.19 2-.18 2-.17h22"/><path d="M-3 10.5h1h1l1-.93 1-.53 1-.43h1h1l1-.45 1-.31h1l1-.41 1-.24h1l1-.87 1-.5 1-.24 1-.24 1-.22 1-.22 2-.41 2-.39 2-.36 2-.34 2-.32 2-.3 2-.29 2-.26 2-.26 2-.23 2-.23 2-.21 2-.2 2-.18 2-.17 2-.17 2-.15 2-.14 2-.12 2-.12 2-.06h22"/><path d="M-3 10h1h1l1-.35h1h1h1h1h1h1l1-.57h1l1-.81 1-.36 1-.31 1-.71 1-.28 1-.26 1-.25 1-.24 2-.47 2-.44 2-.41 2-.39 2-.37 2-.35 2-.33 2-.31 2-.3 2-.29 2-.27 2-.25 2-.24 2-.23 2-.21 2-.21 2-.19 2-.17 2-.17 2-.15 2-.11h22"/><path d="M-3 9.2h1h1l1-.8 1-.71h1h1h1l1-.3 1-.71h1h1h1h1l1-.24 1-.43 1-.47 1-.2 1-.2 1-.18 2-.37 2-.34 2-.33 2-.31 2-.3 2-.29 2-.28 2-.27 2-.26 2-.24 2-.24 2-.23 2-.22 2-.21 2-.21 2-.19 2-.18 2-.18 2-.16 2-.15h24"/><path d="M-3 8.3h1h1l1-.45h1l1-.45h1h1h1h1l1-.26h1h1h1l1-.92 1-.28 1-.62 1-.54 1-.21 1-.2 2-.39 2-.36 2-.34 2-.31 2-.29 2-.28 2-.26 2-.24 2-.22 2-.21 2-.2 2-.19 2-.17 2-.16 2-.15 2-.13 2-.13 2-.12 2-.1 2-.1 2-.02h22"/><path d="M-2 7h1l1-.44h1h1h1h1h1h1l1-.31 1-.48h1l1-.39 1-.15 1-.38 1-.39 1-.13 1-.13 1-.13 2-.24 2-.23 2-.23 2-.23 2-.22 2-.21 2-.21 2-.21 2-.2 2-.2 2-.2 2-.19 2-.2 2-.18 2-.19 2-.18 2-.17 2-.17 2-.17 2-.16 2-.08h22"/><path d="M-3 3.2h1h1l1-.14 1-.18h1h1l1-.15h1l1-.18h1h1l1-.25h1l1-.19 1-.15 1-.07 1-.06 1-.06 1-.06 2-.11 2-.11 2-.1 2-.11 2-.09 2-.1 2-.09 2-.09 2-.09 2-.08 2-.09 2-.08 2-.08 2-.07 2-.07 2-.08 2-.06 2-.07 2-.06 2-.06 2-.02h22"/></g><g stroke-opacity=".09" stroke-width="1.2"><path d="M-2 58h1l1-3.12 1-3.67 1-3.53h1l1-1.54 1-2.63 1-3.04 1-2.06 1-2.45h1l1-1.14 1-4.2 1-1.15 1-3.46 1-2.43 1-.9 1-.87 2-1.67 2-1.57 2-1.48 2-1.42 2-1.34 2-1.28 2-1.22 2-1.17 2-1.11 2-1.06 2-1.01 2-.96 2-.92 2-.87 2-.82 2-.78 2-.74 2-.69 2-.66 2-.61 2-.43h22"/><path d="M-3 55.5h1h1l1-1.72 1-4.91h1h1h1h1h1h1l1-3.03h1l1-4.03 1-5.59 1-1.54 1-2.81 1-1.37 1-1.31 1-1.26 2-2.4 2-2.24 2-2.1 2-1.97 2-1.85 2-1.74 2-1.65 2-1.54 2-1.46 2-1.37 2-1.29 2-1.21 2-1.14 2-1.06 2-1 2-.92 2-.86 2-.79 2-.74 2-.6h24"/></g><g stroke-opacity=".10" stroke-width="2.0"><path d="M-3 42.6h1h1h1l1-1.77h1l1-1.89 1-3.66 1-1.4h1l1-3.13h1h1l1-2.59 1-3.79 1-1.23 1-1.18 1-2.57 1-.99 1-.95 2-1.76 2-1.61 2-1.48 2-1.36 2-1.24 2-1.15 2-1.06 2-.97 2-.89 2-.81 2-.75 2-.69 2-.62 2-.57 2-.52 2-.47 2-.42 2-.38 2-.35 2-.3 2-.05h22"/><path d="M-3 38.5h1h1l1-1.51 1-2.29h1l1-1.05h1h1l1-3.04h1h1h1h1l1-1.25 1-1.21 1-2.54 1-1.06 1-1.02 1-.98 2-1.87 2-1.75 2-1.64 2-1.54 2-1.45 2-1.37 2-1.29 2-1.23 2-1.15 2-1.08 2-1.03 2-.96 2-.91 2-.85 2-.8 2-.75 2-.69 2-.65 2-.6 2-.56 2-.38h22"/><path d="M-3 36h1h1l1-1.08 1-2.86 1-2.86 1-1.35h1l1-1.89h1l1-1.63h1h1h1l1-.93 1-2.52 1-.8 1-1.79 1-.7 1-.69 2-1.31 2-1.24 2-1.18 2-1.12 2-1.06 2-1.02 2-.98 2-.93 2-.89 2-.85 2-.81 2-.77 2-.74 2-.7 2-.67 2-.63 2-.59 2-.56 2-.53 2-.32h24"/><path d="M-2 33.5h1l1-1.73 1-1.95h1l1-2.24 1-2.2 1-2.27 1-1.4 1-1.64 1-1.76h1h1l1-2.15 1-1.69 1-1.21 1-.59 1-.56 1-.54 2-1.02 2-.95 2-.88 2-.83 2-.76 2-.72 2-.67 2-.63 2-.59 2-.54 2-.52 2-.47 2-.45 2-.41 2-.38 2-.35 2-.33 2-.3 2-.28 2-.25 2-.23 2-.01h20"/><path d="M-3 31h1h1h1h1h1h1l1-2.43h1l1-2.63h1h1l1-1.65 1-1.76 1-.9 1-2.73 1-1.9 1-.69 1-.66 1-.63 2-1.21 2-1.14 2-1.07 2-1.02 2-.95 2-.91 2-.86 2-.81 2-.77 2-.74 2-.69 2-.65 2-.62 2-.59 2-.54 2-.52 2-.48 2-.46 2-.42 2-.39 2-.18h22"/><path d="M-3 29h1h1h1h1h1h1h1h1h1l1-1.02 1-.96 1-.98h1l1-3.75 1-1.13 1-1.07 1-2.57 1-.9 1-.86 2-1.59 2-1.46 2-1.33 2-1.22 2-1.12 2-1.03 2-.94 2-.86 2-.8 2-.72 2-.67 2-.6 2-.56 2-.5 2-.45 2-.42 2-.37 2-.33 2-.3 2-.27 2-.22h22"/><path d="M-3 27.5h1h1l1-2.73 1-2.17h1l1-1.29 1-1.16h1l1-1.27 1-1.73h1l1-1.62h1l1-.66 1-.64 1-1.83 1-.54 1-.52 1-.49 2-.95 2-.88 2-.82 2-.77 2-.73 2-.68 2-.64 2-.61 2-.57 2-.53 2-.5 2-.47 2-.44 2-.42 2-.38 2-.36 2-.33 2-.3 2-.29 2-.18h24"/><path d="M-3 26h1h1l1-.97h1h1l1-1.24h1h1l1-2.01h1l1-1.89h1h1l1-2.45 1-1.97 1-.72 1-.69 1-.67 1-.63 2-1.2 2-1.1 2-1.02 2-.95 2-.89 2-.82 2-.76 2-.71 2-.66 2-.62 2-.57 2-.52 2-.49 2-.45 2-.42 2-.38 2-.35 2-.31 2-.29 2-.25h24"/><path d="M-2 24.5h1h1l1-1.93 1-1.63h1h1h1l1-.68h1l1-1.52h1l1-1.06 1-1.45 1-.75 1-.71 1-.68 1-.65 1-.63 2-1.17 2-1.09 2-1.01 2-.94 2-.87 2-.81 2-.75 2-.71 2-.65 2-.61 2-.56 2-.53 2-.48 2-.45 2-.41 2-.38 2-.35 2-.32 2-.29 2-.27 2-.16h22"/><path d="M-3 23h1h1h1h1h1h1l1-.95 1-1.89h1h1l1-1.24h1l1-1.82 1-.62 1-1.49 1-.54 1-1.52 1-.47 1-.46 2-.88 2-.83 2-.8 2-.75 2-.73 2-.7 2-.67 2-.64 2-.62 2-.6 2-.57 2-.55 2-.52 2-.5 2-.48 2-.46 2-.44 2-.41 2-.39 2-.37 2-.09h22"/><path d="M-3 22h1h1l1-1.53h1h1l1-1.3h1h1l1-1.81h1l1-1.27h1h1l1-1.06 1-1.09 1-.52 1-1.15 1-.45 1-.45 2-.85 2-.8 2-.77 2-.73 2-.71 2-.67 2-.65 2-.62 2-.6 2-.57 2-.55 2-.53 2-.5 2-.48 2-.46 2-.44 2-.42 2-.39 2-.37 2-.26h24"/><path d="M-3 21h1h1l1-1.48 1-1.6 1-1.11h1h1l1-1.07h1l1-.7 1-.93 1-1.05 1-1.26 1-1.16 1-1.25 1-.38 1-.37 1-.35 1-.34 2-.65 2-.61 2-.57 2-.54 2-.51 2-.47 2-.46 2-.43 2-.4 2-.38 2-.37 2-.34 2-.32 2-.3 2-.28 2-.27 2-.25 2-.23 2-.21 2-.2 2-.16h22"/><path d="M-3 20.2h1h1h1h1h1h1h1l1-1.84h1h1h1h1h1l1-2.08 1-2.09 1-1.71 1-.94 1-.53 1-.52 2-.96 2-.9 2-.83 2-.77 2-.72 2-.67 2-.62 2-.58 2-.54 2-.5 2-.47 2-.43 2-.4 2-.37 2-.34 2-.32 2-.29 2-.26 2-.24 2-.22 2-.06h22"/><path d="M-2 19.5h1h1h1h1l1-1.7h1h1h1h1l1-1.41h1l1-.98 1-.6 1-1.63 1-.52 1-1.11 1-.46 1-.44 2-.85 2-.8 2-.75 2-.71 2-.68 2-.64 2-.61 2-.59 2-.55 2-.53 2-.5 2-.47 2-.45 2-.43 2-.4 2-.38 2-.35 2-.34 2-.31 2-.29 2-.02h22"/><path d="M-3 18.8h1h1l1-1.46 1-.53h1h1h1h1h1l1-1.39h1l1-1.02 1-.48 1-1.11 1-.47 1-.47 1-.44 1-.43 1-.42 2-.8 2-.76 2-.72 2-.68 2-.66 2-.63 2-.6 2-.57 2-.55 2-.53 2-.5 2-.48 2-.46 2-.44 2-.41 2-.4 2-.37 2-.36 2-.33 2-.31 2-.02h22"/><path d="M-3 18h1h1h1l1-1.78h1h1h1h1l1-1.03 1-1.18 1-.74h1l1-.95 1-.48 1-.47 1-.44 1-.44 1-.41 1-.4 2-.77 2-.72 2-.68 2-.65 2-.61 2-.58 2-.55 2-.52 2-.5 2-.47 2-.44 2-.43 2-.4 2-.38 2-.36 2-.34 2-.31 2-.3 2-.28 2-.26 2-.13h22"/><path d="M-3 17h1h1h1l1-1.65h1l1-1.22h1h1l1-1.3h1h1l1-.55h1l1-1.16 1-.5 1-.48 1-1.28 1-.4 1-.38 2-.73 2-.67 2-.63 2-.58 2-.54 2-.51 2-.47 2-.44 2-.41 2-.38 2-.36 2-.33 2-.31 2-.28 2-.27 2-.24 2-.23 2-.2 2-.19 2-.18 2-.13h22"/><path d="M-3 16h1h1h1h1h1l1-.78 1-1.35h1l1-1.22h1l1-1.06 1-1.08 1-.33 1-.94 1-1.02 1-.74 1-.63 1-.23 1-.23 2-.44 2-.42 2-.4 2-.38 2-.37 2-.35 2-.35 2-.33 2-.32 2-.31 2-.3 2-.28 2-.28 2-.27 2-.26 2-.24 2-.24 2-.23 2-.21 2-.21 2-.19 2-.01h20"/><path d="M-2 15h1h1h1l1-.87h1l1-.81 1-1.21h1h1l1-.62 1-1.03 1-.97 1-.9 1-.35 1-.34 1-.32 1-.31 1-.3 2-.57 2-.54 2-.5 2-.47 2-.45 2-.42 2-.39 2-.38 2-.35 2-.34 2-.31 2-.3 2-.28 2-.26 2-.25 2-.23 2-.21 2-.2 2-.19 2-.17 2-.16h22"/><path d="M-3 14h1h1l1-1.34 1-.63 1-.49h1h1h1h1h1l1-.8h1l1-.66 1-1.37 1-.35 1-.68 1-.31 1-.3 1-.29 2-.55 2-.52 2-.48 2-.46 2-.44 2-.41 2-.39 2-.37 2-.35 2-.33 2-.31 2-.3 2-.28 2-.26 2-.25 2-.23 2-.22 2-.2 2-.19 2-.18 2-.06h22"/><path d="M-3 13h1h1h1l1-.49 1-1.22h1h1h1l1-.61 1-.88 1-.33 1-.44h1l1-.89 1-.34 1-.8 1-.78 1-.26 1-.25 2-.48 2-.45 2-.42 2-.4 2-.37 2-.35 2-.33 2-.31 2-.3 2-.27 2-.27 2-.24 2-.23 2-.22 2-.2 2-.19 2-.18 2-.16 2-.15 2-.15 2-.04h22"/><path d="M-3 12.2h1h1h1h1l1-.9h1l1-.73h1l1-.52h1h1l1-.76h1l1-.9 1-.38 1-1.08 1-.69 1-.28 1-.27 2-.52 2-.47 2-.45 2-.41 2-.38 2-.37 2-.33 2-.32 2-.29 2-.28 2-.25 2-.24 2-.22 2-.21 2-.19 2-.18 2-.16 2-.15 2-.13 2-.13 2-.01h22"/><path d="M-3 11.5h1h1l1-.58h1l1-.54h1h1h1h1h1h1h1l1-.32 1-.8 1-.74 1-1.01 1-.92 1-.28 1-.27 2-.5 2-.48 2-.44 2-.41 2-.4 2-.36 2-.35 2-.33 2-.31 2-.29 2-.27 2-.26 2-.24 2-.22 2-.22 2-.19 2-.19 2-.17 2-.16 2-.14 2-.11h22"/><path d="M-2 11h1h1l1-.74 1-.68 1-.63h1h1h1h1h1h1l1-.34 1-.33 1-.59 1-.29 1-.28 1-.27 1-.27 2-.5 2-.48 2-.45 2-.43 2-.4 2-.39 2-.37 2-.35 2-.34 2-.32 2-.3 2-.29 2-.28 2-.26 2-.25 2-.24 2-.22 2-.21 2-.19 2-.19 2-.12h22"/><path d="M-3 10.5h1h1l1-.83 1-.56 1-.4h1l1-.81h1h1l1-.4 1-.51h1h1l1-.3 1-.29 1-.27 1-.8 1-.23 1-.22 2-.43 2-.39 2-.37 2-.35 2-.32 2-.3 2-.29 2-.27 2-.25 2-.24 2-.22 2-.21 2-.19 2-.18 2-.17 2-.16 2-.15 2-.13 2-.12 2-.12 2-.02h22"/><path d="M-3 10h1h1l1-.99 1-.38h1h1h1h1h1l1-.38h1l1-.53h1l1-.31 1-.93 1-.27 1-.25 1-.24 1-.24 2-.45 2-.42 2-.4 2-.37 2-.35 2-.33 2-.32 2-.3 2-.28 2-.27 2-.25 2-.24 2-.22 2-.21 2-.2 2-.19 2-.17 2-.16 2-.15 2-.14 2-.06h22"/><path d="M-3 9.2h1h1h1h1h1l1-.66h1h1h1l1-.28h1l1-.63h1l1-.28 1-.76 1-.24 1-.53 1-.22 1-.21 2-.41 2-.38 2-.37 2-.35 2-.33 2-.32 2-.31 2-.29 2-.29 2-.27 2-.26 2-.25 2-.24 2-.23 2-.22 2-.2 2-.2 2-.19 2-.17 2-.11h24"/><path d="M-3 8.3h1h1l1-.81 1-.48h1h1h1h1l1-.51 1-.64h1l1-.38h1l1-.51 1-.23 1-.21 1-.58 1-.18 1-.17 2-.33 2-.31 2-.28 2-.26 2-.25 2-.23 2-.22 2-.2 2-.18 2-.18 2-.16 2-.15 2-.14 2-.13 2-.12 2-.11 2-.1 2-.1 2-.08 2-.07h24"/><path d="M-2 7h1h1h1h1l1-.22h1l1-.36h1h1h1l1-.55h1l1-.17 1-.17 1-.35 1-.15 1-.16 1-.15 2-.29 2-.28 2-.27 2-.26 2-.26 2-.26 2-.25 2-.24 2-.24 2-.24 2-.23 2-.23 2-.22 2-.22 2-.21 2-.21 2-.2 2-.2 2-.19 2-.18 2-.04h22"/><path d="M-3 3.2h1h1h1h1h1h1h1h1l1-.19 1-.22 1-.15 1-.15h1l1-.09 1-.08 1-.07 1-.28 1-.06 1-.07 2-.12 2-.12 2-.12 2-.11 2-.11 2-.1 2-.11 2-.09 2-.1 2-.09 2-.09 2-.09 2-.08 2-.08 2-.08 2-.08 2-.07 2-.07 2-.07 2-.06h24"/></g><g stroke-opacity=".20" stroke-width="1.2"><path d="M-3 42.6h1h1h1l1-3.68 1-3.33h1l1-2.73 1-2.27 1-2.16h1l1-1.26 1-1.44h1l1-1.34 1-2.08 1-1.17 1-1.1 1-1.06 1-1 2-1.87 2-1.71 2-1.55 2-1.43 2-1.3 2-1.2 2-1.1 2-1 2-.92 2-.84 2-.77 2-.69 2-.64 2-.57 2-.53 2-.46 2-.43 2-.37 2-.34 2-.26h24"/><path d="M-3 38.5h1h1l1-1.59h1h1l1-1.54 1-3.14h1h1l1-1.68h1l1-1.95 1-.98 1-1.16 1-3.14 1-.99 1-.95 1-.92 1-.88 2-1.67 2-1.56 2-1.46 2-1.37 2-1.28 2-1.21 2-1.14 2-1.07 2-1.01 2-.94 2-.9 2-.83 2-.78 2-.74 2-.68 2-.64 2-.59 2-.55 2-.5 2-.47 2-.19h22"/><path d="M-3 36h1h1h1h1h1l1-1.52h1h1l1-1.66h1h1h1l1-2.77 1-2.63 1-1.08 1-1.03 1-2 1-.93 1-.9 2-1.71 2-1.62 2-1.54 2-1.45 2-1.39 2-1.31 2-1.26 2-1.2 2-1.14 2-1.09 2-1.03 2-.99 2-.93 2-.89 2-.83 2-.79 2-.74 2-.7 2-.65 2-.22h24"/><path d="M-2 33.5h1h1h1h1l1-3.34 1-2h1l1-2.5h1l1-1.57 1-1.24 1-.9 1-1.73 1-.91 1-.88 1-.84 1-.8 1-.78 2-1.45 2-1.35 2-1.25 2-1.16 2-1.09 2-1 2-.94 2-.88 2-.82 2-.76 2-.7 2-.66 2-.61 2-.56 2-.52 2-.48 2-.44 2-.41 2-.36 2-.34 2-.23h22"/><path d="M-3 31h1h1l1-2.57 1-1.96 1-1.2h1h1l1-1.93 1-1.37 1-.76h1l1-1.47h1l1-.81 1-.78 1-2.2 1-.66 1-.64 1-.61 2-1.17 2-1.09 2-1.03 2-.97 2-.91 2-.86 2-.81 2-.77 2-.73 2-.69 2-.65 2-.61 2-.57 2-.54 2-.51 2-.47 2-.45 2-.41 2-.38 2-.36 2-.06h22"/><path d="M-3 29h1h1h1h1h1h1h1l1-2.64h1l1-2.08h1h1h1l1-2.8 1-2.86 1-.97 1-.93 1-.88 1-.84 2-1.56 2-1.42 2-1.3 2-1.19 2-1.08 2-.99 2-.9 2-.83 2-.75 2-.69 2-.63 2-.57 2-.52 2-.47 2-.42 2-.38 2-.34 2-.31 2-.27 2-.24 2-.14h22"/><path d="M-3 27.5h1h1h1h1h1l1-1.45 1-2.32h1l1-1.5h1h1h1h1l1-2.86 1-.86 1-1.53 1-.76 1-.73 1-.7 2-1.32 2-1.24 2-1.15 2-1.07 2-1.01 2-.95 2-.88 2-.84 2-.78 2-.73 2-.68 2-.64 2-.6 2-.55 2-.51 2-.48 2-.44 2-.41 2-.37 2-.14h24"/><path d="M-3 26h1h1h1h1h1l1-2.02 1-2.16 1-1.24 1-.91 1-.77 1-.67h1l1-1.09 1-.83 1-2.27 1-.68 1-1.08 1-.59 1-.57 2-1.08 2-.98 2-.92 2-.84 2-.78 2-.73 2-.67 2-.63 2-.57 2-.54 2-.49 2-.46 2-.42 2-.39 2-.35 2-.32 2-.3 2-.27 2-.24 2-.14h24"/><path d="M-2 24.5h1l1-1.39 1-1.7h1h1h1h1h1h1h1l1-1.52h1l1-1.6 1-2.1 1-.76 1-.73 1-.7 1-.68 2-1.26 2-1.16 2-1.07 2-1 2-.92 2-.85 2-.8 2-.73 2-.69 2-.63 2-.58 2-.54 2-.5 2-.46 2-.42 2-.39 2-.35 2-.32 2-.3 2-.26 2-.09h22"/><path d="M-3 23h1h1l1-1.34 1-.78 1-.66 1-1.3 1-.75 1-1.56h1h1h1h1h1l1-1.54 1-1.57 1-.97 1-.46 1-.46 1-.44 2-.84 2-.8 2-.76 2-.72 2-.69 2-.66 2-.64 2-.6 2-.59 2-.55 2-.54 2-.51 2-.49 2-.46 2-.45 2-.42 2-.4 2-.37 2-.36 2-.32h24"/><path d="M-3 22h1h1h1l1-1.42h1l1-1.57h1h1h1h1l1-1.27h1h1l1-.67 1-.64 1-.63 1-1.12 1-.57 1-.54 2-1.04 2-.99 2-.94 2-.9 2-.85 2-.82 2-.79 2-.75 2-.72 2-.69 2-.66 2-.63 2-.6 2-.57 2-.54 2-.52 2-.49 2-.46 2-.43 2-.18h24"/><path d="M-3 21h1h1l1-2.05 1-1.21 1-.9h1h1h1h1h1l1-.51 1-.67h1l1-.65 1-.63 1-.6 1-.58 1-.55 1-.54 2-1.02 2-.95 2-.89 2-.84 2-.79 2-.74 2-.7 2-.66 2-.62 2-.59 2-.55 2-.52 2-.48 2-.46 2-.42 2-.4 2-.37 2-.35 2-.32 2-.29 2-.15h22"/><path d="M-3 20.2h1h1h1h1h1h1h1h1h1l1-1.13h1h1h1l1-.9 1-1.86 1-.77 1-.74 1-.71 1-.68 2-1.27 2-1.17 2-1.09 2-1.01 2-.93 2-.87 2-.8 2-.75 2-.69 2-.64 2-.6 2-.55 2-.51 2-.46 2-.43 2-.39 2-.36 2-.33 2-.3 2-.26h24"/><path d="M-2 19.5h1h1l1-.76 1-1.04h1l1-1 1-.65h1h1h1h1h1l1-.65 1-1.28 1-1.4 1-.51 1-.5 1-.49 2-.91 2-.87 2-.81 2-.77 2-.73 2-.69 2-.65 2-.62 2-.59 2-.56 2-.53 2-.5 2-.47 2-.44 2-.42 2-.4 2-.36 2-.35 2-.32 2-.23h24"/><path d="M-3 18.8h1h1h1h1h1h1l1-.61 1-1.01h1l1-.97 1-1.41h1h1l1-1.51 1-.51 1-.49 1-1.65 1-.41 1-.4 2-.77 2-.72 2-.69 2-.65 2-.62 2-.59 2-.57 2-.54 2-.51 2-.5 2-.47 2-.44 2-.43 2-.4 2-.39 2-.36 2-.34 2-.32 2-.31 2-.21h24"/><path d="M-3 18h1h1l1-.78 1-.71h1h1h1h1l1-.75 1-.74 1-1.19 1-.8h1l1-.53 1-.5 1-.49 1-1.49 1-.41 1-.39 2-.75 2-.71 2-.66 2-.63 2-.59 2-.57 2-.53 2-.5 2-.48 2-.45 2-.43 2-.4 2-.38 2-.36 2-.34 2-.32 2-.29 2-.28 2-.26 2-.24 2-.05h22"/><path d="M-3 17h1h1h1h1h1l1-.86 1-1.28h1h1h1h1l1-1.26h1l1-.63 1-.59 1-.58 1-1.52 1-.48 1-.46 2-.86 2-.8 2-.74 2-.69 2-.64 2-.59 2-.55 2-.52 2-.47 2-.45 2-.41 2-.38 2-.35 2-.33 2-.3 2-.28 2-.25 2-.23 2-.21 2-.19 2-.1h22"/><path d="M-3 16h1h1l1-1.19h1h1l1-1.22h1l1-.55 1-1.12h1h1h1l1-.65 1-1.07 1-1.19 1-.32 1-.3 1-.29 1-.29 2-.55 2-.53 2-.5 2-.48 2-.46 2-.44 2-.43 2-.41 2-.39 2-.39 2-.36 2-.36 2-.34 2-.32 2-.31 2-.3 2-.29 2-.27 2-.26 2-.25 2-.17h22"/><path d="M-2 15h1h1h1l1-1.22 1-.85h1h1l1-.43 1-.55 1-.97h1h1l1-.46 1-.44 1-1.31 1-1.14 1-.33 1-.31 2-.59 2-.55 2-.52 2-.48 2-.45 2-.43 2-.41 2-.38 2-.35 2-.34 2-.32 2-.29 2-.28 2-.26 2-.25 2-.23 2-.21 2-.19 2-.19 2-.16 2-.11h22"/><path d="M-3 14h1h1l1-1.27 1-1.02 1-.65h1h1h1h1h1l1-.55h1l1-.92 1-.39 1-.39 1-.36 1-.62 1-.33 1-.32 2-.6 2-.56 2-.53 2-.5 2-.47 2-.44 2-.42 2-.39 2-.38 2-.35 2-.33 2-.31 2-.3 2-.27 2-.26 2-.25 2-.22 2-.21 2-.2 2-.18 2-.01h22"/><path d="M-3 13h1h1l1-.99h1l1-.65h1h1h1l1-.77 1-.47 1-.34h1h1l1-.42 1-.95 1-.37 1-.76 1-.32 1-.3 2-.58 2-.53 2-.51 2-.47 2-.44 2-.42 2-.39 2-.37 2-.34 2-.33 2-.3 2-.29 2-.27 2-.25 2-.23 2-.22 2-.2 2-.18 2-.18 2-.15 2-.01h22"/><path d="M-3 12.2h1h1l1-1.1 1-.7 1-.65h1l1-.34 1-.32h1l1-.52h1h1h1l1-.74 1-.36 1-.94 1-.92 1-.26 1-.25 2-.48 2-.44 2-.4 2-.38 2-.35 2-.33 2-.31 2-.28 2-.27 2-.24 2-.23 2-.21 2-.2 2-.18 2-.17 2-.16 2-.14 2-.13 2-.11 2-.09h24"/><path d="M-3 11.5h1h1h1l1-1.04 1-.44 1-.75h1l1-.68 1-.56h1h1h1h1l1-.34 1-.33 1-.32 1-.3 1-.29 1-.28 2-.53 2-.5 2-.46 2-.44 2-.4 2-.39 2-.35 2-.34 2-.32 2-.3 2-.27 2-.27 2-.24 2-.23 2-.21 2-.2 2-.18 2-.17 2-.16 2-.14 2-.07h22"/><path d="M-2 11h1h1l1-.74 1-.53 1-.92 1-.52h1h1l1-.65h1h1l1-.38 1-.28 1-.27 1-.26 1-.26 1-.24 1-.24 2-.45 2-.42 2-.4 2-.38 2-.36 2-.35 2-.32 2-.31 2-.29 2-.28 2-.27 2-.25 2-.24 2-.23 2-.21 2-.2 2-.19 2-.18 2-.17 2-.15 2-.06h22"/><path d="M-3 10.5h1h1l1-.4h1h1l1-.45h1h1l1-.66h1h1l1-.36 1-.32 1-.37 1-.35 1-.34 1-.32 1-.31 1-.3 2-.56 2-.53 2-.49 2-.45 2-.43 2-.4 2-.38 2-.35 2-.33 2-.31 2-.28 2-.27 2-.25 2-.24 2-.21 2-.2 2-.19 2-.17 2-.15 2-.13h24"/><path d="M-3 10h1h1h1h1h1l1-.65 1-.5h1h1h1h1l1-.5 1-.37 1-.33 1-.86 1-.67 1-.26 1-.24 1-.24 2-.46 2-.42 2-.4 2-.37 2-.35 2-.34 2-.31 2-.3 2-.27 2-.27 2-.25 2-.23 2-.22 2-.2 2-.19 2-.18 2-.17 2-.16 2-.14 2-.13 2-.02h22"/><path d="M-3 9.2h1h1l1-.28 1-.85h1l1-.53h1l1-.5 1-.44h1h1l1-.33h1l1-.24 1-.23 1-.22 1-.22 1-.2 1-.2 2-.39 2-.36 2-.35 2-.32 2-.32 2-.3 2-.29 2-.27 2-.26 2-.26 2-.24 2-.23 2-.22 2-.21 2-.2 2-.18 2-.18 2-.17 2-.16 2-.05h24"/><path d="M-3 8.3h1h1h1l1-.48h1h1h1l1-.52 1-.59h1h1l1-.44h1l1-.29 1-.63 1-.25 1-.24 1-.23 1-.22 2-.42 2-.38 2-.36 2-.33 2-.3 2-.29 2-.27 2-.24 2-.23 2-.22 2-.2 2-.18 2-.17 2-.16 2-.14 2-.13 2-.12 2-.12 2-.1 2-.05h24"/><path d="M-2 7h1h1l1-.27h1l1-.45 1-.5h1l1-.57h1l1-.51 1-.3 1-.14 1-.13 1-.12 1-.13 1-.4 1-.11 1-.1 2-.21 2-.2 2-.19 2-.19 2-.19 2-.17 2-.18 2-.17 2-.17 2-.17 2-.16 2-.16 2-.15 2-.15 2-.15 2-.14 2-.14 2-.14 2-.13 2-.11h24"/><path d="M-3 3.2h1h1h1l1-.2h1h1h1h1h1h1l1-.2h1h1l1-.21 1-.09 1-.09 1-.19 1-.08 1-.08 2-.14 2-.14 2-.13 2-.13 2-.13 2-.11 2-.12 2-.11 2-.11 2-.1 2-.11 2-.09 2-.1 2-.09 2-.09 2-.08 2-.08 2-.08 2-.07 2-.05h24"/></g></g>
<path d="M749.4 1055.7L753.1 1056.2L758.8 1062.3L763.7 1066.4L767.5 1067.5L771.2 1061.8L775 1059.8L781.8 1063.4L788 1064.9L804.2 1067.5L805.5 1067.9L811.7 1070.3L817.9 1072.8L824.2 1075.3L830.4 1077.9L836.6 1080.6L842.9 1083.3L849.1 1086.1L855.3 1089L861.6 1092.2L867.8 1095.3L874 1098.4L880.2 1101.4L886.5 1104.4L892.7 1107.4L898.9 1110.1L905.2 1112.6L911.4 1114.9L917.6 1117.1L923.9 1119.1L930.1 1121.1L936.3 1123.1L942.5 1125.1L948.8 1127L955 1128.8L961.2 1130.5L967.5 1132.1L973.7 1133.6L979.9 1135.1L986.2 1136.5L992.4 1137.7L998.6 1138.8L1004.8 1140L1011.1 1141.2L1017.3 1142.5L1023.5 1143.9L1029.8 1145.2L1036 1146.4L1042.2 1147.5L1048.5 1148.4L1054.7 1149.3L1060.9 1150.1L1067.1 1150.9L1073.4 1151.7L1079.6 1152.6L1085.8 1153.3L1092.1 1153.9L1098.3 1154.6L1104.5 1155.2L1110.8 1155.7L1117 1155.9L1266.5 1155.9" fill="none" stroke="#dd7325" stroke-width="8.5" stroke-linejoin="round"/>
<g class="t" transform="translate(1365.8 1155.9) scale(6.23 -5.11)" stroke="#e07a2a"><g stroke-opacity=".04" stroke-width="4.5"><path d="M-3 48.92h1h1h1h1h1h1l1-2.29h1h1l1-1.47 1-1.59 1-1.52 1-1.47 1-1.43 1-1.23h1l1-1.16 1-1.39 1-1.35 2-2.56 2-2.39 2-2.26 2-2.12 2-2.02 2-1.91 2-1.81 2-1.73 2-1.65 2-1.56 2-1.5 2-1.42 2-1.35 2-1.28 2-1.22 2-1.16 2-1.09 2-1.03 2-.98 2-.91 2-.86 2-.8 2-.41h18"/><path d="M-3 50.47h1h1h1h1h1h1l1-3.89h1h1l1-1.33 1-1.44 1-1.4 1-1.35 1-1.31 1-1.14h1l1-1.07 1-1.31 1-1.26 2-2.42 2-2.28 2-2.16 2-2.06 2-1.96 2-1.88 2-1.81 2-1.74 2-1.67 2-1.61 2-1.55 2-1.48 2-1.44 2-1.37 2-1.32 2-1.27 2-1.21 2-1.16 2-1.1 2-1.05 2-1 2-.94 2-.49h18"/><path d="M-3 52.8h1h1h1h1h1h1l1-3.8h1h1l1-1.43 1-1.54 1-1.48 1-1.44 1-1.39 1-1.22h1l1-1.14 1-1.39 1-1.34 2-2.56 2-2.41 2-2.29 2-2.18 2-2.07 2-1.98 2-1.9 2-1.82 2-1.75 2-1.68 2-1.62 2-1.55 2-1.49 2-1.43 2-1.37 2-1.31 2-1.25 2-1.19 2-1.13 2-1.08 2-1.02 2-.97 2-.58h18"/></g><g stroke-opacity=".05" stroke-width="3.0"><path d="M-3 48.92h1h1h1h1h1h1l1-2.29h1h1l1-1.52 1-1.63 1-1.57 1-1.52 1-1.46 1-1.27h1l1-1.18 1-1.43 1-1.37 2-2.61 2-2.43 2-2.29 2-2.15 2-2.03 2-1.93 2-1.82 2-1.73 2-1.65 2-1.56 2-1.48 2-1.41 2-1.34 2-1.26 2-1.2 2-1.13 2-1.07 2-1 2-.94 2-.88 2-.83 2-.77 2-.17h18"/><path d="M-3 50.47h1h1h1h1h1h1l1-3.89h1h1l1-1.38 1-1.48 1-1.44 1-1.39 1-1.34 1-1.18h1l1-1.1 1-1.33 1-1.29 2-2.46 2-2.32 2-2.2 2-2.08 2-1.99 2-1.9 2-1.82 2-1.75 2-1.67 2-1.61 2-1.54 2-1.48 2-1.42 2-1.37 2-1.3 2-1.24 2-1.19 2-1.13 2-1.08 2-1.01 2-.97 2-.91 2-.21h18"/><path d="M-3 52.8h1h1h1h1h1h1l1-3.8h1h1l1-1.48 1-1.58 1-1.53 1-1.48 1-1.43 1-1.25h1l1-1.17 1-1.42 1-1.37 2-2.61 2-2.46 2-2.32 2-2.2 2-2.1 2-2 2-1.91 2-1.83 2-1.75 2-1.68 2-1.61 2-1.55 2-1.47 2-1.41 2-1.35 2-1.29 2-1.22 2-1.17 2-1.1 2-1.05 2-.98 2-.93 2-.3h18"/></g><g stroke-opacity=".06" stroke-width="3.0"><path d="M-3 41.11h1h1h1h1h1h1l1-3.9h1h1l1-1.19 1-1.28 1-1.24 1-1.19 1-1.15 1-1h1l1-.93 1-1.12 1-1.09 2-2.05 2-1.93 2-1.82 2-1.71 2-1.62 2-1.54 2-1.46 2-1.39 2-1.32 2-1.27 2-1.2 2-1.14 2-1.09 2-1.04 2-.98 2-.93 2-.88 2-.82 2-.78 2-.74 2-.68 2-.63h20"/><path d="M-3 42.03h1h1h1h1h1h1l1-2.84h1h1l1-1.27 1-1.37 1-1.32 1-1.27 1-1.23 1-1.07h1l1-.99 1-1.2 1-1.15 2-2.19 2-2.06 2-1.93 2-1.83 2-1.73 2-1.65 2-1.57 2-1.5 2-1.43 2-1.37 2-1.3 2-1.24 2-1.18 2-1.12 2-1.07 2-1.01 2-.95 2-.91 2-.84 2-.8 2-.64h22"/><path d="M-3 43.57h1h1h1h1h1h1l1-2.7h1h1l1-1.32 1-1.41 1-1.36 1-1.31 1-1.27 1-1.1h1l1-1.02 1-1.24 1-1.19 2-2.27 2-2.12 2-2 2-1.88 2-1.78 2-1.69 2-1.61 2-1.53 2-1.46 2-1.38 2-1.32 2-1.26 2-1.19 2-1.14 2-1.07 2-1.02 2-.96 2-.91 2-.85 2-.8 2-.75 2-.66h20"/><path d="M-3 44.87h1h1h1h1h1h1l1-2.07h1h1l1-1.38 1-1.48 1-1.43 1-1.38 1-1.33 1-1.15h1l1-1.08 1-1.3 1-1.25 2-2.38 2-2.23 2-2.09 2-1.98 2-1.87 2-1.78 2-1.68 2-1.61 2-1.53 2-1.45 2-1.39 2-1.32 2-1.25 2-1.2 2-1.13 2-1.07 2-1.01 2-.95 2-.9 2-.84 2-.78 2-.58h20"/><path d="M-3 46h1h1h1h1h1h1l1-3.77h1h1l1-1.26 1-1.37 1-1.32 1-1.27 1-1.24 1-1.07h1l1-1.01 1-1.22 1-1.18 2-2.26 2-2.12 2-2.02 2-1.92 2-1.83 2-1.76 2-1.68 2-1.63 2-1.56 2-1.5 2-1.45 2-1.39 2-1.33 2-1.29 2-1.23 2-1.17 2-1.13 2-1.07 2-1.01 2-.97 2-.91 2-.06h20"/><path d="M-3 47.52h1h1h1h1h1h1l1-4.03h1h1l1-1.37 1-1.48 1-1.42 1-1.37 1-1.32 1-1.15h1l1-1.07 1-1.3 1-1.26 2-2.38 2-2.24 2-2.11 2-2 2-1.91 2-1.81 2-1.73 2-1.65 2-1.58 2-1.51 2-1.45 2-1.38 2-1.32 2-1.26 2-1.2 2-1.14 2-1.08 2-1.02 2-.97 2-.91 2-.85 2-.25h20"/></g><g stroke-opacity=".06" stroke-width="4.5"><path d="M-3 41.11h1h1h1h1h1h1l1-3.9h1h1l1-1.16 1-1.24 1-1.2 1-1.15 1-1.12 1-.97h1l1-.91 1-1.1 1-1.07 2-2.02 2-1.89 2-1.79 2-1.69 2-1.61 2-1.52 2-1.46 2-1.38 2-1.33 2-1.26 2-1.21 2-1.16 2-1.1 2-1.05 2-1 2-.94 2-.9 2-.86 2-.8 2-.76 2-.71 2-.67 2-.18h18"/><path d="M-3 42.03h1h1h1h1h1h1l1-2.84h1h1l1-1.23 1-1.33 1-1.28 1-1.24 1-1.19 1-1.04h1l1-.97 1-1.17 1-1.13 2-2.16 2-2.02 2-1.9 2-1.81 2-1.72 2-1.63 2-1.57 2-1.49 2-1.43 2-1.37 2-1.31 2-1.25 2-1.19 2-1.14 2-1.09 2-1.03 2-.98 2-.93 2-.87 2-.83 2-.77 2-.12h20"/><path d="M-3 43.57h1h1h1h1h1h1l1-2.7h1h1l1-1.27 1-1.37 1-1.32 1-1.28 1-1.23 1-1.07h1l1-1.01 1-1.21 1-1.17 2-2.22 2-2.09 2-1.97 2-1.86 2-1.76 2-1.68 2-1.6 2-1.52 2-1.46 2-1.39 2-1.33 2-1.26 2-1.21 2-1.15 2-1.1 2-1.03 2-.99 2-.93 2-.88 2-.83 2-.78 2-.74 2-.16h18"/><path d="M-3 44.87h1h1h1h1h1h1l1-2.07h1h1l1-1.33 1-1.44 1-1.39 1-1.34 1-1.29 1-1.13h1l1-1.05 1-1.27 1-1.23 2-2.34 2-2.19 2-2.06 2-1.95 2-1.86 2-1.76 2-1.68 2-1.6 2-1.53 2-1.46 2-1.39 2-1.33 2-1.27 2-1.21 2-1.15 2-1.09 2-1.04 2-.98 2-.92 2-.88 2-.82 2-.76 2-.06h18"/><path d="M-3 46h1h1h1h1h1h1l1-3.77h1h1l1-1.22 1-1.33 1-1.28 1-1.24 1-1.2 1-1.04h1l1-.99 1-1.19 1-1.16 2-2.21 2-2.09 2-1.98 2-1.9 2-1.81 2-1.74 2-1.68 2-1.61 2-1.56 2-1.5 2-1.45 2-1.4 2-1.35 2-1.3 2-1.24 2-1.2 2-1.15 2-1.09 2-1.05 2-.99 2-.95 2-.33h20"/><path d="M-3 47.52h1h1h1h1h1h1l1-4.03h1h1l1-1.33 1-1.43 1-1.38 1-1.33 1-1.28 1-1.13h1l1-1.05 1-1.27 1-1.23 2-2.34 2-2.2 2-2.08 2-1.97 2-1.89 2-1.79 2-1.72 2-1.65 2-1.58 2-1.51 2-1.46 2-1.39 2-1.33 2-1.28 2-1.22 2-1.16 2-1.1 2-1.06 2-.99 2-.94 2-.89 2-.51h20"/></g><g stroke-opacity=".07" stroke-width="4.5"><path d="M-3 32.22h1h1h1h1h1h1l1-2.31h1h1l1-1.02 1-1.09 1-1.06 1-1.01 1-.97 1-.85h1l1-.78 1-.95 1-.9 2-1.72 2-1.6 2-1.49 2-1.39 2-1.32 2-1.23 2-1.17 2-1.1 2-1.04 2-.98 2-.92 2-.88 2-.82 2-.78 2-.73 2-.68 2-.64 2-.6 2-.56 2-.52 2-.49 2-.44 2-.18h18"/><path d="M-3 32.78h1h1h1h1h1h1l1-3.24h1h1l1-.92 1-.99 1-.96 1-.93 1-.89 1-.78h1l1-.72 1-.88 1-.85 2-1.61 2-1.52 2-1.43 2-1.36 2-1.29 2-1.23 2-1.17 2-1.13 2-1.07 2-1.03 2-.99 2-.95 2-.9 2-.86 2-.82 2-.78 2-.74 2-.71 2-.66 2-.63 2-.59 2-.15h20"/><path d="M-3 34.22h1h1h1h1h1h1l1-1.91h1h1l1-1.01 1-1.08 1-1.05 1-1.01 1-.98 1-.85h1l1-.79 1-.96 1-.93 2-1.76 2-1.65 2-1.56 2-1.47 2-1.39 2-1.32 2-1.26 2-1.2 2-1.15 2-1.09 2-1.04 2-.99 2-.94 2-.9 2-.85 2-.81 2-.77 2-.73 2-.68 2-.64 2-.61 2-.57 2-.27h18"/><path d="M-3 35.32h1h1h1h1h1h1l1-1.87h1h1l1-1.11 1-1.19 1-1.15 1-1.11 1-1.06 1-.93h1l1-.86 1-1.03 1-1 2-1.89 2-1.76 2-1.66 2-1.55 2-1.46 2-1.38 2-1.31 2-1.24 2-1.17 2-1.12 2-1.05 2-1 2-.94 2-.9 2-.84 2-.79 2-.75 2-.7 2-.66 2-.61 2-.57 2-.53 2-.13h18"/><path d="M-3 36.64h1h1h1h1h1h1l1-3.18h1h1l1-1.05 1-1.14 1-1.1 1-1.06 1-1.02 1-.89h1l1-.82 1-1.01 1-.96 2-1.84 2-1.73 2-1.63 2-1.54 2-1.46 2-1.39 2-1.33 2-1.27 2-1.21 2-1.16 2-1.1 2-1.06 2-1.01 2-.96 2-.91 2-.87 2-.83 2-.77 2-.74 2-.69 2-.65 2-.26h20"/><path d="M-3 38.42h1h1h1h1h1h1l1-2.52h1h1l1-1.09 1-1.18 1-1.13 1-1.1 1-1.06 1-.92h1l1-.86 1-1.05 1-1.01 2-1.93 2-1.81 2-1.71 2-1.62 2-1.54 2-1.47 2-1.4 2-1.34 2-1.28 2-1.23 2-1.18 2-1.12 2-1.08 2-1.02 2-.98 2-.94 2-.88 2-.85 2-.79 2-.76 2-.71 2-.67 2-.19h18"/><path d="M-3 39.14h1h1h1h1h1h1l1-3.7h1h1l1-1.14 1-1.22 1-1.18 1-1.14 1-1.09 1-.96h1l1-.88 1-1.08 1-1.03 2-1.97 2-1.84 2-1.73 2-1.64 2-1.56 2-1.48 2-1.4 2-1.35 2-1.28 2-1.22 2-1.17 2-1.11 2-1.06 2-1 2-.96 2-.91 2-.85 2-.82 2-.76 2-.72 2-.67 2-.22h20"/></g><g stroke-opacity=".08" stroke-width="2.0"><path d="M-3 48.92h1h1h1h1h1h1l1-2.29h1h1l1-1.57 1-1.68 1-1.62 1-1.56 1-1.49 1-1.31h1l1-1.2 1-1.46 1-1.4 2-2.65 2-2.48 2-2.31 2-2.18 2-2.05 2-1.94 2-1.83 2-1.73 2-1.64 2-1.56 2-1.47 2-1.4 2-1.32 2-1.24 2-1.18 2-1.1 2-1.04 2-.98 2-.91 2-.85 2-.79 2-.69h20"/><path d="M-3 50.47h1h1h1h1h1h1l1-3.89h1h1l1-1.42 1-1.53 1-1.48 1-1.43 1-1.38 1-1.2h1l1-1.13 1-1.36 1-1.32 2-2.51 2-2.36 2-2.22 2-2.11 2-2.01 2-1.92 2-1.83 2-1.75 2-1.68 2-1.61 2-1.53 2-1.48 2-1.41 2-1.34 2-1.29 2-1.22 2-1.16 2-1.11 2-1.04 2-.99 2-.93 2-.83h20"/><path d="M-3 52.8h1h1h1h1h1h1l1-3.8h1h1l1-1.52 1-1.64 1-1.57 1-1.52 1-1.47 1-1.28h1l1-1.2 1-1.45 1-1.4 2-2.66 2-2.49 2-2.36 2-2.23 2-2.12 2-2.01 2-1.93 2-1.83 2-1.76 2-1.68 2-1.6 2-1.53 2-1.46 2-1.4 2-1.33 2-1.26 2-1.2 2-1.14 2-1.07 2-1.01 2-.96 2-.89 2-.03h18"/></g><g stroke-opacity=".08" stroke-width="3.0"><path d="M-3 32.22h1h1h1h1h1h1l1-2.31h1h1l1-1.05 1-1.13 1-1.08 1-1.05 1-1 1-.87h1l1-.8 1-.96 1-.93 2-1.74 2-1.62 2-1.51 2-1.42 2-1.32 2-1.24 2-1.17 2-1.1 2-1.04 2-.97 2-.92 2-.86 2-.81 2-.77 2-.71 2-.67 2-.62 2-.58 2-.54 2-.5 2-.46 2-.42 2-.05h18"/><path d="M-3 32.78h1h1h1h1h1h1l1-3.24h1h1l1-.95 1-1.02 1-.99 1-.95 1-.92 1-.8h1l1-.74 1-.9 1-.86 2-1.65 2-1.54 2-1.45 2-1.37 2-1.31 2-1.24 2-1.18 2-1.13 2-1.07 2-1.03 2-.98 2-.94 2-.89 2-.85 2-.81 2-.77 2-.72 2-.68 2-.65 2-.6 2-.55h22"/><path d="M-3 34.22h1h1h1h1h1h1l1-1.91h1h1l1-1.04 1-1.12 1-1.08 1-1.04 1-1 1-.88h1l1-.81 1-.98 1-.95 2-1.79 2-1.68 2-1.58 2-1.49 2-1.4 2-1.33 2-1.27 2-1.2 2-1.14 2-1.09 2-1.03 2-.99 2-.93 2-.89 2-.83 2-.8 2-.75 2-.7 2-.67 2-.62 2-.58 2-.54 2-.11h18"/><path d="M-3 35.32h1h1h1h1h1h1l1-1.87h1h1l1-1.14 1-1.23 1-1.19 1-1.14 1-1.09 1-.95h1l1-.88 1-1.06 1-1.02 2-1.92 2-1.79 2-1.68 2-1.57 2-1.47 2-1.39 2-1.31 2-1.24 2-1.17 2-1.11 2-1.05 2-.98 2-.94 2-.87 2-.83 2-.77 2-.73 2-.68 2-.63 2-.59 2-.55 2-.48h20"/><path d="M-3 36.64h1h1h1h1h1h1l1-3.18h1h1l1-1.09 1-1.17 1-1.13 1-1.09 1-1.05 1-.91h1l1-.85 1-1.02 1-.99 2-1.87 2-1.76 2-1.65 2-1.56 2-1.47 2-1.41 2-1.33 2-1.27 2-1.21 2-1.16 2-1.1 2-1.05 2-.99 2-.95 2-.9 2-.85 2-.8 2-.76 2-.71 2-.67 2-.62 2-.07h20"/><path d="M-3 38.42h1h1h1h1h1h1l1-2.52h1h1l1-1.13 1-1.21 1-1.17 1-1.12 1-1.09 1-.95h1l1-.89 1-1.07 1-1.03 2-1.96 2-1.84 2-1.74 2-1.64 2-1.55 2-1.48 2-1.41 2-1.35 2-1.28 2-1.23 2-1.17 2-1.12 2-1.06 2-1.01 2-.97 2-.91 2-.87 2-.82 2-.77 2-.73 2-.69 2-.64h20"/><path d="M-3 39.14h1h1h1h1h1h1l1-3.7h1h1l1-1.18 1-1.26 1-1.21 1-1.17 1-1.13 1-.97h1l1-.91 1-1.1 1-1.06 2-2 2-1.87 2-1.76 2-1.66 2-1.57 2-1.49 2-1.41 2-1.34 2-1.28 2-1.22 2-1.16 2-1.1 2-1.05 2-.99 2-.94 2-.88 2-.84 2-.79 2-.74 2-.69 2-.64 2-.03h20"/></g><g stroke-opacity=".08" stroke-width="4.5"><path d="M-3 22.23h1h1h1h1h1h1l1-1.38h1h1l1-.71 1-.75 1-.73 1-.7 1-.67 1-.59h1l1-.54 1-.65 1-.63 2-1.19 2-1.11 2-1.03 2-.98 2-.92 2-.86 2-.82 2-.78 2-.73 2-.7 2-.65 2-.63 2-.59 2-.55 2-.53 2-.49 2-.46 2-.44 2-.4 2-.38 2-.35 2-.29h20"/><path d="M-3 22.96h1h1h1h1h1h1l1-1.97h1h1l1-.72 1-.76 1-.73 1-.71 1-.68 1-.59h1l1-.55 1-.66 1-.63 2-1.2 2-1.12 2-1.05 2-.98 2-.93 2-.87 2-.83 2-.78 2-.74 2-.7 2-.66 2-.63 2-.59 2-.56 2-.53 2-.49 2-.47 2-.43 2-.41 2-.38 2-.35 2-.26h20"/><path d="M-3 23.83h1h1h1h1h1h1l1-1.89h1h1l1-.78 1-.83 1-.81 1-.77 1-.74 1-.64h1l1-.59 1-.71 1-.68 2-1.29 2-1.2 2-1.11 2-1.04 2-.98 2-.92 2-.87 2-.82 2-.77 2-.72 2-.68 2-.65 2-.6 2-.57 2-.53 2-.5 2-.47 2-.43 2-.4 2-.37 2-.35 2-.12h20"/><path d="M-3 25.09h1h1h1h1h1h1l1-2.25h1h1l1-.75 1-.8 1-.77 1-.75 1-.71 1-.63h1l1-.58 1-.7 1-.67 2-1.28 2-1.2 2-1.13 2-1.06 2-1 2-.96 2-.9 2-.86 2-.82 2-.78 2-.75 2-.7 2-.68 2-.63 2-.61 2-.57 2-.54 2-.51 2-.47 2-.45 2-.42 2-.16h20"/><path d="M-3 26.43h1h1h1h1h1h1l1-2.59h1h1l1-.81 1-.86 1-.83 1-.79 1-.77 1-.67h1l1-.62 1-.74 1-.72 2-1.36 2-1.27 2-1.18 2-1.12 2-1.05 2-.99 2-.94 2-.89 2-.84 2-.8 2-.75 2-.72 2-.68 2-.64 2-.6 2-.57 2-.54 2-.5 2-.46 2-.44 2-.41 2-.28h20"/><path d="M-3 27.09h1h1h1h1h1h1l1-1.51h1h1l1-.83 1-.88 1-.85 1-.83 1-.79 1-.69h1l1-.64 1-.78 1-.75 2-1.42 2-1.33 2-1.25 2-1.18 2-1.12 2-1.06 2-1.01 2-.96 2-.91 2-.87 2-.83 2-.79 2-.75 2-.71 2-.68 2-.64 2-.6 2-.57 2-.54 2-.5 2-.47 2-.35h20"/><path d="M-3 28.6h1h1h1h1h1h1l1-2.48h1h1l1-.86 1-.93 1-.9 1-.86 1-.83 1-.73h1l1-.67 1-.8 1-.78 2-1.48 2-1.37 2-1.3 2-1.21 2-1.15 2-1.08 2-1.03 2-.97 2-.92 2-.88 2-.83 2-.79 2-.74 2-.71 2-.67 2-.63 2-.59 2-.55 2-.53 2-.48 2-.46 2-.39h20"/><path d="M-3 29.55h1h1h1h1h1h1l1-1.4h1h1l1-.98 1-1.05 1-1.01 1-.97 1-.93 1-.81h1l1-.75 1-.9 1-.86 2-1.64 2-1.52 2-1.42 2-1.33 2-1.25 2-1.18 2-1.11 2-1.05 2-.99 2-.94 2-.88 2-.83 2-.79 2-.74 2-.7 2-.65 2-.61 2-.57 2-.53 2-.49 2-.46 2-.21h20"/><path d="M-3 30.76h1h1h1h1h1h1l1-2.82h1h1l1-.95 1-1.02 1-.99 1-.94 1-.91 1-.79h1l1-.73 1-.88 1-.85 2-1.6 2-1.49 2-1.4 2-1.3 2-1.24 2-1.16 2-1.09 2-1.04 2-.97 2-.93 2-.88 2-.82 2-.78 2-.74 2-.69 2-.65 2-.61 2-.57 2-.54 2-.49 2-.46 2-.43h20"/></g><g stroke-opacity=".10" stroke-width="2.0"><path d="M-3 41.11h1h1h1h1h1h1l1-3.9h1h1l1-1.23 1-1.32 1-1.27 1-1.22 1-1.18 1-1.03h1l1-.95 1-1.15 1-1.1 2-2.1 2-1.96 2-1.84 2-1.73 2-1.63 2-1.55 2-1.47 2-1.39 2-1.33 2-1.26 2-1.19 2-1.14 2-1.07 2-1.02 2-.96 2-.91 2-.86 2-.81 2-.75 2-.71 2-.66 2-.42h20"/><path d="M-3 42.03h1h1h1h1h1h1l1-2.84h1h1l1-1.31 1-1.41 1-1.36 1-1.31 1-1.26 1-1.09h1l1-1.02 1-1.22 1-1.18 2-2.23 2-2.09 2-1.96 2-1.84 2-1.75 2-1.66 2-1.58 2-1.5 2-1.43 2-1.36 2-1.29 2-1.23 2-1.17 2-1.11 2-1.04 2-.99 2-.93 2-.88 2-.82 2-.77 2-.4h22"/><path d="M-3 43.57h1h1h1h1h1h1l1-2.7h1h1l1-1.36 1-1.45 1-1.4 1-1.35 1-1.3 1-1.13h1l1-1.05 1-1.26 1-1.22 2-2.31 2-2.15 2-2.03 2-1.9 2-1.8 2-1.7 2-1.61 2-1.54 2-1.45 2-1.38 2-1.31 2-1.25 2-1.18 2-1.12 2-1.05 2-1 2-.94 2-.88 2-.83 2-.77 2-.72 2-.43h20"/><path d="M-3 44.87h1h1h1h1h1h1l1-2.07h1h1l1-1.42 1-1.53 1-1.47 1-1.42 1-1.36 1-1.19h1l1-1.1 1-1.32 1-1.28 2-2.42 2-2.27 2-2.12 2-2 2-1.89 2-1.78 2-1.7 2-1.61 2-1.52 2-1.45 2-1.38 2-1.31 2-1.24 2-1.17 2-1.11 2-1.05 2-.99 2-.92 2-.87 2-.81 2-.76 2-.34h20"/><path d="M-3 46h1h1h1h1h1h1l1-3.77h1h1l1-1.3 1-1.41 1-1.36 1-1.31 1-1.27 1-1.1h1l1-1.03 1-1.25 1-1.2 2-2.3 2-2.16 2-2.05 2-1.94 2-1.85 2-1.77 2-1.7 2-1.63 2-1.56 2-1.5 2-1.45 2-1.38 2-1.32 2-1.27 2-1.21 2-1.16 2-1.1 2-1.05 2-.99 2-.93 2-.68h22"/><path d="M-3 47.52h1h1h1h1h1h1l1-4.03h1h1l1-1.42 1-1.51 1-1.46 1-1.41 1-1.36 1-1.18h1l1-1.1 1-1.33 1-1.28 2-2.42 2-2.28 2-2.14 2-2.03 2-1.92 2-1.82 2-1.74 2-1.66 2-1.58 2-1.51 2-1.43 2-1.38 2-1.3 2-1.24 2-1.18 2-1.12 2-1.05 2-1 2-.94 2-.88 2-.82h2h20"/></g><g stroke-opacity=".10" stroke-width="3.0"><path d="M-3 22.23h1h1h1h1h1h1l1-1.38h1h1l1-.73 1-.78 1-.75 1-.72 1-.69 1-.6h1l1-.55 1-.67 1-.64 2-1.21 2-1.13 2-1.05 2-.98 2-.93 2-.87 2-.82 2-.78 2-.73 2-.69 2-.65 2-.62 2-.58 2-.54 2-.52 2-.48 2-.45 2-.42 2-.39 2-.36 2-.34 2-.18h20"/><path d="M-3 22.96h1h1h1h1h1h1l1-1.97h1h1l1-.74 1-.79 1-.75 1-.73 1-.7 1-.6h1l1-.56 1-.68 1-.65 2-1.22 2-1.13 2-1.06 2-1 2-.93 2-.88 2-.83 2-.78 2-.74 2-.69 2-.66 2-.62 2-.58 2-.55 2-.52 2-.48 2-.45 2-.42 2-.39 2-.37 2-.33 2-.16h20"/><path d="M-3 23.83h1h1h1h1h1h1l1-1.89h1h1l1-.8 1-.86 1-.83 1-.79 1-.76 1-.66h1l1-.6 1-.73 1-.7 2-1.31 2-1.21 2-1.13 2-1.05 2-.99 2-.92 2-.87 2-.82 2-.76 2-.72 2-.68 2-.63 2-.6 2-.56 2-.52 2-.48 2-.45 2-.42 2-.38 2-.36 2-.33 2-.02h20"/><path d="M-3 25.09h1h1h1h1h1h1l1-2.25h1h1l1-.77 1-.83 1-.79 1-.77 1-.74 1-.64h1l1-.59 1-.72 1-.68 2-1.31 2-1.21 2-1.15 2-1.07 2-1.01 2-.96 2-.91 2-.87 2-.81 2-.78 2-.74 2-.7 2-.66 2-.63 2-.59 2-.56 2-.53 2-.49 2-.46 2-.43 2-.4 2-.04h20"/><path d="M-3 26.43h1h1h1h1h1h1l1-2.59h1h1l1-.83 1-.89 1-.85 1-.83 1-.78 1-.69h1l1-.63 1-.76 1-.73 2-1.39 2-1.28 2-1.2 2-1.13 2-1.06 2-1 2-.94 2-.89 2-.84 2-.8 2-.75 2-.7 2-.67 2-.63 2-.59 2-.56 2-.51 2-.49 2-.45 2-.42 2-.39 2-.16h20"/><path d="M-3 27.09h1h1h1h1h1h1l1-1.51h1h1l1-.85 1-.92 1-.87 1-.85 1-.82 1-.7h1l1-.66 1-.79 1-.77 2-1.45 2-1.35 2-1.27 2-1.19 2-1.13 2-1.07 2-1.01 2-.96 2-.91 2-.87 2-.82 2-.78 2-.75 2-.7 2-.66 2-.63 2-.58 2-.56 2-.52 2-.48 2-.45 2-.21h20"/><path d="M-3 28.6h1h1h1h1h1h1l1-2.48h1h1l1-.89 1-.96 1-.92 1-.89 1-.85 1-.75h1l1-.68 1-.83 1-.79 2-1.5 2-1.4 2-1.31 2-1.23 2-1.16 2-1.09 2-1.03 2-.97 2-.92 2-.87 2-.83 2-.78 2-.73 2-.7 2-.65 2-.61 2-.58 2-.54 2-.5 2-.47 2-.43 2-.26h20"/><path d="M-3 29.55h1h1h1h1h1h1l1-1.4h1h1l1-1.01 1-1.08 1-1.04 1-1 1-.96 1-.83h1l1-.76 1-.92 1-.88 2-1.67 2-1.54 2-1.44 2-1.34 2-1.26 2-1.19 2-1.11 2-1.05 2-.99 2-.93 2-.87 2-.83 2-.77 2-.73 2-.68 2-.63 2-.59 2-.55 2-.51 2-.48 2-.43 2-.08h20"/><path d="M-3 30.76h1h1h1h1h1h1l1-2.82h1h1l1-.98 1-1.06 1-1.01 1-.97 1-.93 1-.81h1l1-.75 1-.9 1-.86 2-1.64 2-1.51 2-1.41 2-1.33 2-1.24 2-1.16 2-1.1 2-1.04 2-.97 2-.92 2-.87 2-.82 2-.77 2-.72 2-.68 2-.63 2-.59 2-.55 2-.52 2-.47 2-.44 2-.29h20"/></g><g stroke-opacity=".10" stroke-width="4.5"><path d="M-3 13.51h1h1h1h1h1h1l1-1.01h1h1l1-.44 1-.48 1-.45 1-.44 1-.42 1-.36h1l1-.34 1-.4 1-.39 2-.73 2-.69 2-.63 2-.59 2-.56 2-.52 2-.49 2-.47 2-.43 2-.41 2-.39 2-.37 2-.34 2-.32 2-.3 2-.29 2-.26 2-.24 2-.23 2-.21 2-.2 2-.11h20"/><path d="M-3 14.11h1h1h1h1h1h1l1-.92h1h1l1-.49 1-.53 1-.5 1-.48 1-.46 1-.4h1l1-.37 1-.44 1-.42 2-.8 2-.73 2-.68 2-.63 2-.59 2-.55 2-.52 2-.48 2-.45 2-.43 2-.4 2-.37 2-.34 2-.33 2-.3 2-.28 2-.26 2-.24 2-.22 2-.2 2-.19 2-.11h20"/><path d="M-3 15h1h1h1h1h1h1l1-.73h1h1l1-.5 1-.54 1-.51 1-.5 1-.48 1-.41h1l1-.38 1-.46 1-.44 2-.84 2-.77 2-.72 2-.67 2-.63 2-.6 2-.55 2-.53 2-.49 2-.47 2-.44 2-.41 2-.38 2-.37 2-.34 2-.32 2-.29 2-.28 2-.26 2-.24 2-.22 2-.2 2-.03h18"/><path d="M-3 15.97h1h1h1h1h1h1l1-1.15h1h1l1-.53 1-.56 1-.55 1-.52 1-.5 1-.43h1l1-.4 1-.48 1-.46 2-.87 2-.81 2-.75 2-.71 2-.66 2-.62 2-.58 2-.55 2-.52 2-.49 2-.46 2-.43 2-.41 2-.38 2-.36 2-.33 2-.31 2-.29 2-.27 2-.25 2-.23 2-.11h20"/><path d="M-3 17.37h1h1h1h1h1h1l1-1.09h1h1l1-.56 1-.6 1-.58 1-.56 1-.53 1-.47h1l1-.43 1-.52 1-.49 2-.94 2-.88 2-.81 2-.77 2-.71 2-.68 2-.64 2-.59 2-.57 2-.53 2-.51 2-.47 2-.45 2-.42 2-.4 2-.37 2-.34 2-.33 2-.3 2-.28 2-.26 2-.24 2-.05h18"/><path d="M-3 18.16h1h1h1h1h1h1l1-1.47h1h1l1-.59 1-.62 1-.6 1-.58 1-.55 1-.48h1l1-.45 1-.53 1-.52 2-.97 2-.9 2-.84 2-.78 2-.74 2-.7 2-.65 2-.62 2-.58 2-.55 2-.51 2-.49 2-.46 2-.43 2-.4 2-.38 2-.35 2-.33 2-.31 2-.28 2-.26 2-.24h20"/><path d="M-3 18.7h1h1h1h1h1h1l1-.88h1h1l1-.63 1-.66 1-.64 1-.62 1-.59 1-.51h1l1-.48 1-.57 1-.55 2-1.03 2-.96 2-.9 2-.84 2-.79 2-.74 2-.69 2-.66 2-.62 2-.58 2-.55 2-.51 2-.49 2-.46 2-.43 2-.4 2-.37 2-.35 2-.33 2-.3 2-.28 2-.25 2-.04h18"/><path d="M-3 19.58h1h1h1h1h1h1l1-1.1h1h1l1-.62 1-.65 1-.63 1-.61 1-.59 1-.51h1l1-.47 1-.57 1-.55 2-1.04 2-.97 2-.92 2-.86 2-.81 2-.76 2-.73 2-.69 2-.66 2-.62 2-.59 2-.56 2-.53 2-.5 2-.47 2-.45 2-.42 2-.4 2-.37 2-.35 2-.32 2-.26h20"/><path d="M-3 21.22h1h1h1h1h1h1l1-1.46h1h1l1-.69 1-.75 1-.71 1-.69 1-.66 1-.57h1l1-.53 1-.63 1-.61 2-1.16 2-1.07 2-.99 2-.93 2-.88 2-.82 2-.77 2-.72 2-.69 2-.64 2-.61 2-.57 2-.53 2-.51 2-.47 2-.44 2-.41 2-.39 2-.35 2-.33 2-.31 2-.28 2-.05h18"/></g><g stroke-opacity=".11" stroke-width="3.0"><path d="M-3 13.51h1h1h1h1h1h1l1-1.01h1h1l1-.46 1-.48 1-.47 1-.45 1-.44 1-.37h1l1-.34 1-.42 1-.39 2-.75 2-.69 2-.64 2-.6 2-.56 2-.52 2-.5 2-.46 2-.43 2-.41 2-.39 2-.36 2-.33 2-.32 2-.29 2-.28 2-.25 2-.24 2-.22 2-.2 2-.19 2-.05h20"/><path d="M-3 14.11h1h1h1h1h1h1l1-.92h1h1l1-.51 1-.54 1-.52 1-.49 1-.48 1-.41h1l1-.37 1-.45 1-.43 2-.81 2-.74 2-.69 2-.64 2-.59 2-.55 2-.52 2-.48 2-.45 2-.42 2-.39 2-.37 2-.34 2-.31 2-.3 2-.27 2-.25 2-.23 2-.21 2-.19 2-.18 2-.06h20"/><path d="M-3 15h1h1h1h1h1h1l1-.73h1h1l1-.51 1-.56 1-.53 1-.51 1-.49 1-.43h1l1-.39 1-.47 1-.45 2-.84 2-.79 2-.73 2-.68 2-.63 2-.6 2-.56 2-.52 2-.49 2-.47 2-.43 2-.41 2-.38 2-.35 2-.33 2-.31 2-.29 2-.27 2-.25 2-.22 2-.21 2-.17h20"/><path d="M-3 15.97h1h1h1h1h1h1l1-1.15h1h1l1-.55 1-.58 1-.56 1-.53 1-.51 1-.45h1l1-.41 1-.49 1-.47 2-.88 2-.82 2-.77 2-.71 2-.66 2-.63 2-.58 2-.55 2-.52 2-.48 2-.46 2-.42 2-.4 2-.38 2-.35 2-.32 2-.3 2-.28 2-.26 2-.24 2-.22 2-.04h20"/><path d="M-3 17.37h1h1h1h1h1h1l1-1.09h1h1l1-.58 1-.62 1-.59 1-.58 1-.55 1-.47h1l1-.44 1-.53 1-.51 2-.96 2-.88 2-.83 2-.77 2-.73 2-.67 2-.64 2-.6 2-.56 2-.54 2-.49 2-.47 2-.44 2-.42 2-.38 2-.36 2-.34 2-.31 2-.29 2-.27 2-.25 2-.21h20"/><path d="M-3 18.16h1h1h1h1h1h1l1-1.47h1h1l1-.61 1-.64 1-.62 1-.59 1-.57 1-.49h1l1-.46 1-.54 1-.53 2-.98 2-.92 2-.85 2-.8 2-.74 2-.7 2-.65 2-.62 2-.58 2-.54 2-.51 2-.48 2-.45 2-.42 2-.4 2-.37 2-.34 2-.32 2-.29 2-.27 2-.25 2-.16h20"/><path d="M-3 18.7h1h1h1h1h1h1l1-.88h1h1l1-.65 1-.68 1-.66 1-.64 1-.61 1-.52h1l1-.49 1-.58 1-.56 2-1.05 2-.98 2-.91 2-.84 2-.8 2-.74 2-.7 2-.65 2-.62 2-.58 2-.54 2-.51 2-.48 2-.45 2-.41 2-.39 2-.37 2-.34 2-.31 2-.29 2-.26 2-.21h20"/><path d="M-3 19.58h1h1h1h1h1h1l1-1.1h1h1l1-.64 1-.67 1-.65 1-.63 1-.6 1-.52h1l1-.49 1-.58 1-.56 2-1.06 2-.99 2-.92 2-.87 2-.82 2-.77 2-.73 2-.69 2-.66 2-.61 2-.59 2-.55 2-.53 2-.49 2-.47 2-.43 2-.41 2-.39 2-.36 2-.33 2-.31 2-.16h20"/><path d="M-3 21.22h1h1h1h1h1h1l1-1.46h1h1l1-.72 1-.76 1-.74 1-.71 1-.67 1-.59h1l1-.54 1-.65 1-.62 2-1.17 2-1.09 2-1.01 2-.94 2-.88 2-.82 2-.77 2-.73 2-.68 2-.64 2-.6 2-.56 2-.53 2-.49 2-.46 2-.43 2-.4 2-.37 2-.35 2-.31 2-.29 2-.24h20"/></g><g stroke-opacity=".11" stroke-width="4.5"><path d="M-3 4.54h1h1h1h1h1h1l1-.42h1h1l1-.15 1-.17 1-.16 1-.15 1-.15 1-.12h1l1-.12 1-.13 1-.14 2-.25 2-.23 2-.21 2-.2 2-.18 2-.18 2-.16 2-.15 2-.14 2-.13 2-.12 2-.12 2-.1 2-.1 2-.1 2-.08 2-.08 2-.08 2-.06 2-.07 2-.05 2-.04h20"/><path d="M-3 5.34h1h1h1h1h1h1l1-.44h1h1l1-.19 1-.21 1-.19 1-.18 1-.18 1-.15h1l1-.14 1-.17 1-.16 2-.3 2-.28 2-.25 2-.24 2-.22 2-.2 2-.19 2-.17 2-.17 2-.15 2-.14 2-.13 2-.13 2-.11 2-.1 2-.1 2-.09 2-.08 2-.08 2-.07 2-.06 2-.05 2-.02h18"/><path d="M-3 5.58h1h1h1h1h1h1l1-.35h1h1l1-.19 1-.19 1-.2 1-.18 1-.18 1-.15h1l1-.14 1-.17 1-.16 2-.31 2-.28 2-.27 2-.25 2-.23 2-.22 2-.2 2-.2 2-.18 2-.17 2-.16 2-.15 2-.15 2-.13 2-.12 2-.12 2-.11 2-.1 2-.1 2-.08 2-.08 2-.06h20"/><path d="M-3 6.62h1h1h1h1h1h1l1-.65h1h1l1-.23 1-.24 1-.23 1-.23 1-.21 1-.18h1l1-.17 1-.21 1-.19 2-.36 2-.34 2-.31 2-.29 2-.26 2-.25 2-.24 2-.21 2-.21 2-.19 2-.18 2-.16 2-.16 2-.14 2-.13 2-.13 2-.11 2-.11 2-.09 2-.09 2-.08 2-.04h20"/><path d="M-3 7.03h1h1h1h1h1h1l1-.69h1h1l1-.24 1-.25 1-.24 1-.24 1-.22 1-.2h1l1-.17 1-.22 1-.2 2-.39 2-.35 2-.33 2-.3 2-.29 2-.26 2-.25 2-.23 2-.22 2-.21 2-.19 2-.17 2-.17 2-.15 2-.15 2-.13 2-.12 2-.12 2-.1 2-.1 2-.09 2-.04h20"/><path d="M-3 7.7h1h1h1h1h1h1l1-.4h1h1l1-.27 1-.29 1-.28 1-.27 1-.26 1-.22h1l1-.21 1-.24 1-.23 2-.45 2-.4 2-.38 2-.35 2-.33 2-.31 2-.28 2-.27 2-.25 2-.24 2-.21 2-.21 2-.19 2-.18 2-.17 2-.15 2-.14 2-.14 2-.12 2-.11 2-.1 2-.05h20"/><path d="M-3 7.95h1h1h1h1h1h1l1-.76h1h1l1-.27 1-.29 1-.27 1-.26 1-.25 1-.22h1l1-.2 1-.24 1-.23 2-.43 2-.4 2-.37 2-.35 2-.32 2-.3 2-.28 2-.26 2-.25 2-.23 2-.22 2-.2 2-.19 2-.18 2-.17 2-.15 2-.14 2-.13 2-.13 2-.11 2-.1 2-.05h20"/><path d="M-3 8.66h1h1h1h1h1h1l1-.61h1h1l1-.31 1-.33 1-.32 1-.31 1-.29 1-.25h1l1-.23 1-.28 1-.26 2-.49 2-.46 2-.42 2-.39 2-.36 2-.34 2-.31 2-.29 2-.27 2-.25 2-.24 2-.22 2-.2 2-.19 2-.17 2-.16 2-.15 2-.14 2-.12 2-.11 2-.11 2-.08h20"/><path d="M-3 9.75h1h1h1h1h1h1l1-.89h1h1l1-.33 1-.35 1-.34 1-.32 1-.31 1-.27h1l1-.24 1-.3 1-.28 2-.53 2-.49 2-.46 2-.42 2-.4 2-.36 2-.35 2-.32 2-.3 2-.28 2-.27 2-.24 2-.23 2-.22 2-.2 2-.18 2-.17 2-.16 2-.15 2-.13 2-.13 2-.11 2-.02h18"/><path d="M-3 10.17h1h1h1h1h1h1l1-.61h1h1l1-.35 1-.37 1-.36 1-.34 1-.33 1-.29h1l1-.26 1-.32 1-.3 2-.57 2-.53 2-.48 2-.46 2-.42 2-.4 2-.37 2-.34 2-.33 2-.3 2-.28 2-.27 2-.25 2-.23 2-.22 2-.2 2-.18 2-.18 2-.16 2-.14 2-.14 2-.12 2-.07h18"/><path d="M-3 11.17h1h1h1h1h1h1l1-.74h1h1l1-.37 1-.39 1-.37 1-.36 1-.35 1-.3h1l1-.28 1-.34 1-.32 2-.6 2-.57 2-.52 2-.49 2-.46 2-.44 2-.4 2-.39 2-.36 2-.34 2-.32 2-.3 2-.29 2-.26 2-.25 2-.24 2-.22 2-.2 2-.19 2-.17 2-.17 2-.15 2-.02h18"/><path d="M-3 12.21h1h1h1h1h1h1l1-.85h1h1l1-.41 1-.44 1-.42 1-.41 1-.38 1-.34h1l1-.31 1-.37 1-.36 2-.67 2-.62 2-.58 2-.54 2-.51 2-.47 2-.45 2-.42 2-.39 2-.37 2-.35 2-.32 2-.31 2-.28 2-.27 2-.25 2-.23 2-.22 2-.2 2-.18 2-.17 2-.12h20"/><path d="M-3 12.79h1h1h1h1h1h1l1-1.12h1h1l1-.45 1-.47 1-.46 1-.44 1-.41 1-.37h1l1-.33 1-.39 1-.38 2-.71 2-.66 2-.61 2-.56 2-.52 2-.49 2-.45 2-.42 2-.4 2-.36 2-.35 2-.32 2-.29 2-.28 2-.26 2-.23 2-.22 2-.2 2-.19 2-.17 2-.15 2-.13h20"/></g><g stroke-opacity=".13" stroke-width="2.0"><path d="M-3 32.22h1h1h1h1h1h1l1-2.31h1h1l1-1.08 1-1.17 1-1.11 1-1.07 1-1.03 1-.89h1l1-.82 1-.98 1-.95 2-1.77 2-1.65 2-1.53 2-1.42 2-1.34 2-1.24 2-1.17 2-1.1 2-1.03 2-.97 2-.91 2-.85 2-.8 2-.75 2-.7 2-.65 2-.6 2-.56 2-.52 2-.48 2-.44 2-.33h20"/><path d="M-3 32.78h1h1h1h1h1h1l1-3.24h1h1l1-.98 1-1.05 1-1.02 1-.98 1-.94 1-.82h1l1-.76 1-.91 1-.89 2-1.67 2-1.57 2-1.47 2-1.39 2-1.31 2-1.25 2-1.19 2-1.13 2-1.07 2-1.03 2-.98 2-.92 2-.89 2-.83 2-.8 2-.75 2-.7 2-.67 2-.62 2-.58 2-.37h22"/><path d="M-3 34.22h1h1h1h1h1h1l1-1.91h1h1l1-1.07 1-1.16 1-1.11 1-1.07 1-1.03 1-.89h1l1-.83 1-1 1-.97 2-1.83 2-1.7 2-1.6 2-1.51 2-1.41 2-1.35 2-1.27 2-1.2 2-1.14 2-1.09 2-1.02 2-.98 2-.92 2-.87 2-.82 2-.78 2-.73 2-.69 2-.64 2-.6 2-.56 2-.47h20"/><path d="M-3 35.32h1h1h1h1h1h1l1-1.87h1h1l1-1.18 1-1.27 1-1.21 1-1.17 1-1.13 1-.97h1l1-.9 1-1.08 1-1.04 2-1.96 2-1.81 2-1.7 2-1.59 2-1.48 2-1.4 2-1.32 2-1.24 2-1.16 2-1.1 2-1.04 2-.98 2-.91 2-.87 2-.8 2-.76 2-.71 2-.65 2-.61 2-.57 2-.52 2-.32h20"/><path d="M-3 36.64h1h1h1h1h1h1l1-3.18h1h1l1-1.12 1-1.21 1-1.16 1-1.12 1-1.08 1-.93h1l1-.87 1-1.05 1-1 2-1.91 2-1.78 2-1.68 2-1.57 2-1.49 2-1.41 2-1.34 2-1.28 2-1.21 2-1.15 2-1.09 2-1.04 2-.98 2-.94 2-.88 2-.83 2-.78 2-.74 2-.68 2-.65 2-.49h22"/><path d="M-3 38.42h1h1h1h1h1h1l1-2.52h1h1l1-1.16 1-1.25 1-1.2 1-1.16 1-1.12 1-.97h1l1-.91 1-1.09 1-1.05 2-2 2-1.87 2-1.76 2-1.66 2-1.57 2-1.49 2-1.42 2-1.35 2-1.28 2-1.23 2-1.16 2-1.11 2-1.05 2-1 2-.95 2-.89 2-.85 2-.8 2-.75 2-.71 2-.66 2-.43h20"/><path d="M-3 39.14h1h1h1h1h1h1l1-3.7h1h1l1-1.21 1-1.3 1-1.25 1-1.2 1-1.16 1-1h1l1-.93 1-1.12 1-1.08 2-2.03 2-1.91 2-1.78 2-1.68 2-1.58 2-1.5 2-1.41 2-1.35 2-1.28 2-1.21 2-1.15 2-1.09 2-1.04 2-.97 2-.92 2-.87 2-.81 2-.77 2-.71 2-.66 2-.47h22"/></g><g stroke-opacity=".13" stroke-width="3.0"><path d="M-3 4.54h1h1h1h1h1h1l1-.42h1h1l1-.16 1-.17 1-.16 1-.16 1-.15 1-.13h1l1-.12 1-.14 1-.13 2-.26 2-.23 2-.21 2-.2 2-.19 2-.17 2-.16 2-.15 2-.14 2-.13 2-.12 2-.12 2-.1 2-.1 2-.09 2-.08 2-.08 2-.07 2-.07 2-.06 2-.05 2-.02h20"/><path d="M-3 5.34h1h1h1h1h1h1l1-.44h1h1l1-.2 1-.21 1-.2 1-.19 1-.18 1-.15h1l1-.15 1-.17 1-.16 2-.31 2-.28 2-.25 2-.24 2-.22 2-.21 2-.18 2-.18 2-.16 2-.15 2-.14 2-.13 2-.12 2-.11 2-.1 2-.1 2-.08 2-.08 2-.07 2-.07 2-.06 2-.05h20"/><path d="M-3 5.58h1h1h1h1h1h1l1-.35h1h1l1-.19 1-.21 1-.19 1-.19 1-.18 1-.16h1l1-.14 1-.18 1-.16 2-.32 2-.28 2-.27 2-.25 2-.24 2-.22 2-.2 2-.2 2-.18 2-.17 2-.16 2-.15 2-.14 2-.13 2-.12 2-.11 2-.11 2-.1 2-.09 2-.08 2-.08 2-.03h20"/><path d="M-3 6.62h1h1h1h1h1h1l1-.65h1h1l1-.24 1-.25 1-.24 1-.22 1-.22 1-.19h1l1-.17 1-.21 1-.2 2-.37 2-.34 2-.31 2-.29 2-.27 2-.25 2-.24 2-.21 2-.2 2-.19 2-.18 2-.16 2-.15 2-.14 2-.13 2-.12 2-.11 2-.1 2-.09 2-.09 2-.07 2-.02h20"/><path d="M-3 7.03h1h1h1h1h1h1l1-.69h1h1l1-.24 1-.27 1-.25 1-.24 1-.23 1-.2h1l1-.18 1-.22 1-.2 2-.39 2-.36 2-.34 2-.3 2-.29 2-.27 2-.25 2-.23 2-.21 2-.2 2-.19 2-.18 2-.16 2-.15 2-.14 2-.13 2-.12 2-.11 2-.1 2-.09 2-.08 2-.02h20"/><path d="M-3 7.7h1h1h1h1h1h1l1-.4h1h1l1-.28 1-.3 1-.29 1-.27 1-.27 1-.23h1l1-.21 1-.25 1-.24 2-.44 2-.42 2-.38 2-.35 2-.33 2-.31 2-.29 2-.26 2-.25 2-.23 2-.22 2-.2 2-.19 2-.18 2-.16 2-.15 2-.13 2-.13 2-.12 2-.1 2-.1 2-.02h20"/><path d="M-3 7.95h1h1h1h1h1h1l1-.76h1h1l1-.28 1-.29 1-.28 1-.27 1-.26 1-.22h1l1-.21 1-.24 1-.24 2-.44 2-.4 2-.38 2-.34 2-.33 2-.3 2-.28 2-.27 2-.24 2-.23 2-.22 2-.2 2-.18 2-.18 2-.16 2-.15 2-.13 2-.13 2-.12 2-.1 2-.1 2-.02h20"/><path d="M-3 8.66h1h1h1h1h1h1l1-.61h1h1l1-.32 1-.35 1-.32 1-.32 1-.3 1-.25h1l1-.24 1-.28 1-.27 2-.5 2-.46 2-.43 2-.39 2-.36 2-.34 2-.31 2-.29 2-.27 2-.25 2-.23 2-.21 2-.2 2-.19 2-.17 2-.15 2-.14 2-.13 2-.12 2-.11 2-.1 2-.05h20"/><path d="M-3 9.75h1h1h1h1h1h1l1-.89h1h1l1-.34 1-.36 1-.35 1-.33 1-.32 1-.27h1l1-.25 1-.3 1-.29 2-.54 2-.5 2-.46 2-.43 2-.4 2-.37 2-.34 2-.32 2-.3 2-.28 2-.26 2-.24 2-.23 2-.21 2-.19 2-.18 2-.17 2-.15 2-.14 2-.13 2-.11 2-.1h20"/><path d="M-3 10.17h1h1h1h1h1h1l1-.61h1h1l1-.36 1-.39 1-.36 1-.36 1-.34 1-.29h1l1-.27 1-.32 1-.31 2-.58 2-.53 2-.49 2-.46 2-.43 2-.4 2-.37 2-.34 2-.32 2-.3 2-.29 2-.26 2-.24 2-.23 2-.21 2-.19 2-.18 2-.17 2-.15 2-.14 2-.13 2-.12 2-.03h18"/><path d="M-3 11.17h1h1h1h1h1h1l1-.74h1h1l1-.38 1-.4 1-.39 1-.37 1-.36 1-.31h1l1-.28 1-.34 1-.33 2-.62 2-.57 2-.53 2-.5 2-.46 2-.44 2-.4 2-.39 2-.36 2-.34 2-.31 2-.3 2-.28 2-.26 2-.25 2-.22 2-.22 2-.19 2-.18 2-.17 2-.16 2-.12h20"/><path d="M-3 12.21h1h1h1h1h1h1l1-.85h1h1l1-.42 1-.46 1-.43 1-.42 1-.4 1-.34h1l1-.32 1-.38 1-.36 2-.68 2-.64 2-.58 2-.55 2-.51 2-.47 2-.45 2-.42 2-.39 2-.36 2-.35 2-.32 2-.3 2-.28 2-.26 2-.24 2-.23 2-.2 2-.19 2-.18 2-.16 2-.07h20"/><path d="M-3 12.79h1h1h1h1h1h1l1-1.12h1h1l1-.46 1-.49 1-.47 1-.45 1-.43 1-.37h1l1-.34 1-.4 1-.39 2-.72 2-.67 2-.61 2-.57 2-.52 2-.49 2-.45 2-.42 2-.4 2-.36 2-.34 2-.31 2-.29 2-.27 2-.25 2-.23 2-.21 2-.19 2-.18 2-.16 2-.15 2-.08h20"/></g><g stroke-opacity=".13" stroke-width="4.5"><path d="M-3 0h83"/><path d="M-3 0h83"/><path d="M-3 .09h1h1h1h1h1h1l1-.01h1h1h1h1l1-.01h1h1l1-.01h1h1h1h1l2-.01h2l2-.01h2h2l2-.01h2h2l2-.01h2h2h2l2-.01h2h2h2h2l2-.01h2h2h2h22"/><path d="M-3 .56h1h1h1h1h1h1l1-.05h1h1l1-.02 1-.02 1-.02 1-.02 1-.02 1-.01h1l1-.02 1-.02 1-.01 2-.03 2-.03 2-.03 2-.02 2-.02 2-.03 2-.02 2-.01 2-.02 2-.02 2-.01 2-.02 2-.01 2-.01 2-.01 2-.01 2-.01 2-.01 2-.01 2-.01h2l2-.01h20"/><path d="M-3 .67h1h1h1h1h1h1l1-.05h1h1l1-.02 1-.02 1-.03 1-.02 1-.02 1-.02h1l1-.02 1-.02 1-.02 2-.04 2-.03 2-.04 2-.03 2-.02 2-.03 2-.03 2-.02 2-.02 2-.02 2-.02 2-.02 2-.01 2-.02 2-.01 2-.01 2-.02 2-.01 2-.01 2-.01 2-.01h2h20"/><path d="M-3 .53h1h1h1h1h1h1l1-.04h1h1l1-.02 1-.02 1-.02 1-.02 1-.02 1-.02h1l1-.01 1-.02 1-.01 2-.04 2-.02 2-.03 2-.02 2-.02 2-.02 2-.02 2-.02 2-.02 2-.01 2-.02 2-.01 2-.01 2-.01 2-.01 2-.01 2-.01 2-.01h2l2-.01 2-.01h2h20"/><path d="M-3 1.29h1h1h1h1h1h1l1-.12h1h1l1-.04 1-.05 1-.05 1-.04 1-.04 1-.04h1l1-.03 1-.04 1-.04 2-.07 2-.07 2-.06 2-.05 2-.06 2-.04 2-.05 2-.04 2-.04 2-.04 2-.03 2-.03 2-.03 2-.03 2-.03 2-.02 2-.02 2-.02 2-.02 2-.02 2-.01 2-.02h2h18"/><path d="M-3 1.56h1h1h1h1h1h1l1-.09h1h1l1-.06 1-.06 1-.06 1-.05 1-.05 1-.05h1l1-.04 1-.05 1-.05 2-.09 2-.08 2-.08 2-.07 2-.06 2-.06 2-.06 2-.05 2-.05 2-.05 2-.04 2-.04 2-.04 2-.03 2-.04 2-.03 2-.02 2-.03 2-.02 2-.02 2-.02 2-.02h20"/><path d="M-3 1.31h1h1h1h1h1h1l1-.11h1h1l1-.04 1-.05 1-.05 1-.04 1-.05 1-.03h1l1-.04 1-.04 1-.04 2-.07 2-.07 2-.06 2-.06 2-.05 2-.05 2-.05 2-.04 2-.04 2-.04 2-.03 2-.04 2-.03 2-.03 2-.02 2-.03 2-.02 2-.02 2-.02 2-.02 2-.02 2-.01h20"/><path d="M-3 2.08h1h1h1h1h1h1l1-.13h1h1l1-.08 1-.08 1-.08 1-.08 1-.07 1-.06h1l1-.06 1-.07 1-.06 2-.12 2-.12 2-.1 2-.09 2-.09 2-.08 2-.08 2-.07 2-.06 2-.06 2-.05 2-.06 2-.04 2-.05 2-.04 2-.03 2-.04 2-.03 2-.03 2-.02 2-.03 2-.02h2h18"/><path d="M-3 2.28h1h1h1h1h1h1l1-.15h1h1l1-.08 1-.08 1-.08 1-.07 1-.07 1-.06h1l1-.06 1-.07 1-.07 2-.12 2-.12 2-.11 2-.1 2-.09 2-.09 2-.08 2-.08 2-.08 2-.07 2-.06 2-.06 2-.06 2-.05 2-.05 2-.05 2-.05 2-.04 2-.03 2-.04 2-.03 2-.03h20"/><path d="M-3 2.47h1h1h1h1h1h1l1-.2h1h1l1-.09 1-.09 1-.09 1-.09 1-.08 1-.07h1l1-.07 1-.08 1-.07 2-.14 2-.13 2-.12 2-.11 2-.1 2-.1 2-.09 2-.08 2-.08 2-.07 2-.06 2-.06 2-.06 2-.06 2-.04 2-.05 2-.04 2-.04 2-.04 2-.03 2-.03 2-.01h20"/><path d="M-3 3.08h1h1h1h1h1h1l1-.25h1h1l1-.11 1-.12 1-.11 1-.11 1-.1 1-.09h1l1-.08 1-.1 1-.09 2-.18 2-.16 2-.15 2-.14 2-.12 2-.12 2-.11 2-.1 2-.09 2-.09 2-.08 2-.08 2-.07 2-.06 2-.06 2-.06 2-.05 2-.05 2-.04 2-.04 2-.03 2-.03 2-.01h18"/><path d="M-3 3.77h1h1h1h1h1h1l1-.34h1h1l1-.13 1-.13 1-.14 1-.12 1-.12 1-.11h1l1-.1 1-.11 1-.11 2-.21 2-.19 2-.18 2-.16 2-.16 2-.14 2-.13 2-.13 2-.12 2-.11 2-.1 2-.09 2-.09 2-.09 2-.07 2-.08 2-.06 2-.06 2-.06 2-.05 2-.05 2-.03h20"/><path d="M-3 3.88h1h1h1h1h1h1l1-.2h1h1l1-.14 1-.15 1-.14 1-.14 1-.13 1-.12h1l1-.1 1-.12 1-.12 2-.23 2-.2 2-.19 2-.18 2-.17 2-.15 2-.15 2-.13 2-.13 2-.12 2-.11 2-.1 2-.1 2-.09 2-.08 2-.08 2-.07 2-.06 2-.06 2-.06 2-.05 2-.01h20"/></g><g stroke-opacity=".14" stroke-width="3.0"><path d="M-3 0h83"/><path d="M-3 0h83"/><path d="M-3 .09h1h1h1h1h1h1l1-.01h1h1h1h1l1-.01h1h1l1-.01h1h1h1h1l2-.01h2l2-.01h2l2-.01h2h2l2-.01h2h2h2l2-.01h2h2h2h2h2l2-.01h2h2h2h22"/><path d="M-3 .56h1h1h1h1h1h1l1-.05h1h1l1-.02 1-.02 1-.02 1-.02 1-.02 1-.02h1l1-.01 1-.02 1-.02 2-.03 2-.03 2-.02 2-.03 2-.02 2-.02 2-.02 2-.02 2-.02 2-.01 2-.02 2-.01 2-.01 2-.02 2-.01 2-.01 2-.01h2l2-.01 2-.01 2-.01h2h20"/><path d="M-3 .67h1h1h1h1h1h1l1-.05h1h1l1-.02 1-.03 1-.02 1-.02 1-.03 1-.02h1l1-.01 1-.03 1-.02 2-.04 2-.03 2-.03 2-.03 2-.03 2-.03 2-.02 2-.03 2-.02 2-.02 2-.02 2-.01 2-.02 2-.01 2-.02 2-.01 2-.01 2-.01 2-.01 2-.01 2-.01h2h20"/><path d="M-3 .53h1h1h1h1h1h1l1-.04h1h1l1-.02 1-.03 1-.02 1-.02 1-.01 1-.02h1l1-.01 1-.02 1-.02 2-.03 2-.03 2-.02 2-.03 2-.02 2-.02 2-.02 2-.02 2-.01 2-.02 2-.01 2-.01 2-.02 2-.01 2-.01h2l2-.01 2-.01 2-.01h2l2-.01h2h20"/><path d="M-3 1.29h1h1h1h1h1h1l1-.12h1h1l1-.04 1-.05 1-.05 1-.05 1-.04 1-.04h1l1-.03 1-.04 1-.04 2-.07 2-.07 2-.06 2-.06 2-.05 2-.05 2-.04 2-.05 2-.03 2-.04 2-.03 2-.04 2-.02 2-.03 2-.03 2-.02 2-.02 2-.02 2-.02 2-.01 2-.02 2-.01h20"/><path d="M-3 1.56h1h1h1h1h1h1l1-.09h1h1l1-.06 1-.06 1-.06 1-.06 1-.05 1-.05h1l1-.04 1-.05 1-.05 2-.09 2-.09 2-.07 2-.07 2-.07 2-.06 2-.06 2-.05 2-.05 2-.05 2-.04 2-.04 2-.03 2-.04 2-.03 2-.03 2-.02 2-.03 2-.02 2-.02 2-.02 2-.01h20"/><path d="M-3 1.31h1h1h1h1h1h1l1-.11h1h1l1-.05 1-.05 1-.04 1-.05 1-.04 1-.04h1l1-.03 1-.05 1-.04 2-.07 2-.07 2-.06 2-.06 2-.05 2-.05 2-.05 2-.04 2-.04 2-.04 2-.04 2-.03 2-.03 2-.03 2-.02 2-.03 2-.02 2-.02 2-.02 2-.01 2-.02 2-.01h20"/><path d="M-3 2.08h1h1h1h1h1h1l1-.13h1h1l1-.08 1-.09 1-.08 1-.08 1-.07 1-.06h1l1-.06 1-.07 1-.07 2-.12 2-.12 2-.1 2-.09 2-.09 2-.08 2-.08 2-.07 2-.06 2-.06 2-.05 2-.05 2-.05 2-.04 2-.04 2-.04 2-.03 2-.03 2-.03 2-.02 2-.02 2-.02h20"/><path d="M-3 2.28h1h1h1h1h1h1l1-.15h1h1l1-.08 1-.08 1-.08 1-.08 1-.07 1-.07h1l1-.06 1-.07 1-.06 2-.13 2-.12 2-.11 2-.1 2-.1 2-.09 2-.08 2-.08 2-.07 2-.07 2-.06 2-.06 2-.06 2-.05 2-.05 2-.05 2-.04 2-.04 2-.04 2-.03 2-.03 2-.02h20"/><path d="M-3 2.47h1h1h1h1h1h1l1-.2h1h1l1-.09 1-.1 1-.09 1-.09 1-.09 1-.07h1l1-.07 1-.08 1-.07 2-.14 2-.13 2-.12 2-.12 2-.1 2-.09 2-.09 2-.08 2-.08 2-.07 2-.07 2-.06 2-.05 2-.06 2-.04 2-.05 2-.04 2-.03 2-.04 2-.03 2-.03h2h20"/><path d="M-3 3.08h1h1h1h1h1h1l1-.25h1h1l1-.11 1-.12 1-.12 1-.11 1-.11 1-.09h1l1-.08 1-.1 1-.1 2-.18 2-.16 2-.15 2-.14 2-.12 2-.12 2-.11 2-.1 2-.1 2-.08 2-.08 2-.08 2-.06 2-.07 2-.06 2-.05 2-.05 2-.04 2-.04 2-.04 2-.03 2-.03h20"/><path d="M-3 3.77h1h1h1h1h1h1l1-.34h1h1l1-.13 1-.14 1-.14 1-.13 1-.12 1-.11h1l1-.1 1-.12 1-.11 2-.21 2-.19 2-.18 2-.17 2-.16 2-.14 2-.13 2-.13 2-.11 2-.11 2-.1 2-.1 2-.09 2-.08 2-.07 2-.07 2-.07 2-.06 2-.05 2-.05 2-.04 2-.02h20"/><path d="M-3 3.88h1h1h1h1h1h1l1-.2h1h1l1-.15 1-.15 1-.15 1-.14 1-.13 1-.12h1l1-.1 1-.13 1-.12 2-.23 2-.21 2-.19 2-.18 2-.17 2-.16 2-.14 2-.13 2-.13 2-.12 2-.11 2-.1 2-.09 2-.09 2-.08 2-.07 2-.07 2-.07 2-.05 2-.06 2-.04h22"/></g><g stroke-opacity=".16" stroke-width="1.2"><path d="M-3 48.92h1h1h1h1h1h1l1-2.29h1h1l1-1.62 1-1.73 1-1.66 1-1.6 1-1.54 1-1.33h1l1-1.23 1-1.49 1-1.43 2-2.7 2-2.51 2-2.34 2-2.2 2-2.07 2-1.94 2-1.84 2-1.74 2-1.63 2-1.55 2-1.47 2-1.38 2-1.3 2-1.23 2-1.15 2-1.08 2-1.01 2-.95 2-.88 2-.82 2-.76 2-.45h20"/><path d="M-3 50.47h1h1h1h1h1h1l1-3.89h1h1l1-1.46 1-1.58 1-1.52 1-1.47 1-1.41 1-1.24h1l1-1.15 1-1.39 1-1.34 2-2.56 2-2.39 2-2.26 2-2.14 2-2.03 2-1.93 2-1.84 2-1.76 2-1.68 2-1.6 2-1.53 2-1.47 2-1.39 2-1.33 2-1.27 2-1.2 2-1.14 2-1.08 2-1.01 2-.96 2-.9 2-.55h20"/><path d="M-3 52.8h1h1h1h1h1h1l1-3.8h1h1l1-1.57 1-1.68 1-1.62 1-1.56 1-1.51 1-1.31h1l1-1.23 1-1.48 1-1.42 2-2.71 2-2.53 2-2.39 2-2.26 2-2.14 2-2.03 2-1.93 2-1.84 2-1.76 2-1.67 2-1.6 2-1.52 2-1.45 2-1.38 2-1.31 2-1.24 2-1.17 2-1.11 2-1.04 2-.98 2-.92 2-.64h20"/></g><g stroke-opacity=".16" stroke-width="2.0"><path d="M-3 22.23h1h1h1h1h1h1l1-1.38h1h1l1-.75 1-.81 1-.77 1-.73 1-.71 1-.62h1l1-.56 1-.69 1-.65 2-1.23 2-1.14 2-1.07 2-.99 2-.93 2-.88 2-.82 2-.78 2-.73 2-.68 2-.65 2-.61 2-.57 2-.54 2-.5 2-.47 2-.43 2-.41 2-.37 2-.35 2-.32 2-.09h20"/><path d="M-3 22.96h1h1h1h1h1h1l1-1.97h1h1l1-.76 1-.81 1-.78 1-.75 1-.72 1-.62h1l1-.57 1-.69 1-.66 2-1.24 2-1.15 2-1.08 2-1 2-.94 2-.88 2-.83 2-.78 2-.74 2-.69 2-.65 2-.61 2-.58 2-.54 2-.5 2-.47 2-.44 2-.4 2-.38 2-.35 2-.32 2-.06h20"/><path d="M-3 23.83h1h1h1h1h1h1l1-1.89h1h1l1-.83 1-.89 1-.85 1-.81 1-.78 1-.67h1l1-.62 1-.74 1-.71 2-1.33 2-1.23 2-1.15 2-1.06 2-.99 2-.93 2-.87 2-.81 2-.76 2-.72 2-.67 2-.62 2-.59 2-.54 2-.51 2-.47 2-.43 2-.41 2-.37 2-.34 2-.24h22"/><path d="M-3 25.09h1h1h1h1h1h1l1-2.25h1h1l1-.8 1-.85 1-.82 1-.78 1-.76 1-.66h1l1-.6 1-.73 1-.7 2-1.33 2-1.24 2-1.15 2-1.09 2-1.02 2-.97 2-.91 2-.86 2-.82 2-.77 2-.74 2-.69 2-.65 2-.62 2-.58 2-.54 2-.51 2-.48 2-.45 2-.41 2-.31h22"/><path d="M-3 26.43h1h1h1h1h1h1l1-2.59h1h1l1-.86 1-.91 1-.88 1-.84 1-.81 1-.71h1l1-.64 1-.78 1-.75 2-1.4 2-1.31 2-1.21 2-1.14 2-1.07 2-1 2-.95 2-.89 2-.83 2-.79 2-.75 2-.7 2-.65 2-.62 2-.58 2-.54 2-.5 2-.47 2-.44 2-.4 2-.37 2-.05h20"/><path d="M-3 27.09h1h1h1h1h1h1l1-1.51h1h1l1-.88 1-.94 1-.9 1-.87 1-.84 1-.73h1l1-.67 1-.81 1-.78 2-1.47 2-1.37 2-1.29 2-1.2 2-1.14 2-1.08 2-1.01 2-.96 2-.92 2-.86 2-.82 2-.77 2-.73 2-.69 2-.65 2-.61 2-.58 2-.53 2-.51 2-.46 2-.43 2-.08h20"/><path d="M-3 28.6h1h1h1h1h1h1l1-2.48h1h1l1-.92 1-.99 1-.95 1-.91 1-.88 1-.75h1l1-.7 1-.85 1-.81 2-1.53 2-1.42 2-1.32 2-1.24 2-1.17 2-1.09 2-1.04 2-.97 2-.92 2-.87 2-.81 2-.77 2-.73 2-.68 2-.64 2-.6 2-.56 2-.52 2-.49 2-.44 2-.42 2-.13h20"/><path d="M-3 29.55h1h1h1h1h1h1l1-1.4h1h1l1-1.04 1-1.12 1-1.07 1-1.02 1-.98 1-.85h1l1-.79 1-.93 1-.9 2-1.69 2-1.57 2-1.46 2-1.35 2-1.27 2-1.19 2-1.12 2-1.04 2-.99 2-.92 2-.87 2-.81 2-.76 2-.71 2-.67 2-.61 2-.58 2-.53 2-.49 2-.45 2-.37h22"/><path d="M-3 30.76h1h1h1h1h1h1l1-2.82h1h1l1-1.01 1-1.09 1-1.04 1-1 1-.96 1-.83h1l1-.76 1-.92 1-.88 2-1.66 2-1.53 2-1.44 2-1.33 2-1.25 2-1.17 2-1.1 2-1.04 2-.97 2-.91 2-.86 2-.81 2-.76 2-.7 2-.67 2-.61 2-.58 2-.53 2-.5 2-.45 2-.42 2-.16h20"/></g><g stroke-opacity=".18" stroke-width="2.0"><path d="M-3 13.51h1h1h1h1h1h1l1-1.01h1h1l1-.47 1-.5 1-.49 1-.46 1-.44 1-.38h1l1-.36 1-.42 1-.4 2-.76 2-.7 2-.65 2-.6 2-.57 2-.52 2-.5 2-.46 2-.43 2-.41 2-.38 2-.35 2-.33 2-.31 2-.29 2-.26 2-.25 2-.23 2-.21 2-.19 2-.18h2h20"/><path d="M-3 14.11h1h1h1h1h1h1l1-.92h1h1l1-.53 1-.55 1-.53 1-.51 1-.49 1-.42h1l1-.38 1-.46 1-.44 2-.82 2-.75 2-.7 2-.64 2-.6 2-.55 2-.52 2-.48 2-.44 2-.42 2-.39 2-.36 2-.33 2-.31 2-.28 2-.27 2-.24 2-.22 2-.2 2-.18 2-.17 2-.01h20"/><path d="M-3 15h1h1h1h1h1h1l1-.73h1h1l1-.53 1-.57 1-.55 1-.52 1-.51 1-.43h1l1-.4 1-.48 1-.46 2-.86 2-.8 2-.73 2-.69 2-.64 2-.6 2-.56 2-.52 2-.49 2-.46 2-.43 2-.4 2-.37 2-.35 2-.32 2-.3 2-.28 2-.26 2-.24 2-.22 2-.2 2-.1h20"/><path d="M-3 15.97h1h1h1h1h1h1l1-1.15h1h1l1-.56 1-.6 1-.58 1-.55 1-.52 1-.46h1l1-.42 1-.5 1-.48 2-.9 2-.83 2-.77 2-.72 2-.67 2-.62 2-.59 2-.54 2-.52 2-.48 2-.45 2-.42 2-.39 2-.37 2-.34 2-.31 2-.3 2-.27 2-.24 2-.23 2-.19h22"/><path d="M-3 17.37h1h1h1h1h1h1l1-1.09h1h1l1-.59 1-.64 1-.62 1-.59 1-.56 1-.49h1l1-.45 1-.54 1-.52 2-.97 2-.9 2-.84 2-.78 2-.72 2-.68 2-.64 2-.6 2-.56 2-.53 2-.49 2-.47 2-.43 2-.4 2-.38 2-.35 2-.33 2-.3 2-.28 2-.26 2-.23 2-.14h20"/><path d="M-3 18.16h1h1h1h1h1h1l1-1.47h1h1l1-.62 1-.67 1-.63 1-.61 1-.59 1-.5h1l1-.47 1-.55 1-.54 2-1 2-.93 2-.86 2-.8 2-.75 2-.7 2-.66 2-.61 2-.58 2-.54 2-.5 2-.48 2-.44 2-.41 2-.39 2-.36 2-.33 2-.31 2-.28 2-.26 2-.24 2-.08h20"/><path d="M-3 18.7h1h1h1h1h1h1l1-.88h1h1l1-.67 1-.7 1-.68 1-.65 1-.63 1-.54h1l1-.49 1-.6 1-.57 2-1.07 2-.99 2-.92 2-.85 2-.8 2-.75 2-.69 2-.66 2-.61 2-.58 2-.53 2-.51 2-.47 2-.44 2-.41 2-.37 2-.36 2-.32 2-.3 2-.28 2-.25 2-.13h20"/><path d="M-3 19.58h1h1h1h1h1h1l1-1.1h1h1l1-.66 1-.69 1-.67 1-.64 1-.62 1-.54h1l1-.49 1-.6 1-.57 2-1.08 2-1 2-.94 2-.88 2-.82 2-.78 2-.73 2-.69 2-.65 2-.62 2-.58 2-.54 2-.52 2-.49 2-.45 2-.43 2-.4 2-.37 2-.34 2-.32 2-.3 2-.07h20"/><path d="M-3 21.22h1h1h1h1h1h1l1-1.46h1h1l1-.74 1-.79 1-.76 1-.72 1-.7 1-.6h1l1-.55 1-.66 1-.64 2-1.19 2-1.1 2-1.02 2-.95 2-.88 2-.83 2-.77 2-.73 2-.68 2-.63 2-.59 2-.56 2-.52 2-.48 2-.45 2-.42 2-.38 2-.36 2-.33 2-.3 2-.28 2-.15h20"/></g><g stroke-opacity=".21" stroke-width="2.0"><path d="M-3 4.54h1h1h1h1h1h1l1-.42h1h1l1-.16 1-.18 1-.17 1-.16 1-.15 1-.13h1l1-.12 1-.15 1-.14 2-.25 2-.24 2-.22 2-.2 2-.19 2-.17 2-.16 2-.15 2-.14 2-.13 2-.12 2-.11 2-.1 2-.1 2-.08 2-.08 2-.08 2-.07 2-.06 2-.05 2-.05 2-.01h20"/><path d="M-3 5.34h1h1h1h1h1h1l1-.44h1h1l1-.21 1-.21 1-.2 1-.2 1-.19 1-.16h1l1-.14 1-.18 1-.16 2-.31 2-.29 2-.26 2-.24 2-.22 2-.2 2-.19 2-.17 2-.16 2-.15 2-.14 2-.13 2-.11 2-.11 2-.1 2-.09 2-.08 2-.08 2-.07 2-.06 2-.06 2-.03h20"/><path d="M-3 5.58h1h1h1h1h1h1l1-.35h1h1l1-.2 1-.21 1-.2 1-.2 1-.18 1-.16h1l1-.15 1-.18 1-.16 2-.32 2-.3 2-.27 2-.25 2-.24 2-.22 2-.2 2-.19 2-.18 2-.17 2-.16 2-.15 2-.14 2-.12 2-.12 2-.11 2-.11 2-.09 2-.09 2-.08 2-.07 2-.01h20"/><path d="M-3 6.62h1h1h1h1h1h1l1-.65h1h1l1-.24 1-.26 1-.25 1-.23 1-.23 1-.19h1l1-.18 1-.21 1-.2 2-.37 2-.35 2-.31 2-.3 2-.27 2-.25 2-.23 2-.22 2-.2 2-.19 2-.17 2-.16 2-.15 2-.13 2-.13 2-.11 2-.11 2-.1 2-.08 2-.08 2-.07h22"/><path d="M-3 7.03h1h1h1h1h1h1l1-.69h1h1l1-.25 1-.27 1-.26 1-.25 1-.23 1-.21h1l1-.18 1-.22 1-.22 2-.39 2-.37 2-.33 2-.31 2-.29 2-.27 2-.25 2-.23 2-.21 2-.2 2-.19 2-.17 2-.16 2-.14 2-.14 2-.13 2-.11 2-.11 2-.09 2-.09 2-.07h22"/><path d="M-3 7.7h1h1h1h1h1h1l1-.4h1h1l1-.29 1-.31 1-.29 1-.29 1-.27 1-.23h1l1-.22 1-.25 1-.24 2-.46 2-.42 2-.39 2-.35 2-.33 2-.31 2-.29 2-.26 2-.25 2-.23 2-.21 2-.2 2-.19 2-.17 2-.15 2-.15 2-.13 2-.12 2-.11 2-.11 2-.08h22"/><path d="M-3 7.95h1h1h1h1h1h1l1-.76h1h1l1-.29 1-.3 1-.29 1-.28 1-.26 1-.23h1l1-.21 1-.25 1-.24 2-.44 2-.41 2-.38 2-.35 2-.33 2-.3 2-.28 2-.26 2-.25 2-.23 2-.21 2-.2 2-.18 2-.17 2-.15 2-.15 2-.13 2-.12 2-.11 2-.1 2-.09h22"/><path d="M-3 8.66h1h1h1h1h1h1l1-.61h1h1l1-.33 1-.36 1-.33 1-.32 1-.31 1-.26h1l1-.24 1-.29 1-.28 2-.51 2-.46 2-.43 2-.4 2-.36 2-.34 2-.31 2-.29 2-.26 2-.25 2-.23 2-.21 2-.19 2-.18 2-.17 2-.15 2-.13 2-.13 2-.11 2-.11 2-.09 2-.02h20"/><path d="M-3 9.75h1h1h1h1h1h1l1-.89h1h1l1-.35 1-.37 1-.36 1-.34 1-.33 1-.28h1l1-.25 1-.31 1-.29 2-.55 2-.51 2-.46 2-.44 2-.39 2-.37 2-.35 2-.32 2-.3 2-.27 2-.26 2-.24 2-.22 2-.2 2-.19 2-.18 2-.16 2-.14 2-.14 2-.12 2-.11 2-.06h20"/><path d="M-3 10.17h1h1h1h1h1h1l1-.61h1h1l1-.37 1-.4 1-.38 1-.36 1-.35 1-.3h1l1-.27 1-.33 1-.31 2-.59 2-.54 2-.5 2-.47 2-.42 2-.4 2-.37 2-.35 2-.32 2-.3 2-.27 2-.26 2-.24 2-.22 2-.21 2-.18 2-.18 2-.16 2-.15 2-.13 2-.12 2-.11h20"/><path d="M-3 11.17h1h1h1h1h1h1l1-.74h1h1l1-.39 1-.42 1-.39 1-.39 1-.36 1-.32h1l1-.29 1-.35 1-.33 2-.63 2-.58 2-.54 2-.5 2-.47 2-.43 2-.41 2-.38 2-.36 2-.34 2-.31 2-.29 2-.28 2-.26 2-.23 2-.23 2-.2 2-.19 2-.17 2-.17 2-.14 2-.08h20"/><path d="M-3 12.21h1h1h1h1h1h1l1-.85h1h1l1-.44 1-.46 1-.45 1-.43 1-.41 1-.35h1l1-.32 1-.39 1-.37 2-.7 2-.64 2-.59 2-.55 2-.51 2-.48 2-.45 2-.41 2-.39 2-.37 2-.33 2-.32 2-.29 2-.28 2-.25 2-.24 2-.21 2-.2 2-.19 2-.16 2-.16 2-.02h20"/><path d="M-3 12.79h1h1h1h1h1h1l1-1.12h1h1l1-.48 1-.5 1-.48 1-.46 1-.45 1-.37h1l1-.35 1-.41 1-.4 2-.73 2-.67 2-.62 2-.58 2-.52 2-.49 2-.45 2-.42 2-.39 2-.36 2-.33 2-.31 2-.29 2-.26 2-.24 2-.22 2-.21 2-.18 2-.17 2-.15 2-.14 2-.04h20"/></g><g stroke-opacity=".22" stroke-width="1.2"><path d="M-3 41.11h1h1h1h1h1h1l1-3.9h1h1l1-1.27 1-1.36 1-1.3 1-1.26 1-1.21 1-1.05h1l1-.97 1-1.17 1-1.13 2-2.13 2-1.99 2-1.86 2-1.75 2-1.65 2-1.56 2-1.47 2-1.4 2-1.32 2-1.25 2-1.19 2-1.12 2-1.07 2-1 2-.95 2-.89 2-.83 2-.79 2-.73 2-.68 2-.63 2-.23h20"/><path d="M-3 42.03h1h1h1h1h1h1l1-2.84h1h1l1-1.35 1-1.45 1-1.4 1-1.34 1-1.3 1-1.12h1l1-1.03 1-1.25 1-1.2 2-2.27 2-2.12 2-1.98 2-1.87 2-1.77 2-1.67 2-1.58 2-1.5 2-1.43 2-1.35 2-1.29 2-1.21 2-1.16 2-1.09 2-1.02 2-.97 2-.91 2-.85 2-.79 2-.74 2-.18h22"/><path d="M-3 43.57h1h1h1h1h1h1l1-2.7h1h1l1-1.4 1-1.49 1-1.44 1-1.39 1-1.33 1-1.16h1l1-1.07 1-1.29 1-1.24 2-2.35 2-2.19 2-2.05 2-1.92 2-1.81 2-1.72 2-1.61 2-1.54 2-1.45 2-1.38 2-1.3 2-1.23 2-1.17 2-1.1 2-1.04 2-.97 2-.92 2-.85 2-.8 2-.75 2-.69 2-.22h20"/><path d="M-3 44.87h1h1h1h1h1h1l1-2.07h1h1l1-1.46 1-1.58 1-1.51 1-1.45 1-1.4 1-1.22h1l1-1.12 1-1.36 1-1.3 2-2.46 2-2.3 2-2.15 2-2.02 2-1.9 2-1.8 2-1.7 2-1.61 2-1.53 2-1.44 2-1.37 2-1.3 2-1.22 2-1.16 2-1.09 2-1.02 2-.96 2-.9 2-.84 2-.78 2-.73 2-.12h20"/><path d="M-3 46h1h1h1h1h1h1l1-3.77h1h1l1-1.34 1-1.45 1-1.4 1-1.35 1-1.29 1-1.13h1l1-1.06 1-1.27 1-1.23 2-2.34 2-2.19 2-2.08 2-1.96 2-1.87 2-1.79 2-1.71 2-1.63 2-1.57 2-1.5 2-1.43 2-1.38 2-1.31 2-1.25 2-1.2 2-1.13 2-1.08 2-1.02 2-.96 2-.91 2-.4h22"/><path d="M-3 47.52h1h1h1h1h1h1l1-4.03h1h1l1-1.46 1-1.56 1-1.5 1-1.45 1-1.39 1-1.21h1l1-1.12 1-1.36 1-1.3 2-2.47 2-2.31 2-2.17 2-2.05 2-1.94 2-1.83 2-1.75 2-1.66 2-1.58 2-1.5 2-1.44 2-1.35 2-1.3 2-1.22 2-1.16 2-1.09 2-1.03 2-.97 2-.91 2-.85 2-.56h22"/></g><g stroke-opacity=".23" stroke-width="2.0"><path d="M-3 0h83"/><path d="M-3 0h83"/><path d="M-3 .09h1h1h1h1h1h1l1-.01h1h1h1h1l1-.01h1h1l1-.01h1h1h1h1l2-.01h2l2-.01h2l2-.01h2h2l2-.01h2h2h2l2-.01h2h2h2h2l2-.01h2h2h2h2h22"/><path d="M-3 .56h1h1h1h1h1h1l1-.05h1h1l1-.02 1-.03 1-.02 1-.02 1-.01 1-.02h1l1-.02 1-.01 1-.02 2-.03 2-.03 2-.03 2-.02 2-.03 2-.02 2-.02 2-.01 2-.02 2-.02 2-.01 2-.02 2-.01 2-.01 2-.01 2-.01 2-.01 2-.01h2l2-.01 2-.01h2h20"/><path d="M-3 .67h1h1h1h1h1h1l1-.05h1h1l1-.02 1-.03 1-.02 1-.03 1-.02 1-.02h1l1-.02 1-.02 1-.02 2-.04 2-.04 2-.03 2-.03 2-.03 2-.03 2-.02 2-.02 2-.02 2-.02 2-.02 2-.02 2-.01 2-.02 2-.01 2-.01 2-.02 2-.01 2-.01h2l2-.01h22"/><path d="M-3 .53h1h1h1h1h1h1l1-.04h1h1l1-.03 1-.02 1-.02 1-.02 1-.02 1-.01h1l1-.02 1-.02 1-.01 2-.03 2-.03 2-.03 2-.02 2-.03 2-.02 2-.01 2-.02 2-.02 2-.01 2-.02 2-.01 2-.01 2-.01 2-.01 2-.01 2-.01h2l2-.01h2l2-.01h22"/><path d="M-3 1.29h1h1h1h1h1h1l1-.12h1h1l1-.05 1-.05 1-.05 1-.04 1-.05 1-.03h1l1-.04 1-.04 1-.04 2-.07 2-.07 2-.06 2-.06 2-.05 2-.05 2-.05 2-.04 2-.04 2-.03 2-.04 2-.03 2-.02 2-.03 2-.02 2-.03 2-.02 2-.02 2-.01 2-.02 2-.01 2-.01h20"/><path d="M-3 1.56h1h1h1h1h1h1l1-.09h1h1l1-.06 1-.07 1-.06 1-.05 1-.06 1-.05h1l1-.04 1-.05 1-.05 2-.1 2-.08 2-.08 2-.07 2-.07 2-.06 2-.05 2-.06 2-.05 2-.04 2-.04 2-.04 2-.04 2-.03 2-.03 2-.03 2-.02 2-.03 2-.02 2-.02 2-.01 2-.01h20"/><path d="M-3 1.31h1h1h1h1h1h1l1-.11h1h1l1-.05 1-.05 1-.05 1-.04 1-.05 1-.04h1l1-.03 1-.05 1-.04 2-.07 2-.07 2-.06 2-.06 2-.06 2-.05 2-.04 2-.05 2-.04 2-.03 2-.04 2-.03 2-.03 2-.03 2-.02 2-.03 2-.02 2-.02 2-.01 2-.02 2-.01 2-.01h20"/><path d="M-3 2.08h1h1h1h1h1h1l1-.13h1h1l1-.08 1-.09 1-.09 1-.08 1-.07 1-.07h1l1-.06 1-.07 1-.07 2-.12 2-.12 2-.1 2-.1 2-.08 2-.08 2-.08 2-.07 2-.06 2-.06 2-.05 2-.05 2-.05 2-.04 2-.04 2-.03 2-.03 2-.03 2-.03 2-.02 2-.02 2-.01h20"/><path d="M-3 2.28h1h1h1h1h1h1l1-.15h1h1l1-.08 1-.09 1-.08 1-.08 1-.07 1-.07h1l1-.06 1-.07 1-.07 2-.13 2-.12 2-.11 2-.1 2-.1 2-.09 2-.08 2-.08 2-.07 2-.07 2-.07 2-.06 2-.05 2-.05 2-.05 2-.05 2-.04 2-.03 2-.04 2-.03 2-.03 2-.01h20"/><path d="M-3 2.47h1h1h1h1h1h1l1-.2h1h1l1-.09 1-.11 1-.09 1-.09 1-.09 1-.07h1l1-.07 1-.08 1-.08 2-.15 2-.13 2-.12 2-.11 2-.1 2-.1 2-.09 2-.08 2-.07 2-.07 2-.07 2-.06 2-.05 2-.05 2-.05 2-.04 2-.04 2-.04 2-.03 2-.03 2-.02h22"/><path d="M-3 3.08h1h1h1h1h1h1l1-.25h1h1l1-.12 1-.12 1-.12 1-.12 1-.1 1-.1h1l1-.08 1-.11 1-.09 2-.18 2-.17 2-.15 2-.14 2-.13 2-.11 2-.11 2-.1 2-.1 2-.08 2-.08 2-.07 2-.07 2-.06 2-.06 2-.05 2-.05 2-.04 2-.04 2-.03 2-.03 2-.02h20"/><path d="M-3 3.77h1h1h1h1h1h1l1-.34h1h1l1-.14 1-.14 1-.14 1-.13 1-.13 1-.11h1l1-.1 1-.12 1-.12 2-.21 2-.2 2-.18 2-.17 2-.15 2-.15 2-.13 2-.13 2-.11 2-.11 2-.1 2-.09 2-.09 2-.08 2-.07 2-.07 2-.06 2-.06 2-.05 2-.04 2-.05h2h20"/><path d="M-3 3.88h1h1h1h1h1h1l1-.2h1h1l1-.15 1-.16 1-.15 1-.14 1-.14 1-.12h1l1-.11 1-.13 1-.12 2-.24 2-.21 2-.19 2-.18 2-.17 2-.16 2-.14 2-.13 2-.13 2-.11 2-.11 2-.1 2-.09 2-.09 2-.08 2-.07 2-.07 2-.06 2-.05 2-.05 2-.03h22"/></g><g stroke-opacity=".27" stroke-width="1.2"><path d="M-3 32.22h1h1h1h1h1h1l1-2.31h1h1l1-1.12 1-1.19 1-1.15 1-1.1 1-1.05 1-.91h1l1-.84 1-1 1-.96 2-1.81 2-1.67 2-1.54 2-1.44 2-1.34 2-1.26 2-1.17 2-1.09 2-1.03 2-.96 2-.9 2-.84 2-.79 2-.73 2-.68 2-.63 2-.59 2-.54 2-.5 2-.46 2-.42 2-.2h20"/><path d="M-3 32.78h1h1h1h1h1h1l1-3.24h1h1l1-1.01 1-1.09 1-1.04 1-1 1-.97 1-.84h1l1-.77 1-.94 1-.9 2-1.7 2-1.59 2-1.49 2-1.41 2-1.32 2-1.26 2-1.19 2-1.13 2-1.08 2-1.02 2-.97 2-.92 2-.87 2-.82 2-.78 2-.73 2-.69 2-.65 2-.6 2-.56 2-.2h22"/><path d="M-3 34.22h1h1h1h1h1h1l1-1.91h1h1l1-1.1 1-1.19 1-1.14 1-1.1 1-1.06 1-.92h1l1-.84 1-1.03 1-.98 2-1.86 2-1.73 2-1.62 2-1.52 2-1.43 2-1.35 2-1.27 2-1.21 2-1.14 2-1.08 2-1.02 2-.96 2-.91 2-.86 2-.81 2-.76 2-.71 2-.67 2-.62 2-.58 2-.53 2-.31h20"/><path d="M-3 35.32h1h1h1h1h1h1l1-1.87h1h1l1-1.22 1-1.3 1-1.25 1-1.2 1-1.15 1-1h1l1-.92 1-1.1 1-1.06 2-1.99 2-1.84 2-1.72 2-1.6 2-1.5 2-1.4 2-1.32 2-1.24 2-1.16 2-1.09 2-1.03 2-.97 2-.9 2-.85 2-.79 2-.73 2-.69 2-.63 2-.59 2-.54 2-.5 2-.17h20"/><path d="M-3 36.64h1h1h1h1h1h1l1-3.18h1h1l1-1.16 1-1.24 1-1.2 1-1.14 1-1.11 1-.96h1l1-.88 1-1.07 1-1.03 2-1.94 2-1.8 2-1.7 2-1.59 2-1.5 2-1.42 2-1.35 2-1.27 2-1.21 2-1.15 2-1.08 2-1.03 2-.97 2-.92 2-.86 2-.82 2-.76 2-.71 2-.67 2-.62 2-.3h22"/><path d="M-3 38.42h1h1h1h1h1h1l1-2.52h1h1l1-1.2 1-1.28 1-1.24 1-1.19 1-1.15 1-.99h1l1-.93 1-1.11 1-1.07 2-2.04 2-1.9 2-1.78 2-1.68 2-1.58 2-1.5 2-1.43 2-1.35 2-1.28 2-1.22 2-1.16 2-1.1 2-1.04 2-.98 2-.93 2-.88 2-.83 2-.78 2-.72 2-.69 2-.63 2-.24h20"/><path d="M-3 39.14h1h1h1h1h1h1l1-3.7h1h1l1-1.25 1-1.34 1-1.28 1-1.23 1-1.19 1-1.03h1l1-.95 1-1.14 1-1.09 2-2.08 2-1.93 2-1.8 2-1.7 2-1.59 2-1.51 2-1.42 2-1.35 2-1.27 2-1.21 2-1.14 2-1.08 2-1.02 2-.96 2-.9 2-.85 2-.79 2-.74 2-.69 2-.64 2-.27h22"/></g><g stroke-opacity=".32" stroke-width="1.2"><path d="M-3 22.23h1h1h1h1h1h1l1-1.38h1h1l1-.78 1-.82 1-.79 1-.76 1-.73 1-.63h1l1-.58 1-.69 1-.67 2-1.25 2-1.16 2-1.07 2-1.01 2-.94 2-.87 2-.83 2-.77 2-.73 2-.68 2-.64 2-.6 2-.57 2-.52 2-.49 2-.46 2-.42 2-.39 2-.37 2-.33 2-.3h22"/><path d="M-3 22.96h1h1h1h1h1h1l1-1.97h1h1l1-.78 1-.84 1-.8 1-.77 1-.73 1-.64h1l1-.58 1-.7 1-.67 2-1.27 2-1.17 2-1.08 2-1.02 2-.94 2-.89 2-.83 2-.78 2-.73 2-.69 2-.64 2-.61 2-.56 2-.53 2-.49 2-.46 2-.43 2-.39 2-.36 2-.33 2-.28h22"/><path d="M-3 23.83h1h1h1h1h1h1l1-1.89h1h1l1-.85 1-.92 1-.87 1-.83 1-.8 1-.69h1l1-.63 1-.76 1-.72 2-1.35 2-1.25 2-1.16 2-1.07 2-1 2-.93 2-.87 2-.81 2-.76 2-.7 2-.67 2-.61 2-.58 2-.53 2-.49 2-.46 2-.42 2-.39 2-.35 2-.33 2-.14h22"/><path d="M-3 25.09h1h1h1h1h1h1l1-2.25h1h1l1-.82 1-.88 1-.84 1-.81 1-.77 1-.67h1l1-.62 1-.75 1-.71 2-1.35 2-1.26 2-1.17 2-1.09 2-1.03 2-.97 2-.92 2-.86 2-.82 2-.76 2-.73 2-.69 2-.64 2-.61 2-.56 2-.54 2-.49 2-.47 2-.42 2-.4 2-.19h22"/><path d="M-3 26.43h1h1h1h1h1h1l1-2.59h1h1l1-.88 1-.95 1-.9 1-.86 1-.83 1-.72h1l1-.66 1-.79 1-.76 2-1.43 2-1.33 2-1.23 2-1.15 2-1.07 2-1.01 2-.95 2-.88 2-.84 2-.78 2-.74 2-.69 2-.65 2-.6 2-.57 2-.52 2-.49 2-.46 2-.41 2-.39 2-.3h22"/><path d="M-3 27.09h1h1h1h1h1h1l1-1.51h1h1l1-.91 1-.96 1-.93 1-.9 1-.85 1-.75h1l1-.68 1-.83 1-.79 2-1.5 2-1.39 2-1.31 2-1.21 2-1.15 2-1.08 2-1.02 2-.96 2-.91 2-.86 2-.81 2-.77 2-.72 2-.68 2-.63 2-.6 2-.56 2-.52 2-.48 2-.45 2-.37h22"/><path d="M-3 28.6h1h1h1h1h1h1l1-2.48h1h1l1-.95 1-1.02 1-.97 1-.94 1-.9 1-.77h1l1-.72 1-.86 1-.82 2-1.56 2-1.44 2-1.34 2-1.25 2-1.17 2-1.1 2-1.04 2-.97 2-.92 2-.86 2-.81 2-.76 2-.72 2-.67 2-.62 2-.59 2-.54 2-.5 2-.47 2-.43 2-.4 2-.01h20"/><path d="M-3 29.55h1h1h1h1h1h1l1-1.4h1h1l1-1.07 1-1.15 1-1.1 1-1.05 1-1.01 1-.87h1l1-.8 1-.95 1-.92 2-1.72 2-1.59 2-1.47 2-1.37 2-1.27 2-1.2 2-1.11 2-1.05 2-.98 2-.91 2-.86 2-.8 2-.75 2-.7 2-.64 2-.6 2-.56 2-.51 2-.47 2-.43 2-.24h22"/><path d="M-3 30.76h1h1h1h1h1h1l1-2.82h1h1l1-1.05 1-1.11 1-1.07 1-1.03 1-.98 1-.85h1l1-.78 1-.93 1-.9 2-1.69 2-1.56 2-1.44 2-1.35 2-1.26 2-1.17 2-1.1 2-1.04 2-.97 2-.9 2-.86 2-.79 2-.75 2-.69 2-.65 2-.6 2-.56 2-.51 2-.48 2-.43 2-.4 2-.04h20"/></g><g stroke-opacity=".38" stroke-width="1.2"><path d="M-3 13.51h1h1h1h1h1h1l1-1.01h1h1l1-.48 1-.52 1-.5 1-.47 1-.46 1-.39h1l1-.36 1-.43 1-.41 2-.77 2-.71 2-.65 2-.61 2-.57 2-.53 2-.49 2-.46 2-.43 2-.4 2-.38 2-.35 2-.32 2-.31 2-.28 2-.26 2-.23 2-.22 2-.21 2-.18 2-.12h22"/><path d="M-3 14.11h1h1h1h1h1h1l1-.92h1h1l1-.54 1-.57 1-.55 1-.52 1-.5 1-.43h1l1-.39 1-.47 1-.44 2-.84 2-.76 2-.7 2-.65 2-.6 2-.55 2-.52 2-.48 2-.44 2-.41 2-.38 2-.36 2-.32 2-.3 2-.28 2-.26 2-.23 2-.21 2-.19 2-.18 2-.12h22"/><path d="M-3 15h1h1h1h1h1h1l1-.73h1h1l1-.55 1-.58 1-.57 1-.54 1-.51 1-.45h1l1-.4 1-.49 1-.47 2-.87 2-.81 2-.75 2-.69 2-.64 2-.6 2-.56 2-.52 2-.49 2-.45 2-.43 2-.39 2-.37 2-.34 2-.32 2-.29 2-.27 2-.25 2-.23 2-.2 2-.19 2-.05h20"/><path d="M-3 15.97h1h1h1h1h1h1l1-1.15h1h1l1-.58 1-.62 1-.59 1-.56 1-.54 1-.47h1l1-.42 1-.51 1-.49 2-.92 2-.84 2-.78 2-.72 2-.67 2-.63 2-.59 2-.54 2-.51 2-.48 2-.45 2-.41 2-.39 2-.35 2-.34 2-.3 2-.28 2-.26 2-.24 2-.22 2-.12h22"/><path d="M-3 17.37h1h1h1h1h1h1l1-1.09h1h1l1-.61 1-.66 1-.63 1-.61 1-.58 1-.5h1l1-.45 1-.55 1-.53 2-.99 2-.91 2-.85 2-.78 2-.74 2-.68 2-.64 2-.6 2-.56 2-.52 2-.49 2-.45 2-.43 2-.4 2-.36 2-.35 2-.31 2-.29 2-.27 2-.25 2-.22 2-.07h20"/><path d="M-3 18.16h1h1h1h1h1h1l1-1.47h1h1l1-.64 1-.69 1-.65 1-.62 1-.6 1-.52h1l1-.47 1-.57 1-.55 2-1.02 2-.94 2-.87 2-.81 2-.75 2-.7 2-.66 2-.61 2-.58 2-.53 2-.5 2-.47 2-.43 2-.41 2-.37 2-.35 2-.32 2-.3 2-.27 2-.25 2-.22 2-.02h20"/><path d="M-3 18.7h1h1h1h1h1h1l1-.88h1h1l1-.69 1-.73 1-.69 1-.67 1-.64 1-.55h1l1-.51 1-.6 1-.58 2-1.09 2-1.01 2-.93 2-.86 2-.8 2-.75 2-.7 2-.65 2-.61 2-.57 2-.53 2-.5 2-.46 2-.43 2-.4 2-.37 2-.34 2-.31 2-.29 2-.26 2-.24 2-.06h20"/><path d="M-3 19.58h1h1h1h1h1h1l1-1.1h1h1l1-.68 1-.71 1-.69 1-.66 1-.63 1-.55h1l1-.51 1-.6 1-.59 2-1.09 2-1.02 2-.95 2-.89 2-.83 2-.78 2-.73 2-.69 2-.65 2-.61 2-.58 2-.54 2-.51 2-.47 2-.45 2-.41 2-.39 2-.36 2-.33 2-.31 2-.27h22"/><path d="M-3 21.22h1h1h1h1h1h1l1-1.46h1h1l1-.76 1-.81 1-.78 1-.75 1-.71 1-.61h1l1-.57 1-.67 1-.65 2-1.21 2-1.12 2-1.03 2-.96 2-.89 2-.83 2-.77 2-.72 2-.68 2-.62 2-.59 2-.55 2-.51 2-.47 2-.44 2-.4 2-.38 2-.34 2-.32 2-.29 2-.26 2-.07h20"/></g><g stroke-opacity=".43" stroke-width="1.2"><path d="M-3 4.54h1h1h1h1h1h1l1-.42h1h1l1-.17 1-.18 1-.17 1-.17 1-.15 1-.14h1l1-.12 1-.15 1-.14 2-.26 2-.24 2-.22 2-.2 2-.19 2-.17 2-.16 2-.15 2-.14 2-.13 2-.12 2-.11 2-.1 2-.09 2-.08 2-.08 2-.07 2-.07 2-.06 2-.05 2-.04h22"/><path d="M-3 5.34h1h1h1h1h1h1l1-.44h1h1l1-.21 1-.22 1-.21 1-.2 1-.19 1-.17h1l1-.15 1-.17 1-.17 2-.32 2-.28 2-.27 2-.24 2-.22 2-.2 2-.19 2-.17 2-.16 2-.15 2-.14 2-.12 2-.12 2-.1 2-.1 2-.08 2-.08 2-.08 2-.06 2-.06 2-.05 2-.02h20"/><path d="M-3 5.58h1h1h1h1h1h1l1-.35h1h1l1-.2 1-.22 1-.21 1-.2 1-.19 1-.16h1l1-.15 1-.18 1-.18 2-.32 2-.3 2-.27 2-.25 2-.24 2-.22 2-.21 2-.19 2-.18 2-.17 2-.15 2-.15 2-.13 2-.13 2-.12 2-.1 2-.1 2-.09 2-.09 2-.07 2-.06h22"/><path d="M-3 6.62h1h1h1h1h1h1l1-.65h1h1l1-.25 1-.27 1-.25 1-.24 1-.23 1-.2h1l1-.18 1-.21 1-.21 2-.38 2-.35 2-.32 2-.29 2-.27 2-.25 2-.24 2-.21 2-.2 2-.18 2-.17 2-.16 2-.15 2-.13 2-.12 2-.11 2-.11 2-.09 2-.08 2-.08 2-.04h22"/><path d="M-3 7.03h1h1h1h1h1h1l1-.69h1h1l1-.26 1-.28 1-.26 1-.26 1-.24 1-.21h1l1-.19 1-.22 1-.22 2-.4 2-.37 2-.34 2-.31 2-.29 2-.27 2-.24 2-.23 2-.22 2-.19 2-.19 2-.17 2-.15 2-.15 2-.13 2-.12 2-.11 2-.1 2-.09 2-.08 2-.05h22"/><path d="M-3 7.7h1h1h1h1h1h1l1-.4h1h1l1-.3 1-.32 1-.3 1-.29 1-.28 1-.24h1l1-.22 1-.26 1-.24 2-.47 2-.42 2-.39 2-.36 2-.33 2-.31 2-.29 2-.26 2-.25 2-.22 2-.22 2-.19 2-.18 2-.17 2-.15 2-.14 2-.13 2-.11 2-.11 2-.1 2-.05h22"/><path d="M-3 7.95h1h1h1h1h1h1l1-.76h1h1l1-.3 1-.31 1-.29 1-.29 1-.27 1-.23h1l1-.22 1-.25 1-.24 2-.46 2-.41 2-.39 2-.35 2-.33 2-.3 2-.28 2-.26 2-.24 2-.23 2-.21 2-.19 2-.18 2-.17 2-.15 2-.14 2-.13 2-.11 2-.11 2-.09 2-.06h22"/><path d="M-3 8.66h1h1h1h1h1h1l1-.61h1h1l1-.34 1-.37 1-.34 1-.33 1-.32 1-.27h1l1-.24 1-.29 1-.28 2-.52 2-.47 2-.44 2-.39 2-.37 2-.34 2-.31 2-.28 2-.27 2-.24 2-.23 2-.2 2-.19 2-.18 2-.15 2-.15 2-.13 2-.12 2-.11 2-.1 2-.08h22"/><path d="M-3 9.75h1h1h1h1h1h1l1-.89h1h1l1-.36 1-.38 1-.37 1-.35 1-.33 1-.29h1l1-.26 1-.32 1-.3 2-.55 2-.52 2-.47 2-.43 2-.4 2-.37 2-.34 2-.32 2-.3 2-.27 2-.26 2-.23 2-.22 2-.2 2-.18 2-.17 2-.15 2-.14 2-.13 2-.12 2-.1 2-.03h20"/><path d="M-3 10.17h1h1h1h1h1h1l1-.61h1h1l1-.38 1-.41 1-.39 1-.37 1-.36 1-.31h1l1-.28 1-.33 1-.32 2-.6 2-.55 2-.5 2-.47 2-.43 2-.4 2-.37 2-.34 2-.32 2-.29 2-.28 2-.25 2-.23 2-.22 2-.2 2-.18 2-.17 2-.15 2-.14 2-.13 2-.12 2-.07h20"/><path d="M-3 11.17h1h1h1h1h1h1l1-.74h1h1l1-.4 1-.43 1-.41 1-.39 1-.38 1-.32h1l1-.3 1-.35 1-.34 2-.64 2-.59 2-.54 2-.51 2-.47 2-.43 2-.41 2-.38 2-.36 2-.33 2-.31 2-.29 2-.27 2-.25 2-.24 2-.21 2-.2 2-.18 2-.17 2-.16 2-.14 2-.03h20"/><path d="M-3 12.21h1h1h1h1h1h1l1-.85h1h1l1-.45 1-.48 1-.46 1-.44 1-.42 1-.36h1l1-.33 1-.39 1-.38 2-.71 2-.65 2-.6 2-.55 2-.52 2-.47 2-.45 2-.41 2-.39 2-.36 2-.34 2-.31 2-.29 2-.26 2-.25 2-.23 2-.21 2-.19 2-.17 2-.16 2-.13h22"/><path d="M-3 12.79h1h1h1h1h1h1l1-1.12h1h1l1-.49 1-.52 1-.5 1-.47 1-.45 1-.39h1l1-.35 1-.42 1-.4 2-.75 2-.68 2-.62 2-.58 2-.53 2-.49 2-.45 2-.42 2-.38 2-.36 2-.33 2-.3 2-.28 2-.25 2-.24 2-.21 2-.2 2-.17 2-.16 2-.15 2-.13h2h20"/></g><g stroke-opacity=".49" stroke-width="1.2"><path d="M-3 0h83"/><path d="M-3 0h83"/><path d="M-3 .09h1h1h1h1h1h1l1-.01h1h1h1h1l1-.01h1h1l1-.01h1h1h1l1-.01h2l2-.01h2h2l2-.01h2h2l2-.01h2h2h2l2-.01h2h2h2h2l2-.01h2h2h2h24"/><path d="M-3 .56h1h1h1h1h1h1l1-.05h1h1l1-.02 1-.03 1-.02 1-.02 1-.02 1-.01h1l1-.02 1-.02 1-.01 2-.04 2-.03 2-.02 2-.03 2-.02 2-.02 2-.02 2-.02 2-.02 2-.01 2-.02 2-.01 2-.01 2-.01 2-.01 2-.01 2-.01 2-.01 2-.01h2l2-.01h22"/><path d="M-3 .67h1h1h1h1h1h1l1-.05h1h1l1-.02 1-.03 1-.03 1-.02 1-.02 1-.02h1l1-.02 1-.03 1-.02 2-.04 2-.03 2-.04 2-.03 2-.03 2-.02 2-.03 2-.02 2-.02 2-.02 2-.02 2-.01 2-.02 2-.01 2-.02 2-.01 2-.01 2-.01 2-.01 2-.01h2h22"/><path d="M-3 .53h1h1h1h1h1h1l1-.04h1h1l1-.03 1-.02 1-.02 1-.02 1-.02 1-.02h1l1-.01 1-.02 1-.02 2-.03 2-.03 2-.02 2-.03 2-.02 2-.02 2-.02 2-.02 2-.01 2-.02 2-.01 2-.01 2-.01 2-.01 2-.01 2-.01 2-.01 2-.01h2l2-.01h2h22"/><path d="M-3 1.29h1h1h1h1h1h1l1-.12h1h1l1-.05 1-.05 1-.05 1-.05 1-.04 1-.04h1l1-.04 1-.04 1-.04 2-.07 2-.07 2-.06 2-.06 2-.06 2-.04 2-.05 2-.04 2-.04 2-.03 2-.04 2-.03 2-.02 2-.03 2-.02 2-.02 2-.02 2-.02 2-.02 2-.01 2-.01 2-.01h20"/><path d="M-3 1.56h1h1h1h1h1h1l1-.09h1h1l1-.06 1-.07 1-.06 1-.06 1-.06 1-.05h1l1-.04 1-.05 1-.05 2-.1 2-.08 2-.08 2-.08 2-.06 2-.06 2-.06 2-.05 2-.05 2-.05 2-.04 2-.03 2-.04 2-.03 2-.03 2-.03 2-.02 2-.02 2-.02 2-.02 2-.02h2h20"/><path d="M-3 1.31h1h1h1h1h1h1l1-.11h1h1l1-.05 1-.05 1-.05 1-.05 1-.05 1-.04h1l1-.03 1-.04 1-.05 2-.07 2-.07 2-.07 2-.05 2-.06 2-.05 2-.05 2-.04 2-.04 2-.04 2-.03 2-.03 2-.03 2-.03 2-.02 2-.02 2-.02 2-.02 2-.02 2-.02 2-.01h2h20"/><path d="M-3 2.08h1h1h1h1h1h1l1-.13h1h1l1-.09 1-.09 1-.08 1-.09 1-.07 1-.07h1l1-.06 1-.07 1-.07 2-.13 2-.11 2-.11 2-.1 2-.08 2-.09 2-.07 2-.07 2-.06 2-.06 2-.05 2-.05 2-.04 2-.04 2-.04 2-.03 2-.03 2-.03 2-.03 2-.02 2-.02h2h20"/><path d="M-3 2.28h1h1h1h1h1h1l1-.15h1h1l1-.08 1-.09 1-.09 1-.08 1-.08 1-.06h1l1-.06 1-.08 1-.07 2-.13 2-.12 2-.11 2-.11 2-.09 2-.09 2-.09 2-.07 2-.08 2-.06 2-.07 2-.06 2-.05 2-.05 2-.05 2-.04 2-.04 2-.04 2-.03 2-.03 2-.03h2h20"/><path d="M-3 2.47h1h1h1h1h1h1l1-.2h1h1l1-.1 1-.1 1-.1 1-.09 1-.09 1-.08h1l1-.07 1-.08 1-.08 2-.15 2-.13 2-.12 2-.11 2-.11 2-.09 2-.09 2-.08 2-.08 2-.07 2-.06 2-.06 2-.05 2-.05 2-.05 2-.04 2-.03 2-.04 2-.03 2-.03 2-.01h22"/><path d="M-3 3.08h1h1h1h1h1h1l1-.25h1h1l1-.12 1-.13 1-.12 1-.12 1-.11 1-.1h1l1-.08 1-.11 1-.1 2-.18 2-.17 2-.15 2-.14 2-.13 2-.11 2-.11 2-.1 2-.09 2-.09 2-.08 2-.07 2-.06 2-.06 2-.06 2-.05 2-.04 2-.04 2-.04 2-.03 2-.03 2-.01h20"/><path d="M-3 3.77h1h1h1h1h1h1l1-.34h1h1l1-.14 1-.15 1-.14 1-.14 1-.13 1-.11h1l1-.11 1-.12 1-.12 2-.21 2-.2 2-.19 2-.16 2-.16 2-.14 2-.14 2-.12 2-.12 2-.1 2-.1 2-.09 2-.09 2-.07 2-.08 2-.06 2-.06 2-.05 2-.05 2-.05 2-.03h22"/><path d="M-3 3.88h1h1h1h1h1h1l1-.2h1h1l1-.15 1-.17 1-.15 1-.15 1-.14 1-.13h1l1-.11 1-.13 1-.12 2-.24 2-.21 2-.2 2-.18 2-.17 2-.16 2-.14 2-.13 2-.13 2-.11 2-.11 2-.1 2-.09 2-.08 2-.07 2-.07 2-.07 2-.06 2-.05 2-.05 2-.01h22"/></g></g>
<path d="M1347.1 1059.3L1385.1 1059.3L1390.7 1069L1403.8 1069L1439.9 1088.9L1448 1088.9L1453 1091.7L1459.2 1095L1465.5 1098.1L1471.7 1101.1L1477.9 1103.8L1484.2 1106.4L1490.4 1108.9L1496.6 1111.3L1502.9 1113.7L1509.1 1116.1L1515.3 1118.4L1521.5 1120.7L1527.8 1122.6L1534 1124.4L1540.2 1126L1546.5 1127.5L1552.7 1128.9L1558.9 1130.2L1565.2 1131.4L1571.4 1132.5L1577.6 1133.7L1583.8 1134.9L1590.1 1136.2L1596.3 1137.6L1602.5 1138.9L1608.8 1140.1L1615 1141.3L1621.2 1142.3L1627.5 1143.4L1633.7 1144.4L1639.9 1145.5L1646.2 1146.6L1652.4 1147.7L1658.6 1148.7L1664.8 1149.7L1671.1 1150.5L1677.3 1151.3L1683.5 1152.1L1689.8 1152.8L1696 1153.5L1702.2 1154.3L1708.5 1154.9L1714.7 1155.3L1720.9 1155.7L1727.1 1155.9L1864.2 1155.9" fill="none" stroke="#dd7325" stroke-width="8.5" stroke-linejoin="round"/>
<g class="t" transform="translate(169.8 1533.6) scale(6.23 -5.11)" stroke="#dd3040"><g stroke-opacity=".14" stroke-width="2.0"><path d="M-4 36h1.4l1.1-2.41 3.5-6.66 2-3.19 2-2.82 2-2.49 2-2.2 2-1.96 2-1.74 2-1.55 2-1.39 2-1.25 2-1.13 2-1.04 2-.94 2-.86 2-.8 3-1.09 3-.98 3-.88 3-.62h38"/><path d="M-4 34h1.4l1.1-2.4 3.5-6.55 2-3.12 2-2.73 2-2.4 2-2.1 2-1.86 2-1.63 2-1.44 2-1.29 2-1.14 2-1.02 2-.92 2-.83 2-.75 2-.68 3-.91 3-.79 3-.7 3-.61 3-.13h35"/><path d="M-4 31.2h1.4l1.1-2.34 3.5-6.34 2-2.98 2-2.59 2-2.25 2-1.95 2-1.71 2-1.49 2-1.3 2-1.15 2-1.01 2-.9 2-.79 2-.71 2-.63 2-.57 3-.75 3-.64 3-.54 3-.47 3-.09h35"/><path d="M-2 22h1.4l1.1-1.27 1.5-1.62 2-1.96 2-1.77 2-1.58 2-1.42 2-1.29 2-1.16 2-1.05 2-.96 2-.88 2-.8 2-.75 2-.7 2-.65 2-.62 3-.87 3-.81 3-.76 3-.72 3-.36h35"/><path d="M-4 19.9h1.4l1.1-1.3 3.5-3.61 2-1.74 2-1.53 2-1.37 2-1.21 2-1.07 2-.96 2-.87 2-.77 2-.7 2-.63 2-.59 2-.53 2-.49 2-.46 3-.62 3-.57 3-.51 3-.37h38"/><path d="M-4 16.8h1.4l1.1-1.01 3.5-2.82 2-1.38 2-1.23 2-1.11 2-.99 2-.9 2-.8 2-.73 2-.67 2-.61 2-.56 2-.52 2-.48 2-.46 2-.42 3-.6 3-.55 3-.52 3-.44h38"/><path d="M-4 15.2h1.4l1.1-.85 3.5-2.4 2-1.19 2-1.07 2-.97 2-.88 2-.79 2-.72 2-.67 2-.6 2-.57 2-.52 2-.49 2-.47 2-.44 2-.42 3-.59 3-.57 3-.54 3-.45h38"/><path d="M-2 13.6h1.4l1.1-.81 1.5-1.02 2-1.24 2-1.11 2-.99 2-.89 2-.8 2-.73 2-.65 2-.59 2-.54 2-.5 2-.46 2-.42 2-.4 2-.38 3-.52 3-.49 3-.45 3-.43 3-.18h35"/><path d="M-4 12.2h1.4l1.1-.7 3.5-1.99 2-.97 2-.88 2-.79 2-.71 2-.64 2-.58 2-.53 2-.48 2-.45 2-.41 2-.38 2-.35 2-.34 2-.31 3-.45 3-.41 3-.39 3-.37 3-.07h35"/><path d="M-4 11h1.4l1.1-.67 3.5-1.88 2-.91 2-.82 2-.73 2-.65 2-.59 2-.53 2-.48 2-.43 2-.4 2-.37 2-.33 2-.32 2-.29 2-.27 3-.39 3-.35 3-.33 3-.26h38"/><path d="M-4 10h1.4l1.1-.5 3.5-1.44 2-.73 2-.65 2-.61 2-.55 2-.5 2-.47 2-.43 2-.4 2-.38 2-.36 2-.34 2-.33 2-.32 2-.3 3-.45 3-.45 3-.43 3-.36h38"/><path d="M-2 9.2h1.4l1.1-.5 1.5-.64 2-.79 2-.7 2-.64 2-.58 2-.53 2-.48 2-.43 2-.4 2-.37 2-.35 2-.32 2-.3 2-.29 2-.28 3-.39 3-.37 3-.36 3-.35 3-.13h35"/><path d="M-4 8.6h1.4l1.1-.46 3.5-1.31 2-.65 2-.59 2-.54 2-.48 2-.45 2-.4 2-.37 2-.35 2-.32 2-.29 2-.29 2-.26 2-.25 2-.25 3-.34 3-.33 3-.32 3-.31 3-.04h35"/><path d="M-4 8h1.4l1.1-.53 3.5-1.48 2-.71 2-.62 2-.56 2-.48 2-.44 2-.38 2-.34 2-.31 2-.27 2-.25 2-.23 2-.2 2-.18 2-.17 3-.23 3-.21 3-.18 3-.16 3-.07h35"/><path d="M-4 7.4h1.4l1.1-.44 3.5-1.22 2-.6 2-.54 2-.48 2-.44 2-.39 2-.36 2-.32 2-.29 2-.27 2-.25 2-.23 2-.21 2-.21 2-.19 3-.26 3-.25 3-.24 3-.21h38"/><path d="M-2 6.8h1.4l1.1-.45 1.5-.56 2-.67 2-.59 2-.53 2-.46 2-.42 2-.37 2-.33 2-.29 2-.27 2-.24 2-.22 2-.2 2-.19 2-.17 3-.23 3-.22 3-.19 3-.18 3-.02h35"/><path d="M-4 6.1h1.4l1.1-.42 3.5-1.15 2-.54 2-.49 2-.42 2-.38 2-.33 2-.29 2-.26 2-.24 2-.2 2-.19 2-.17 2-.15 2-.14 2-.13 3-.18 3-.15 3-.13 3-.12 3-.02h35"/><path d="M-4 5.5h1.4l1.1-.25 3.5-.73 2-.37 2-.34 2-.31 2-.29 2-.27 2-.25 2-.23 2-.22 2-.21 2-.2 2-.19 2-.19 2-.19 2-.18 3-.27 3-.27 3-.27 3-.27h38"/><path d="M-4 5h1.4l1.1-.26 3.5-.73 2-.37 2-.34 2-.3 2-.28 2-.26 2-.23 2-.22 2-.2 2-.19 2-.18 2-.16 2-.17 2-.15 2-.15 3-.22 3-.21 3-.21 3-.17h38"/><path d="M-2 4.4h1.4l1.1-.25 1.5-.32 2-.38 2-.35 2-.32 2-.28 2-.25 2-.23 2-.22 2-.19 2-.17 2-.17 2-.15 2-.14 2-.14 2-.13 3-.18 3-.17 3-.17 3-.15 3-.04h35"/><path d="M-4 3.9h1.4l1.1-.18 3.5-.53 2-.27 2-.24 2-.23 2-.2 2-.19 2-.18 2-.17 2-.15 2-.15 2-.14 2-.13 2-.12 2-.13 2-.12 3-.17 3-.18 3-.17 3-.17 3-.08h35"/><path d="M-4 3.4h1.4l1.1-.15 3.5-.44 2-.22 2-.21 2-.19 2-.18 2-.16 2-.15 2-.15 2-.13 2-.13 2-.12 2-.12 2-.11 2-.11 2-.11 3-.16 3-.16 3-.16 3-.17 3-.07h35"/><path d="M-4 2.9h1.4l1.1-.14 3.5-.4 2-.2 2-.19 2-.17 2-.16 2-.14 2-.13 2-.13 2-.11 2-.11 2-.1 2-.1 2-.09 2-.09 2-.09 3-.13 3-.12 3-.12 3-.12 3-.06h35"/><path d="M-2 2.3h1.4l1.1-.11 1.5-.14 2-.18 2-.16 2-.14 2-.14 2-.12 2-.11 2-.11 2-.1 2-.09 2-.09 2-.08 2-.08 2-.08 2-.07 3-.12 3-.1 3-.11 3-.11 3-.06h35"/><path d="M-4 1.8h1.4l1.1-.09 3.5-.27 2-.14 2-.12 2-.11 2-.1 2-.09 2-.09 2-.07 2-.08 2-.06 2-.07 2-.06 2-.05 2-.06 2-.05 3-.08 3-.07 3-.07 3-.07h38"/><path d="M-4 1.3h1.4l1.1-.06 3.5-.17 2-.09 2-.08 2-.07 2-.07 2-.06 2-.06 2-.06 2-.05 2-.05 2-.04 2-.05 2-.05 2-.04 2-.04 3-.07 3-.06 3-.07 3-.06h38"/><path d="M-4 .8h1.4l1.1-.04 3.5-.11 2-.05 2-.05 2-.05 2-.04 2-.04 2-.04 2-.03 2-.03 2-.03 2-.03 2-.03 2-.03 2-.02 2-.03 3-.04 3-.04 3-.04 3-.03h38"/><path d="M-2 .4h1.4l1.1-.02 1.5-.02 2-.02 2-.03 2-.02 2-.02 2-.02 2-.02 2-.01 2-.02 2-.02 2-.01 2-.02 2-.01 2-.02 2-.01 3-.03 3-.02 3-.03 3-.02 3-.01h35"/><path d="M-4 .15h1.4l1.1-.01 3.5-.02 2-.01 2-.01 2-.01h2l2-.01 2-.01h2l2-.01 2-.01h2l2-.01h2l2-.01h2l3-.01h3l3-.01 3-.01h3h35"/><path d="M-4 0h84"/></g><g stroke-opacity=".30" stroke-width="1.2"><path d="M-4 36h1.4l1.1-2.49 3.5-6.82 2-3.26 2-2.86 2-2.52 2-2.22 2-1.96 2-1.74 2-1.55 2-1.38 2-1.24 2-1.12 2-1.02 2-.92 2-.84 2-.78 3-1.06 3-.94 3-.84 3-.44h38"/><path d="M-4 34h1.4l1.1-2.47 3.5-6.72 2-3.18 2-2.77 2-2.42 2-2.12 2-1.86 2-1.63 2-1.44 2-1.27 2-1.13 2-1 2-.9 2-.81 2-.73 2-.66 3-.88 3-.76 3-.66 3-.58 3-.01h35"/><path d="M-4 31.2h1.4l1.1-2.41 3.5-6.5 2-3.03 2-2.62 2-2.27 2-1.97 2-1.71 2-1.48 2-1.3 2-1.13 2-1 2-.88 2-.77 2-.69 2-.61 2-.55 3-.72 3-.6 3-.52 3-.44h3h35"/><path d="M-2 22h1.4l1.1-1.31 1.5-1.66 2-2.02 2-1.8 2-1.61 2-1.44 2-1.3 2-1.17 2-1.06 2-.96 2-.88 2-.8 2-.74 2-.7 2-.64 2-.61 3-.85 3-.8 3-.74 3-.7 3-.21h35"/><path d="M-4 19.9h1.4l1.1-1.34 3.5-3.7 2-1.77 2-1.57 2-1.38 2-1.22 2-1.08 2-.96 2-.86 2-.77 2-.69 2-.63 2-.57 2-.53 2-.48 2-.44 3-.61 3-.54 3-.49 3-.27h38"/><path d="M-4 16.8h1.4l1.1-1.04 3.5-2.89 2-1.41 2-1.26 2-1.12 2-1 2-.9 2-.81 2-.73 2-.67 2-.6 2-.56 2-.51 2-.48 2-.45 2-.42 3-.58 3-.54 3-.5 3-.33h38"/><path d="M-4 15.2h1.4l1.1-.88 3.5-2.46 2-1.22 2-1.09 2-.98 2-.89 2-.8 2-.73 2-.66 2-.61 2-.56 2-.52 2-.49 2-.46 2-.43 2-.42 3-.58 3-.56 3-.53 3-.33h38"/><path d="M-2 13.6h1.4l1.1-.83 1.5-1.05 2-1.27 2-1.14 2-1.01 2-.9 2-.81 2-.73 2-.65 2-.6 2-.54 2-.49 2-.46 2-.42 2-.39 2-.37 3-.51 3-.48 3-.44 3-.41 3-.1h35"/><path d="M-4 12.2h1.4l1.1-.73 3.5-2.03 2-1 2-.89 2-.8 2-.72 2-.64 2-.59 2-.53 2-.48 2-.44 2-.41 2-.38 2-.35 2-.33 2-.31 3-.43 3-.41 3-.37 3-.36h3h35"/><path d="M-4 11h1.4l1.1-.69 3.5-1.93 2-.93 2-.83 2-.74 2-.66 2-.59 2-.53 2-.48 2-.44 2-.39 2-.36 2-.34 2-.31 2-.28 2-.27 3-.38 3-.34 3-.32 3-.19h38"/><path d="M-4 10h1.4l1.1-.52 3.5-1.48 2-.74 2-.67 2-.61 2-.56 2-.51 2-.47 2-.43 2-.41 2-.38 2-.36 2-.34 2-.32 2-.32 2-.3 3-.45 3-.43 3-.43 3-.27h38"/><path d="M-2 9.2h1.4l1.1-.52 1.5-.66 2-.8 2-.72 2-.65 2-.59 2-.53 2-.49 2-.44 2-.4 2-.37 2-.34 2-.32 2-.31 2-.28 2-.27 3-.39 3-.37 3-.35 3-.34 3-.06h35"/><path d="M-4 8.6h1.4l1.1-.47 3.5-1.35 2-.66 2-.61 2-.54 2-.49 2-.45 2-.41 2-.37 2-.35 2-.31 2-.3 2-.28 2-.26 2-.25 2-.24 3-.35 3-.32 3-.31 3-.28h38"/><path d="M-4 8h1.4l1.1-.55 3.5-1.51 2-.73 2-.63 2-.56 2-.49 2-.44 2-.38 2-.34 2-.31 2-.27 2-.24 2-.22 2-.2 2-.18 2-.17 3-.22 3-.19 3-.18 3-.15 3-.04h35"/><path d="M-4 7.4h1.4l1.1-.45 3.5-1.26 2-.61 2-.55 2-.49 2-.44 2-.39 2-.36 2-.32 2-.29 2-.27 2-.25 2-.23 2-.21 2-.2 2-.19 3-.26 3-.24 3-.23 3-.16h38"/><path d="M-2 6.8h1.4l1.1-.46 1.5-.57 2-.69 2-.61 2-.53 2-.47 2-.42 2-.37 2-.33 2-.3 2-.26 2-.24 2-.22 2-.2 2-.18 2-.17 3-.23 3-.21 3-.18 3-.16h38"/><path d="M-4 6.1h1.4l1.1-.43 3.5-1.18 2-.56 2-.49 2-.43 2-.37 2-.34 2-.29 2-.26 2-.23 2-.21 2-.18 2-.17 2-.15 2-.14 2-.12 3-.17 3-.14 3-.13 3-.11h38"/><path d="M-4 5.5h1.4l1.1-.26 3.5-.75 2-.37 2-.35 2-.32 2-.29 2-.28 2-.25 2-.23 2-.23 2-.21 2-.2 2-.19 2-.19 2-.18 2-.18 3-.27 3-.27 3-.27 3-.21h38"/><path d="M-4 5h1.4l1.1-.27 3.5-.75 2-.38 2-.34 2-.31 2-.28 2-.26 2-.24 2-.22 2-.2 2-.19 2-.17 2-.17 2-.16 2-.16 2-.15 3-.21 3-.21 3-.2 3-.13h38"/><path d="M-2 4.4h1.4l1.1-.26 1.5-.32 2-.4 2-.36 2-.32 2-.28 2-.26 2-.23 2-.21 2-.2 2-.18 2-.16 2-.15 2-.14 2-.14 2-.12 3-.18 3-.17 3-.16 3-.15 3-.01h35"/><path d="M-4 3.9h1.4l1.1-.19 3.5-.54 2-.27 2-.25 2-.23 2-.21 2-.19 2-.18 2-.17 2-.16 2-.14 2-.14 2-.13 2-.13 2-.12 2-.12 3-.18 3-.17 3-.17 3-.16 3-.05h35"/><path d="M-4 3.4h1.4l1.1-.16 3.5-.45 2-.23 2-.21 2-.19 2-.18 2-.17 2-.15 2-.14 2-.14 2-.13 2-.12 2-.12 2-.11 2-.11 2-.11 3-.16 3-.16 3-.16 3-.16 3-.04h35"/><path d="M-4 2.9h1.4l1.1-.14 3.5-.42 2-.2 2-.19 2-.18 2-.15 2-.15 2-.13 2-.13 2-.11 2-.11 2-.1 2-.1 2-.09 2-.09 2-.09 3-.13 3-.12 3-.12 3-.12 3-.03h35"/><path d="M-2 2.3h1.4l1.1-.11 1.5-.15 2-.18 2-.16 2-.15 2-.14 2-.12 2-.12 2-.1 2-.1 2-.1 2-.08 2-.09 2-.08 2-.08 2-.07 3-.11 3-.11 3-.11 3-.1 3-.04h35"/><path d="M-4 1.8h1.4l1.1-.1 3.5-.27 2-.14 2-.12 2-.12 2-.1 2-.09 2-.09 2-.07 2-.08 2-.06 2-.07 2-.06 2-.05 2-.06 2-.05 3-.07 3-.08 3-.07 3-.05h38"/><path d="M-4 1.3h1.4l1.1-.06 3.5-.18 2-.08 2-.09 2-.07 2-.07 2-.06 2-.06 2-.06 2-.05 2-.05 2-.05 2-.05 2-.04 2-.04 2-.05 3-.06 3-.07 3-.06 3-.05h38"/><path d="M-4 .8h1.4l1.1-.04 3.5-.11 2-.06 2-.05 2-.04 2-.05 2-.04 2-.03 2-.04 2-.03 2-.03 2-.03 2-.03 2-.03 2-.02 2-.03 3-.04 3-.04 3-.04 3-.02h38"/><path d="M-2 .4h1.4l1.1-.02 1.5-.02 2-.02 2-.03 2-.02 2-.02 2-.02 2-.02 2-.02 2-.01 2-.02 2-.02 2-.01 2-.02 2-.01 2-.02 3-.02 3-.03 3-.02 3-.03h38"/><path d="M-4 .15h1.4l1.1-.01 3.5-.02 2-.01 2-.01 2-.01h2l2-.01 2-.01 2-.01h2l2-.01h2l2-.01h2l2-.01h2l3-.01h3l3-.01 3-.01h3h35"/><path d="M-4 0h84"/></g></g>
<path d="M144.9 1493.2L151.1 1495.1L157.3 1496.9L163.6 1498.7L169.8 1500.4L176 1502.1L182.3 1503.7L188.5 1505.3L194.7 1506.8L201 1508.2L207.2 1509.5L213.4 1510.7L219.6 1511.8L225.9 1512.9L232.1 1514L238.3 1515L244.6 1515.9L250.8 1516.8L257 1517.7L263.2 1518.5L269.5 1519.4L275.7 1520.2L281.9 1521L288.2 1521.7L294.4 1522.5L300.6 1523.2L306.9 1523.9L313.1 1524.5L319.3 1525.2L325.6 1525.8L331.8 1526.4L338 1527.1L344.2 1527.8L350.5 1528.5L356.7 1529.1L362.9 1529.7L369.2 1530.2L375.4 1530.7L381.6 1531.1L387.9 1531.5L394.1 1531.9L400.3 1532.3L406.5 1532.6L412.8 1532.9L419 1533.1L425.2 1533.3L431.5 1533.5L437.7 1533.6L668.2 1533.6" fill="none" stroke="#d82c24" stroke-width="8.5" stroke-linejoin="round"/>
<g class="t" transform="translate(768.1 1533.6) scale(6.23 -5.11)" stroke="#dd3040"><g stroke-opacity=".03" stroke-width="3.0"><path d="M-2 58l1.4-4.56 1.1-3.34 1.5-4.21 2-5.07 2-4.51 2-4.02 2-3.58 2-3.19 2-2.86 2-2.56 2-2.3 2-2.06 2-1.87 2-1.7 2-1.53 2-1.41 2-1.29 3-1.74 3-1.54 3-1.37 3-1.24 3-1.1 3-.95h32"/><path d="M-3 55.5l1.4-4.01 1.1-2.95 2.5-6.09 2-4.31 2-3.88 2-3.5 2-3.14 2-2.84 2-2.56 2-2.32 2-2.11 2-1.93 2-1.76 2-1.61 2-1.49 2-1.38 2-1.28 3-1.76 3-1.6 3-1.46 3-1.34 3-1.23 3-.95h32"/></g><g stroke-opacity=".04" stroke-width="2.0"><path d="M-2 58l1.4-4.7 1.1-3.43 1.5-4.32 2-5.18 2-4.6 2-4.08 2-3.62 2-3.22 2-2.86 2-2.56 2-2.29 2-2.05 2-1.85 2-1.67 2-1.51 2-1.38 2-1.26 3-1.68 3-1.49 3-1.32 3-1.17 3-1.05 3-.71h32"/><path d="M-3 55.5l1.4-4.14 1.1-3.03 2.5-6.24 2-4.41 2-3.95 2-3.54 2-3.18 2-2.86 2-2.57 2-2.33 2-2.11 2-1.91 2-1.74 2-1.6 2-1.47 2-1.35 2-1.26 3-1.71 3-1.55 3-1.41 3-1.28 3-1.17 3-.69h32"/></g><g stroke-opacity=".06" stroke-width="3.0"><path d="M-3 42.6l1.4-2.76 1.1-2.04 2.5-4.26 2-3.06 2-2.78 2-2.53 2-2.31 2-2.1 2-1.93 2-1.77 2-1.62 2-1.49 2-1.39 2-1.29 2-1.2 2-1.13 2-1.06 3-1.49 3-1.37 3-1.29 3-1.21 3-1.14 3-1.08 3-.3h29"/><path d="M-3 38.5l1.4-2.61 1.1-1.92 2.5-4.01 2-2.86 2-2.58 2-2.35 2-2.13 2-1.93 2-1.76 2-1.61 2-1.47 2-1.35 2-1.25 2-1.15 2-1.08 2-1 2-.94 3-1.31 3-1.21 3-1.13 3-1.05 3-.98 3-.82h32"/><path d="M-3 36l1.4-2.26 1.1-1.68 2.5-3.52 2-2.53 2-2.31 2-2.11 2-1.92 2-1.77 2-1.62 2-1.49 2-1.38 2-1.29 2-1.19 2-1.12 2-1.06 2-.99 2-.95 3-1.35 3-1.27 3-1.21 3-1.15 3-1.11 3-.72h32"/><path d="M-2 33.5l1.4-2.31 1.1-1.7 1.5-2.18 2-2.65 2-2.4 2-2.16 2-1.96 2-1.78 2-1.61 2-1.46 2-1.34 2-1.22 2-1.13 2-1.04 2-.96 2-.89 2-.83 3-1.16 3-1.06 3-.98 3-.9 3-.85 3-.78 3-.15h29"/><path d="M-3 31l1.4-2.08 1.1-1.53 2.5-3.19 2-2.28 2-2.07 2-1.87 2-1.71 2-1.54 2-1.42 2-1.29 2-1.18 2-1.08 2-1 2-.93 2-.86 2-.8 2-.75 3-1.05 3-.96 3-.89 3-.83 3-.77 3-.73 3-.19h29"/><path d="M-3 29l1.4-2.47 1.1-1.79 2.5-3.64 2-2.52 2-2.22 2-1.96 2-1.73 2-1.52 2-1.35 2-1.19 2-1.07 2-.94 2-.84 2-.75 2-.67 2-.61 2-.54 3-.73 3-.62 3-.53 3-.47 3-.4 3-.35 3-.09h29"/><path d="M-3 27.5l1.4-1.96 1.1-1.44 2.5-2.97 2-2.12 2-1.91 2-1.71 2-1.55 2-1.4 2-1.27 2-1.16 2-1.05 2-.96 2-.88 2-.81 2-.75 2-.7 2-.66 3-.9 3-.83 3-.76 3-.7 3-.65 3-.36h32"/><path d="M-3 26l1.4-1.84 1.1-1.35 2.5-2.81 2-1.99 2-1.79 2-1.62 2-1.46 2-1.32 2-1.2 2-1.08 2-.99 2-.9 2-.82 2-.76 2-.7 2-.65 2-.6 3-.83 3-.75 3-.68 3-.63 3-.58 3-.53 3-.12h29"/><path d="M-2 24.5l1.4-1.87 1.1-1.37 1.5-1.73 2-2.1 2-1.87 2-1.67 2-1.49 2-1.34 2-1.2 2-1.08 2-.97 2-.88 2-.79 2-.72 2-.66 2-.6 2-.55 3-.74 3-.66 3-.59 3-.53 3-.48 3-.43 3-.18h29"/><path d="M-3 23l1.4-1.51 1.1-1.11 2.5-2.33 2-1.67 2-1.51 2-1.38 2-1.25 2-1.15 2-1.04 2-.96 2-.88 2-.82 2-.75 2-.7 2-.66 2-.62 2-.58 3-.82 3-.77 3-.71 3-.68 3-.65 3-.45h32"/><path d="M-3 22l1.4-1.48 1.1-1.08 2.5-2.27 2-1.62 2-1.47 2-1.33 2-1.22 2-1.1 2-1 2-.92 2-.84 2-.77 2-.71 2-.67 2-.61 2-.58 2-.54 3-.76 3-.69 3-.65 3-.61 3-.57 3-.51h32"/><path d="M-3 21l1.4-1.51 1.1-1.11 2.5-2.3 2-1.62 2-1.47 2-1.32 2-1.19 2-1.07 2-.97 2-.88 2-.8 2-.73 2-.66 2-.62 2-.56 2-.53 2-.49 3-.67 3-.61 3-.56 3-.52 3-.47 3-.34h32"/><path d="M-3 20.2l1.4-1.63 1.1-1.19 2.5-2.43 2-1.7 2-1.5 2-1.34 2-1.19 2-1.05 2-.94 2-.84 2-.75 2-.68 2-.6 2-.55 2-.5 2-.45 2-.41 3-.54 3-.49 3-.42 3-.38 3-.33 3-.29h32"/><path d="M-2 19.5l1.4-1.28 1.1-.95 1.5-1.22 2-1.48 2-1.35 2-1.23 2-1.12 2-1.01 2-.93 2-.85 2-.78 2-.72 2-.67 2-.62 2-.58 2-.54 2-.52 3-.72 3-.67 3-.64 3-.59 3-.57 3-.46h32"/><path d="M-3 18.8l1.4-1.22 1.1-.91 2.5-1.88 2-1.36 2-1.23 2-1.12 2-1.02 2-.94 2-.85 2-.78 2-.72 2-.67 2-.62 2-.58 2-.54 2-.51 2-.48 3-.68 3-.64 3-.6 3-.57 3-.54 3-.34h32"/><path d="M-3 18l1.4-1.37 1.1-1 2.5-2.07 2-1.45 2-1.29 2-1.16 2-1.04 2-.93 2-.84 2-.75 2-.68 2-.61 2-.56 2-.5 2-.47 2-.42 2-.39 3-.53 3-.47 3-.42 3-.38 3-.35 3-.31 3-.01h29"/><path d="M-3 17l1.4-1.14 1.1-.85 2.5-1.76 2-1.25 2-1.14 2-1.03 2-.94 2-.85 2-.78 2-.71 2-.65 2-.6 2-.55 2-.51 2-.48 2-.44 2-.42 3-.59 3-.54 3-.5 3-.47 3-.45 3-.35h32"/><path d="M-3 16l1.4-1.31 1.1-.95 2.5-1.93 2-1.35 2-1.2 2-1.06 2-.95 2-.84 2-.74 2-.67 2-.59 2-.54 2-.48 2-.43 2-.39 2-.36 2-.33 3-.43 3-.39 3-.34 3-.3 3-.26 3-.16h32"/><path d="M-2 15l1.4-.97 1.1-.72 1.5-.91 2-1.13 2-1.03 2-.93 2-.85 2-.78 2-.7 2-.65 2-.6 2-.55 2-.5 2-.48 2-.44 2-.41 2-.38 3-.54 3-.5 3-.47 3-.44 3-.42 3-.39 3-.21h29"/><path d="M-3 14l1.4-.95 1.1-.7 2.5-1.46 2-1.04 2-.94 2-.85 2-.78 2-.7 2-.64 2-.59 2-.53 2-.5 2-.45 2-.43 2-.39 2-.37 2-.35 3-.48 3-.45 3-.42 3-.4 3-.37 3-.21h32"/><path d="M-3 13l1.4-.79 1.1-.59 2.5-1.23 2-.89 2-.81 2-.75 2-.68 2-.63 2-.58 2-.54 2-.49 2-.47 2-.43 2-.41 2-.39 2-.36 2-.36 3-.5 3-.47 3-.46 3-.44 3-.43 3-.3h32"/><path d="M-3 12.2l1.4-.79 1.1-.58 2.5-1.22 2-.88 2-.79 2-.73 2-.66 2-.6 2-.55 2-.51 2-.47 2-.43 2-.4 2-.37 2-.35 2-.32 2-.31 3-.43 3-.41 3-.38 3-.36 3-.34 3-.32h3h29"/><path d="M-3 11.5l1.4-.92 1.1-.67 2.5-1.37 2-.96 2-.85 2-.76 2-.67 2-.6 2-.54 2-.48 2-.43 2-.39 2-.35 2-.31 2-.29 2-.26 2-.24 3-.33 3-.28 3-.26 3-.22 3-.21 3-.11h32"/><path d="M-2 11l1.4-.84 1.1-.62 1.5-.78 2-.95 2-.84 2-.75 2-.67 2-.6 2-.54 2-.49 2-.43 2-.4 2-.35 2-.33 2-.29 2-.27 2-.25 3-.33 3-.3 3-.26 3-.24 3-.21 3-.2 3-.06h29"/><path d="M-3 10.5l1.4-.69 1.1-.51 2.5-1.07 2-.76 2-.69 2-.63 2-.57 2-.53 2-.47 2-.44 2-.4 2-.37 2-.35 2-.32 2-.29 2-.28 2-.27 3-.37 3-.34 3-.32 3-.31 3-.29 3-.23h32"/><path d="M-3 10l1.4-.7 1.1-.52 2.5-1.07 2-.76 2-.68 2-.62 2-.56 2-.51 2-.46 2-.41 2-.38 2-.35 2-.32 2-.29 2-.26 2-.25 2-.23 3-.32 3-.29 3-.26 3-.24 3-.22 3-.2 3-.1h29"/><path d="M-3 9.2l1.4-.7 1.1-.51 2.5-1.05 2-.74 2-.66 2-.59 2-.53 2-.48 2-.42 2-.39 2-.34 2-.32 2-.28 2-.26 2-.23 2-.22 2-.2 3-.27 3-.24 3-.21 3-.19 3-.18 3-.16 3-.03h29"/><path d="M-3 8.3l1.4-.6 1.1-.44 2.5-.91 2-.64 2-.58 2-.52 2-.47 2-.43 2-.38 2-.35 2-.31 2-.29 2-.27 2-.24 2-.22 2-.21 2-.2 3-.26 3-.25 3-.22 3-.2 3-.19 3-.12h32"/><path d="M-2 7l1.4-.56 1.1-.4 1.5-.51 2-.62 2-.55 2-.49 2-.43 2-.39 2-.34 2-.31 2-.28 2-.24 2-.23 2-.2 2-.18 2-.17 2-.15 3-.21 3-.18 3-.16 3-.14 3-.13 3-.12 3-.01h29"/><path d="M-3 3.2l1.4-.18 1.1-.13 2.5-.29 2-.2 2-.19 2-.18 2-.16 2-.15 2-.14 2-.13 2-.12 2-.12 2-.1 2-.11 2-.1 2-.09 2-.09 3-.14 3-.13 3-.12 3-.13 3-.12 3-.08h32"/></g><g stroke-opacity=".09" stroke-width="1.2"><path d="M-2 58l1.4-4.84 1.1-3.52 1.5-4.43 2-5.29 2-4.68 2-4.13 2-3.66 2-3.24 2-2.88 2-2.55 2-2.28 2-2.04 2-1.83 2-1.64 2-1.48 2-1.35 2-1.22 3-1.64 3-1.44 3-1.26 3-1.12 3-.98 3-.5h32"/><path d="M-3 55.5l1.4-4.26 1.1-3.11 2.5-6.4 2-4.5 2-4.01 2-3.59 2-3.22 2-2.87 2-2.59 2-2.32 2-2.1 2-1.91 2-1.72 2-1.58 2-1.45 2-1.32 2-1.23 3-1.67 3-1.51 3-1.35 3-1.23 3-1.11 3-.45h32"/></g><g stroke-opacity=".10" stroke-width="2.0"><path d="M-3 42.6l1.4-2.84 1.1-2.1 2.5-4.37 2-3.13 2-2.84 2-2.57 2-2.34 2-2.13 2-1.94 2-1.77 2-1.62 2-1.5 2-1.38 2-1.28 2-1.19 2-1.11 2-1.05 3-1.46 3-1.34 3-1.25 3-1.17 3-1.1 3-1.03 3-.09h29"/><path d="M-3 38.5l1.4-2.69 1.1-1.98 2.5-4.1 2-2.93 2-2.63 2-2.39 2-2.15 2-1.95 2-1.77 2-1.61 2-1.48 2-1.34 2-1.24 2-1.15 2-1.06 2-.99 2-.93 3-1.28 3-1.18 3-1.09 3-1.01 3-.94 3-.61h32"/><path d="M-3 36l1.4-2.33 1.1-1.73 2.5-3.61 2-2.59 2-2.35 2-2.15 2-1.95 2-1.78 2-1.64 2-1.5 2-1.39 2-1.28 2-1.19 2-1.11 2-1.05 2-.99 2-.93 3-1.33 3-1.25 3-1.17 3-1.13 3-1.07 3-.48h32"/><path d="M-2 33.5l1.4-2.38 1.1-1.75 1.5-2.24 2-2.71 2-2.44 2-2.21 2-1.98 2-1.8 2-1.62 2-1.47 2-1.34 2-1.22 2-1.12 2-1.03 2-.95 2-.88 2-.82 3-1.13 3-1.03 3-.95 3-.88 3-.8 3-.75h32"/><path d="M-3 31l1.4-2.14 1.1-1.58 2.5-3.27 2-2.33 2-2.11 2-1.9 2-1.73 2-1.56 2-1.42 2-1.3 2-1.18 2-1.08 2-.99 2-.92 2-.85 2-.79 2-.74 3-1.02 3-.94 3-.87 3-.79 3-.75 3-.69 3-.05h29"/><path d="M-3 29l1.4-2.55 1.1-1.84 2.5-3.72 2-2.57 2-2.26 2-1.98 2-1.74 2-1.53 2-1.34 2-1.19 2-1.06 2-.93 2-.82 2-.74 2-.66 2-.58 2-.53 3-.7 3-.59 3-.51 3-.44 3-.37 3-.32 3-.03h29"/><path d="M-3 27.5l1.4-2.02 1.1-1.48 2.5-3.05 2-2.16 2-1.94 2-1.75 2-1.56 2-1.42 2-1.27 2-1.16 2-1.05 2-.95 2-.88 2-.8 2-.74 2-.69 2-.64 3-.88 3-.8 3-.74 3-.68 3-.62 3-.22h32"/><path d="M-3 26l1.4-1.9 1.1-1.39 2.5-2.87 2-2.04 2-1.82 2-1.65 2-1.47 2-1.34 2-1.2 2-1.08 2-.99 2-.9 2-.81 2-.75 2-.69 2-.64 2-.59 3-.8 3-.73 3-.66 3-.61 3-.55 3-.5 3-.02h29"/><path d="M-2 24.5l1.4-1.93 1.1-1.41 1.5-1.77 2-2.15 2-1.9 2-1.7 2-1.51 2-1.35 2-1.21 2-1.08 2-.96 2-.87 2-.79 2-.71 2-.65 2-.58 2-.54 3-.73 3-.63 3-.57 3-.51 3-.45 3-.41 3-.09h29"/><path d="M-3 23l1.4-1.56 1.1-1.14 2.5-2.39 2-1.7 2-1.55 2-1.4 2-1.27 2-1.15 2-1.06 2-.96 2-.88 2-.81 2-.76 2-.69 2-.65 2-.61 2-.58 3-.8 3-.75 3-.7 3-.65 3-.62 3-.32h32"/><path d="M-3 22l1.4-1.52 1.1-1.12 2.5-2.33 2-1.65 2-1.5 2-1.36 2-1.22 2-1.11 2-1.01 2-.92 2-.84 2-.77 2-.71 2-.66 2-.61 2-.57 2-.53 3-.74 3-.68 3-.63 3-.59 3-.55 3-.38h32"/><path d="M-3 21l1.4-1.56 1.1-1.14 2.5-2.35 2-1.67 2-1.49 2-1.33 2-1.21 2-1.08 2-.97 2-.88 2-.8 2-.72 2-.67 2-.6 2-.56 2-.52 2-.48 3-.65 3-.6 3-.54 3-.49 3-.45 3-.24h32"/><path d="M-3 20.2l1.4-1.68 1.1-1.23 2.5-2.49 2-1.73 2-1.53 2-1.35 2-1.2 2-1.06 2-.94 2-.84 2-.74 2-.67 2-.6 2-.53 2-.49 2-.44 2-.39 3-.53 3-.47 3-.4 3-.36 3-.31 3-.22h32"/><path d="M-2 19.5l1.4-1.32 1.1-.98 1.5-1.25 2-1.52 2-1.38 2-1.25 2-1.13 2-1.03 2-.93 2-.86 2-.78 2-.72 2-.67 2-.61 2-.58 2-.54 2-.5 3-.71 3-.66 3-.62 3-.58 3-.54 3-.34h32"/><path d="M-3 18.8l1.4-1.26 1.1-.93 2.5-1.94 2-1.38 2-1.26 2-1.14 2-1.03 2-.94 2-.86 2-.79 2-.72 2-.67 2-.62 2-.57 2-.54 2-.5 2-.48 3-.67 3-.62 3-.58 3-.55 3-.53 3-.22h32"/><path d="M-3 18l1.4-1.41 1.1-1.03 2.5-2.12 2-1.48 2-1.32 2-1.17 2-1.05 2-.94 2-.84 2-.75 2-.67 2-.61 2-.55 2-.5 2-.45 2-.42 2-.38 3-.51 3-.46 3-.4 3-.37 3-.32 3-.25h32"/><path d="M-3 17l1.4-1.18 1.1-.87 2.5-1.8 2-1.29 2-1.16 2-1.04 2-.95 2-.86 2-.78 2-.72 2-.65 2-.59 2-.55 2-.51 2-.47 2-.44 2-.41 3-.58 3-.52 3-.49 3-.46 3-.42 3-.26h32"/><path d="M-3 16l1.4-1.34 1.1-.98 2.5-1.99 2-1.38 2-1.21 2-1.08 2-.95 2-.84 2-.75 2-.66 2-.59 2-.53 2-.48 2-.42 2-.39 2-.34 2-.32 3-.42 3-.37 3-.32 3-.29 3-.25 3-.1h32"/><path d="M-2 15l1.4-1 1.1-.74 1.5-.94 2-1.15 2-1.05 2-.95 2-.86 2-.79 2-.71 2-.66 2-.59 2-.55 2-.51 2-.47 2-.43 2-.41 2-.38 3-.53 3-.49 3-.46 3-.42 3-.4 3-.38 3-.13h29"/><path d="M-3 14l1.4-.98 1.1-.72 2.5-1.49 2-1.07 2-.96 2-.86 2-.79 2-.71 2-.64 2-.59 2-.54 2-.49 2-.45 2-.42 2-.39 2-.37 2-.34 3-.47 3-.44 3-.41 3-.38 3-.35 3-.14h32"/><path d="M-3 13l1.4-.81 1.1-.61 2.5-1.26 2-.91 2-.83 2-.76 2-.69 2-.64 2-.59 2-.54 2-.5 2-.46 2-.43 2-.41 2-.39 2-.36 2-.35 3-.49 3-.47 3-.45 3-.43 3-.41 3-.21h32"/><path d="M-3 12.2l1.4-.81 1.1-.6 2.5-1.25 2-.9 2-.81 2-.74 2-.67 2-.61 2-.55 2-.51 2-.47 2-.43 2-.4 2-.37 2-.34 2-.32 2-.31 3-.42 3-.4 3-.37 3-.34 3-.33 3-.25h32"/><path d="M-3 11.5l1.4-.95 1.1-.69 2.5-1.4 2-.98 2-.86 2-.77 2-.68 2-.6 2-.54 2-.48 2-.43 2-.38 2-.35 2-.31 2-.28 2-.26 2-.23 3-.31 3-.28 3-.24 3-.22 3-.19 3-.07h32"/><path d="M-2 11l1.4-.87 1.1-.63 1.5-.81 2-.96 2-.86 2-.76 2-.68 2-.61 2-.54 2-.49 2-.43 2-.39 2-.35 2-.32 2-.29 2-.27 2-.24 3-.32 3-.29 3-.25 3-.23 3-.2 3-.18 3-.03h29"/><path d="M-3 10.5l1.4-.71 1.1-.53 2.5-1.09 2-.78 2-.71 2-.64 2-.58 2-.52 2-.48 2-.44 2-.41 2-.37 2-.34 2-.31 2-.3 2-.28 2-.26 3-.36 3-.33 3-.32 3-.29 3-.28 3-.17h32"/><path d="M-3 10l1.4-.72 1.1-.53 2.5-1.1 2-.78 2-.7 2-.63 2-.56 2-.51 2-.46 2-.42 2-.38 2-.34 2-.32 2-.29 2-.26 2-.24 2-.23 3-.31 3-.28 3-.25 3-.23 3-.21 3-.19 3-.06h29"/><path d="M-3 9.2l1.4-.72 1.1-.52 2.5-1.08 2-.76 2-.67 2-.6 2-.53 2-.48 2-.43 2-.38 2-.35 2-.31 2-.28 2-.25 2-.24 2-.21 2-.19 3-.26 3-.23 3-.21 3-.18 3-.17 3-.14 3-.01h29"/><path d="M-3 8.3l1.4-.62 1.1-.45 2.5-.93 2-.66 2-.59 2-.53 2-.47 2-.43 2-.39 2-.34 2-.32 2-.29 2-.26 2-.24 2-.22 2-.21 2-.18 3-.26 3-.24 3-.22 3-.19 3-.18 3-.08h32"/><path d="M-2 7l1.4-.57 1.1-.42 1.5-.53 2-.63 2-.55 2-.5 2-.44 2-.39 2-.34 2-.31 2-.27 2-.25 2-.22 2-.2 2-.18 2-.17 2-.14 3-.2 3-.18 3-.15 3-.14 3-.12 3-.1h32"/><path d="M-3 3.2l1.4-.19 1.1-.13 2.5-.29 2-.21 2-.2 2-.18 2-.16 2-.15 2-.15 2-.13 2-.12 2-.11 2-.11 2-.11 2-.09 2-.1 2-.09 3-.13 3-.13 3-.13 3-.12 3-.12 3-.05h32"/></g><g stroke-opacity=".20" stroke-width="1.2"><path d="M-3 42.6l1.4-2.93 1.1-2.16 2.5-4.47 2-3.2 2-2.89 2-2.61 2-2.37 2-2.15 2-1.95 2-1.78 2-1.63 2-1.49 2-1.37 2-1.27 2-1.18 2-1.1 2-1.03 3-1.43 3-1.31 3-1.22 3-1.13 3-1.05 3-.88h32"/><path d="M-3 38.5l1.4-2.77 1.1-2.04 2.5-4.2 2-2.99 2-2.68 2-2.42 2-2.18 2-1.96 2-1.78 2-1.62 2-1.47 2-1.34 2-1.23 2-1.14 2-1.05 2-.97 2-.91 3-1.26 3-1.15 3-1.05 3-.97 3-.91 3-.41h32"/><path d="M-3 36l1.4-2.4 1.1-1.78 2.5-3.7 2-2.64 2-2.4 2-2.18 2-1.98 2-1.8 2-1.65 2-1.51 2-1.38 2-1.29 2-1.18 2-1.11 2-1.04 2-.98 2-.92 3-1.3 3-1.22 3-1.15 3-1.09 3-1.03 3-.27h32"/><path d="M-2 33.5l1.4-2.45 1.1-1.8 1.5-2.29 2-2.78 2-2.49 2-2.24 2-2.01 2-1.81 2-1.63 2-1.48 2-1.34 2-1.22 2-1.11 2-1.02 2-.94 2-.87 2-.8 3-1.11 3-1 3-.92 3-.84 3-.78 3-.57h32"/><path d="M-3 31l1.4-2.2 1.1-1.62 2.5-3.36 2-2.38 2-2.14 2-1.94 2-1.74 2-1.58 2-1.43 2-1.3 2-1.18 2-1.07 2-.99 2-.91 2-.84 2-.78 2-.73 3-1 3-.91 3-.84 3-.77 3-.71 3-.58h32"/><path d="M-3 29l1.4-2.62 1.1-1.89 2.5-3.81 2-2.62 2-2.29 2-2 2-1.75 2-1.53 2-1.35 2-1.18 2-1.04 2-.92 2-.81 2-.72 2-.64 2-.57 2-.51 3-.67 3-.57 3-.48 3-.41 3-.35 3-.27h32"/><path d="M-3 27.5l1.4-2.08 1.1-1.52 2.5-3.13 2-2.2 2-1.98 2-1.76 2-1.59 2-1.42 2-1.28 2-1.16 2-1.04 2-.95 2-.87 2-.8 2-.73 2-.67 2-.63 3-.86 3-.78 3-.71 3-.65 3-.59 3-.1h32"/><path d="M-3 26l1.4-1.95 1.1-1.43 2.5-2.95 2-2.07 2-1.86 2-1.67 2-1.49 2-1.34 2-1.21 2-1.09 2-.98 2-.89 2-.81 2-.74 2-.68 2-.63 2-.57 3-.79 3-.71 3-.64 3-.57 3-.53 3-.4h32"/><path d="M-2 24.5l1.4-1.98 1.1-1.45 1.5-1.82 2-2.19 2-1.94 2-1.72 2-1.53 2-1.36 2-1.21 2-1.08 2-.97 2-.86 2-.78 2-.7 2-.63 2-.58 2-.52 3-.71 3-.62 3-.54 3-.48 3-.43 3-.38 3-.02h29"/><path d="M-3 23l1.4-1.6 1.1-1.18 2.5-2.45 2-1.74 2-1.57 2-1.42 2-1.29 2-1.16 2-1.06 2-.97 2-.88 2-.81 2-.75 2-.69 2-.65 2-.6 2-.56 3-.79 3-.73 3-.68 3-.63 3-.6 3-.19h32"/><path d="M-3 22l1.4-1.57 1.1-1.15 2.5-2.38 2-1.69 2-1.53 2-1.37 2-1.24 2-1.12 2-1.02 2-.92 2-.84 2-.77 2-.71 2-.65 2-.6 2-.56 2-.52 3-.73 3-.66 3-.61 3-.57 3-.52 3-.27h32"/><path d="M-3 21l1.4-1.6 1.1-1.18 2.5-2.41 2-1.7 2-1.51 2-1.36 2-1.21 2-1.09 2-.98 2-.88 2-.79 2-.73 2-.65 2-.6 2-.55 2-.51 2-.47 3-.64 3-.57 3-.52 3-.48 3-.43 3-.14h32"/><path d="M-3 20.2l1.4-1.73 1.1-1.26 2.5-2.55 2-1.76 2-1.55 2-1.37 2-1.21 2-1.06 2-.94 2-.84 2-.74 2-.66 2-.59 2-.53 2-.47 2-.43 2-.38 3-.52 3-.44 3-.39 3-.33 3-.29 3-.16h32"/><path d="M-2 19.5l1.4-1.36 1.1-1.01 1.5-1.27 2-1.56 2-1.41 2-1.27 2-1.15 2-1.04 2-.94 2-.86 2-.78 2-.72 2-.66 2-.62 2-.57 2-.53 2-.5 3-.69 3-.65 3-.6 3-.56 3-.53 3-.22h32"/><path d="M-3 18.8l1.4-1.3 1.1-.95 2.5-1.99 2-1.41 2-1.28 2-1.16 2-1.05 2-.95 2-.86 2-.79 2-.73 2-.66 2-.62 2-.57 2-.53 2-.49 2-.47 3-.66 3-.61 3-.57 3-.53 3-.5 3-.12h32"/><path d="M-3 18l1.4-1.45 1.1-1.06 2.5-2.17 2-1.51 2-1.34 2-1.19 2-1.06 2-.94 2-.84 2-.75 2-.67 2-.6 2-.55 2-.49 2-.45 2-.4 2-.37 3-.5 3-.44 3-.39 3-.34 3-.31 3-.18h32"/><path d="M-3 17l1.4-1.21 1.1-.9 2.5-1.84 2-1.32 2-1.18 2-1.06 2-.96 2-.87 2-.78 2-.72 2-.65 2-.59 2-.55 2-.5 2-.47 2-.43 2-.41 3-.56 3-.51 3-.47 3-.44 3-.41 3-.17h32"/><path d="M-3 16l1.4-1.38 1.1-1.01 2.5-2.03 2-1.4 2-1.24 2-1.09 2-.96 2-.84 2-.75 2-.66 2-.58 2-.53 2-.46 2-.42 2-.38 2-.34 2-.3 3-.41 3-.36 3-.3 3-.27 3-.24 3-.05h32"/><path d="M-2 15l1.4-1.03 1.1-.76 1.5-.96 2-1.19 2-1.06 2-.97 2-.87 2-.8 2-.72 2-.65 2-.6 2-.55 2-.51 2-.46 2-.43 2-.41 2-.37 3-.52 3-.48 3-.45 3-.41 3-.38 3-.36 3-.06h29"/><path d="M-3 14l1.4-1.01 1.1-.74 2.5-1.53 2-1.09 2-.97 2-.88 2-.8 2-.71 2-.65 2-.59 2-.54 2-.49 2-.45 2-.41 2-.39 2-.36 2-.33 3-.47 3-.42 3-.4 3-.36 3-.34 3-.07h32"/><path d="M-3 13l1.4-.84 1.1-.62 2.5-1.29 2-.93 2-.85 2-.77 2-.71 2-.64 2-.59 2-.54 2-.5 2-.47 2-.43 2-.41 2-.38 2-.36 2-.34 3-.49 3-.46 3-.44 3-.41 3-.4 3-.13h32"/><path d="M-3 12.2l1.4-.84 1.1-.61 2.5-1.29 2-.91 2-.83 2-.75 2-.67 2-.62 2-.56 2-.51 2-.47 2-.43 2-.39 2-.37 2-.34 2-.32 2-.3 3-.42 3-.38 3-.36 3-.33 3-.32 3-.18h32"/><path d="M-3 11.5l1.4-.98 1.1-.7 2.5-1.44 2-1 2-.88 2-.77 2-.69 2-.6 2-.54 2-.48 2-.42 2-.38 2-.34 2-.31 2-.27 2-.25 2-.23 3-.3 3-.27 3-.23 3-.21 3-.18 3-.03h32"/><path d="M-2 11l1.4-.9 1.1-.65 1.5-.82 2-.98 2-.88 2-.77 2-.69 2-.61 2-.54 2-.49 2-.43 2-.39 2-.35 2-.31 2-.29 2-.26 2-.23 3-.32 3-.27 3-.25 3-.22 3-.19 3-.16h32"/><path d="M-3 10.5l1.4-.73 1.1-.54 2.5-1.12 2-.8 2-.72 2-.65 2-.59 2-.53 2-.48 2-.44 2-.4 2-.37 2-.34 2-.32 2-.29 2-.27 2-.26 3-.35 3-.33 3-.31 3-.28 3-.26 3-.12h32"/><path d="M-3 10l1.4-.74 1.1-.55 2.5-1.12 2-.8 2-.71 2-.64 2-.57 2-.51 2-.46 2-.42 2-.38 2-.34 2-.31 2-.29 2-.26 2-.24 2-.22 3-.3 3-.27 3-.25 3-.22 3-.2 3-.18 3-.02h29"/><path d="M-3 9.2l1.4-.74 1.1-.54 2.5-1.1 2-.77 2-.69 2-.6 2-.54 2-.48 2-.43 2-.39 2-.34 2-.31 2-.27 2-.26 2-.22 2-.21 2-.19 3-.25 3-.23 3-.19 3-.18 3-.15 3-.12h32"/><path d="M-3 8.3l1.4-.64 1.1-.46 2.5-.95 2-.68 2-.6 2-.53 2-.48 2-.43 2-.39 2-.35 2-.31 2-.29 2-.26 2-.24 2-.21 2-.2 2-.19 3-.25 3-.23 3-.21 3-.19 3-.17 3-.04h32"/><path d="M-2 7l1.4-.59 1.1-.43 1.5-.54 2-.64 2-.57 2-.5 2-.44 2-.39 2-.35 2-.31 2-.27 2-.25 2-.22 2-.19 2-.18 2-.16 2-.14 3-.2 3-.16 3-.15 3-.13 3-.12 3-.07h32"/><path d="M-3 3.2l1.4-.19 1.1-.14 2.5-.3 2-.22 2-.19 2-.19 2-.16 2-.16 2-.14 2-.13 2-.13 2-.11 2-.11 2-.1 2-.1 2-.09 2-.1 3-.13 3-.12 3-.13 3-.12 3-.11 3-.03h32"/></g></g>
<path d="M749.4 1435L753.1 1435.5L758.8 1442.1L763.7 1448.8L767.5 1450.3L771.8 1444.2L776.2 1442.1L781.8 1444.2L788 1446.2L793 1449.4L799.2 1453.4L805.5 1457.2L811.7 1461L817.9 1464.8L824.2 1468.4L830.4 1472L836.6 1475.6L842.9 1479L849.1 1482.2L855.3 1485.2L861.6 1488L867.8 1490.7L874 1493.2L880.2 1495.7L886.5 1498.1L892.7 1500.4L898.9 1502.5L905.2 1504.5L911.4 1506.4L917.6 1508.1L923.9 1509.8L930.1 1511.6L936.3 1513.5L942.5 1515.5L948.8 1517.5L955 1519.3L961.2 1520.9L967.5 1522.5L973.7 1523.9L979.9 1525.2L986.2 1526.4L992.4 1527.5L998.6 1528.4L1004.8 1529.3L1011.1 1530.1L1017.3 1530.7L1023.5 1531.3L1029.8 1531.9L1036 1532.3L1042.2 1532.7L1048.5 1533.1L1054.7 1533.4L1060.9 1533.6L1067.1 1533.6L1266.5 1533.6" fill="none" stroke="#d82c24" stroke-width="8.5" stroke-linejoin="round"/>
<g class="t" transform="translate(1365.8 1533.6) scale(6.23 -5.11)" stroke="#dd3040"><g stroke-opacity=".04" stroke-width="4.5"><path d="M-3 48.92h1.4l1.1-2.47 2.5-5.16 2-3.71 2-3.38 2-3.08 2-2.81 2-2.57 2-2.34 2-2.16 2-1.98 2-1.82 2-1.7 2-1.58 2-1.47 2-1.39 2-1.3 3-1.84 3-1.72 3-1.61 3-1.53 3-1.45 3-1.39 3-.46h29"/><path d="M-3 50.47h1.4l1.1-2.44 2.5-5.1 2-3.69 2-3.37 2-3.09 2-2.82 2-2.6 2-2.38 2-2.2 2-2.03 2-1.88 2-1.75 2-1.64 2-1.55 2-1.45 2-1.39 3-1.95 3-1.85 3-1.75 3-1.67 3-1.61 3-1.56 3-.7h29"/><path d="M-3 52.8h1.4l1.1-2.7 2.5-5.65 2-4.05 2-3.69 2-3.35 2-3.05 2-2.78 2-2.54 2-2.32 2-2.13 2-1.96 2-1.81 2-1.67 2-1.55 2-1.46 2-1.36 3-1.89 3-1.74 3-1.62 3-1.52 3-1.42 3-1.34 3-1.2h29"/></g><g stroke-opacity=".05" stroke-width="3.0"><path d="M-3 48.92h1.4l1.1-2.55 2.5-5.31 2-3.81 2-3.45 2-3.14 2-2.86 2-2.6 2-2.37 2-2.16 2-1.99 2-1.83 2-1.7 2-1.57 2-1.46 2-1.37 2-1.29 3-1.81 3-1.68 3-1.58 3-1.48 3-1.4 3-1.33 3-.18h29"/><path d="M-3 50.47h1.4l1.1-2.51 2.5-5.26 2-3.78 2-3.45 2-3.15 2-2.87 2-2.63 2-2.41 2-2.22 2-2.04 2-1.89 2-1.75 2-1.64 2-1.53 2-1.45 2-1.37 3-1.93 3-1.81 3-1.71 3-1.63 3-1.56 3-1.5 3-.38h29"/><path d="M-3 52.8h1.4l1.1-2.79 2.5-5.81 2-4.16 2-3.76 2-3.42 2-3.1 2-2.82 2-2.56 2-2.34 2-2.13 2-1.96 2-1.81 2-1.66 2-1.54 2-1.44 2-1.34 3-1.86 3-1.7 3-1.58 3-1.46 3-1.37 3-1.28 3-.91h29"/></g><g stroke-opacity=".06" stroke-width="3.0"><path d="M-3 41.11h1.4l1.1-1.78 2.5-3.76 2-2.74 2-2.54 2-2.34 2-2.17 2-2.01 2-1.86 2-1.74 2-1.63 2-1.53 2-1.44 2-1.37 2-1.31 2-1.25 2-1.21 3-1.76 3-1.7 3-1.67 3-1.64 3-1.63 3-1.63 3-.4h29"/><path d="M-3 42.03h1.4l1.1-2.4 2.5-4.96 2-3.51 2-3.16 2-2.85 2-2.56 2-2.3 2-2.09 2-1.88 2-1.71 2-1.55 2-1.42 2-1.29 2-1.19 2-1.1 2-1.02 3-1.4 3-1.26 3-1.14 3-1.05 3-.96 3-.89 3-.34h29"/><path d="M-3 43.57h1.4l1.1-2.27 2.5-4.72 2-3.39 2-3.07 2-2.79 2-2.55 2-2.31 2-2.11 2-1.94 2-1.77 2-1.64 2-1.51 2-1.41 2-1.31 2-1.24 2-1.16 3-1.64 3-1.53 3-1.44 3-1.36 3-1.29 3-1.12h32"/><path d="M-3 44.87h1.4l1.1-2.48 2.5-5.14 2-3.67 2-3.3 2-2.98 2-2.7 2-2.44 2-2.21 2-2.01 2-1.83 2-1.67 2-1.54 2-1.42 2-1.31 2-1.22 2-1.14 3-1.59 3-1.45 3-1.34 3-1.25 3-1.17 3-1.01h32"/><path d="M-3 46h1.4l1.1-2.33 2.5-4.86 2-3.51 2-3.18 2-2.9 2-2.65 2-2.41 2-2.21 2-2.03 2-1.86 2-1.72 2-1.59 2-1.48 2-1.39 2-1.29 2-1.23 3-1.72 3-1.6 3-1.51 3-1.42 3-1.36 3-1.29 3-.46h29"/><path d="M-3 47.52h1.4l1.1-2.11 2.5-4.46 2-3.25 2-2.99 2-2.75 2-2.55 2-2.35 2-2.18 2-2.02 2-1.89 2-1.76 2-1.65 2-1.57 2-1.48 2-1.42 2-1.36 3-1.94 3-1.87 3-1.81 3-1.76 3-1.72 3-1.7 3-.93h29"/></g><g stroke-opacity=".06" stroke-width="4.5"><path d="M-3 41.11h1.4l1.1-1.72 2.5-3.65 2-2.68 2-2.47 2-2.29 2-2.13 2-1.98 2-1.84 2-1.72 2-1.61 2-1.51 2-1.44 2-1.36 2-1.31 2-1.26 2-1.21 3-1.77 3-1.72 3-1.69 3-1.67 3-1.67 3-1.66 3-.75h29"/><path d="M-3 42.03h1.4l1.1-2.32 2.5-4.82 2-3.43 2-3.1 2-2.79 2-2.53 2-2.28 2-2.06 2-1.88 2-1.7 2-1.56 2-1.42 2-1.31 2-1.21 2-1.11 2-1.04 3-1.42 3-1.3 3-1.19 3-1.09 3-1 3-.93 3-.54h29"/><path d="M-3 43.57h1.4l1.1-2.2 2.5-4.58 2-3.31 2-3 2-2.74 2-2.5 2-2.29 2-2.09 2-1.92 2-1.77 2-1.63 2-1.52 2-1.41 2-1.32 2-1.25 2-1.18 3-1.67 3-1.56 3-1.47 3-1.4 3-1.34 3-1.28 3-.14h29"/><path d="M-3 44.87h1.4l1.1-2.4 2.5-5 2-3.57 2-3.24 2-2.93 2-2.65 2-2.41 2-2.19 2-2 2-1.83 2-1.67 2-1.55 2-1.42 2-1.33 2-1.24 2-1.16 3-1.61 3-1.49 3-1.39 3-1.29 3-1.22 3-1.14 3-.14h29"/><path d="M-3 46h1.4l1.1-2.25 2.5-4.73 2-3.42 2-3.11 2-2.85 2-2.6 2-2.38 2-2.19 2-2.01 2-1.85 2-1.71 2-1.6 2-1.48 2-1.39 2-1.31 2-1.24 3-1.75 3-1.64 3-1.54 3-1.46 3-1.4 3-1.35 3-.74h29"/><path d="M-3 47.52h1.4l1.1-2.05 2.5-4.32 2-3.17 2-2.92 2-2.7 2-2.49 2-2.32 2-2.15 2-2 2-1.87 2-1.75 2-1.65 2-1.56 2-1.48 2-1.42 2-1.37 3-1.96 3-1.89 3-1.84 3-1.79 3-1.77 3-1.75 3-1.3h29"/></g><g stroke-opacity=".07" stroke-width="4.5"><path d="M-3 32.22h1.4l1.1-1.75 2.5-3.64 2-2.6 2-2.35 2-2.12 2-1.92 2-1.74 2-1.57 2-1.44 2-1.3 2-1.2 2-1.09 2-1.01 2-.93 2-.86 2-.8 3-1.11 3-1.01 3-.92 3-.85 3-.79 3-.74 3-.48h29"/><path d="M-3 32.78h1.4l1.1-1.75 2.5-3.64 2-2.61 2-2.35 2-2.14 2-1.93 2-1.76 2-1.59 2-1.46 2-1.32 2-1.22 2-1.11 2-1.03 2-.95 2-.88 2-.83 3-1.13 3-1.04 3-.96 3-.88 3-.82 3-.77 3-.61h29"/><path d="M-3 34.22h1.4l1.1-1.76 2.5-3.67 2-2.63 2-2.39 2-2.18 2-1.98 2-1.8 2-1.65 2-1.51 2-1.38 2-1.28 2-1.18 2-1.09 2-1.02 2-.95 2-.9 3-1.25 3-1.16 3-1.09 3-1.01 3-.97 3-.91 3-.46h29"/><path d="M-3 35.32h1.4l1.1-2.03 2.5-4.19 2-2.98 2-2.67 2-2.4 2-2.15 2-1.95 2-1.75 2-1.58 2-1.43 2-1.3 2-1.18 2-1.08 2-.99 2-.91 2-.84 3-1.15 3-1.03 3-.93 3-.85 3-.77 3-.7 3-.46h29"/><path d="M-3 36.64h1.4l1.1-1.96 2.5-4.08 2-2.91 2-2.64 2-2.39 2-2.17 2-1.96 2-1.79 2-1.63 2-1.48 2-1.36 2-1.25 2-1.15 2-1.07 2-.99 2-.92 3-1.28 3-1.17 3-1.08 3-1 3-.93 3-.87 3-.56h29"/><path d="M-3 38.42h1.4l1.1-1.6 2.5-3.38 2-2.49 2-2.3 2-2.13 2-1.98 2-1.83 2-1.72 2-1.6 2-1.5 2-1.42 2-1.34 2-1.27 2-1.23 2-1.17 2-1.14 3-1.66 3-1.61 3-1.59 3-1.58 3-1.57 3-1.57 3-.74h29"/><path d="M-3 39.14h1.4l1.1-2.23 2.5-4.62 2-3.27 2-2.94 2-2.65 2-2.38 2-2.15 2-1.94 2-1.75 2-1.6 2-1.44 2-1.32 2-1.21 2-1.12 2-1.03 2-.95 3-1.31 3-1.18 3-1.08 3-.98 3-.91 3-.84 3-.24h29"/></g><g stroke-opacity=".08" stroke-width="2.0"><path d="M-3 48.92h1.4l1.1-2.63 2.5-5.46 2-3.9 2-3.53 2-3.2 2-2.9 2-2.63 2-2.39 2-2.18 2-1.99 2-1.84 2-1.68 2-1.57 2-1.45 2-1.36 2-1.27 3-1.78 3-1.64 3-1.53 3-1.44 3-1.35 3-1.2h32"/><path d="M-3 50.47h1.4l1.1-2.59 2.5-5.4 2-3.88 2-3.53 2-3.21 2-2.92 2-2.66 2-2.44 2-2.23 2-2.05 2-1.89 2-1.75 2-1.63 2-1.53 2-1.43 2-1.36 3-1.9 3-1.78 3-1.67 3-1.58 3-1.51 3-1.44 3-.09h29"/><path d="M-3 52.8h1.4l1.1-2.88 2.5-5.97 2-4.26 2-3.84 2-3.48 2-3.15 2-2.85 2-2.58 2-2.36 2-2.14 2-1.96 2-1.79 2-1.66 2-1.53 2-1.41 2-1.33 3-1.82 3-1.67 3-1.53 3-1.41 3-1.32 3-1.22 3-.64h29"/></g><g stroke-opacity=".08" stroke-width="3.0"><path d="M-3 32.22h1.4l1.1-1.81 2.5-3.75 2-2.66 2-2.4 2-2.16 2-1.94 2-1.76 2-1.59 2-1.44 2-1.31 2-1.19 2-1.09 2-1 2-.92 2-.85 2-.79 3-1.08 3-.98 3-.9 3-.82 3-.75 3-.7 3-.33h29"/><path d="M-3 32.78h1.4l1.1-1.81 2.5-3.74 2-2.67 2-2.41 2-2.18 2-1.96 2-1.78 2-1.61 2-1.46 2-1.33 2-1.21 2-1.11 2-1.02 2-.94 2-.87 2-.81 3-1.12 3-1.01 3-.92 3-.86 3-.78 3-.73 3-.45h29"/><path d="M-3 34.22h1.4l1.1-1.82 2.5-3.77 2-2.7 2-2.44 2-2.22 2-2.01 2-1.83 2-1.67 2-1.52 2-1.39 2-1.27 2-1.18 2-1.08 2-1.01 2-.95 2-.88 3-1.23 3-1.14 3-1.05 3-.99 3-.92 3-.88 3-.27h29"/><path d="M-3 35.32h1.4l1.1-2.09 2.5-4.32 2-3.05 2-2.72 2-2.44 2-2.19 2-1.96 2-1.77 2-1.58 2-1.43 2-1.3 2-1.17 2-1.07 2-.98 2-.89 2-.83 3-1.11 3-1 3-.9 3-.81 3-.73 3-.67 3-.31h29"/><path d="M-3 36.64h1.4l1.1-2.02 2.5-4.2 2-2.99 2-2.7 2-2.43 2-2.2 2-1.99 2-1.8 2-1.63 2-1.49 2-1.36 2-1.24 2-1.15 2-1.05 2-.98 2-.91 3-1.25 3-1.14 3-1.05 3-.96 3-.89 3-.83 3-.38h29"/><path d="M-3 38.42h1.4l1.1-1.65 2.5-3.49 2-2.55 2-2.35 2-2.18 2-2.02 2-1.87 2-1.73 2-1.62 2-1.52 2-1.43 2-1.34 2-1.28 2-1.23 2-1.17 2-1.14 3-1.65 3-1.6 3-1.56 3-1.55 3-1.54 3-1.54 3-.41h29"/><path d="M-3 39.14h1.4l1.1-2.31 2.5-4.74 2-3.36 2-3 2-2.69 2-2.42 2-2.17 2-1.95 2-1.76 2-1.59 2-1.45 2-1.31 2-1.2 2-1.1 2-1.01 2-.93 3-1.28 3-1.15 3-1.04 3-.94 3-.87 3-.79 3-.08h29"/></g><g stroke-opacity=".08" stroke-width="4.5"><path d="M-3 22.23h1.4l1.1-1.01 2.5-2.11 2-1.55 2-1.41 2-1.31 2-1.2 2-1.11 2-1.03 2-.95 2-.89 2-.83 2-.77 2-.74 2-.69 2-.67 2-.64 3-.91 3-.88 3-.84 3-.83 3-.81 3-.8 3-.25h29"/><path d="M-3 22.96h1.4l1.1-1.22 2.5-2.54 2-1.82 2-1.64 2-1.49 2-1.36 2-1.22 2-1.12 2-1.01 2-.93 2-.85 2-.78 2-.72 2-.67 2-.61 2-.58 3-.79 3-.73 3-.67 3-.61 3-.58 3-.53 3-.49h29"/><path d="M-3 23.83h1.4l1.1-1.16 2.5-2.42 2-1.75 2-1.59 2-1.47 2-1.34 2-1.22 2-1.13 2-1.04 2-.96 2-.89 2-.83 2-.78 2-.72 2-.69 2-.66 3-.92 3-.87 3-.83 3-.79 3-.76 3-.74 3-.27h29"/><path d="M-3 25.09h1.4l1.1-1.39 2.5-2.86 2-2.04 2-1.85 2-1.66 2-1.5 2-1.36 2-1.23 2-1.12 2-1.02 2-.93 2-.84 2-.78 2-.72 2-.67 2-.62 3-.85 3-.77 3-.7 3-.65 3-.6 3-.55 3-.38h29"/><path d="M-3 26.43h1.4l1.1-1.22 2.5-2.56 2-1.87 2-1.71 2-1.57 2-1.44 2-1.33 2-1.23 2-1.14 2-1.05 2-.98 2-.91 2-.86 2-.81 2-.77 2-.72 3-1.04 3-.98 3-.93 3-.9 3-.86 3-.84 3-.71h29"/><path d="M-3 27.09h1.4l1.1-1.23 2.5-2.6 2-1.89 2-1.73 2-1.6 2-1.47 2-1.35 2-1.26 2-1.16 2-1.07 2-1.01 2-.94 2-.89 2-.83 2-.8 2-.76 3-1.08 3-1.03 3-.99 3-.96 3-.93 3-.91 3-.6h29"/><path d="M-3 28.6h1.4l1.1-1.56 2.5-3.24 2-2.31 2-2.09 2-1.88 2-1.71 2-1.54 2-1.41 2-1.27 2-1.17 2-1.06 2-.98 2-.91 2-.83 2-.78 2-.73 3-1.01 3-.93 3-.85 3-.8 3-.74 3-.7 3-.1h29"/><path d="M-3 29.55h1.4l1.1-1.66 2.5-3.42 2-2.44 2-2.2 2-1.97 2-1.79 2-1.61 2-1.45 2-1.32 2-1.2 2-1.09 2-1 2-.91 2-.84 2-.77 2-.72 3-.99 3-.88 3-.81 3-.75 3-.68 3-.62 3-.43h29"/><path d="M-3 30.76h1.4l1.1-1.52 2.5-3.17 2-2.29 2-2.09 2-1.9 2-1.74 2-1.6 2-1.46 2-1.34 2-1.24 2-1.14 2-1.06 2-.99 2-.92 2-.86 2-.82 3-1.15 3-1.06 3-1.01 3-.94 3-.9 3-.86 3-.7h29"/></g><g stroke-opacity=".10" stroke-width="2.0"><path d="M-3 41.11h1.4l1.1-1.83 2.5-3.87 2-2.82 2-2.59 2-2.39 2-2.21 2-2.04 2-1.89 2-1.76 2-1.64 2-1.54 2-1.44 2-1.38 2-1.3 2-1.26 2-1.2 3-1.75 3-1.68 3-1.65 3-1.61 3-1.6 3-1.58 3-.08h29"/><path d="M-3 42.03h1.4l1.1-2.47 2.5-5.1 2-3.6 2-3.23 2-2.89 2-2.59 2-2.33 2-2.1 2-1.89 2-1.71 2-1.54 2-1.41 2-1.29 2-1.17 2-1.08 2-1 3-1.37 3-1.22 3-1.11 3-1.01 3-.91 3-.84 3-.17h29"/><path d="M-3 43.57h1.4l1.1-2.34 2.5-4.85 2-3.47 2-3.14 2-2.85 2-2.58 2-2.34 2-2.13 2-1.95 2-1.78 2-1.64 2-1.51 2-1.4 2-1.3 2-1.23 2-1.15 3-1.61 3-1.49 3-1.4 3-1.32 3-1.25 3-.84h32"/><path d="M-3 44.87h1.4l1.1-2.56 2.5-5.29 2-3.75 2-3.37 2-3.03 2-2.74 2-2.46 2-2.23 2-2.02 2-1.83 2-1.67 2-1.53 2-1.41 2-1.3 2-1.2 2-1.13 3-1.55 3-1.42 3-1.3 3-1.2 3-1.12 3-.76h32"/><path d="M-3 46h1.4l1.1-2.4 2.5-5 2-3.59 2-3.26 2-2.95 2-2.69 2-2.45 2-2.23 2-2.04 2-1.87 2-1.72 2-1.59 2-1.47 2-1.37 2-1.29 2-1.21 3-1.7 3-1.57 3-1.47 3-1.38 3-1.3 3-1.24 3-.21h29"/><path d="M-3 47.52h1.4l1.1-2.18 2.5-4.58 2-3.33 2-3.06 2-2.82 2-2.59 2-2.38 2-2.21 2-2.04 2-1.9 2-1.77 2-1.66 2-1.57 2-1.48 2-1.41 2-1.35 3-1.93 3-1.85 3-1.78 3-1.72 3-1.69 3-1.65 3-.57h29"/></g><g stroke-opacity=".10" stroke-width="3.0"><path d="M-3 22.23h1.4l1.1-1.04 2.5-2.18 2-1.58 2-1.45 2-1.33 2-1.23 2-1.13 2-1.04 2-.96 2-.89 2-.83 2-.78 2-.74 2-.69 2-.66 2-.64 3-.9 3-.87 3-.83 3-.81 3-.79 3-.77 3-.09h29"/><path d="M-3 22.96h1.4l1.1-1.26 2.5-2.62 2-1.86 2-1.68 2-1.52 2-1.37 2-1.24 2-1.13 2-1.02 2-.93 2-.85 2-.77 2-.72 2-.66 2-.61 2-.56 3-.78 3-.71 3-.65 3-.59 3-.55 3-.51 3-.37h29"/><path d="M-3 23.83h1.4l1.1-1.19 2.5-2.49 2-1.8 2-1.63 2-1.5 2-1.36 2-1.24 2-1.14 2-1.05 2-.97 2-.89 2-.83 2-.77 2-.73 2-.68 2-.65 3-.91 3-.85 3-.81 3-.77 3-.74 3-.71 3-.12h29"/><path d="M-3 25.09h1.4l1.1-1.43 2.5-2.95 2-2.09 2-1.88 2-1.7 2-1.52 2-1.38 2-1.24 2-1.12 2-1.02 2-.92 2-.85 2-.77 2-.71 2-.66 2-.6 3-.84 3-.75 3-.68 3-.62 3-.57 3-.53 3-.26h29"/><path d="M-3 26.43h1.4l1.1-1.26 2.5-2.64 2-1.91 2-1.75 2-1.6 2-1.48 2-1.35 2-1.24 2-1.14 2-1.06 2-.99 2-.91 2-.86 2-.81 2-.76 2-.72 3-1.02 3-.96 3-.92 3-.87 3-.84 3-.81 3-.53h29"/><path d="M-3 27.09h1.4l1.1-1.27 2.5-2.67 2-1.94 2-1.78 2-1.63 2-1.49 2-1.38 2-1.27 2-1.17 2-1.09 2-1.01 2-.94 2-.88 2-.84 2-.79 2-.76 3-1.07 3-1.01 3-.97 3-.94 3-.9 3-.88 3-.41h29"/><path d="M-3 28.6h1.4l1.1-1.61 2.5-3.33 2-2.37 2-2.13 2-1.92 2-1.73 2-1.57 2-1.41 2-1.29 2-1.16 2-1.07 2-.97 2-.9 2-.83 2-.76 2-.72 3-.99 3-.9 3-.83 3-.77 3-.71 3-.63h32"/><path d="M-3 29.55h1.4l1.1-1.71 2.5-3.53 2-2.49 2-2.24 2-2.02 2-1.81 2-1.62 2-1.47 2-1.32 2-1.2 2-1.09 2-.99 2-.91 2-.83 2-.76 2-.7 3-.96 3-.87 3-.78 3-.71 3-.65 3-.59 3-.3h29"/><path d="M-3 30.76h1.4l1.1-1.57 2.5-3.26 2-2.35 2-2.13 2-1.95 2-1.77 2-1.61 2-1.48 2-1.35 2-1.25 2-1.14 2-1.06 2-.98 2-.92 2-.86 2-.8 3-1.13 3-1.05 3-.97 3-.92 3-.87 3-.83 3-.51h29"/></g><g stroke-opacity=".10" stroke-width="4.5"><path d="M-3 13.51h1.4l1.1-.66 2.5-1.39 2-1 2-.91 2-.84 2-.76 2-.7 2-.65 2-.59 2-.54 2-.51 2-.47 2-.44 2-.41 2-.39 2-.36 3-.52 3-.49 3-.47 3-.44 3-.42 3-.41 3-.14h29"/><path d="M-3 14.11h1.4l1.1-.8 2.5-1.65 2-1.17 2-1.06 2-.95 2-.86 2-.77 2-.7 2-.63 2-.57 2-.52 2-.47 2-.43 2-.4 2-.37 2-.34 3-.46 3-.42 3-.37 3-.35 3-.31 3-.29 3-.22h29"/><path d="M-3 15h1.4l1.1-.82 2.5-1.69 2-1.2 2-1.09 2-.99 2-.89 2-.81 2-.73 2-.67 2-.61 2-.56 2-.51 2-.47 2-.43 2-.41 2-.38 3-.52 3-.48 3-.44 3-.4 3-.38 3-.36 3-.16h29"/><path d="M-3 15.97h1.4l1.1-.88 2.5-1.81 2-1.29 2-1.17 2-1.06 2-.95 2-.86 2-.79 2-.71 2-.64 2-.6 2-.54 2-.5 2-.46 2-.43 2-.39 3-.55 3-.5 3-.46 3-.43 3-.39 3-.36 3-.2h29"/><path d="M-3 17.37h1.4l1.1-.94 2.5-1.94 2-1.39 2-1.25 2-1.14 2-1.03 2-.93 2-.85 2-.77 2-.71 2-.64 2-.6 2-.55 2-.5 2-.48 2-.44 3-.62 3-.56 3-.52 3-.49 3-.45 3-.42 3-.15h29"/><path d="M-3 18.16h1.4l1.1-.85 2.5-1.78 2-1.29 2-1.19 2-1.09 2-1 2-.91 2-.85 2-.79 2-.72 2-.68 2-.63 2-.59 2-.56 2-.53 2-.5 3-.71 3-.68 3-.65 3-.62 3-.6 3-.58 3-.36h29"/><path d="M-3 18.7h1.4l1.1-1.06 2.5-2.17 2-1.55 2-1.4 2-1.25 2-1.13 2-1.02 2-.93 2-.83 2-.76 2-.69 2-.63 2-.58 2-.53 2-.49 2-.45 3-.62 3-.56 3-.52 3-.46 3-.43 3-.4 3-.24h29"/><path d="M-3 19.58h1.4l1.1-.85 2.5-1.79 2-1.32 2-1.21 2-1.12 2-1.03 2-.96 2-.89 2-.83 2-.77 2-.73 2-.68 2-.65 2-.62 2-.59 2-.57 3-.82 3-.8 3-.77 3-.76 3-.75 3-.75 3-.32h29"/><path d="M-3 21.22h1.4l1.1-1.17 2.5-2.44 2-1.73 2-1.56 2-1.41 2-1.28 2-1.15 2-1.04 2-.95 2-.86 2-.78 2-.72 2-.67 2-.6 2-.57 2-.52 3-.73 3-.65 3-.6 3-.56 3-.51 3-.47 3-.25h29"/></g><g stroke-opacity=".11" stroke-width="3.0"><path d="M-3 13.51h1.4l1.1-.68 2.5-1.43 2-1.03 2-.93 2-.86 2-.77 2-.71 2-.65 2-.6 2-.54 2-.51 2-.47 2-.44 2-.41 2-.38 2-.37 3-.51 3-.48 3-.45 3-.43 3-.41 3-.39 3-.06h29"/><path d="M-3 14.11h1.4l1.1-.82 2.5-1.7 2-1.21 2-1.07 2-.97 2-.87 2-.78 2-.7 2-.64 2-.57 2-.52 2-.47 2-.43 2-.39 2-.36 2-.33 3-.45 3-.41 3-.36 3-.33 3-.3 3-.27 3-.16h29"/><path d="M-3 15h1.4l1.1-.85 2.5-1.73 2-1.24 2-1.11 2-1.01 2-.9 2-.82 2-.74 2-.67 2-.61 2-.56 2-.5 2-.47 2-.43 2-.4 2-.37 3-.52 3-.46 3-.43 3-.39 3-.36 3-.34 3-.09h29"/><path d="M-3 15.97h1.4l1.1-.91 2.5-1.86 2-1.33 2-1.19 2-1.07 2-.97 2-.87 2-.79 2-.72 2-.65 2-.59 2-.54 2-.49 2-.46 2-.42 2-.39 3-.54 3-.48 3-.45 3-.41 3-.37 3-.35 3-.12h29"/><path d="M-3 17.37h1.4l1.1-.97 2.5-1.99 2-1.43 2-1.28 2-1.16 2-1.04 2-.95 2-.85 2-.78 2-.71 2-.64 2-.59 2-.55 2-.5 2-.47 2-.43 3-.61 3-.55 3-.5 3-.47 3-.43 3-.41 3-.06h29"/><path d="M-3 18.16h1.4l1.1-.88 2.5-1.83 2-1.33 2-1.21 2-1.11 2-1.02 2-.93 2-.86 2-.79 2-.73 2-.68 2-.63 2-.59 2-.55 2-.53 2-.5 3-.7 3-.67 3-.63 3-.61 3-.58 3-.56 3-.24h29"/><path d="M-3 18.7h1.4l1.1-1.09 2.5-2.24 2-1.59 2-1.42 2-1.28 2-1.14 2-1.04 2-.93 2-.83 2-.76 2-.69 2-.63 2-.57 2-.52 2-.49 2-.44 3-.61 3-.54 3-.5 3-.45 3-.4 3-.38 3-.16h29"/><path d="M-3 19.58h1.4l1.1-.87 2.5-1.85 2-1.35 2-1.24 2-1.15 2-1.05 2-.97 2-.91 2-.83 2-.78 2-.73 2-.69 2-.65 2-.62 2-.59 2-.56 3-.82 3-.79 3-.76 3-.74 3-.74 3-.72 3-.17h29"/><path d="M-3 21.22h1.4l1.1-1.21 2.5-2.5 2-1.78 2-1.6 2-1.43 2-1.29 2-1.17 2-1.05 2-.95 2-.86 2-.79 2-.71 2-.66 2-.6 2-.56 2-.51 3-.71 3-.64 3-.58 3-.53 3-.49 3-.45 3-.15h29"/></g><g stroke-opacity=".11" stroke-width="4.5"><path d="M-3 4.54h1.4l1.1-.16 2.5-.35 2-.25 2-.24 2-.23 2-.21 2-.2 2-.19 2-.18 2-.17 2-.16 2-.15 2-.15 2-.15 2-.14 2-.14 3-.21 3-.21 3-.21 3-.21 3-.23 3-.22 3-.18h29"/><path d="M-3 5.34h1.4l1.1-.22 2.5-.46 2-.33 2-.32 2-.29 2-.27 2-.25 2-.24 2-.22 2-.2 2-.2 2-.18 2-.17 2-.17 2-.16 2-.16 3-.22 3-.22 3-.21 3-.21 3-.21 3-.21 3-.21 3-.01h26"/><path d="M-3 5.58h1.4l1.1-.21 2.5-.45 2-.33 2-.31 2-.29 2-.28 2-.25 2-.24 2-.22 2-.22 2-.2 2-.19 2-.18 2-.18 2-.18 2-.17 3-.25 3-.24 3-.25 3-.25 3-.25 3-.26 3-.18h29"/><path d="M-3 6.62h1.4l1.1-.35 2.5-.73 2-.52 2-.48 2-.43 2-.39 2-.35 2-.32 2-.3 2-.26 2-.25 2-.22 2-.21 2-.19 2-.18 2-.17 3-.23 3-.21 3-.19 3-.18 3-.16 3-.16 3-.14h3h26"/><path d="M-3 7.03h1.4l1.1-.42 2.5-.84 2-.6 2-.54 2-.48 2-.43 2-.39 2-.35 2-.31 2-.28 2-.26 2-.23 2-.22 2-.19 2-.18 2-.16 3-.22 3-.2 3-.17 3-.16 3-.15 3-.13 3-.11 3-.01h26"/><path d="M-3 7.7h1.4l1.1-.38 2.5-.81 2-.58 2-.53 2-.48 2-.44 2-.4 2-.37 2-.34 2-.31 2-.29 2-.27 2-.25 2-.23 2-.22 2-.21 3-.29 3-.28 3-.26 3-.25 3-.24 3-.23 3-.04h29"/><path d="M-3 7.95h1.4l1.1-.45 2.5-.92 2-.66 2-.59 2-.53 2-.48 2-.44 2-.39 2-.35 2-.32 2-.3 2-.26 2-.25 2-.22 2-.21 2-.19 3-.26 3-.23 3-.21 3-.2 3-.17 3-.17 3-.15h3h26"/><path d="M-3 8.66h1.4l1.1-.49 2.5-1.02 2-.72 2-.65 2-.59 2-.52 2-.48 2-.42 2-.39 2-.35 2-.33 2-.29 2-.27 2-.24 2-.23 2-.21 3-.29 3-.27 3-.24 3-.22 3-.2 3-.19 3-.05h29"/><path d="M-3 9.75h1.4l1.1-.47 2.5-.99 2-.71 2-.65 2-.6 2-.55 2-.5 2-.46 2-.42 2-.39 2-.36 2-.34 2-.31 2-.3 2-.28 2-.26 3-.37 3-.35 3-.33 3-.31 3-.3 3-.29 3-.21h29"/><path d="M-3 10.17h1.4l1.1-.45 2.5-.95 2-.69 2-.64 2-.59 2-.54 2-.51 2-.46 2-.43 2-.41 2-.38 2-.35 2-.34 2-.31 2-.31 2-.29 3-.42 3-.41 3-.39 3-.38 3-.37 3-.37 3-.18h29"/><path d="M-3 11.17h1.4l1.1-.56 2.5-1.16 2-.84 2-.76 2-.7 2-.64 2-.58 2-.53 2-.49 2-.45 2-.42 2-.38 2-.36 2-.34 2-.31 2-.3 3-.42 3-.38 3-.37 3-.34 3-.33 3-.31 3-.2h29"/><path d="M-3 12.21h1.4l1.1-.63 2.5-1.3 2-.93 2-.86 2-.77 2-.71 2-.64 2-.59 2-.53 2-.5 2-.45 2-.43 2-.39 2-.36 2-.35 2-.32 3-.45 3-.42 3-.4 3-.37 3-.35 3-.33 3-.13h29"/><path d="M-3 12.79h1.4l1.1-.69 2.5-1.44 2-1.02 2-.93 2-.84 2-.76 2-.69 2-.62 2-.57 2-.52 2-.47 2-.44 2-.4 2-.37 2-.35 2-.32 3-.45 3-.41 3-.37 3-.35 3-.33 3-.3 3-.15h29"/></g><g stroke-opacity=".13" stroke-width="2.0"><path d="M-3 32.22h1.4l1.1-1.87 2.5-3.85 2-2.72 2-2.45 2-2.2 2-1.97 2-1.78 2-1.6 2-1.45 2-1.31 2-1.18 2-1.09 2-.99 2-.91 2-.83 2-.78 3-1.06 3-.95 3-.87 3-.79 3-.72 3-.66 3-.19h29"/><path d="M-3 32.78h1.4l1.1-1.86 2.5-3.85 2-2.74 2-2.46 2-2.21 2-1.99 2-1.8 2-1.62 2-1.47 2-1.33 2-1.21 2-1.11 2-1.01 2-.93 2-.86 2-.79 3-1.09 3-.99 3-.9 3-.82 3-.75 3-.69 3-.3h29"/><path d="M-3 34.22h1.4l1.1-1.87 2.5-3.88 2-2.77 2-2.49 2-2.26 2-2.04 2-1.85 2-1.68 2-1.53 2-1.39 2-1.28 2-1.17 2-1.08 2-1 2-.94 2-.87 3-1.21 3-1.1 3-1.03 3-.95 3-.89 3-.84 3-.1h29"/><path d="M-3 35.32h1.4l1.1-2.16 2.5-4.43 2-3.12 2-2.78 2-2.48 2-2.22 2-1.98 2-1.77 2-1.59 2-1.43 2-1.29 2-1.17 2-1.05 2-.96 2-.88 2-.81 3-1.09 3-.97 3-.86 3-.78 3-.69 3-.63 3-.18h29"/><path d="M-3 36.64h1.4l1.1-2.09 2.5-4.31 2-3.06 2-2.75 2-2.48 2-2.23 2-2.01 2-1.81 2-1.65 2-1.49 2-1.35 2-1.24 2-1.14 2-1.04 2-.96 2-.9 3-1.22 3-1.11 3-1.02 3-.93 3-.85 3-.79 3-.21h29"/><path d="M-3 38.42h1.4l1.1-1.7 2.5-3.59 2-2.61 2-2.41 2-2.23 2-2.05 2-1.9 2-1.76 2-1.64 2-1.53 2-1.44 2-1.35 2-1.28 2-1.22 2-1.18 2-1.13 3-1.64 3-1.58 3-1.55 3-1.52 3-1.51 3-1.5 3-.1h29"/><path d="M-3 39.14h1.4l1.1-2.38 2.5-4.88 2-3.43 2-3.06 2-2.74 2-2.45 2-2.19 2-1.96 2-1.77 2-1.59 2-1.44 2-1.3 2-1.18 2-1.09 2-.99 2-.92 3-1.24 3-1.11 3-1.01 3-.9 3-.83 3-.68h32"/></g><g stroke-opacity=".13" stroke-width="3.0"><path d="M-3 4.54h1.4l1.1-.16 2.5-.36 2-.27 2-.24 2-.23 2-.22 2-.2 2-.2 2-.18 2-.17 2-.16 2-.16 2-.15 2-.14 2-.15 2-.14 3-.21 3-.21 3-.21 3-.21 3-.22 3-.22 3-.13h29"/><path d="M-3 5.34h1.4l1.1-.22 2.5-.48 2-.34 2-.33 2-.29 2-.28 2-.25 2-.24 2-.23 2-.2 2-.2 2-.18 2-.18 2-.17 2-.16 2-.15 3-.22 3-.22 3-.21 3-.21 3-.2 3-.2 3-.18h29"/><path d="M-3 5.58h1.4l1.1-.21 2.5-.47 2-.34 2-.32 2-.3 2-.27 2-.26 2-.25 2-.22 2-.22 2-.2 2-.2 2-.18 2-.18 2-.18 2-.17 3-.24 3-.25 3-.25 3-.24 3-.25 3-.26 3-.12h29"/><path d="M-3 6.62h1.4l1.1-.36 2.5-.75 2-.54 2-.49 2-.43 2-.4 2-.36 2-.32 2-.3 2-.26 2-.25 2-.22 2-.21 2-.19 2-.17 2-.17 3-.22 3-.21 3-.18 3-.17 3-.16 3-.15 3-.11h29"/><path d="M-3 7.03h1.4l1.1-.43 2.5-.87 2-.61 2-.55 2-.49 2-.44 2-.39 2-.35 2-.31 2-.29 2-.25 2-.23 2-.21 2-.2 2-.17 2-.16 3-.21 3-.19 3-.17 3-.16 3-.13 3-.13 3-.09h29"/><path d="M-3 7.7h1.4l1.1-.39 2.5-.83 2-.6 2-.54 2-.49 2-.45 2-.4 2-.38 2-.34 2-.31 2-.29 2-.27 2-.25 2-.23 2-.22 2-.21 3-.29 3-.27 3-.25 3-.24 3-.23 3-.22h32"/><path d="M-3 7.95h1.4l1.1-.46 2.5-.95 2-.67 2-.61 2-.54 2-.49 2-.44 2-.39 2-.36 2-.32 2-.29 2-.27 2-.24 2-.22 2-.2 2-.19 3-.25 3-.23 3-.21 3-.18 3-.17 3-.15 3-.12h29"/><path d="M-3 8.66h1.4l1.1-.51 2.5-1.05 2-.74 2-.66 2-.59 2-.54 2-.48 2-.43 2-.39 2-.35 2-.32 2-.29 2-.26 2-.25 2-.22 2-.21 3-.28 3-.26 3-.23 3-.21 3-.2 3-.17 3-.02h29"/><path d="M-3 9.75h1.4l1.1-.49 2.5-1.01 2-.73 2-.67 2-.61 2-.55 2-.51 2-.47 2-.42 2-.4 2-.36 2-.34 2-.31 2-.29 2-.28 2-.26 3-.37 3-.34 3-.32 3-.3 3-.29 3-.28 3-.15h29"/><path d="M-3 10.17h1.4l1.1-.46 2.5-.98 2-.71 2-.66 2-.6 2-.55 2-.51 2-.47 2-.44 2-.41 2-.38 2-.35 2-.34 2-.32 2-.3 2-.29 3-.42 3-.4 3-.38 3-.38 3-.36 3-.36 3-.1h29"/><path d="M-3 11.17h1.4l1.1-.57 2.5-1.2 2-.86 2-.78 2-.72 2-.64 2-.59 2-.54 2-.49 2-.46 2-.41 2-.39 2-.35 2-.34 2-.31 2-.29 3-.41 3-.38 3-.36 3-.33 3-.32 3-.3 3-.13h29"/><path d="M-3 12.21h1.4l1.1-.65 2.5-1.34 2-.96 2-.87 2-.79 2-.71 2-.65 2-.6 2-.54 2-.5 2-.45 2-.42 2-.39 2-.36 2-.34 2-.32 3-.45 3-.41 3-.38 3-.36 3-.34 3-.32 3-.06h29"/><path d="M-3 12.79h1.4l1.1-.71 2.5-1.48 2-1.05 2-.95 2-.85 2-.77 2-.7 2-.63 2-.57 2-.52 2-.48 2-.43 2-.4 2-.37 2-.34 2-.32 3-.43 3-.4 3-.37 3-.33 3-.31 3-.29 3-.09h29"/></g><g stroke-opacity=".13" stroke-width="4.5"><path d="M-3 0h83"/><path d="M-3 0h83"/><path d="M-3 .09h1.4l1.1-.01h2.5l2-.01h2l2-.01h2l2-.01h2l2-.01h2h2l2-.01h2h2h2l2-.01h3h3l3-.01h3h3l3-.01h3h29"/><path d="M-3 .56h1.4l1.1-.02 2.5-.04 2-.04 2-.03 2-.03 2-.02 2-.03 2-.02 2-.02 2-.03 2-.02 2-.01 2-.02 2-.02 2-.02 2-.02 3-.02 3-.03 3-.02 3-.03 3-.02 3-.03 3-.02h29"/><path d="M-3 .67h1.4l1.1-.02 2.5-.06 2-.04 2-.04 2-.03 2-.04 2-.03 2-.03 2-.03 2-.02 2-.03 2-.02 2-.02 2-.02 2-.02 2-.02 3-.03 3-.03 3-.03 3-.03 3-.03 3-.03 3-.02h29"/><path d="M-3 .53h1.4l1.1-.02 2.5-.04 2-.03 2-.03 2-.03 2-.02 2-.02 2-.03 2-.02 2-.02 2-.02 2-.02 2-.01 2-.02 2-.02 2-.01 3-.03 3-.02 3-.03 3-.02 3-.03 3-.03 3-.01h29"/><path d="M-3 1.29h1.4l1.1-.05 2.5-.12 2-.09 2-.07 2-.08 2-.06 2-.07 2-.05 2-.06 2-.05 2-.05 2-.04 2-.05 2-.04 2-.04 2-.03 3-.06 3-.05 3-.05 3-.06 3-.05 3-.05 3-.02h29"/><path d="M-3 1.56h1.4l1.1-.06 2.5-.14 2-.1 2-.09 2-.09 2-.08 2-.07 2-.07 2-.07 2-.06 2-.05 2-.06 2-.05 2-.05 2-.05 2-.05 3-.06 3-.07 3-.07 3-.06 3-.07 3-.07 3-.02h29"/><path d="M-3 1.31h1.4l1.1-.05 2.5-.1 2-.08 2-.07 2-.07 2-.06 2-.06 2-.05 2-.05 2-.05 2-.05 2-.04 2-.05 2-.04 2-.04 2-.04 3-.06 3-.06 3-.06 3-.06 3-.06 3-.06 3-.05h29"/><path d="M-3 2.08h1.4l1.1-.07 2.5-.17 2-.12 2-.11 2-.11 2-.1 2-.09 2-.09 2-.08 2-.08 2-.08 2-.07 2-.06 2-.07 2-.06 2-.07 3-.09 3-.09 3-.09 3-.09 3-.1 3-.09 3-.1h29"/><path d="M-3 2.28h1.4l1.1-.1 2.5-.19 2-.14 2-.13 2-.13 2-.11 2-.11 2-.1 2-.09 2-.09 2-.09 2-.08 2-.07 2-.07 2-.08 2-.07 3-.1 3-.1 3-.1 3-.1 3-.1 3-.1 3-.03h29"/><path d="M-3 2.47h1.4l1.1-.08 2.5-.18 2-.13 2-.13 2-.12 2-.11 2-.11 2-.09 2-.1 2-.09 2-.09 2-.08 2-.08 2-.08 2-.08 2-.08 3-.12 3-.12 3-.13 3-.13 3-.13 3-.14 3-.07h29"/><path d="M-3 3.08h1.4l1.1-.1 2.5-.21 2-.16 2-.15 2-.14 2-.13 2-.13 2-.12 2-.11 2-.11 2-.1 2-.11 2-.1 2-.09 2-.1 2-.09 3-.15 3-.14 3-.16 3-.15 3-.16 3-.18 3-.18 3-.01h26"/><path d="M-3 3.77h1.4l1.1-.14 2.5-.28 2-.21 2-.2 2-.18 2-.17 2-.17 2-.15 2-.15 2-.14 2-.13 2-.13 2-.13 2-.12 2-.12 2-.12 3-.18 3-.18 3-.19 3-.19 3-.2 3-.2 3-.09h29"/><path d="M-3 3.88h1.4l1.1-.17 2.5-.37 2-.26 2-.25 2-.22 2-.21 2-.19 2-.18 2-.16 2-.16 2-.14 2-.14 2-.13 2-.12 2-.12 2-.11 3-.16 3-.16 3-.15 3-.15 3-.14 3-.15 3-.04h29"/></g><g stroke-opacity=".14" stroke-width="3.0"><path d="M-3 0h83"/><path d="M-3 0h83"/><path d="M-3 .09h1.4l1.1-.01h2.5l2-.01 2-.01h2h2l2-.01h2l2-.01h2h2l2-.01h2h2h2l2-.01h3h3l3-.01h3h3l3-.01h3h29"/><path d="M-3 .56h1.4l1.1-.02 2.5-.05 2-.03 2-.03 2-.03 2-.03 2-.02 2-.03 2-.02 2-.02 2-.02 2-.02 2-.02 2-.02 2-.02 2-.01 3-.03 3-.02 3-.03 3-.02 3-.03 3-.02 3-.02h29"/><path d="M-3 .67h1.4l1.1-.02 2.5-.06 2-.04 2-.04 2-.04 2-.03 2-.04 2-.03 2-.02 2-.03 2-.02 2-.03 2-.02 2-.02 2-.02 2-.02 3-.03 3-.03 3-.03 3-.03 3-.02 3-.03 3-.02h29"/><path d="M-3 .53h1.4l1.1-.02 2.5-.04 2-.03 2-.03 2-.03 2-.03 2-.02 2-.02 2-.02 2-.02 2-.02 2-.02 2-.02 2-.02 2-.01 2-.02 3-.03 3-.02 3-.03 3-.02 3-.03 3-.02 3-.01h29"/><path d="M-3 1.29h1.4l1.1-.06 2.5-.12 2-.08 2-.08 2-.08 2-.07 2-.06 2-.06 2-.05 2-.05 2-.05 2-.05 2-.04 2-.04 2-.04 2-.04 3-.05 3-.06 3-.05 3-.05 3-.05 3-.05 3-.01h29"/><path d="M-3 1.56h1.4l1.1-.06 2.5-.14 2-.11 2-.09 2-.09 2-.08 2-.08 2-.07 2-.06 2-.06 2-.06 2-.06 2-.05 2-.05 2-.05 2-.05 3-.06 3-.07 3-.07 3-.06 3-.07 3-.06 3-.01h29"/><path d="M-3 1.31h1.4l1.1-.05 2.5-.11 2-.07 2-.08 2-.07 2-.06 2-.06 2-.05 2-.06 2-.05 2-.04 2-.05 2-.04 2-.05 2-.04 2-.04 3-.06 3-.05 3-.06 3-.06 3-.06 3-.07 3-.03h29"/><path d="M-3 2.08h1.4l1.1-.08 2.5-.17 2-.12 2-.12 2-.11 2-.1 2-.09 2-.09 2-.09 2-.07 2-.08 2-.07 2-.07 2-.07 2-.06 2-.06 3-.1 3-.09 3-.09 3-.09 3-.09 3-.09 3-.08h29"/><path d="M-3 2.28h1.4l1.1-.1 2.5-.2 2-.14 2-.14 2-.13 2-.11 2-.11 2-.1 2-.1 2-.09 2-.08 2-.08 2-.08 2-.07 2-.07 2-.07 3-.11 3-.1 3-.09 3-.1 3-.1 3-.1 3-.01h29"/><path d="M-3 2.47h1.4l1.1-.08 2.5-.19 2-.14 2-.13 2-.12 2-.11 2-.11 2-.1 2-.1 2-.09 2-.09 2-.08 2-.08 2-.08 2-.08 2-.08 3-.12 3-.12 3-.13 3-.13 3-.13 3-.14 3-.04h29"/><path d="M-3 3.08h1.4l1.1-.1 2.5-.22 2-.16 2-.16 2-.14 2-.14 2-.12 2-.13 2-.11 2-.11 2-.11 2-.1 2-.1 2-.1 2-.1 2-.09 3-.15 3-.15 3-.15 3-.15 3-.16 3-.18 3-.15h29"/><path d="M-3 3.77h1.4l1.1-.14 2.5-.29 2-.22 2-.2 2-.19 2-.18 2-.16 2-.16 2-.15 2-.14 2-.14 2-.13 2-.12 2-.13 2-.12 2-.12 3-.18 3-.18 3-.18 3-.19 3-.2 3-.21 3-.04h29"/><path d="M-3 3.88h1.4l1.1-.18 2.5-.37 2-.28 2-.25 2-.22 2-.22 2-.19 2-.18 2-.17 2-.15 2-.15 2-.14 2-.12 2-.13 2-.11 2-.11 3-.16 3-.16 3-.15 3-.14 3-.15 3-.14 3-.01h29"/></g><g stroke-opacity=".16" stroke-width="1.2"><path d="M-3 48.92h1.4l1.1-2.71 2.5-5.61 2-3.99 2-3.6 2-3.26 2-2.93 2-2.66 2-2.41 2-2.2 2-2 2-1.83 2-1.68 2-1.55 2-1.44 2-1.35 2-1.25 3-1.75 3-1.61 3-1.49 3-1.39 3-1.3 3-.91h32"/><path d="M-3 50.47h1.4l1.1-2.67 2.5-5.55 2-3.97 2-3.6 2-3.27 2-2.96 2-2.7 2-2.45 2-2.25 2-2.06 2-1.89 2-1.75 2-1.63 2-1.51 2-1.42 2-1.34 3-1.87 3-1.75 3-1.63 3-1.54 3-1.46 3-1.2h32"/><path d="M-3 52.8h1.4l1.1-2.96 2.5-6.14 2-4.36 2-3.92 2-3.54 2-3.19 2-2.88 2-2.61 2-2.36 2-2.14 2-1.96 2-1.79 2-1.64 2-1.52 2-1.4 2-1.3 3-1.79 3-1.62 3-1.49 3-1.37 3-1.26 3-1.17 3-.39h29"/></g><g stroke-opacity=".16" stroke-width="2.0"><path d="M-3 22.23h1.4l1.1-1.07 2.5-2.24 2-1.63 2-1.48 2-1.36 2-1.24 2-1.15 2-1.05 2-.97 2-.9 2-.83 2-.79 2-.73 2-.69 2-.66 2-.63 3-.89 3-.86 3-.81 3-.79 3-.77 3-.69h32"/><path d="M-3 22.96h1.4l1.1-1.3 2.5-2.69 2-1.9 2-1.72 2-1.55 2-1.39 2-1.25 2-1.14 2-1.02 2-.94 2-.84 2-.78 2-.7 2-.66 2-.6 2-.55 3-.77 3-.69 3-.62 3-.58 3-.52 3-.49 3-.26h29"/><path d="M-3 23.83h1.4l1.1-1.23 2.5-2.56 2-1.84 2-1.67 2-1.52 2-1.39 2-1.26 2-1.15 2-1.05 2-.97 2-.9 2-.83 2-.77 2-.72 2-.67 2-.64 3-.9 3-.84 3-.79 3-.75 3-.71 3-.67h32"/><path d="M-3 25.09h1.4l1.1-1.48 2.5-3.03 2-2.14 2-1.92 2-1.72 2-1.55 2-1.39 2-1.24 2-1.13 2-1.02 2-.92 2-.84 2-.77 2-.7 2-.65 2-.59 3-.81 3-.73 3-.66 3-.6 3-.55 3-.49 3-.16h29"/><path d="M-3 26.43h1.4l1.1-1.3 2.5-2.71 2-1.96 2-1.79 2-1.64 2-1.49 2-1.37 2-1.26 2-1.15 2-1.07 2-.98 2-.92 2-.86 2-.8 2-.76 2-.71 3-1.01 3-.95 3-.89 3-.86 3-.81 3-.79 3-.35h29"/><path d="M-3 27.09h1.4l1.1-1.31 2.5-2.75 2-1.99 2-1.81 2-1.67 2-1.52 2-1.39 2-1.29 2-1.18 2-1.09 2-1.01 2-.95 2-.88 2-.83 2-.79 2-.75 3-1.06 3-1 3-.95 3-.91 3-.88 3-.85 3-.23h29"/><path d="M-3 28.6h1.4l1.1-1.66 2.5-3.43 2-2.42 2-2.18 2-1.95 2-1.75 2-1.58 2-1.43 2-1.29 2-1.16 2-1.07 2-.97 2-.88 2-.82 2-.76 2-.7 3-.97 3-.88 3-.8 3-.74 3-.68 3-.48h32"/><path d="M-3 29.55h1.4l1.1-1.76 2.5-3.63 2-2.55 2-2.29 2-2.05 2-1.83 2-1.64 2-1.48 2-1.33 2-1.2 2-1.08 2-.98 2-.9 2-.82 2-.75 2-.69 3-.94 3-.84 3-.75 3-.68 3-.62 3-.56 3-.18h29"/><path d="M-3 30.76h1.4l1.1-1.62 2.5-3.35 2-2.41 2-2.18 2-1.98 2-1.8 2-1.63 2-1.5 2-1.36 2-1.24 2-1.15 2-1.06 2-.98 2-.91 2-.84 2-.8 3-1.11 3-1.03 3-.95 3-.89 3-.84 3-.79 3-.34h29"/></g><g stroke-opacity=".18" stroke-width="2.0"><path d="M-3 13.51h1.4l1.1-.7 2.5-1.47 2-1.06 2-.95 2-.87 2-.79 2-.72 2-.65 2-.6 2-.55 2-.51 2-.47 2-.43 2-.41 2-.38 2-.36 3-.51 3-.47 3-.44 3-.42 3-.39 3-.36h32"/><path d="M-3 14.11h1.4l1.1-.85 2.5-1.75 2-1.23 2-1.1 2-.98 2-.88 2-.79 2-.7 2-.64 2-.57 2-.52 2-.46 2-.43 2-.39 2-.35 2-.32 3-.45 3-.39 3-.35 3-.31 3-.29 3-.26 3-.1h29"/><path d="M-3 15h1.4l1.1-.87 2.5-1.79 2-1.26 2-1.14 2-1.02 2-.92 2-.82 2-.75 2-.67 2-.61 2-.56 2-.51 2-.46 2-.43 2-.39 2-.36 3-.5 3-.46 3-.41 3-.38 3-.34 3-.32 3-.03h29"/><path d="M-3 15.97h1.4l1.1-.93 2.5-1.92 2-1.36 2-1.22 2-1.09 2-.98 2-.88 2-.8 2-.71 2-.65 2-.59 2-.54 2-.49 2-.45 2-.41 2-.39 3-.52 3-.48 3-.43 3-.39 3-.36 3-.33 3-.05h29"/><path d="M-3 17.37h1.4l1.1-1 2.5-2.05 2-1.46 2-1.31 2-1.17 2-1.06 2-.96 2-.86 2-.78 2-.71 2-.64 2-.59 2-.54 2-.5 2-.46 2-.43 3-.59 3-.53 3-.49 3-.45 3-.42 3-.37h32"/><path d="M-3 18.16h1.4l1.1-.9 2.5-1.89 2-1.36 2-1.24 2-1.13 2-1.03 2-.95 2-.87 2-.79 2-.74 2-.68 2-.63 2-.59 2-.55 2-.52 2-.5 3-.7 3-.65 3-.62 3-.59 3-.57 3-.54 3-.12h29"/><path d="M-3 18.7h1.4l1.1-1.12 2.5-2.31 2-1.62 2-1.45 2-1.3 2-1.16 2-1.05 2-.93 2-.84 2-.76 2-.69 2-.62 2-.56 2-.52 2-.47 2-.44 3-.59 3-.53 3-.48 3-.43 3-.39 3-.35 3-.09h29"/><path d="M-3 19.58h1.4l1.1-.9 2.5-1.91 2-1.38 2-1.27 2-1.16 2-1.08 2-.98 2-.92 2-.84 2-.79 2-.73 2-.69 2-.65 2-.62 2-.59 2-.56 3-.81 3-.77 3-.76 3-.73 3-.71 3-.71 3-.02h29"/><path d="M-3 21.22h1.4l1.1-1.25 2.5-2.57 2-1.82 2-1.63 2-1.46 2-1.31 2-1.17 2-1.06 2-.96 2-.86 2-.78 2-.71 2-.65 2-.6 2-.55 2-.5 3-.69 3-.62 3-.56 3-.52 3-.46 3-.43 3-.06h29"/></g><g stroke-opacity=".21" stroke-width="2.0"><path d="M-3 4.54h1.4l1.1-.17 2.5-.37 2-.27 2-.25 2-.24 2-.22 2-.21 2-.19 2-.18 2-.18 2-.16 2-.16 2-.15 2-.15 2-.14 2-.14 3-.21 3-.21 3-.21 3-.21 3-.22 3-.22 3-.08h29"/><path d="M-3 5.34h1.4l1.1-.23 2.5-.49 2-.35 2-.33 2-.31 2-.28 2-.26 2-.24 2-.22 2-.21 2-.2 2-.19 2-.17 2-.17 2-.16 2-.15 3-.23 3-.21 3-.21 3-.2 3-.2 3-.2 3-.13h29"/><path d="M-3 5.58h1.4l1.1-.22 2.5-.48 2-.35 2-.33 2-.3 2-.28 2-.27 2-.24 2-.23 2-.22 2-.21 2-.19 2-.19 2-.18 2-.17 2-.17 3-.25 3-.25 3-.24 3-.24 3-.25 3-.25 3-.07h29"/><path d="M-3 6.62h1.4l1.1-.37 2.5-.78 2-.55 2-.49 2-.45 2-.4 2-.36 2-.33 2-.29 2-.27 2-.25 2-.22 2-.2 2-.19 2-.17 2-.16 3-.22 3-.2 3-.18 3-.17 3-.15 3-.14 3-.08h29"/><path d="M-3 7.03h1.4l1.1-.44 2.5-.9 2-.62 2-.56 2-.5 2-.44 2-.4 2-.35 2-.32 2-.28 2-.25 2-.23 2-.21 2-.19 2-.17 2-.15 3-.21 3-.19 3-.16 3-.15 3-.13 3-.11 3-.07h29"/><path d="M-3 7.7h1.4l1.1-.41 2.5-.85 2-.61 2-.55 2-.5 2-.45 2-.42 2-.37 2-.35 2-.31 2-.29 2-.27 2-.25 2-.23 2-.21 2-.21 3-.28 3-.27 3-.25 3-.23 3-.22 3-.17h32"/><path d="M-3 7.95h1.4l1.1-.47 2.5-.98 2-.69 2-.62 2-.55 2-.49 2-.44 2-.4 2-.36 2-.32 2-.29 2-.26 2-.24 2-.22 2-.2 2-.18 3-.25 3-.22 3-.2 3-.18 3-.16 3-.15 3-.08h29"/><path d="M-3 8.66h1.4l1.1-.53 2.5-1.07 2-.76 2-.67 2-.61 2-.54 2-.48 2-.44 2-.39 2-.35 2-.32 2-.29 2-.26 2-.24 2-.22 2-.2 3-.28 3-.25 3-.22 3-.21 3-.18 3-.15h32"/><path d="M-3 9.75h1.4l1.1-.5 2.5-1.05 2-.75 2-.68 2-.62 2-.56 2-.52 2-.47 2-.43 2-.39 2-.36 2-.34 2-.31 2-.3 2-.27 2-.26 3-.36 3-.33 3-.31 3-.3 3-.28 3-.27 3-.09h29"/><path d="M-3 10.17h1.4l1.1-.48 2.5-1.01 2-.72 2-.67 2-.62 2-.56 2-.52 2-.48 2-.44 2-.41 2-.38 2-.35 2-.34 2-.32 2-.3 2-.29 3-.41 3-.39 3-.38 3-.37 3-.35 3-.35 3-.03h29"/><path d="M-3 11.17h1.4l1.1-.59 2.5-1.23 2-.89 2-.79 2-.73 2-.66 2-.59 2-.55 2-.49 2-.46 2-.41 2-.39 2-.35 2-.33 2-.31 2-.29 3-.4 3-.38 3-.34 3-.33 3-.3 3-.29 3-.07h29"/><path d="M-3 12.21h1.4l1.1-.67 2.5-1.37 2-.99 2-.89 2-.8 2-.73 2-.66 2-.59 2-.55 2-.5 2-.45 2-.42 2-.39 2-.36 2-.34 2-.31 3-.44 3-.4 3-.37 3-.35 3-.33 3-.3h32"/><path d="M-3 12.79h1.4l1.1-.73 2.5-1.52 2-1.08 2-.97 2-.87 2-.78 2-.7 2-.64 2-.57 2-.52 2-.48 2-.43 2-.39 2-.37 2-.33 2-.31 3-.43 3-.39 3-.35 3-.33 3-.29 3-.28 3-.03h29"/></g><g stroke-opacity=".22" stroke-width="1.2"><path d="M-3 41.11h1.4l1.1-1.89 2.5-3.97 2-2.89 2-2.65 2-2.44 2-2.25 2-2.07 2-1.91 2-1.78 2-1.65 2-1.54 2-1.46 2-1.37 2-1.31 2-1.25 2-1.2 3-1.73 3-1.67 3-1.62 3-1.59 3-1.56 3-1.31h32"/><path d="M-3 42.03h1.4l1.1-2.55 2.5-5.23 2-3.68 2-3.29 2-2.94 2-2.63 2-2.35 2-2.11 2-1.89 2-1.71 2-1.54 2-1.4 2-1.27 2-1.16 2-1.06 2-.98 3-1.33 3-1.19 3-1.07 3-.97 3-.88 3-.79 3-.01h29"/><path d="M-3 43.57h1.4l1.1-2.41 2.5-4.98 2-3.56 2-3.2 2-2.9 2-2.61 2-2.37 2-2.15 2-1.96 2-1.78 2-1.64 2-1.51 2-1.39 2-1.29 2-1.21 2-1.14 3-1.58 3-1.46 3-1.37 3-1.27 3-1.21 3-.58h32"/><path d="M-3 44.87h1.4l1.1-2.63 2.5-5.43 2-3.84 2-3.44 2-3.09 2-2.76 2-2.49 2-2.25 2-2.02 2-1.84 2-1.66 2-1.53 2-1.39 2-1.29 2-1.18 2-1.11 3-1.52 3-1.38 3-1.26 3-1.16 3-1.07 3-.53h32"/><path d="M-3 46h1.4l1.1-2.47 2.5-5.14 2-3.68 2-3.32 2-3.01 2-2.73 2-2.47 2-2.25 2-2.05 2-1.88 2-1.72 2-1.58 2-1.47 2-1.36 2-1.28 2-1.19 3-1.67 3-1.54 3-1.43 3-1.34 3-1.26 3-1.16h32"/><path d="M-3 47.52h1.4l1.1-2.24 2.5-4.71 2-3.42 2-3.13 2-2.86 2-2.64 2-2.42 2-2.23 2-2.06 2-1.91 2-1.78 2-1.67 2-1.56 2-1.48 2-1.4 2-1.35 3-1.91 3-1.82 3-1.75 3-1.69 3-1.65 3-1.6 3-.24h29"/></g><g stroke-opacity=".23" stroke-width="2.0"><path d="M-3 0h83"/><path d="M-3 0h83"/><path d="M-3 .09h1.4l1.1-.01h2.5l2-.01 2-.01h2l2-.01h2h2l2-.01h2h2l2-.01h2h2l2-.01h2h3l3-.01h3h3h3l3-.01h3h29"/><path d="M-3 .56h1.4l1.1-.02 2.5-.05 2-.03 2-.04 2-.03 2-.02 2-.03 2-.02 2-.03 2-.02 2-.02 2-.02 2-.02 2-.01 2-.02 2-.02 3-.02 3-.03 3-.02 3-.03 3-.02 3-.03 3-.01h29"/><path d="M-3 .67h1.4l1.1-.02 2.5-.06 2-.05 2-.04 2-.04 2-.03 2-.03 2-.03 2-.03 2-.03 2-.02 2-.03 2-.02 2-.02 2-.02 2-.02 3-.03 3-.03 3-.03 3-.02 3-.03 3-.03 3-.01h29"/><path d="M-3 .53h1.4l1.1-.02 2.5-.04 2-.04 2-.03 2-.02 2-.03 2-.02 2-.03 2-.02 2-.02 2-.02 2-.02 2-.02 2-.01 2-.02 2-.02 3-.02 3-.03 3-.02 3-.03 3-.02 3-.03h32"/><path d="M-3 1.29h1.4l1.1-.06 2.5-.12 2-.09 2-.08 2-.08 2-.07 2-.06 2-.06 2-.06 2-.05 2-.05 2-.04 2-.05 2-.04 2-.04 2-.03 3-.06 3-.05 3-.05 3-.05 3-.05 3-.05h32"/><path d="M-3 1.56h1.4l1.1-.07 2.5-.14 2-.11 2-.09 2-.09 2-.09 2-.07 2-.07 2-.07 2-.06 2-.06 2-.06 2-.05 2-.05 2-.05 2-.04 3-.07 3-.07 3-.06 3-.07 3-.06 3-.06h32"/><path d="M-3 1.31h1.4l1.1-.05 2.5-.11 2-.08 2-.08 2-.07 2-.06 2-.06 2-.06 2-.05 2-.05 2-.05 2-.05 2-.04 2-.04 2-.04 2-.04 3-.06 3-.06 3-.06 3-.06 3-.06 3-.06 3-.02h29"/><path d="M-3 2.08h1.4l1.1-.08 2.5-.17 2-.13 2-.12 2-.11 2-.11 2-.09 2-.09 2-.09 2-.08 2-.07 2-.08 2-.07 2-.06 2-.07 2-.06 3-.09 3-.09 3-.09 3-.09 3-.09 3-.09 3-.06h29"/><path d="M-3 2.28h1.4l1.1-.1 2.5-.21 2-.15 2-.14 2-.12 2-.12 2-.11 2-.11 2-.09 2-.09 2-.09 2-.08 2-.08 2-.07 2-.07 2-.07 3-.1 3-.1 3-.1 3-.1 3-.1 3-.08h32"/><path d="M-3 2.47h1.4l1.1-.09 2.5-.19 2-.14 2-.13 2-.12 2-.12 2-.11 2-.1 2-.1 2-.09 2-.09 2-.09 2-.08 2-.08 2-.09 2-.08 3-.12 3-.12 3-.12 3-.13 3-.13 3-.14 3-.01h29"/><path d="M-3 3.08h1.4l1.1-.11 2.5-.22 2-.17 2-.15 2-.15 2-.14 2-.13 2-.12 2-.12 2-.12 2-.1 2-.11 2-.1 2-.1 2-.1 2-.09 3-.15 3-.14 3-.16 3-.15 3-.16 3-.17 3-.12h29"/><path d="M-3 3.77h1.4l1.1-.14 2.5-.3 2-.23 2-.2 2-.2 2-.18 2-.17 2-.16 2-.15 2-.14 2-.14 2-.13 2-.13 2-.12 2-.13 2-.12 3-.18 3-.18 3-.18 3-.19 3-.2 3-.2h3h29"/><path d="M-3 3.88h1.4l1.1-.18 2.5-.39 2-.28 2-.25 2-.24 2-.21 2-.2 2-.18 2-.17 2-.16 2-.14 2-.14 2-.13 2-.12 2-.12 2-.11 3-.16 3-.15 3-.15 3-.14 3-.14 3-.12h32"/></g><g stroke-opacity=".27" stroke-width="1.2"><path d="M-3 32.22h1.4l1.1-1.92 2.5-3.96 2-2.79 2-2.49 2-2.23 2-2 2-1.8 2-1.61 2-1.45 2-1.31 2-1.18 2-1.08 2-.98 2-.9 2-.82 2-.76 3-1.04 3-.92 3-.84 3-.76 3-.69 3-.63 3-.06h29"/><path d="M-3 32.78h1.4l1.1-1.92 2.5-3.95 2-2.8 2-2.51 2-2.25 2-2.02 2-1.81 2-1.63 2-1.48 2-1.33 2-1.21 2-1.1 2-1 2-.92 2-.84 2-.79 3-1.06 3-.96 3-.87 3-.79 3-.72 3-.66 3-.16h29"/><path d="M-3 34.22h1.4l1.1-1.93 2.5-3.98 2-2.83 2-2.55 2-2.3 2-2.07 2-1.87 2-1.69 2-1.53 2-1.4 2-1.27 2-1.17 2-1.08 2-.99 2-.92 2-.86 3-1.18 3-1.08 3-1 3-.92 3-.86 3-.74h32"/><path d="M-3 35.32h1.4l1.1-2.22 2.5-4.56 2-3.19 2-2.83 2-2.52 2-2.24 2-2 2-1.78 2-1.59 2-1.43 2-1.28 2-1.15 2-1.05 2-.95 2-.86 2-.79 3-1.06 3-.93 3-.84 3-.74 3-.66 3-.59 3-.06h29"/><path d="M-3 36.64h1.4l1.1-2.15 2.5-4.43 2-3.13 2-2.81 2-2.52 2-2.25 2-2.03 2-1.83 2-1.65 2-1.49 2-1.35 2-1.23 2-1.13 2-1.03 2-.95 2-.88 3-1.2 3-1.08 3-.98 3-.89 3-.82 3-.75 3-.06h29"/><path d="M-3 38.42h1.4l1.1-1.75 2.5-3.69 2-2.68 2-2.47 2-2.26 2-2.09 2-1.93 2-1.78 2-1.66 2-1.54 2-1.44 2-1.36 2-1.28 2-1.23 2-1.17 2-1.12 3-1.63 3-1.57 3-1.53 3-1.49 3-1.48 3-1.27h32"/><path d="M-3 39.14h1.4l1.1-2.45 2.5-5.01 2-3.51 2-3.12 2-2.78 2-2.48 2-2.21 2-1.97 2-1.77 2-1.59 2-1.43 2-1.29 2-1.17 2-1.07 2-.97 2-.9 3-1.21 3-1.08 3-.97 3-.87 3-.78 3-.51h32"/></g><g stroke-opacity=".32" stroke-width="1.2"><path d="M-3 22.23h1.4l1.1-1.1 2.5-2.31 2-1.66 2-1.52 2-1.38 2-1.26 2-1.16 2-1.07 2-.97 2-.91 2-.84 2-.78 2-.73 2-.69 2-.66 2-.62 3-.89 3-.83 3-.81 3-.77 3-.75 3-.52h32"/><path d="M-3 22.96h1.4l1.1-1.34 2.5-2.76 2-1.95 2-1.75 2-1.57 2-1.41 2-1.27 2-1.14 2-1.03 2-.93 2-.85 2-.77 2-.7 2-.64 2-.6 2-.54 3-.75 3-.67 3-.61 3-.55 3-.5 3-.46 3-.17h29"/><path d="M-3 23.83h1.4l1.1-1.27 2.5-2.63 2-1.88 2-1.71 2-1.55 2-1.4 2-1.28 2-1.16 2-1.06 2-.97 2-.9 2-.83 2-.76 2-.72 2-.67 2-.63 3-.89 3-.82 3-.77 3-.73 3-.69 3-.51h32"/><path d="M-3 25.09h1.4l1.1-1.52 2.5-3.11 2-2.19 2-1.96 2-1.75 2-1.57 2-1.4 2-1.25 2-1.13 2-1.02 2-.92 2-.84 2-.75 2-.7 2-.63 2-.58 3-.8 3-.71 3-.63 3-.58 3-.52 3-.47 3-.06h29"/><path d="M-3 26.43h1.4l1.1-1.34 2.5-2.79 2-2 2-1.83 2-1.67 2-1.52 2-1.38 2-1.27 2-1.17 2-1.07 2-.98 2-.92 2-.85 2-.8 2-.75 2-.71 3-1 3-.93 3-.88 3-.83 3-.79 3-.75 3-.2h29"/><path d="M-3 27.09h1.4l1.1-1.35 2.5-2.82 2-2.04 2-1.86 2-1.69 2-1.55 2-1.41 2-1.3 2-1.19 2-1.09 2-1.02 2-.95 2-.88 2-.83 2-.78 2-.74 3-1.05 3-.98 3-.93 3-.9 3-.85 3-.82 3-.06h29"/><path d="M-3 28.6h1.4l1.1-1.71 2.5-3.52 2-2.48 2-2.22 2-1.98 2-1.78 2-1.59 2-1.44 2-1.29 2-1.17 2-1.06 2-.96 2-.88 2-.81 2-.74 2-.69 3-.95 3-.85 3-.78 3-.71 3-.65 3-.34h32"/><path d="M-3 29.55h1.4l1.1-1.82 2.5-3.72 2-2.61 2-2.33 2-2.08 2-1.86 2-1.65 2-1.49 2-1.33 2-1.2 2-1.08 2-.97 2-.89 2-.81 2-.73 2-.68 3-.91 3-.82 3-.73 3-.65 3-.59 3-.53 3-.07h29"/><path d="M-3 30.76h1.4l1.1-1.66 2.5-3.45 2-2.46 2-2.23 2-2.02 2-1.82 2-1.66 2-1.5 2-1.37 2-1.25 2-1.15 2-1.05 2-.98 2-.9 2-.84 2-.78 3-1.1 3-1 3-.93 3-.86 3-.81 3-.76 3-.18h29"/></g><g stroke-opacity=".38" stroke-width="1.2"><path d="M-3 13.51h1.4l1.1-.73 2.5-1.5 2-1.08 2-.98 2-.88 2-.8 2-.73 2-.66 2-.6 2-.55 2-.51 2-.47 2-.43 2-.41 2-.37 2-.36 3-.5 3-.46 3-.43 3-.41 3-.38 3-.27h32"/><path d="M-3 14.11h1.4l1.1-.87 2.5-1.8 2-1.26 2-1.12 2-1 2-.89 2-.79 2-.71 2-.64 2-.57 2-.51 2-.47 2-.42 2-.38 2-.34 2-.32 3-.43 3-.38 3-.34 3-.3 3-.27 3-.25 3-.05h29"/><path d="M-3 15h1.4l1.1-.9 2.5-1.83 2-1.3 2-1.16 2-1.03 2-.93 2-.84 2-.75 2-.67 2-.61 2-.56 2-.5 2-.46 2-.42 2-.39 2-.35 3-.49 3-.44 3-.4 3-.37 3-.33 3-.27h32"/><path d="M-3 15.97h1.4l1.1-.96 2.5-1.97 2-1.39 2-1.24 2-1.11 2-.99 2-.89 2-.8 2-.72 2-.65 2-.59 2-.53 2-.49 2-.44 2-.41 2-.38 3-.51 3-.46 3-.42 3-.37 3-.35 3-.3h32"/><path d="M-3 17.37h1.4l1.1-1.03 2.5-2.11 2-1.49 2-1.33 2-1.2 2-1.07 2-.96 2-.87 2-.79 2-.7 2-.65 2-.58 2-.54 2-.49 2-.45 2-.42 3-.58 3-.52 3-.48 3-.43 3-.4 3-.28h32"/><path d="M-3 18.16h1.4l1.1-.93 2.5-1.94 2-1.39 2-1.27 2-1.15 2-1.05 2-.96 2-.87 2-.81 2-.73 2-.68 2-.64 2-.58 2-.55 2-.52 2-.49 3-.69 3-.64 3-.61 3-.57 3-.55 3-.53 3-.01h29"/><path d="M-3 18.7h1.4l1.1-1.16 2.5-2.36 2-1.66 2-1.48 2-1.32 2-1.18 2-1.05 2-.94 2-.84 2-.76 2-.68 2-.62 2-.56 2-.51 2-.46 2-.43 3-.58 3-.51 3-.46 3-.41 3-.38 3-.33 3-.02h29"/><path d="M-3 19.58h1.4l1.1-.93 2.5-1.96 2-1.41 2-1.3 2-1.19 2-1.09 2-1 2-.92 2-.86 2-.79 2-.74 2-.69 2-.65 2-.61 2-.59 2-.56 3-.8 3-.76 3-.74 3-.72 3-.7 3-.57h32"/><path d="M-3 21.22h1.4l1.1-1.29 2.5-2.64 2-1.86 2-1.66 2-1.48 2-1.33 2-1.18 2-1.07 2-.96 2-.86 2-.78 2-.7 2-.65 2-.58 2-.54 2-.5 3-.67 3-.61 3-.54 3-.49 3-.44 3-.39h32"/></g><g stroke-opacity=".43" stroke-width="1.2"><path d="M-3 4.54h1.4l1.1-.18 2.5-.37 2-.28 2-.26 2-.24 2-.23 2-.21 2-.2 2-.18 2-.18 2-.16 2-.16 2-.15 2-.15 2-.15 2-.14 3-.21 3-.2 3-.21 3-.21 3-.22 3-.22 3-.03h29"/><path d="M-3 5.34h1.4l1.1-.24 2.5-.5 2-.36 2-.34 2-.31 2-.28 2-.27 2-.24 2-.23 2-.21 2-.2 2-.19 2-.17 2-.17 2-.16 2-.15 3-.22 3-.22 3-.2 3-.2 3-.2 3-.19 3-.09h29"/><path d="M-3 5.58h1.4l1.1-.23 2.5-.49 2-.36 2-.33 2-.31 2-.29 2-.27 2-.25 2-.23 2-.22 2-.21 2-.2 2-.18 2-.18 2-.18 2-.17 3-.25 3-.24 3-.24 3-.24 3-.24 3-.25 3-.02h29"/><path d="M-3 6.62h1.4l1.1-.38 2.5-.8 2-.56 2-.51 2-.45 2-.4 2-.37 2-.33 2-.3 2-.27 2-.24 2-.22 2-.2 2-.19 2-.17 2-.16 3-.21 3-.2 3-.17 3-.16 3-.15 3-.13 3-.05h29"/><path d="M-3 7.03h1.4l1.1-.45 2.5-.92 2-.64 2-.57 2-.51 2-.45 2-.39 2-.36 2-.31 2-.29 2-.25 2-.23 2-.2 2-.19 2-.16 2-.16 3-.2 3-.18 3-.15 3-.14 3-.13 3-.11 3-.04h29"/><path d="M-3 7.7h1.4l1.1-.42 2.5-.87 2-.63 2-.56 2-.51 2-.46 2-.42 2-.38 2-.34 2-.32 2-.29 2-.26 2-.25 2-.23 2-.21 2-.21 3-.28 3-.26 3-.24 3-.23 3-.21 3-.12h32"/><path d="M-3 7.95h1.4l1.1-.49 2.5-1 2-.71 2-.63 2-.56 2-.49 2-.45 2-.4 2-.36 2-.32 2-.29 2-.26 2-.24 2-.21 2-.2 2-.18 3-.24 3-.21 3-.19 3-.17 3-.16 3-.13 3-.06h29"/><path d="M-3 8.66h1.4l1.1-.54 2.5-1.11 2-.77 2-.69 2-.61 2-.55 2-.49 2-.43 2-.39 2-.36 2-.31 2-.29 2-.26 2-.24 2-.21 2-.2 3-.27 3-.24 3-.22 3-.19 3-.18 3-.11h32"/><path d="M-3 9.75h1.4l1.1-.52 2.5-1.07 2-.77 2-.69 2-.63 2-.58 2-.52 2-.47 2-.43 2-.4 2-.36 2-.34 2-.31 2-.29 2-.27 2-.26 3-.35 3-.33 3-.31 3-.28 3-.27 3-.26 3-.04h29"/><path d="M-3 10.17h1.4l1.1-.49 2.5-1.04 2-.75 2-.68 2-.62 2-.58 2-.52 2-.48 2-.45 2-.41 2-.38 2-.36 2-.34 2-.31 2-.3 2-.29 3-.41 3-.39 3-.37 3-.36 3-.34 3-.3h32"/><path d="M-3 11.17h1.4l1.1-.61 2.5-1.27 2-.9 2-.81 2-.74 2-.67 2-.6 2-.55 2-.5 2-.45 2-.42 2-.38 2-.36 2-.32 2-.31 2-.28 3-.4 3-.36 3-.34 3-.32 3-.29 3-.27 3-.02h29"/><path d="M-3 12.21h1.4l1.1-.69 2.5-1.41 2-1.01 2-.9 2-.82 2-.74 2-.67 2-.6 2-.55 2-.5 2-.45 2-.42 2-.38 2-.36 2-.33 2-.31 3-.43 3-.39 3-.37 3-.33 3-.32 3-.23h32"/><path d="M-3 12.79h1.4l1.1-.76 2.5-1.56 2-1.1 2-.98 2-.89 2-.79 2-.71 2-.64 2-.58 2-.52 2-.47 2-.43 2-.39 2-.36 2-.33 2-.31 3-.41 3-.38 3-.34 3-.31 3-.29 3-.24h32"/></g><g stroke-opacity=".49" stroke-width="1.2"><path d="M-3 0h83"/><path d="M-3 0h83"/><path d="M-3 .09h1.4l1.1-.01h2.5l2-.01 2-.01h2l2-.01h2h2l2-.01h2l2-.01h2h2h2l2-.01h2h3l3-.01h3h3l3-.01h3h3h29"/><path d="M-3 .56h1.4l1.1-.02 2.5-.05 2-.04 2-.03 2-.03 2-.03 2-.02 2-.03 2-.02 2-.02 2-.02 2-.02 2-.02 2-.02 2-.02 2-.02 3-.02 3-.03 3-.02 3-.02 3-.03 3-.02 3-.01h29"/><path d="M-3 .67h1.4l1.1-.02 2.5-.07 2-.04 2-.04 2-.04 2-.04 2-.03 2-.03 2-.03 2-.02 2-.03 2-.02 2-.03 2-.02 2-.02 2-.02 3-.03 3-.02 3-.03 3-.03 3-.03 3-.02 3-.01h29"/><path d="M-3 .53h1.4l1.1-.02 2.5-.05 2-.03 2-.03 2-.03 2-.02 2-.03 2-.02 2-.02 2-.03 2-.01 2-.02 2-.02 2-.02 2-.02 2-.01 3-.03 3-.02 3-.03 3-.02 3-.03 3-.02h32"/><path d="M-3 1.29h1.4l1.1-.06 2.5-.13 2-.09 2-.08 2-.08 2-.07 2-.07 2-.06 2-.05 2-.05 2-.05 2-.05 2-.04 2-.04 2-.04 2-.04 3-.05 3-.05 3-.05 3-.05 3-.05 3-.04h32"/><path d="M-3 1.56h1.4l1.1-.07 2.5-.15 2-.1 2-.1 2-.09 2-.09 2-.08 2-.07 2-.07 2-.06 2-.06 2-.05 2-.06 2-.05 2-.04 2-.05 3-.07 3-.06 3-.07 3-.06 3-.06 3-.05h32"/><path d="M-3 1.31h1.4l1.1-.05 2.5-.12 2-.08 2-.07 2-.08 2-.06 2-.06 2-.06 2-.05 2-.06 2-.04 2-.05 2-.04 2-.05 2-.04 2-.04 3-.06 3-.06 3-.05 3-.06 3-.06 3-.06 3-.01h29"/><path d="M-3 2.08h1.4l1.1-.08 2.5-.18 2-.13 2-.12 2-.12 2-.1 2-.1 2-.09 2-.09 2-.08 2-.08 2-.07 2-.07 2-.07 2-.06 2-.06 3-.09 3-.1 3-.08 3-.09 3-.09 3-.09 3-.04h29"/><path d="M-3 2.28h1.4l1.1-.1 2.5-.22 2-.15 2-.14 2-.13 2-.12 2-.12 2-.1 2-.1 2-.09 2-.08 2-.09 2-.07 2-.08 2-.07 2-.07 3-.1 3-.1 3-.09 3-.1 3-.1 3-.06h32"/><path d="M-3 2.47h1.4l1.1-.09 2.5-.19 2-.15 2-.14 2-.12 2-.12 2-.11 2-.11 2-.1 2-.09 2-.09 2-.09 2-.08 2-.08 2-.09 2-.08 3-.12 3-.12 3-.12 3-.13 3-.13 3-.12h32"/><path d="M-3 3.08h1.4l1.1-.11 2.5-.23 2-.17 2-.16 2-.15 2-.14 2-.14 2-.12 2-.12 2-.12 2-.11 2-.1 2-.1 2-.1 2-.1 2-.1 3-.15 3-.14 3-.15 3-.16 3-.16 3-.17 3-.08h29"/><path d="M-3 3.77h1.4l1.1-.15 2.5-.31 2-.22 2-.22 2-.19 2-.19 2-.17 2-.16 2-.16 2-.14 2-.14 2-.14 2-.12 2-.13 2-.12 2-.12 3-.18 3-.18 3-.19 3-.19 3-.19 3-.16h32"/><path d="M-3 3.88h1.4l1.1-.19 2.5-.4 2-.28 2-.26 2-.24 2-.22 2-.2 2-.18 2-.18 2-.15 2-.15 2-.14 2-.12 2-.13 2-.11 2-.11 3-.16 3-.15 3-.14 3-.14 3-.14 3-.09h32"/></g></g>
<path d="M1347.1 1437L1355.8 1437L1359.6 1440.6L1365.8 1446.2L1372 1451L1378.3 1455.2L1384.5 1459.2L1390.7 1462.9L1397 1466.6L1403.2 1470.1L1409.4 1473.5L1415.6 1476.8L1421.9 1479.9L1428.1 1483.1L1434.3 1486.2L1440.6 1489.1L1446.8 1491.7L1453 1494L1459.2 1496.2L1465.5 1498.2L1471.7 1500.1L1477.9 1502L1484.2 1503.7L1490.4 1505.3L1496.6 1506.9L1502.9 1508.5L1509.1 1510.2L1515.3 1511.8L1521.5 1513.3L1527.8 1514.7L1534 1515.8L1540.2 1516.8L1546.5 1517.7L1552.7 1518.7L1558.9 1519.8L1565.2 1520.9L1571.4 1522.1L1577.6 1523.2L1583.8 1524.3L1590.1 1525.3L1596.3 1526.2L1602.5 1527.2L1608.8 1528.1L1615 1529L1621.2 1529.8L1627.5 1530.6L1633.7 1531.3L1639.9 1531.8L1646.2 1532.3L1652.4 1532.7L1658.6 1533.1L1664.8 1533.3L1671.1 1533.5L1677.3 1533.6L1864.2 1533.6" fill="none" stroke="#d82c24" stroke-width="8.5" stroke-linejoin="round"/>
<g fill="none" stroke="#1a1a1a" stroke-width="2.5">
<rect x="121.1" y="62.4" width="572.6" height="353.2"/>
<rect x="718" y="62.4" width="573.6" height="353.2"/>
<rect x="1316" y="62.4" width="573.5" height="353.2"/>
<rect x="121.1" y="440.1" width="572.6" height="353.2"/>
<rect x="718" y="440.1" width="573.6" height="353.2"/>
<rect x="1316" y="440.1" width="573.5" height="353.2"/>
<rect x="121.1" y="817.8" width="572.6" height="353.2"/>
<rect x="718" y="817.8" width="573.6" height="353.2"/>
<rect x="1316" y="817.8" width="573.5" height="353.2"/>
<rect x="121.1" y="1195.5" width="572.6" height="353.2"/>
<rect x="718" y="1195.5" width="573.6" height="353.2"/>
<rect x="1316" y="1195.5" width="573.5" height="353.2"/>
</g>
<path d="M169.8 416.6v9.3M294.4 416.6v9.3M419 416.6v9.3M543.6 416.6v9.3M668.2 416.6v9.3M768.1 416.6v9.3M892.7 416.6v9.3M1017.3 416.6v9.3M1141.9 416.6v9.3M1266.5 416.6v9.3M1365.8 416.6v9.3M1490.4 416.6v9.3M1615 416.6v9.3M1739.6 416.6v9.3M1864.2 416.6v9.3M120.1 400.4h-12.3M120.1 298.2h-12.3M120.1 196h-12.3M120.1 93.8h-12.3M169.8 794.3v11.8M294.4 794.3v11.8M419 794.3v11.8M543.6 794.3v11.8M668.2 794.3v11.8M768.1 794.3v11.8M892.7 794.3v11.8M1017.3 794.3v11.8M1141.9 794.3v11.8M1266.5 794.3v11.8M1365.8 794.3v11.8M1490.4 794.3v11.8M1615 794.3v11.8M1739.6 794.3v11.8M1864.2 794.3v11.8M120.1 778.1h-12.3M120.1 675.9h-12.3M120.1 573.7h-12.3M120.1 471.5h-12.3M169.8 1172v13.1M294.4 1172v13.1M419 1172v13.1M543.6 1172v13.1M668.2 1172v13.1M768.1 1172v13.1M892.7 1172v13.1M1017.3 1172v13.1M1141.9 1172v13.1M1266.5 1172v13.1M1365.8 1172v13.1M1490.4 1172v13.1M1615 1172v13.1M1739.6 1172v13.1M1864.2 1172v13.1M120.1 1155.9h-12.3M120.1 1053.7h-12.3M120.1 951.5h-12.3M120.1 849.3h-12.3M169.8 1549.7v11.8M294.4 1549.7v11.8M419 1549.7v11.8M543.6 1549.7v11.8M668.2 1549.7v11.8M768.1 1549.7v11.8M892.7 1549.7v11.8M1017.3 1549.7v11.8M1141.9 1549.7v11.8M1266.5 1549.7v11.8M1365.8 1549.7v11.8M1490.4 1549.7v11.8M1615 1549.7v11.8M1739.6 1549.7v11.8M1864.2 1549.7v11.8M120.1 1533.6h-12.3M120.1 1431.4h-12.3M120.1 1329.2h-12.3M120.1 1227h-12.3" fill="none" stroke="#0c0c0c" stroke-width="3.5"/>
<g style="font-family:'Liberation Sans',Arial,Helvetica,sans-serif;font-size:38px" fill="#222">
<g text-anchor="end">
<text x="98.8" y="413.2">0</text>
<text x="98.8" y="311">20</text>
<text x="98.8" y="208.8">40</text>
<text x="98.8" y="106.6">60</text>
<text x="98.8" y="790.9">0</text>
<text x="98.8" y="688.7">20</text>
<text x="98.8" y="586.5">40</text>
<text x="98.8" y="484.3">60</text>
<text x="98.8" y="1168.7">0</text>
<text x="98.8" y="1066.5">20</text>
<text x="98.8" y="964.3">40</text>
<text x="98.8" y="862.1">60</text>
<text x="98.8" y="1546.4">0</text>
<text x="98.8" y="1444.2">20</text>
<text x="98.8" y="1342">40</text>
<text x="98.8" y="1239.8">60</text>
</g><g text-anchor="middle">
<text x="169.8" y="1596">2020</text>
<text x="294.4" y="1596">2040</text>
<text x="419" y="1596">2060</text>
<text x="543.6" y="1596">2080</text>
<text x="668.2" y="1596">2100</text>
<text x="768.1" y="1596">2020</text>
<text x="892.7" y="1596">2040</text>
<text x="1017.3" y="1596">2060</text>
<text x="1141.9" y="1596">2080</text>
<text x="1266.5" y="1596">2100</text>
<text x="1365.8" y="1596">2020</text>
<text x="1490.4" y="1596">2040</text>
<text x="1615" y="1596">2060</text>
<text x="1739.6" y="1596">2080</text>
<text x="1864.2" y="1596">2100</text>
</g></g>
<text x="1005" y="1652" text-anchor="middle" textLength="92.7" lengthAdjust="spacingAndGlyphs" style="font-family:'Liberation Sans',Arial,Helvetica,sans-serif;font-size:49.5px" fill="#000">Year</text>
<text transform="translate(35.8 803.7) rotate(-90)" text-anchor="middle" textLength="323" lengthAdjust="spacingAndGlyphs" style="font-family:'Liberation Sans',Arial,Helvetica,sans-serif;font-size:49.5px" fill="#000">Coral Cover (%)</text>
<text x="230.5" y="35" textLength="297.4" lengthAdjust="spacingAndGlyphs" style="font-family:'Liberation Sans',Arial,Helvetica,sans-serif;font-size:49px;font-weight:bold" fill="#000">Florida Keys</text>
<text x="927.5" y="35" textLength="170.5" lengthAdjust="spacingAndGlyphs" style="font-family:'Liberation Sans',Arial,Helvetica,sans-serif;font-size:49px;font-weight:bold" fill="#000">Mexico</text>
<text x="1496.3" y="35" textLength="185" lengthAdjust="spacingAndGlyphs" style="font-family:'Liberation Sans',Arial,Helvetica,sans-serif;font-size:49px;font-weight:bold" fill="#000">Bonaire</text>
<g style="font-family:'Liberation Sans',Arial,Helvetica,sans-serif;font-size:49px" fill="#000" stroke="#000" stroke-width=".45">
<text x="140" y="125"><tspan textLength="75" lengthAdjust="spacingAndGlyphs">SSP</tspan><tspan textLength="101" lengthAdjust="spacingAndGlyphs">1-2.6</tspan></text>
<text x="140" y="500.2"><tspan textLength="75" lengthAdjust="spacingAndGlyphs">SSP</tspan><tspan textLength="101" lengthAdjust="spacingAndGlyphs">2-4.5</tspan></text>
<text x="140" y="877.3"><tspan textLength="75" lengthAdjust="spacingAndGlyphs">SSP</tspan><tspan textLength="101" lengthAdjust="spacingAndGlyphs">3-7.0</tspan></text>
<text x="140" y="1252.3"><tspan textLength="75" lengthAdjust="spacingAndGlyphs">SSP</tspan><tspan textLength="101" lengthAdjust="spacingAndGlyphs">5-8.5</tspan></text>
<text x="737.2" y="116.7"><tspan textLength="75" lengthAdjust="spacingAndGlyphs">SSP</tspan><tspan textLength="101" lengthAdjust="spacingAndGlyphs">1-2.6</tspan></text>
<text x="737.2" y="494.5"><tspan textLength="75" lengthAdjust="spacingAndGlyphs">SSP</tspan><tspan textLength="101" lengthAdjust="spacingAndGlyphs">2-4.5</tspan></text>
<text x="737.2" y="871.7"><tspan textLength="75" lengthAdjust="spacingAndGlyphs">SSP</tspan><tspan textLength="101" lengthAdjust="spacingAndGlyphs">3-7.0</tspan></text>
<text x="737.2" y="1246.7"><tspan textLength="75" lengthAdjust="spacingAndGlyphs">SSP</tspan><tspan textLength="101" lengthAdjust="spacingAndGlyphs">5-8.5</tspan></text>
<text x="1342.4" y="116.7"><tspan textLength="75" lengthAdjust="spacingAndGlyphs">SSP</tspan><tspan textLength="101" lengthAdjust="spacingAndGlyphs">1-2.6</tspan></text>
<text x="1342.4" y="494.5"><tspan textLength="75" lengthAdjust="spacingAndGlyphs">SSP</tspan><tspan textLength="101" lengthAdjust="spacingAndGlyphs">2-4.5</tspan></text>
<text x="1342.4" y="871.7"><tspan textLength="75" lengthAdjust="spacingAndGlyphs">SSP</tspan><tspan textLength="101" lengthAdjust="spacingAndGlyphs">3-7.0</tspan></text>
<text x="1342.4" y="1246.7"><tspan textLength="75" lengthAdjust="spacingAndGlyphs">SSP</tspan><tspan textLength="101" lengthAdjust="spacingAndGlyphs">5-8.5</tspan></text>
<text x="1916.5" y="120.8" textLength="179" lengthAdjust="spacingAndGlyphs" style="font-size:48.5px">Scenario</text>
<text x="1991.8" y="186.2"><tspan textLength="75" lengthAdjust="spacingAndGlyphs">SSP</tspan><tspan textLength="101" lengthAdjust="spacingAndGlyphs">1-2.6</tspan></text>
<text x="1991.8" y="256.1"><tspan textLength="75" lengthAdjust="spacingAndGlyphs">SSP</tspan><tspan textLength="101" lengthAdjust="spacingAndGlyphs">2-4.5</tspan></text>
<text x="1991.8" y="326"><tspan textLength="75" lengthAdjust="spacingAndGlyphs">SSP</tspan><tspan textLength="101" lengthAdjust="spacingAndGlyphs">3-7.0</tspan></text>
<text x="1991.8" y="395.9"><tspan textLength="75" lengthAdjust="spacingAndGlyphs">SSP</tspan><tspan textLength="101" lengthAdjust="spacingAndGlyphs">5-8.5</tspan></text>
</g>
<path d="M1920.4 164.2H1977.4" stroke="#dddddd" stroke-width="8.4" fill="none"/>
<path d="M1920.4 235.7H1977.4" stroke="#b5ee60" stroke-width="8.4" fill="none"/>
<path d="M1920.4 307.2H1977.4" stroke="#dd7325" stroke-width="8.4" fill="none"/>
<path d="M1920.4 378.7H1977.4" stroke="#d82c24" stroke-width="8.4" fill="none"/>
</svg>
</body></html>
